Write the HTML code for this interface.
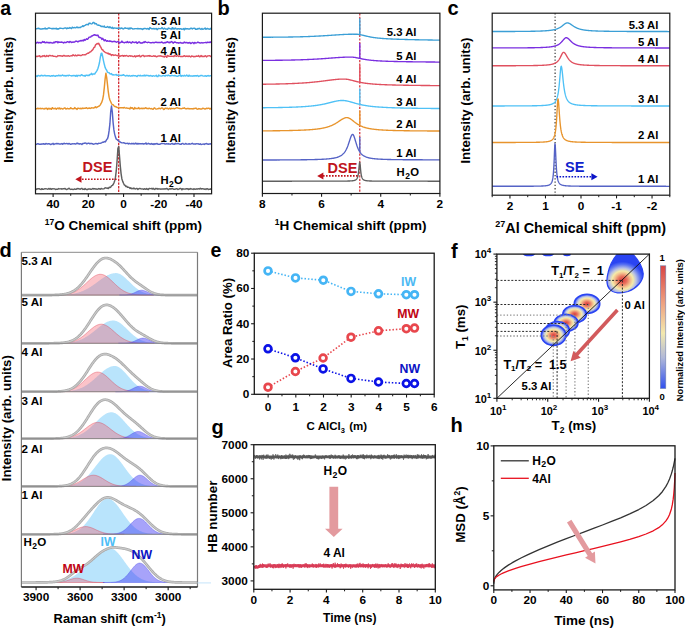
<!DOCTYPE html>
<html><head><meta charset="utf-8"><style>
html,body{margin:0;padding:0;background:#fff;}
svg{display:block;}
</style></head><body>
<svg width="685" height="628" viewBox="0 0 685 628" font-family="&apos;Liberation Sans&apos;, sans-serif" font-weight="bold">
<rect width="685" height="628" fill="#fff"/>
<text x="0.3" y="14.8" font-size="19.5" text-anchor="start" fill="#000" >a</text>
<line x1="118.7" y1="13.2" x2="118.7" y2="193.8" stroke="#d01820" stroke-width="1.2" stroke-dasharray="2.4,1.2"/>
<polyline points="35.5,28.58 36.3,28.88 37.1,28.58 37.9,28.54 38.7,28.29 39.5,28.57 40.3,29.11 41.1,28.82 41.9,29.07 42.7,28.74 43.5,28.8 44.3,28.71 45.1,27.95 45.9,28.97 46.7,28.82 47.5,28.81 48.3,27.92 49.1,27.89 49.9,28.23 50.7,28.39 51.5,28.69 52.3,28.54 53.1,28.76 53.9,28.28 54.7,28.66 55.5,28.68 56.3,28.24 57.1,29.19 57.9,28.71 58.7,28.95 59.5,28.2 60.3,28.14 61.1,28.28 61.9,28.36 62.7,28.64 63.5,28.46 64.3,28.15 65.1,27.92 65.9,28.07 66.7,28.75 67.5,27.89 68.3,28.29 69.1,28.32 69.9,27.5 70.7,28.08 71.5,28.54 72.3,27.14 73.1,27.77 73.9,27.79 74.7,27.43 75.5,27.88 76.3,27.56 77.1,26.9 77.9,27.71 78.7,27.53 79.5,27.5 80.3,27.55 81.1,26.94 81.9,26.65 82.7,25.86 83.5,26.39 84.3,25.64 85.1,25.41 85.9,24.78 86.7,24.57 87.5,24.41 88.3,24.82 89.1,23.16 89.9,23.12 90.7,23.59 91.5,23.93 92.3,23.53 93.1,22.57 93.9,22.43 94.7,23.77 95.5,23.56 96.3,23.67 97.1,24.81 97.9,25.16 98.7,25.08 99.5,25.41 100.3,25.76 101.1,26.49 101.9,26.33 102.7,26.51 103.5,26.72 104.3,26.05 105.1,27.37 105.9,27.38 106.7,27.35 107.5,26.46 108.3,27.11 109.1,27.81 109.9,26.83 110.7,27.57 111.5,28.13 112.3,27.26 113.1,28.5 113.9,28.13 114.7,27.9 115.5,28.14 116.3,28.32 117.1,28.14 117.9,28.6 118.7,27.9 119.5,28.03 120.3,28.65 121.1,28.27 121.9,27.93 122.7,28.69 123.5,28.93 124.3,28.17 125.1,27.82 125.9,28.34 126.7,28.35 127.5,28.31 128.3,29.01 129.1,28.04 129.9,28.98 130.7,27.97 131.5,28.18 132.3,28.76 133.1,28.97 133.9,28.88 134.7,28.68 135.5,28.6 136.3,28.62 137.1,28.8 137.9,28.5 138.7,28.69 139.5,28.82 140.3,28.59 141.1,28.91 141.9,28.83 142.7,29.43 143.5,28.75 144.3,28.45 145.1,28.48 145.9,28.63 146.7,29.01 147.5,28.51 148.3,28.8 149.1,29.39 149.9,27.62 150.7,28.2 151.5,28.76 152.3,28.83 153.1,28.77 153.9,28.5 154.7,28.94 155.5,28.79 156.3,28.47 157.1,29.67 157.9,28.83 158.7,28.47 159.5,28.65 160.3,28.6 161.1,28.67 161.9,27.59 162.7,28.5 163.5,29.11 164.3,28.23 165.1,28.68 165.9,29.1 166.7,29.06 167.5,29.32 168.3,28.03 169.1,28.57 169.9,28.58 170.7,28.97 171.5,29.16 172.3,27.64 173.1,29.17 173.9,28.14 174.7,29 175.5,28.12 176.3,28.8 177.1,29.22 177.9,28.67 178.7,28.81 179.5,29.06 180.3,28.79 181.1,28.7 181.9,29.36 182.7,29.16 183.5,28.62 184.3,29.85 185.1,28.28 185.9,29.11 186.7,28.64 187.5,28.8 188.3,29.03 189.1,28.84 189.9,29.01 190.7,28.13 191.5,28.14 192.3,29 193.1,28.36 193.9,28.34 194.7,28.16 195.5,29.27 196.3,29.06 197.1,29.35 197.9,28.38 198.7,28.76 199.5,28.3 200.3,29.07 201.1,29.4 201.9,28.4 202.7,29.39 203.5,29.16 204.3,28.69 205.1,27.96 205.9,29.33 206.7,28.72 207.5,28.52 208.3,28.93 209.1,28.93 209.9,29.37 210.7,28.35 211.5,29.23" fill="none" stroke="#3b9fd6" stroke-width="1.45" stroke-linejoin="round" />
<polyline points="35.5,43.11 36.3,43.09 37.1,42.43 37.9,42.2 38.7,42.91 39.5,42.54 40.3,42.54 41.1,43.06 41.9,42.37 42.7,41.55 43.5,42.32 44.3,41.72 45.1,42.8 45.9,42.59 46.7,42.21 47.5,42.45 48.3,42.78 49.1,42.47 49.9,42.97 50.7,42.41 51.5,42.85 52.3,43.02 53.1,43.06 53.9,42.13 54.7,42.75 55.5,41.63 56.3,41.94 57.1,41.57 57.9,42.79 58.7,41.85 59.5,42.33 60.3,42.25 61.1,42.3 61.9,42.06 62.7,42.38 63.5,42.99 64.3,42.27 65.1,42.45 65.9,42.62 66.7,42.11 67.5,41.66 68.3,41.92 69.1,42.55 69.9,41.42 70.7,41.82 71.5,42.43 72.3,42.3 73.1,41.94 73.9,42.22 74.7,41.91 75.5,41.31 76.3,41.09 77.1,41.39 77.9,41.94 78.7,41.25 79.5,41.01 80.3,40.95 81.1,40.51 81.9,40.93 82.7,40.33 83.5,40.76 84.3,39.43 85.1,40.25 85.9,39.56 86.7,38.68 87.5,39.36 88.3,38.49 89.1,37.17 89.9,37.14 90.7,36.99 91.5,36.05 92.3,35.95 93.1,35.41 93.9,35.02 94.7,34.73 95.5,35.22 96.3,35.22 97.1,35.56 97.9,35.07 98.7,36.86 99.5,37.62 100.3,37.53 101.1,37.99 101.9,39.44 102.7,38.37 103.5,39.65 104.3,40.77 105.1,39.7 105.9,40.6 106.7,41.31 107.5,40.69 108.3,41.13 109.1,41.42 109.9,40.82 110.7,41.27 111.5,41.52 112.3,41.83 113.1,41.56 113.9,41.57 114.7,41.31 115.5,41.63 116.3,42.19 117.1,41.92 117.9,41.58 118.7,41.63 119.5,43.09 120.3,42.5 121.1,42.33 121.9,41.05 122.7,42.38 123.5,42.35 124.3,42.86 125.1,42.37 125.9,42.19 126.7,42.44 127.5,41.46 128.3,42.68 129.1,42.41 129.9,42.01 130.7,42.84 131.5,43.05 132.3,41.76 133.1,42.07 133.9,42.47 134.7,42.44 135.5,42.21 136.3,41.98 137.1,43.25 137.9,42.81 138.7,41.92 139.5,41.86 140.3,43.1 141.1,42.82 141.9,43.16 142.7,42.76 143.5,42.08 144.3,42.55 145.1,41.57 145.9,42.15 146.7,42.43 147.5,42.67 148.3,42.17 149.1,42.42 149.9,42.66 150.7,42.63 151.5,42.74 152.3,42.57 153.1,42.36 153.9,42.81 154.7,42.51 155.5,42.16 156.3,42.24 157.1,42.5 157.9,42.46 158.7,42.57 159.5,42.51 160.3,42.58 161.1,42.46 161.9,42 162.7,42.69 163.5,42.94 164.3,42.7 165.1,42.44 165.9,42.7 166.7,42.13 167.5,41.76 168.3,42.55 169.1,42.15 169.9,42.83 170.7,42.09 171.5,41.47 172.3,42.11 173.1,43.18 173.9,42.38 174.7,41.98 175.5,42.23 176.3,42.75 177.1,42.74 177.9,42.62 178.7,43.15 179.5,42.83 180.3,42.54 181.1,42.79 181.9,43.22 182.7,42.94 183.5,42.97 184.3,42.11 185.1,42.49 185.9,42.85 186.7,42.43 187.5,42.99 188.3,42.8 189.1,42.92 189.9,42.47 190.7,43.59 191.5,43.06 192.3,42.47 193.1,42.6 193.9,43.61 194.7,42.42 195.5,42.92 196.3,42.96 197.1,42.57 197.9,42.09 198.7,42.64 199.5,42.71 200.3,43.02 201.1,42.88 201.9,42.58 202.7,42.91 203.5,42.79 204.3,42.65 205.1,42.59 205.9,42.47 206.7,42.85 207.5,42.14 208.3,42.32 209.1,42.57 209.9,41.98 210.7,42.39 211.5,41.76" fill="none" stroke="#7a2fe0" stroke-width="1.45" stroke-linejoin="round" />
<polyline points="35.5,55.95 36.3,56.45 37.1,56.45 37.9,56.19 38.7,56.12 39.5,55.64 40.3,56.95 41.1,56.42 41.9,56.65 42.7,55.84 43.5,56.12 44.3,55.46 45.1,56.51 45.9,56.57 46.7,55.42 47.5,56.16 48.3,56.43 49.1,55.46 49.9,55.43 50.7,55.73 51.5,55.91 52.3,55.59 53.1,56.16 53.9,56.25 54.7,56.4 55.5,56.42 56.3,56.73 57.1,56.59 57.9,55.58 58.7,55.9 59.5,55.67 60.3,55.65 61.1,56.04 61.9,56.07 62.7,56.26 63.5,55.4 64.3,55.53 65.1,56.01 65.9,55.92 66.7,55.86 67.5,55.95 68.3,55.65 69.1,56.22 69.9,56.06 70.7,55.86 71.5,55.6 72.3,55.77 73.1,54.71 73.9,55.38 74.7,55.76 75.5,55.09 76.3,55.74 77.1,55.67 77.9,55 78.7,55.39 79.5,55.3 80.3,55.53 81.1,55.51 81.9,55.14 82.7,54.7 83.5,54.85 84.3,54.73 85.1,54.87 85.9,54.48 86.7,53.81 87.5,53.26 88.3,53.29 89.1,52.71 89.9,52.03 90.7,51.79 91.5,50.86 92.3,50.16 93.1,49.21 93.9,47.54 94.7,47.27 95.5,44.86 96.3,44.38 97.1,43.47 97.9,44 98.7,43.2 99.5,44.82 100.3,46.38 101.1,47.71 101.9,49.54 102.7,49.75 103.5,51.02 104.3,51.58 105.1,52.3 105.9,52.67 106.7,52.86 107.5,53.52 108.3,53.21 109.1,54.41 109.9,53.76 110.7,54.48 111.5,55.42 112.3,54.63 113.1,54.87 113.9,55.45 114.7,55.1 115.5,54.86 116.3,55.37 117.1,55.58 117.9,55.7 118.7,55.16 119.5,56.24 120.3,56.25 121.1,55.63 121.9,55.77 122.7,55.53 123.5,56.31 124.3,55.48 125.1,56.07 125.9,55.63 126.7,55.57 127.5,56.16 128.3,56.43 129.1,55.91 129.9,55.66 130.7,56.28 131.5,55.94 132.3,56.1 133.1,56.61 133.9,56.46 134.7,55.81 135.5,56.95 136.3,56.04 137.1,56.37 137.9,55.8 138.7,56.05 139.5,55.37 140.3,56.81 141.1,56.65 141.9,55.61 142.7,55.5 143.5,55.46 144.3,56.6 145.1,55.94 145.9,56.11 146.7,56.01 147.5,56.09 148.3,55.71 149.1,56.16 149.9,55.57 150.7,56.13 151.5,56.29 152.3,56.36 153.1,56.08 153.9,55.81 154.7,56.24 155.5,55.99 156.3,56.82 157.1,56.5 157.9,56.14 158.7,56 159.5,55.91 160.3,55.82 161.1,56.06 161.9,56.32 162.7,56.41 163.5,56.44 164.3,57.06 165.1,55.93 165.9,56.22 166.7,57.35 167.5,55.46 168.3,56.01 169.1,56.29 169.9,56.29 170.7,56.39 171.5,56.13 172.3,56.38 173.1,56.25 173.9,56.54 174.7,55.47 175.5,55.88 176.3,56.23 177.1,55.82 177.9,55.81 178.7,56.49 179.5,55.98 180.3,56.5 181.1,56.54 181.9,56.37 182.7,56.45 183.5,56.2 184.3,55.68 185.1,56.24 185.9,56.43 186.7,56.04 187.5,56.21 188.3,56.55 189.1,55.9 189.9,56.51 190.7,57.01 191.5,56.03 192.3,56.31 193.1,56.2 193.9,56.88 194.7,56.39 195.5,56.62 196.3,55.98 197.1,56.25 197.9,56.26 198.7,55.54 199.5,56.84 200.3,56.63 201.1,55.55 201.9,56.56 202.7,56.21 203.5,56.45 204.3,56.41 205.1,55.66 205.9,56.18 206.7,56.87 207.5,56.03 208.3,55.85 209.1,55.72 209.9,55.77 210.7,56.4 211.5,56.95" fill="none" stroke="#e0505f" stroke-width="1.45" stroke-linejoin="round" />
<polyline points="35.5,75.92 36.3,75.86 37.1,76.57 37.9,75.58 38.7,75.52 39.5,75.96 40.3,75.96 41.1,75.4 41.9,75.34 42.7,75.87 43.5,75.85 44.3,75.29 45.1,75.69 45.9,75.56 46.7,75.92 47.5,75.71 48.3,75.72 49.1,75.62 49.9,76.13 50.7,76.25 51.5,75.62 52.3,76.05 53.1,75.47 53.9,75.77 54.7,76.01 55.5,76.28 56.3,75.6 57.1,75.71 57.9,75.8 58.7,75.19 59.5,75.73 60.3,75.48 61.1,75.85 61.9,75.31 62.7,75 63.5,75.72 64.3,75.8 65.1,75.5 65.9,76.02 66.7,75.59 67.5,75.47 68.3,75.85 69.1,75.11 69.9,75.42 70.7,75.65 71.5,75.96 72.3,75.59 73.1,75.75 73.9,75.39 74.7,75.73 75.5,76.21 76.3,75.35 77.1,76.43 77.9,75.33 78.7,75.56 79.5,75.59 80.3,75.88 81.1,75.04 81.9,74.71 82.7,75.65 83.5,75.69 84.3,75.59 85.1,76.27 85.9,75.34 86.7,75.3 87.5,75.48 88.3,75.2 89.1,75.57 89.9,74.41 90.7,74.59 91.5,73.31 92.3,74.63 93.1,73.94 93.9,74.06 94.7,74.04 95.5,72.64 96.3,71.69 97.1,70.37 97.9,68.45 98.7,65.87 99.5,62.52 100.3,57.49 101.1,53.54 101.9,53.3 102.7,56.78 103.5,60.81 104.3,64.3 105.1,67.41 105.9,69.14 106.7,70.24 107.5,72.23 108.3,72.65 109.1,72.72 109.9,73.9 110.7,73.98 111.5,73.57 112.3,74.94 113.1,74.66 113.9,75.01 114.7,74.89 115.5,74.87 116.3,74.45 117.1,75.44 117.9,75.16 118.7,75.11 119.5,75.39 120.3,75.33 121.1,75.59 121.9,75.24 122.7,75.39 123.5,74.66 124.3,75.31 125.1,75.73 125.9,75.98 126.7,75.39 127.5,75.49 128.3,76.12 129.1,75.45 129.9,75.84 130.7,76.2 131.5,75.62 132.3,76.05 133.1,75.37 133.9,75.71 134.7,75.61 135.5,75.69 136.3,76.06 137.1,76.52 137.9,75.43 138.7,75.46 139.5,75.86 140.3,75.3 141.1,75.87 141.9,75.9 142.7,75.59 143.5,75.89 144.3,75.14 145.1,75.98 145.9,75.15 146.7,75.46 147.5,75.52 148.3,75.57 149.1,76.03 149.9,75.75 150.7,75.58 151.5,75.92 152.3,76.3 153.1,75.73 153.9,75.87 154.7,76.18 155.5,75.84 156.3,75.28 157.1,76.64 157.9,76.54 158.7,75.03 159.5,75.73 160.3,75.9 161.1,76.1 161.9,75.99 162.7,75.65 163.5,75.37 164.3,75.79 165.1,76.13 165.9,75.36 166.7,75.39 167.5,75.75 168.3,75.06 169.1,75.67 169.9,75.6 170.7,75.92 171.5,75.51 172.3,75.45 173.1,75.62 173.9,75.75 174.7,75.53 175.5,75.77 176.3,76.04 177.1,76.2 177.9,76.38 178.7,75.49 179.5,75.62 180.3,74.88 181.1,76.46 181.9,75.51 182.7,75.76 183.5,75.96 184.3,75.28 185.1,75.94 185.9,75.77 186.7,75.12 187.5,75.88 188.3,76.21 189.1,75.1 189.9,76.07 190.7,75.85 191.5,75.95 192.3,75.94 193.1,76.25 193.9,75.7 194.7,76.09 195.5,75.63 196.3,76.04 197.1,75.49 197.9,75.74 198.7,76.4 199.5,75.94 200.3,75.72 201.1,75.37 201.9,75.5 202.7,75.85 203.5,76.12 204.3,75.94 205.1,75.97 205.9,75.77 206.7,76.27 207.5,75.64 208.3,75.59 209.1,76.1 209.9,75.81 210.7,75.68 211.5,75.58" fill="none" stroke="#4fc1f6" stroke-width="1.45" stroke-linejoin="round" />
<polyline points="35.5,108.48 36.3,108.8 37.1,108.7 37.9,108.14 38.7,108.73 39.5,108.64 40.3,108.21 41.1,108.85 41.9,108.47 42.7,108.45 43.5,108.85 44.3,109.04 45.1,108.32 45.9,108.72 46.7,108.25 47.5,109.4 48.3,108.38 49.1,108.99 49.9,108.33 50.7,108.85 51.5,109.36 52.3,107.64 53.1,108.4 53.9,108.73 54.7,108.52 55.5,108.31 56.3,109.32 57.1,108.58 57.9,107.95 58.7,108.85 59.5,107.92 60.3,108.95 61.1,108.33 61.9,108.59 62.7,108.99 63.5,108.57 64.3,108.03 65.1,107.91 65.9,108.95 66.7,108.78 67.5,108.22 68.3,108.82 69.1,108.69 69.9,108.74 70.7,107.69 71.5,108.38 72.3,108.81 73.1,108.75 73.9,108.79 74.7,107.59 75.5,108.52 76.3,108.63 77.1,109.37 77.9,108.1 78.7,108.31 79.5,108.43 80.3,108.73 81.1,108.24 81.9,108.8 82.7,108.08 83.5,108.45 84.3,108.14 85.1,108.37 85.9,108.04 86.7,107.69 87.5,108.62 88.3,108.31 89.1,107.96 89.9,108.19 90.7,108.42 91.5,107.65 92.3,107.89 93.1,108.04 93.9,107.93 94.7,107.5 95.5,106.71 96.3,107.73 97.1,107.16 97.9,106.74 98.7,106.22 99.5,105.86 100.3,104.83 101.1,103.49 101.9,101.89 102.7,99.26 103.5,94.9 104.3,87.7 105.1,79.1 105.9,73.13 106.7,77.61 107.5,84.65 108.3,91.97 109.1,97.17 109.9,99.98 110.7,101.8 111.5,103.57 112.3,104.65 113.1,104.73 113.9,105.71 114.7,106.42 115.5,106.53 116.3,107 117.1,107.45 117.9,107.64 118.7,107.83 119.5,107.84 120.3,107.63 121.1,107.81 121.9,107.79 122.7,107.84 123.5,107.95 124.3,107.44 125.1,107.98 125.9,108.13 126.7,107.83 127.5,108.2 128.3,108.42 129.1,108.2 129.9,109.03 130.7,107.36 131.5,108.25 132.3,107.68 133.1,108.7 133.9,109.32 134.7,107.48 135.5,108.44 136.3,108.59 137.1,108.3 137.9,108.62 138.7,107.62 139.5,108.74 140.3,108.58 141.1,108.46 141.9,108.25 142.7,108.69 143.5,108.29 144.3,108.56 145.1,108.3 145.9,107.68 146.7,108.48 147.5,108.57 148.3,108.77 149.1,108.19 149.9,108.49 150.7,108.73 151.5,108.56 152.3,108.96 153.1,109.23 153.9,108.19 154.7,107.83 155.5,108.83 156.3,109.08 157.1,108.86 157.9,108.82 158.7,108.31 159.5,108.28 160.3,108.86 161.1,108.21 161.9,107.89 162.7,108.18 163.5,109.44 164.3,109.24 165.1,108.3 165.9,108.29 166.7,108.63 167.5,108.28 168.3,109.02 169.1,108.53 169.9,108.16 170.7,109.03 171.5,108.35 172.3,108.64 173.1,108.55 173.9,108.45 174.7,108.68 175.5,108.31 176.3,107.9 177.1,107.77 177.9,108.11 178.7,108.29 179.5,108.56 180.3,108.59 181.1,108.77 181.9,108.61 182.7,108.28 183.5,108.31 184.3,107.81 185.1,108.51 185.9,108.75 186.7,108.76 187.5,108.53 188.3,108.51 189.1,108.91 189.9,108.58 190.7,108.84 191.5,108.78 192.3,108.65 193.1,109.05 193.9,108.37 194.7,108.45 195.5,108.29 196.3,108.29 197.1,109.14 197.9,109.21 198.7,108.59 199.5,108.78 200.3,109 201.1,108.87 201.9,109.01 202.7,108.13 203.5,108.35 204.3,108.74 205.1,109.1 205.9,108.62 206.7,108.27 207.5,108.45 208.3,108.34 209.1,108.27 209.9,109.12 210.7,108.36 211.5,108.59" fill="none" stroke="#e8942c" stroke-width="1.45" stroke-linejoin="round" />
<polyline points="35.5,144.56 36.3,144.26 37.1,143.99 37.9,143.69 38.7,144.01 39.5,144.39 40.3,144.08 41.1,144.28 41.9,143.91 42.7,144.04 43.5,143.82 44.3,144.01 45.1,144.29 45.9,143.43 46.7,143.86 47.5,143.95 48.3,143.7 49.1,143.78 49.9,144.12 50.7,144.5 51.5,144.07 52.3,143.97 53.1,143.38 53.9,144.48 54.7,143.89 55.5,143.86 56.3,143.52 57.1,143.85 57.9,143.52 58.7,143.89 59.5,144.01 60.3,143.87 61.1,143.95 61.9,143.59 62.7,144.31 63.5,143.65 64.3,143.28 65.1,143.79 65.9,143.61 66.7,143.53 67.5,143.74 68.3,143.94 69.1,143.47 69.9,143.8 70.7,144.29 71.5,144.05 72.3,143.79 73.1,143.87 73.9,143.79 74.7,143.81 75.5,144.05 76.3,143.79 77.1,143.06 77.9,143.81 78.7,143.53 79.5,144.01 80.3,143.61 81.1,143.84 81.9,144.47 82.7,143.45 83.5,143.42 84.3,143.32 85.1,143 85.9,143.16 86.7,143.85 87.5,143.53 88.3,143.13 89.1,143.24 89.9,143.88 90.7,143.43 91.5,143.54 92.3,143.74 93.1,144.03 93.9,144.19 94.7,143.87 95.5,143.56 96.3,143.53 97.1,143.99 97.9,143.82 98.7,143.2 99.5,143.36 100.3,143.2 101.1,143.01 101.9,142.68 102.7,142.22 103.5,142.21 104.3,141.55 105.1,141.95 105.9,141.06 106.7,139.51 107.5,138.78 108.3,136.06 109.1,130.71 109.9,123.94 110.7,111.76 111.5,106.06 112.3,111.99 113.1,122.63 113.9,129.9 114.7,134.35 115.5,137.13 116.3,139.19 117.1,139.57 117.9,140.47 118.7,141.01 119.5,141.71 120.3,142.03 121.1,142.59 121.9,142.76 122.7,142.85 123.5,142.76 124.3,142.94 125.1,143.47 125.9,143.49 126.7,143.35 127.5,143.27 128.3,143.91 129.1,143.27 129.9,143.7 130.7,143.89 131.5,143.47 132.3,143.84 133.1,143.25 133.9,143.95 134.7,143.71 135.5,143.16 136.3,143.89 137.1,143.41 137.9,144.11 138.7,143.5 139.5,143.67 140.3,143.82 141.1,143.64 141.9,143.83 142.7,143.58 143.5,143.98 144.3,143.77 145.1,143.84 145.9,142.92 146.7,144.15 147.5,143.8 148.3,143.24 149.1,143.83 149.9,143.95 150.7,144.15 151.5,143.47 152.3,144.3 153.1,143.77 153.9,144.58 154.7,143.78 155.5,144.04 156.3,143.72 157.1,143.48 157.9,144.18 158.7,144.12 159.5,144.32 160.3,144.11 161.1,143.66 161.9,143.32 162.7,143.64 163.5,143.64 164.3,143.59 165.1,144.04 165.9,143.96 166.7,143.77 167.5,143.91 168.3,143.81 169.1,143.93 169.9,144.1 170.7,144.16 171.5,143.65 172.3,143.39 173.1,144.31 173.9,143.9 174.7,144.21 175.5,143.35 176.3,143.76 177.1,143.88 177.9,143.41 178.7,143.71 179.5,144.1 180.3,144.21 181.1,144.37 181.9,143.6 182.7,143.43 183.5,144.04 184.3,144.17 185.1,143.94 185.9,143.46 186.7,144.12 187.5,144.13 188.3,144.05 189.1,143.72 189.9,143.97 190.7,144.13 191.5,143.7 192.3,143.3 193.1,143.98 193.9,144.03 194.7,143.88 195.5,144.16 196.3,143.7 197.1,143.86 197.9,143.79 198.7,144.06 199.5,144.38 200.3,143.8 201.1,144.53 201.9,144.36 202.7,144.13 203.5,144.07 204.3,144.44 205.1,143.83 205.9,143.85 206.7,143.55 207.5,144.03 208.3,144.31 209.1,144.05 209.9,144.02 210.7,143.82 211.5,143.94" fill="none" stroke="#5563c6" stroke-width="1.45" stroke-linejoin="round" />
<polyline points="35.5,188.63 36.3,189.41 37.1,188.95 37.9,188.73 38.7,188.84 39.5,188.82 40.3,189.35 41.1,189.41 41.9,188.65 42.7,189.37 43.5,189.35 44.3,188.89 45.1,188.61 45.9,188.84 46.7,188.87 47.5,189.18 48.3,188.96 49.1,188.43 49.9,189.14 50.7,188.59 51.5,189.35 52.3,188.69 53.1,188.85 53.9,188.8 54.7,188.89 55.5,189.47 56.3,189.33 57.1,189.25 57.9,189.16 58.7,188.57 59.5,188.9 60.3,188.88 61.1,188.75 61.9,189.22 62.7,188.82 63.5,188.83 64.3,188.72 65.1,188.4 65.9,189.24 66.7,189.47 67.5,189.1 68.3,188.74 69.1,188.19 69.9,189.09 70.7,189.42 71.5,189.13 72.3,189.33 73.1,189.5 73.9,189.38 74.7,188.89 75.5,189.36 76.3,189.27 77.1,188.53 77.9,188.89 78.7,188.56 79.5,188.97 80.3,189.19 81.1,188.66 81.9,188.35 82.7,189.4 83.5,189.1 84.3,189.44 85.1,188.56 85.9,189.3 86.7,189.61 87.5,189.59 88.3,188.88 89.1,189.02 89.9,188.88 90.7,189.23 91.5,189.23 92.3,188.92 93.1,188.45 93.9,189.1 94.7,188.7 95.5,189.03 96.3,188.9 97.1,189.3 97.9,189.13 98.7,188.6 99.5,188.82 100.3,189.23 101.1,188.47 101.9,188.73 102.7,188.91 103.5,188.87 104.3,188.57 105.1,187.9 105.9,187.82 106.7,188.17 107.5,188.07 108.3,188.57 109.1,187.26 109.9,187.6 110.7,187.09 111.5,185.81 112.3,185.37 113.1,184.66 113.9,182.96 114.7,180.75 115.5,177.18 116.3,170.46 117.1,160.72 117.9,148.61 118.7,146.48 119.5,155.95 120.3,166.11 121.1,173.81 121.9,178.92 122.7,181.39 123.5,183.27 124.3,184.86 125.1,185.43 125.9,186.56 126.7,186.31 127.5,187.3 128.3,187.24 129.1,187.38 129.9,188.38 130.7,187.71 131.5,188.66 132.3,188.43 133.1,188.77 133.9,188.08 134.7,188.83 135.5,188.97 136.3,188.53 137.1,188.57 137.9,189.42 138.7,188.74 139.5,188.58 140.3,188.54 141.1,188.91 141.9,188.89 142.7,188.86 143.5,189.37 144.3,188.74 145.1,189.01 145.9,189.33 146.7,188.57 147.5,189.22 148.3,189.48 149.1,188.49 149.9,188.58 150.7,188.61 151.5,188.36 152.3,189.09 153.1,188.37 153.9,189.12 154.7,189.43 155.5,188.47 156.3,188.88 157.1,188.38 157.9,189.23 158.7,188.76 159.5,188.91 160.3,189.02 161.1,189.18 161.9,188.9 162.7,189.02 163.5,188.84 164.3,189.05 165.1,188.65 165.9,189.04 166.7,188.42 167.5,188.87 168.3,189.63 169.1,189.06 169.9,188.64 170.7,189.12 171.5,188.73 172.3,188.52 173.1,188.81 173.9,189.28 174.7,189.17 175.5,189.02 176.3,188.76 177.1,188.71 177.9,189.48 178.7,189.13 179.5,188.75 180.3,188.39 181.1,188.62 181.9,189.84 182.7,188.7 183.5,189.03 184.3,189.13 185.1,189.01 185.9,188.97 186.7,188.63 187.5,188.73 188.3,189.6 189.1,188.83 189.9,189.33 190.7,188.53 191.5,188.98 192.3,189.15 193.1,189.4 193.9,188.72 194.7,189.26 195.5,189.19 196.3,188.84 197.1,189.22 197.9,188.79 198.7,188.82 199.5,189.07 200.3,188.22 201.1,189.04 201.9,188.76 202.7,188.61 203.5,188.94 204.3,189.32 205.1,188.95 205.9,189.48 206.7,188.71 207.5,188.66 208.3,189.57 209.1,189.2 209.9,189.38 210.7,188.82 211.5,189.33" fill="none" stroke="#5f5f5f" stroke-width="1.45" stroke-linejoin="round" />
<rect x="35.5" y="13.2" width="176.1" height="180.6" fill="none" stroke="#1a1a1a" stroke-width="1.2"/>
<line x1="53.11" y1="193.8" x2="53.11" y2="197" stroke="#1a1a1a" stroke-width="1.1" />
<text x="53.11" y="208" font-size="11.8" text-anchor="middle" fill="#000" >40</text>
<line x1="88.33" y1="193.8" x2="88.33" y2="197" stroke="#1a1a1a" stroke-width="1.1" />
<text x="88.33" y="208" font-size="11.8" text-anchor="middle" fill="#000" >20</text>
<line x1="123.55" y1="193.8" x2="123.55" y2="197" stroke="#1a1a1a" stroke-width="1.1" />
<text x="123.55" y="208" font-size="11.8" text-anchor="middle" fill="#000" >0</text>
<line x1="158.77" y1="193.8" x2="158.77" y2="197" stroke="#1a1a1a" stroke-width="1.1" />
<text x="158.77" y="208" font-size="11.8" text-anchor="middle" fill="#000" >-20</text>
<line x1="193.99" y1="193.8" x2="193.99" y2="197" stroke="#1a1a1a" stroke-width="1.1" />
<text x="193.99" y="208" font-size="11.8" text-anchor="middle" fill="#000" >-40</text>
<line x1="70.72" y1="193.8" x2="70.72" y2="195.8" stroke="#1a1a1a" stroke-width="1.0" />
<line x1="105.94" y1="193.8" x2="105.94" y2="195.8" stroke="#1a1a1a" stroke-width="1.0" />
<line x1="141.16" y1="193.8" x2="141.16" y2="195.8" stroke="#1a1a1a" stroke-width="1.0" />
<line x1="176.38" y1="193.8" x2="176.38" y2="195.8" stroke="#1a1a1a" stroke-width="1.0" />
<text x="180.8" y="24.6" font-size="11.3" text-anchor="end" fill="#000" >5.3 Al</text>
<text x="180.8" y="39" font-size="11.3" text-anchor="end" fill="#000" >5 Al</text>
<text x="180.8" y="54.8" font-size="11.3" text-anchor="end" fill="#000" >4 Al</text>
<text x="180.8" y="73.9" font-size="11.3" text-anchor="end" fill="#000" >3 Al</text>
<text x="180.8" y="106" font-size="11.3" text-anchor="end" fill="#000" >2 Al</text>
<text x="180.8" y="142.3" font-size="11.3" text-anchor="end" fill="#000" >1 Al</text>
<text x="182.8" y="184.4" font-size="11.3" text-anchor="end" fill="#000" >H<tspan font-size="8.5" dx="0.4" dy="2.5">2</tspan><tspan dx="0.3" dy="-2.5">O</tspan></text>
<text x="82.6" y="171.8" font-size="14.5" text-anchor="start" fill="#c0141c" >DSE</text>
<line x1="82" y1="179.2" x2="118" y2="179.2" stroke="#c0141c" stroke-width="1.6" stroke-dasharray="1.6,1.4"/>
<polygon points="75.3,179.2 81.5,175.7 81.5,182.7" fill="#c0141c" stroke="none" stroke-width="0" />
<text transform="translate(13.2,99.8) rotate(-90)" x="0" y="0" font-size="13.2" text-anchor="middle" fill="#000" >Intensity (arb. units)</text>
<text x="44.7" y="229.6" font-size="13.5" text-anchor="start" fill="#000" ><tspan font-size="8.5" dy="-5">17</tspan><tspan dy="5">O Chemical shift (ppm)</tspan></text>
<text x="217.4" y="14.6" font-size="20" text-anchor="start" fill="#000" >b</text>
<line x1="359.8" y1="13.2" x2="359.8" y2="193.5" stroke="#d01820" stroke-width="1.1" stroke-dasharray="2.2,1.4"/>
<polyline points="262.4,37.23 262.9,37.23 263.4,37.23 263.9,37.23 264.4,37.23 264.9,37.22 265.4,37.22 265.9,37.22 266.4,37.22 266.9,37.22 267.4,37.22 267.9,37.22 268.4,37.22 268.9,37.21 269.4,37.21 269.9,37.21 270.4,37.21 270.9,37.21 271.4,37.2 271.9,37.2 272.4,37.2 272.9,37.2 273.4,37.19 273.9,37.19 274.4,37.19 274.9,37.18 275.4,37.18 275.9,37.18 276.4,37.17 276.9,37.17 277.4,37.17 277.9,37.16 278.4,37.16 278.9,37.15 279.4,37.15 279.9,37.14 280.4,37.14 280.9,37.13 281.4,37.13 281.9,37.12 282.4,37.12 282.9,37.11 283.4,37.11 283.9,37.1 284.4,37.1 284.9,37.09 285.4,37.08 285.9,37.08 286.4,37.07 286.9,37.06 287.4,37.06 287.9,37.05 288.4,37.04 288.9,37.03 289.4,37.02 289.9,37.02 290.4,37.01 290.9,37 291.4,36.99 291.9,36.98 292.4,36.97 292.9,36.96 293.4,36.95 293.9,36.94 294.4,36.93 294.9,36.92 295.4,36.91 295.9,36.9 296.4,36.89 296.9,36.88 297.4,36.86 297.9,36.85 298.4,36.84 298.9,36.83 299.4,36.81 299.9,36.8 300.4,36.79 300.9,36.77 301.4,36.76 301.9,36.74 302.4,36.73 302.9,36.71 303.4,36.7 303.9,36.68 304.4,36.67 304.9,36.65 305.4,36.63 305.9,36.62 306.4,36.6 306.9,36.58 307.4,36.56 307.9,36.55 308.4,36.53 308.9,36.51 309.4,36.49 309.9,36.47 310.4,36.45 310.9,36.43 311.4,36.41 311.9,36.38 312.4,36.36 312.9,36.34 313.4,36.32 313.9,36.3 314.4,36.27 314.9,36.25 315.4,36.22 315.9,36.2 316.4,36.17 316.9,36.15 317.4,36.12 317.9,36.1 318.4,36.07 318.9,36.04 319.4,36.02 319.9,35.99 320.4,35.96 320.9,35.93 321.4,35.9 321.9,35.88 322.4,35.85 322.9,35.82 323.4,35.79 323.9,35.76 324.4,35.72 324.9,35.69 325.4,35.66 325.9,35.63 326.4,35.6 326.9,35.57 327.4,35.53 327.9,35.5 328.4,35.47 328.9,35.43 329.4,35.4 329.9,35.37 330.4,35.33 330.9,35.3 331.4,35.27 331.9,35.23 332.4,35.2 332.9,35.16 333.4,35.13 333.9,35.1 334.4,35.06 334.9,35.03 335.4,34.99 335.9,34.96 336.4,34.93 336.9,34.89 337.4,34.86 337.9,34.83 338.4,34.8 338.9,34.76 339.4,34.73 339.9,34.7 340.4,34.67 340.9,34.64 341.4,34.61 341.9,34.58 342.4,34.55 342.9,34.53 343.4,34.5 343.9,34.48 344.4,34.45 344.9,34.43 345.4,34.4 345.9,34.38 346.4,34.36 346.9,34.34 347.4,34.32 347.9,34.3 348.4,34.29 348.9,34.27 349.4,34.26 349.9,34.25 350.4,34.24 350.9,34.23 351.4,34.22 351.9,34.21 352.4,34.21 352.9,34.2 353.4,34.2 353.9,34.2 354.4,34.2 354.9,34.2 355.4,34.21 355.9,34.21 356.4,34.22 356.9,34.25 357.4,34.28 357.9,34.33 358.4,34.39 358.9,34.46 359.4,34.54 359.9,34.62 360.4,34.72 360.9,34.82 361.4,34.93 361.9,35.04 362.4,35.16 362.9,35.28 363.4,35.4 363.9,35.52 364.4,35.65 364.9,35.77 365.4,35.89 365.9,36.01 366.4,36.13 366.9,36.24 367.4,36.35 367.9,36.46 368.4,36.57 368.9,36.68 369.4,36.78 369.9,36.88 370.4,36.97 370.9,37.06 371.4,37.15 371.9,37.24 372.4,37.32 372.9,37.4 373.4,37.47 373.9,37.55 374.4,37.62 374.9,37.69 375.4,37.75 375.9,37.82 376.4,37.88 376.9,37.94 377.4,37.99 377.9,38.05 378.4,38.1 378.9,38.15 379.4,38.2 379.9,38.25 380.4,38.29 380.9,38.33 381.4,38.38 381.9,38.42 382.4,38.46 382.9,38.5 383.4,38.53 383.9,38.57 384.4,38.6 384.9,38.64 385.4,38.67 385.9,38.7 386.4,38.73 386.9,38.76 387.4,38.79 387.9,38.82 388.4,38.85 388.9,38.87 389.4,38.9 389.9,38.92 390.4,38.95 390.9,38.97 391.4,39 391.9,39.02 392.4,39.04 392.9,39.06 393.4,39.08 393.9,39.1 394.4,39.12 394.9,39.14 395.4,39.16 395.9,39.18 396.4,39.2 396.9,39.22 397.4,39.24 397.9,39.25 398.4,39.27 398.9,39.29 399.4,39.3 399.9,39.32 400.4,39.34 400.9,39.35 401.4,39.37 401.9,39.38 402.4,39.4 402.9,39.41 403.4,39.43 403.9,39.44 404.4,39.45 404.9,39.47 405.4,39.48 405.9,39.49 406.4,39.51 406.9,39.52 407.4,39.53 407.9,39.55 408.4,39.56 408.9,39.57 409.4,39.58 409.9,39.6 410.4,39.61 410.9,39.62 411.4,39.63 411.9,39.64 412.4,39.65 412.9,39.66 413.4,39.68 413.9,39.69 414.4,39.7 414.9,39.71 415.4,39.72 415.9,39.73 416.4,39.74 416.9,39.75 417.4,39.76 417.9,39.77 418.4,39.78 418.9,39.79 419.4,39.8 419.9,39.81 420.4,39.82 420.9,39.83 421.4,39.84 421.9,39.85 422.4,39.86 422.9,39.87 423.4,39.88 423.9,39.89 424.4,39.9 424.9,39.91 425.4,39.92 425.9,39.93 426.4,39.93 426.9,39.94 427.4,39.95 427.9,39.96 428.4,39.97 428.9,39.98 429.4,39.99 429.9,40 430.4,40.01 430.9,40.01 431.4,40.02 431.9,40.03 432.4,40.04 432.9,40.05 433.4,40.06 433.9,40.07 434.4,40.07 434.9,40.08 435.4,40.09 435.9,40.1 436.4,40.11 436.9,40.12 437.4,40.12 437.9,40.13 438.4,40.14 438.9,40.15 439.4,40.16 439.9,40.16" fill="none" stroke="#3b9fd6" stroke-width="1.35" stroke-linejoin="round" />
<line x1="359.8" y1="34.61" x2="359.8" y2="18.31" stroke="#3b9fd6" stroke-width="1.4" />
<polyline points="262.4,60.39 262.9,60.39 263.4,60.39 263.9,60.38 264.4,60.38 264.9,60.38 265.4,60.38 265.9,60.37 266.4,60.37 266.9,60.37 267.4,60.36 267.9,60.36 268.4,60.36 268.9,60.35 269.4,60.35 269.9,60.34 270.4,60.34 270.9,60.34 271.4,60.33 271.9,60.33 272.4,60.32 272.9,60.32 273.4,60.31 273.9,60.31 274.4,60.3 274.9,60.3 275.4,60.29 275.9,60.29 276.4,60.28 276.9,60.28 277.4,60.27 277.9,60.27 278.4,60.26 278.9,60.25 279.4,60.25 279.9,60.24 280.4,60.23 280.9,60.23 281.4,60.22 281.9,60.21 282.4,60.21 282.9,60.2 283.4,60.19 283.9,60.18 284.4,60.17 284.9,60.17 285.4,60.16 285.9,60.15 286.4,60.14 286.9,60.13 287.4,60.12 287.9,60.11 288.4,60.1 288.9,60.09 289.4,60.08 289.9,60.07 290.4,60.06 290.9,60.05 291.4,60.04 291.9,60.03 292.4,60.02 292.9,60.01 293.4,60 293.9,59.98 294.4,59.97 294.9,59.96 295.4,59.95 295.9,59.93 296.4,59.92 296.9,59.91 297.4,59.89 297.9,59.88 298.4,59.86 298.9,59.85 299.4,59.83 299.9,59.82 300.4,59.8 300.9,59.78 301.4,59.77 301.9,59.75 302.4,59.73 302.9,59.72 303.4,59.7 303.9,59.68 304.4,59.66 304.9,59.64 305.4,59.62 305.9,59.6 306.4,59.58 306.9,59.56 307.4,59.54 307.9,59.52 308.4,59.5 308.9,59.48 309.4,59.45 309.9,59.43 310.4,59.41 310.9,59.38 311.4,59.36 311.9,59.33 312.4,59.31 312.9,59.28 313.4,59.26 313.9,59.23 314.4,59.2 314.9,59.17 315.4,59.15 315.9,59.12 316.4,59.09 316.9,59.06 317.4,59.03 317.9,59 318.4,58.97 318.9,58.94 319.4,58.91 319.9,58.87 320.4,58.84 320.9,58.81 321.4,58.78 321.9,58.74 322.4,58.71 322.9,58.67 323.4,58.64 323.9,58.6 324.4,58.57 324.9,58.53 325.4,58.49 325.9,58.46 326.4,58.42 326.9,58.38 327.4,58.35 327.9,58.31 328.4,58.27 328.9,58.23 329.4,58.19 329.9,58.16 330.4,58.12 330.9,58.08 331.4,58.04 331.9,58 332.4,57.96 332.9,57.93 333.4,57.89 333.9,57.85 334.4,57.81 334.9,57.78 335.4,57.74 335.9,57.7 336.4,57.67 336.9,57.63 337.4,57.6 337.9,57.56 338.4,57.53 338.9,57.5 339.4,57.47 339.9,57.44 340.4,57.41 340.9,57.38 341.4,57.35 341.9,57.32 342.4,57.3 342.9,57.27 343.4,57.25 343.9,57.23 344.4,57.21 344.9,57.19 345.4,57.17 345.9,57.16 346.4,57.14 346.9,57.13 347.4,57.12 347.9,57.11 348.4,57.11 348.9,57.1 349.4,57.1 349.9,57.1 350.4,57.1 350.9,57.1 351.4,57.11 351.9,57.12 352.4,57.15 352.9,57.19 353.4,57.24 353.9,57.3 354.4,57.37 354.9,57.45 355.4,57.53 355.9,57.62 356.4,57.72 356.9,57.82 357.4,57.92 357.9,58.03 358.4,58.13 358.9,58.24 359.4,58.35 359.9,58.45 360.4,58.56 360.9,58.67 361.4,58.77 361.9,58.87 362.4,58.97 362.9,59.07 363.4,59.16 363.9,59.25 364.4,59.34 364.9,59.43 365.4,59.51 365.9,59.59 366.4,59.67 366.9,59.74 367.4,59.81 367.9,59.88 368.4,59.95 368.9,60.01 369.4,60.07 369.9,60.13 370.4,60.19 370.9,60.24 371.4,60.3 371.9,60.35 372.4,60.39 372.9,60.44 373.4,60.49 373.9,60.53 374.4,60.57 374.9,60.61 375.4,60.65 375.9,60.69 376.4,60.72 376.9,60.76 377.4,60.79 377.9,60.82 378.4,60.85 378.9,60.88 379.4,60.91 379.9,60.94 380.4,60.97 380.9,60.99 381.4,61.02 381.9,61.04 382.4,61.07 382.9,61.09 383.4,61.11 383.9,61.13 384.4,61.15 384.9,61.17 385.4,61.19 385.9,61.21 386.4,61.23 386.9,61.25 387.4,61.27 387.9,61.28 388.4,61.3 388.9,61.31 389.4,61.33 389.9,61.35 390.4,61.36 390.9,61.38 391.4,61.39 391.9,61.4 392.4,61.42 392.9,61.43 393.4,61.44 393.9,61.46 394.4,61.47 394.9,61.48 395.4,61.49 395.9,61.5 396.4,61.52 396.9,61.53 397.4,61.54 397.9,61.55 398.4,61.56 398.9,61.57 399.4,61.58 399.9,61.59 400.4,61.6 400.9,61.61 401.4,61.62 401.9,61.63 402.4,61.64 402.9,61.64 403.4,61.65 403.9,61.66 404.4,61.67 404.9,61.68 405.4,61.69 405.9,61.7 406.4,61.7 406.9,61.71 407.4,61.72 407.9,61.73 408.4,61.73 408.9,61.74 409.4,61.75 409.9,61.76 410.4,61.76 410.9,61.77 411.4,61.78 411.9,61.78 412.4,61.79 412.9,61.8 413.4,61.81 413.9,61.81 414.4,61.82 414.9,61.82 415.4,61.83 415.9,61.84 416.4,61.84 416.9,61.85 417.4,61.86 417.9,61.86 418.4,61.87 418.9,61.87 419.4,61.88 419.9,61.89 420.4,61.89 420.9,61.9 421.4,61.9 421.9,61.91 422.4,61.92 422.9,61.92 423.4,61.93 423.9,61.93 424.4,61.94 424.9,61.94 425.4,61.95 425.9,61.95 426.4,61.96 426.9,61.96 427.4,61.97 427.9,61.97 428.4,61.98 428.9,61.98 429.4,61.99 429.9,62 430.4,62 430.9,62.01 431.4,62.01 431.9,62.02 432.4,62.02 432.9,62.02 433.4,62.03 433.9,62.03 434.4,62.04 434.9,62.04 435.4,62.05 435.9,62.05 436.4,62.06 436.9,62.06 437.4,62.07 437.9,62.07 438.4,62.08 438.9,62.08 439.4,62.09 439.9,62.09" fill="none" stroke="#7a2fe0" stroke-width="1.35" stroke-linejoin="round" />
<line x1="359.8" y1="58.43" x2="359.8" y2="43.13" stroke="#7a2fe0" stroke-width="1.4" />
<polyline points="262.4,84.25 262.9,84.24 263.4,84.24 263.9,84.23 264.4,84.23 264.9,84.22 265.4,84.21 265.9,84.21 266.4,84.2 266.9,84.19 267.4,84.18 267.9,84.18 268.4,84.17 268.9,84.16 269.4,84.15 269.9,84.15 270.4,84.14 270.9,84.13 271.4,84.12 271.9,84.11 272.4,84.1 272.9,84.1 273.4,84.09 273.9,84.08 274.4,84.07 274.9,84.06 275.4,84.05 275.9,84.04 276.4,84.03 276.9,84.02 277.4,84 277.9,83.99 278.4,83.98 278.9,83.97 279.4,83.96 279.9,83.95 280.4,83.93 280.9,83.92 281.4,83.91 281.9,83.9 282.4,83.88 282.9,83.87 283.4,83.85 283.9,83.84 284.4,83.83 284.9,83.81 285.4,83.8 285.9,83.78 286.4,83.76 286.9,83.75 287.4,83.73 287.9,83.71 288.4,83.7 288.9,83.68 289.4,83.66 289.9,83.64 290.4,83.62 290.9,83.6 291.4,83.58 291.9,83.56 292.4,83.54 292.9,83.52 293.4,83.5 293.9,83.48 294.4,83.46 294.9,83.43 295.4,83.41 295.9,83.39 296.4,83.36 296.9,83.34 297.4,83.31 297.9,83.29 298.4,83.26 298.9,83.23 299.4,83.2 299.9,83.18 300.4,83.15 300.9,83.12 301.4,83.09 301.9,83.06 302.4,83.02 302.9,82.99 303.4,82.96 303.9,82.93 304.4,82.89 304.9,82.86 305.4,82.82 305.9,82.78 306.4,82.75 306.9,82.71 307.4,82.67 307.9,82.63 308.4,82.59 308.9,82.55 309.4,82.51 309.9,82.47 310.4,82.42 310.9,82.38 311.4,82.33 311.9,82.29 312.4,82.24 312.9,82.19 313.4,82.14 313.9,82.09 314.4,82.04 314.9,81.99 315.4,81.94 315.9,81.89 316.4,81.83 316.9,81.78 317.4,81.72 317.9,81.66 318.4,81.61 318.9,81.55 319.4,81.49 319.9,81.43 320.4,81.37 320.9,81.31 321.4,81.25 321.9,81.18 322.4,81.12 322.9,81.06 323.4,80.99 323.9,80.93 324.4,80.86 324.9,80.8 325.4,80.73 325.9,80.67 326.4,80.6 326.9,80.54 327.4,80.47 327.9,80.4 328.4,80.34 328.9,80.27 329.4,80.21 329.9,80.14 330.4,80.08 330.9,80.02 331.4,79.96 331.9,79.89 332.4,79.83 332.9,79.78 333.4,79.72 333.9,79.66 334.4,79.61 334.9,79.56 335.4,79.51 335.9,79.46 336.4,79.41 336.9,79.37 337.4,79.33 337.9,79.29 338.4,79.25 338.9,79.22 339.4,79.19 339.9,79.16 340.4,79.14 340.9,79.12 341.4,79.1 341.9,79.09 342.4,79.08 342.9,79.07 343.4,79.07 343.9,79.07 344.4,79.07 344.9,79.09 345.4,79.12 345.9,79.16 346.4,79.22 346.9,79.28 347.4,79.36 347.9,79.44 348.4,79.53 348.9,79.63 349.4,79.74 349.9,79.85 350.4,79.97 350.9,80.09 351.4,80.21 351.9,80.34 352.4,80.47 352.9,80.6 353.4,80.73 353.9,80.86 354.4,80.99 354.9,81.11 355.4,81.24 355.9,81.37 356.4,81.49 356.9,81.61 357.4,81.73 357.9,81.84 358.4,81.95 358.9,82.06 359.4,82.17 359.9,82.27 360.4,82.37 360.9,82.47 361.4,82.56 361.9,82.65 362.4,82.74 362.9,82.82 363.4,82.9 363.9,82.98 364.4,83.06 364.9,83.13 365.4,83.21 365.9,83.27 366.4,83.34 366.9,83.4 367.4,83.47 367.9,83.53 368.4,83.58 368.9,83.64 369.4,83.69 369.9,83.74 370.4,83.79 370.9,83.84 371.4,83.89 371.9,83.93 372.4,83.98 372.9,84.02 373.4,84.06 373.9,84.1 374.4,84.14 374.9,84.18 375.4,84.21 375.9,84.25 376.4,84.28 376.9,84.31 377.4,84.34 377.9,84.37 378.4,84.4 378.9,84.43 379.4,84.46 379.9,84.49 380.4,84.51 380.9,84.54 381.4,84.56 381.9,84.59 382.4,84.61 382.9,84.63 383.4,84.65 383.9,84.67 384.4,84.7 384.9,84.72 385.4,84.74 385.9,84.75 386.4,84.77 386.9,84.79 387.4,84.81 387.9,84.83 388.4,84.84 388.9,84.86 389.4,84.88 389.9,84.89 390.4,84.91 390.9,84.92 391.4,84.94 391.9,84.95 392.4,84.97 392.9,84.98 393.4,84.99 393.9,85.01 394.4,85.02 394.9,85.03 395.4,85.04 395.9,85.05 396.4,85.07 396.9,85.08 397.4,85.09 397.9,85.1 398.4,85.11 398.9,85.12 399.4,85.13 399.9,85.14 400.4,85.15 400.9,85.16 401.4,85.17 401.9,85.18 402.4,85.19 402.9,85.2 403.4,85.21 403.9,85.22 404.4,85.23 404.9,85.24 405.4,85.24 405.9,85.25 406.4,85.26 406.9,85.27 407.4,85.28 407.9,85.28 408.4,85.29 408.9,85.3 409.4,85.31 409.9,85.31 410.4,85.32 410.9,85.33 411.4,85.34 411.9,85.34 412.4,85.35 412.9,85.36 413.4,85.36 413.9,85.37 414.4,85.38 414.9,85.38 415.4,85.39 415.9,85.39 416.4,85.4 416.9,85.41 417.4,85.41 417.9,85.42 418.4,85.42 418.9,85.43 419.4,85.44 419.9,85.44 420.4,85.45 420.9,85.45 421.4,85.46 421.9,85.46 422.4,85.47 422.9,85.47 423.4,85.48 423.9,85.48 424.4,85.49 424.9,85.5 425.4,85.5 425.9,85.51 426.4,85.51 426.9,85.52 427.4,85.52 427.9,85.52 428.4,85.53 428.9,85.53 429.4,85.54 429.9,85.54 430.4,85.55 430.9,85.55 431.4,85.56 431.9,85.56 432.4,85.57 432.9,85.57 433.4,85.58 433.9,85.58 434.4,85.58 434.9,85.59 435.4,85.59 435.9,85.6 436.4,85.6 436.9,85.6 437.4,85.61 437.9,85.61 438.4,85.62 438.9,85.62 439.4,85.63 439.9,85.63" fill="none" stroke="#e0505f" stroke-width="1.35" stroke-linejoin="round" />
<line x1="359.8" y1="82.25" x2="359.8" y2="65.25" stroke="#e0505f" stroke-width="1.4" />
<polyline points="262.4,107.73 262.9,107.72 263.4,107.72 263.9,107.72 264.4,107.71 264.9,107.71 265.4,107.7 265.9,107.7 266.4,107.69 266.9,107.69 267.4,107.68 267.9,107.68 268.4,107.67 268.9,107.67 269.4,107.66 269.9,107.66 270.4,107.65 270.9,107.65 271.4,107.64 271.9,107.63 272.4,107.63 272.9,107.62 273.4,107.62 273.9,107.61 274.4,107.6 274.9,107.59 275.4,107.59 275.9,107.58 276.4,107.57 276.9,107.56 277.4,107.56 277.9,107.55 278.4,107.54 278.9,107.53 279.4,107.52 279.9,107.51 280.4,107.5 280.9,107.5 281.4,107.49 281.9,107.48 282.4,107.47 282.9,107.45 283.4,107.44 283.9,107.43 284.4,107.42 284.9,107.41 285.4,107.4 285.9,107.39 286.4,107.37 286.9,107.36 287.4,107.35 287.9,107.33 288.4,107.32 288.9,107.31 289.4,107.29 289.9,107.28 290.4,107.26 290.9,107.24 291.4,107.23 291.9,107.21 292.4,107.19 292.9,107.18 293.4,107.16 293.9,107.14 294.4,107.12 294.9,107.1 295.4,107.08 295.9,107.06 296.4,107.04 296.9,107.02 297.4,106.99 297.9,106.97 298.4,106.95 298.9,106.92 299.4,106.9 299.9,106.87 300.4,106.84 300.9,106.82 301.4,106.79 301.9,106.76 302.4,106.73 302.9,106.7 303.4,106.67 303.9,106.63 304.4,106.6 304.9,106.56 305.4,106.53 305.9,106.49 306.4,106.45 306.9,106.41 307.4,106.37 307.9,106.33 308.4,106.29 308.9,106.25 309.4,106.2 309.9,106.15 310.4,106.1 310.9,106.06 311.4,106 311.9,105.95 312.4,105.9 312.9,105.84 313.4,105.78 313.9,105.72 314.4,105.66 314.9,105.6 315.4,105.53 315.9,105.46 316.4,105.39 316.9,105.32 317.4,105.25 317.9,105.17 318.4,105.09 318.9,105.01 319.4,104.93 319.9,104.85 320.4,104.76 320.9,104.67 321.4,104.58 321.9,104.48 322.4,104.38 322.9,104.28 323.4,104.18 323.9,104.08 324.4,103.97 324.9,103.86 325.4,103.75 325.9,103.63 326.4,103.51 326.9,103.4 327.4,103.28 327.9,103.15 328.4,103.03 328.9,102.9 329.4,102.78 329.9,102.65 330.4,102.52 330.9,102.39 331.4,102.27 331.9,102.14 332.4,102.01 332.9,101.89 333.4,101.76 333.9,101.64 334.4,101.52 334.9,101.41 335.4,101.3 335.9,101.19 336.4,101.09 336.9,101 337.4,100.91 337.9,100.82 338.4,100.75 338.9,100.68 339.4,100.63 339.9,100.58 340.4,100.54 340.9,100.5 341.4,100.48 341.9,100.47 342.4,100.47 342.9,100.48 343.4,100.5 343.9,100.54 344.4,100.58 344.9,100.64 345.4,100.71 345.9,100.79 346.4,100.88 346.9,100.98 347.4,101.08 347.9,101.2 348.4,101.31 348.9,101.44 349.4,101.57 349.9,101.71 350.4,101.84 350.9,101.99 351.4,102.13 351.9,102.27 352.4,102.42 352.9,102.57 353.4,102.71 353.9,102.86 354.4,103 354.9,103.14 355.4,103.28 355.9,103.42 356.4,103.56 356.9,103.69 357.4,103.83 357.9,103.95 358.4,104.08 358.9,104.2 359.4,104.32 359.9,104.44 360.4,104.55 360.9,104.66 361.4,104.77 361.9,104.88 362.4,104.98 362.9,105.08 363.4,105.17 363.9,105.26 364.4,105.35 364.9,105.44 365.4,105.53 365.9,105.61 366.4,105.69 366.9,105.76 367.4,105.84 367.9,105.91 368.4,105.98 368.9,106.05 369.4,106.11 369.9,106.18 370.4,106.24 370.9,106.3 371.4,106.35 371.9,106.41 372.4,106.46 372.9,106.52 373.4,106.57 373.9,106.62 374.4,106.66 374.9,106.71 375.4,106.76 375.9,106.8 376.4,106.84 376.9,106.88 377.4,106.92 377.9,106.96 378.4,107 378.9,107.04 379.4,107.07 379.9,107.11 380.4,107.14 380.9,107.17 381.4,107.2 381.9,107.23 382.4,107.26 382.9,107.29 383.4,107.32 383.9,107.35 384.4,107.38 384.9,107.4 385.4,107.43 385.9,107.45 386.4,107.48 386.9,107.5 387.4,107.52 387.9,107.55 388.4,107.57 388.9,107.59 389.4,107.61 389.9,107.63 390.4,107.65 390.9,107.67 391.4,107.69 391.9,107.71 392.4,107.72 392.9,107.74 393.4,107.76 393.9,107.78 394.4,107.79 394.9,107.81 395.4,107.83 395.9,107.84 396.4,107.86 396.9,107.87 397.4,107.88 397.9,107.9 398.4,107.91 398.9,107.93 399.4,107.94 399.9,107.95 400.4,107.97 400.9,107.98 401.4,107.99 401.9,108 402.4,108.01 402.9,108.03 403.4,108.04 403.9,108.05 404.4,108.06 404.9,108.07 405.4,108.08 405.9,108.09 406.4,108.1 406.9,108.11 407.4,108.12 407.9,108.13 408.4,108.14 408.9,108.15 409.4,108.16 409.9,108.17 410.4,108.18 410.9,108.19 411.4,108.2 411.9,108.2 412.4,108.21 412.9,108.22 413.4,108.23 413.9,108.24 414.4,108.24 414.9,108.25 415.4,108.26 415.9,108.27 416.4,108.27 416.9,108.28 417.4,108.29 417.9,108.3 418.4,108.3 418.9,108.31 419.4,108.32 419.9,108.32 420.4,108.33 420.9,108.34 421.4,108.34 421.9,108.35 422.4,108.36 422.9,108.36 423.4,108.37 423.9,108.37 424.4,108.38 424.9,108.39 425.4,108.39 425.9,108.4 426.4,108.4 426.9,108.41 427.4,108.42 427.9,108.42 428.4,108.43 428.9,108.43 429.4,108.44 429.9,108.44 430.4,108.45 430.9,108.45 431.4,108.46 431.9,108.46 432.4,108.47 432.9,108.47 433.4,108.48 433.9,108.48 434.4,108.49 434.9,108.49 435.4,108.5 435.9,108.5 436.4,108.51 436.9,108.51 437.4,108.51 437.9,108.52 438.4,108.52 438.9,108.53 439.4,108.53 439.9,108.54" fill="none" stroke="#4fc1f6" stroke-width="1.35" stroke-linejoin="round" />
<line x1="359.8" y1="104.42" x2="359.8" y2="88.42" stroke="#4fc1f6" stroke-width="1.4" />
<polyline points="262.4,130.89 262.9,130.88 263.4,130.88 263.9,130.87 264.4,130.87 264.9,130.87 265.4,130.86 265.9,130.86 266.4,130.85 266.9,130.85 267.4,130.85 267.9,130.84 268.4,130.84 268.9,130.83 269.4,130.83 269.9,130.82 270.4,130.82 270.9,130.81 271.4,130.81 271.9,130.8 272.4,130.8 272.9,130.79 273.4,130.79 273.9,130.78 274.4,130.78 274.9,130.77 275.4,130.76 275.9,130.76 276.4,130.75 276.9,130.75 277.4,130.74 277.9,130.73 278.4,130.73 278.9,130.72 279.4,130.71 279.9,130.71 280.4,130.7 280.9,130.69 281.4,130.68 281.9,130.68 282.4,130.67 282.9,130.66 283.4,130.65 283.9,130.64 284.4,130.64 284.9,130.63 285.4,130.62 285.9,130.61 286.4,130.6 286.9,130.59 287.4,130.58 287.9,130.57 288.4,130.56 288.9,130.55 289.4,130.54 289.9,130.53 290.4,130.52 290.9,130.5 291.4,130.49 291.9,130.48 292.4,130.47 292.9,130.45 293.4,130.44 293.9,130.43 294.4,130.41 294.9,130.4 295.4,130.39 295.9,130.37 296.4,130.35 296.9,130.34 297.4,130.32 297.9,130.31 298.4,130.29 298.9,130.27 299.4,130.25 299.9,130.23 300.4,130.21 300.9,130.19 301.4,130.17 301.9,130.15 302.4,130.13 302.9,130.11 303.4,130.08 303.9,130.06 304.4,130.04 304.9,130.01 305.4,129.98 305.9,129.96 306.4,129.93 306.9,129.9 307.4,129.87 307.9,129.84 308.4,129.81 308.9,129.78 309.4,129.74 309.9,129.71 310.4,129.67 310.9,129.63 311.4,129.59 311.9,129.55 312.4,129.51 312.9,129.47 313.4,129.42 313.9,129.37 314.4,129.32 314.9,129.27 315.4,129.22 315.9,129.17 316.4,129.11 316.9,129.05 317.4,128.99 317.9,128.92 318.4,128.86 318.9,128.79 319.4,128.72 319.9,128.64 320.4,128.56 320.9,128.48 321.4,128.39 321.9,128.31 322.4,128.21 322.9,128.11 323.4,128.01 323.9,127.91 324.4,127.8 324.9,127.68 325.4,127.56 325.9,127.43 326.4,127.3 326.9,127.16 327.4,127.02 327.9,126.86 328.4,126.7 328.9,126.54 329.4,126.36 329.9,126.18 330.4,125.99 330.9,125.79 331.4,125.58 331.9,125.37 332.4,125.14 332.9,124.9 333.4,124.66 333.9,124.4 334.4,124.13 334.9,123.86 335.4,123.57 335.9,123.27 336.4,122.97 336.9,122.66 337.4,122.33 337.9,122.01 338.4,121.67 338.9,121.34 339.4,121 339.9,120.66 340.4,120.32 340.9,119.99 341.4,119.66 341.9,119.35 342.4,119.06 342.9,118.78 343.4,118.52 343.9,118.29 344.4,118.09 344.9,117.91 345.4,117.78 345.9,117.68 346.4,117.62 346.9,117.6 347.4,117.63 347.9,117.71 348.4,117.85 348.9,118.04 349.4,118.27 349.9,118.54 350.4,118.85 350.9,119.19 351.4,119.55 351.9,119.93 352.4,120.32 352.9,120.72 353.4,121.12 353.9,121.52 354.4,121.92 354.9,122.3 355.4,122.68 355.9,123.05 356.4,123.41 356.9,123.75 357.4,124.08 357.9,124.4 358.4,124.7 358.9,124.99 359.4,125.26 359.9,125.53 360.4,125.77 360.9,126.01 361.4,126.23 361.9,126.44 362.4,126.64 362.9,126.84 363.4,127.02 363.9,127.19 364.4,127.35 364.9,127.5 365.4,127.65 365.9,127.79 366.4,127.92 366.9,128.04 367.4,128.16 367.9,128.27 368.4,128.38 368.9,128.48 369.4,128.58 369.9,128.67 370.4,128.76 370.9,128.84 371.4,128.92 371.9,128.99 372.4,129.07 372.9,129.14 373.4,129.2 373.9,129.26 374.4,129.32 374.9,129.38 375.4,129.44 375.9,129.49 376.4,129.54 376.9,129.59 377.4,129.63 377.9,129.68 378.4,129.72 378.9,129.76 379.4,129.8 379.9,129.84 380.4,129.88 380.9,129.91 381.4,129.95 381.9,129.98 382.4,130.01 382.9,130.04 383.4,130.07 383.9,130.1 384.4,130.12 384.9,130.15 385.4,130.17 385.9,130.2 386.4,130.22 386.9,130.24 387.4,130.27 387.9,130.29 388.4,130.31 388.9,130.33 389.4,130.35 389.9,130.36 390.4,130.38 390.9,130.4 391.4,130.42 391.9,130.43 392.4,130.45 392.9,130.46 393.4,130.48 393.9,130.49 394.4,130.51 394.9,130.52 395.4,130.53 395.9,130.55 396.4,130.56 396.9,130.57 397.4,130.58 397.9,130.6 398.4,130.61 398.9,130.62 399.4,130.63 399.9,130.64 400.4,130.65 400.9,130.66 401.4,130.67 401.9,130.68 402.4,130.69 402.9,130.69 403.4,130.7 403.9,130.71 404.4,130.72 404.9,130.73 405.4,130.74 405.9,130.74 406.4,130.75 406.9,130.76 407.4,130.76 407.9,130.77 408.4,130.78 408.9,130.78 409.4,130.79 409.9,130.8 410.4,130.8 410.9,130.81 411.4,130.82 411.9,130.82 412.4,130.83 412.9,130.83 413.4,130.84 413.9,130.84 414.4,130.85 414.9,130.85 415.4,130.86 415.9,130.86 416.4,130.87 416.9,130.87 417.4,130.88 417.9,130.88 418.4,130.89 418.9,130.89 419.4,130.89 419.9,130.9 420.4,130.9 420.9,130.91 421.4,130.91 421.9,130.91 422.4,130.92 422.9,130.92 423.4,130.92 423.9,130.93 424.4,130.93 424.9,130.93 425.4,130.94 425.9,130.94 426.4,130.94 426.9,130.95 427.4,130.95 427.9,130.95 428.4,130.96 428.9,130.96 429.4,130.96 429.9,130.97 430.4,130.97 430.9,130.97 431.4,130.97 431.9,130.98 432.4,130.98 432.9,130.98 433.4,130.98 433.9,130.99 434.4,130.99 434.9,130.99 435.4,130.99 435.9,131 436.4,131 436.9,131 437.4,131 437.9,131 438.4,131.01 438.9,131.01 439.4,131.01 439.9,131.01" fill="none" stroke="#e8942c" stroke-width="1.35" stroke-linejoin="round" />
<line x1="359.8" y1="125.47" x2="359.8" y2="110.47" stroke="#e8942c" stroke-width="1.4" />
<polyline points="262.4,160.01 262.9,160.01 263.4,160.01 263.9,160.01 264.4,160.01 264.9,160 265.4,160 265.9,160 266.4,160 266.9,160 267.4,160 267.9,159.99 268.4,159.99 268.9,159.99 269.4,159.99 269.9,159.99 270.4,159.99 270.9,159.98 271.4,159.98 271.9,159.98 272.4,159.98 272.9,159.98 273.4,159.97 273.9,159.97 274.4,159.97 274.9,159.97 275.4,159.97 275.9,159.96 276.4,159.96 276.9,159.96 277.4,159.96 277.9,159.95 278.4,159.95 278.9,159.95 279.4,159.95 279.9,159.94 280.4,159.94 280.9,159.94 281.4,159.94 281.9,159.93 282.4,159.93 282.9,159.93 283.4,159.93 283.9,159.92 284.4,159.92 284.9,159.92 285.4,159.92 285.9,159.91 286.4,159.91 286.9,159.91 287.4,159.9 287.9,159.9 288.4,159.9 288.9,159.89 289.4,159.89 289.9,159.89 290.4,159.88 290.9,159.88 291.4,159.88 291.9,159.87 292.4,159.87 292.9,159.87 293.4,159.86 293.9,159.86 294.4,159.85 294.9,159.85 295.4,159.84 295.9,159.84 296.4,159.84 296.9,159.83 297.4,159.83 297.9,159.82 298.4,159.82 298.9,159.81 299.4,159.81 299.9,159.8 300.4,159.8 300.9,159.79 301.4,159.78 301.9,159.78 302.4,159.77 302.9,159.77 303.4,159.76 303.9,159.75 304.4,159.75 304.9,159.74 305.4,159.73 305.9,159.73 306.4,159.72 306.9,159.71 307.4,159.7 307.9,159.69 308.4,159.69 308.9,159.68 309.4,159.67 309.9,159.66 310.4,159.65 310.9,159.64 311.4,159.63 311.9,159.62 312.4,159.61 312.9,159.59 313.4,159.58 313.9,159.57 314.4,159.56 314.9,159.54 315.4,159.53 315.9,159.52 316.4,159.5 316.9,159.49 317.4,159.47 317.9,159.45 318.4,159.44 318.9,159.42 319.4,159.4 319.9,159.38 320.4,159.36 320.9,159.34 321.4,159.32 321.9,159.29 322.4,159.27 322.9,159.24 323.4,159.21 323.9,159.19 324.4,159.16 324.9,159.13 325.4,159.09 325.9,159.06 326.4,159.02 326.9,158.98 327.4,158.94 327.9,158.9 328.4,158.85 328.9,158.81 329.4,158.75 329.9,158.7 330.4,158.64 330.9,158.58 331.4,158.52 331.9,158.45 332.4,158.37 332.9,158.29 333.4,158.21 333.9,158.12 334.4,158.02 334.9,157.91 335.4,157.8 335.9,157.67 336.4,157.54 336.9,157.4 337.4,157.24 337.9,157.07 338.4,156.88 338.9,156.68 339.4,156.46 339.9,156.22 340.4,155.95 340.9,155.65 341.4,155.33 341.9,154.97 342.4,154.57 342.9,154.12 343.4,153.63 343.9,153.08 344.4,152.46 344.9,151.78 345.4,151.01 345.9,150.15 346.4,149.2 346.9,148.13 347.4,146.96 347.9,145.67 348.4,144.28 348.9,142.79 349.4,141.24 349.9,139.68 350.4,138.16 350.9,136.79 351.4,135.65 351.9,134.84 352.4,134.43 352.9,134.49 353.4,135.06 353.9,136.08 354.4,137.44 354.9,139.02 355.4,140.7 355.9,142.38 356.4,144.01 356.9,145.53 357.4,146.93 357.9,148.19 358.4,149.33 358.9,150.34 359.4,151.24 359.9,152.04 360.4,152.75 360.9,153.37 361.4,153.93 361.9,154.43 362.4,154.87 362.9,155.26 363.4,155.62 363.9,155.93 364.4,156.22 364.9,156.48 365.4,156.71 365.9,156.92 366.4,157.12 366.9,157.29 367.4,157.45 367.9,157.6 368.4,157.73 368.9,157.86 369.4,157.97 369.9,158.08 370.4,158.18 370.9,158.27 371.4,158.35 371.9,158.43 372.4,158.5 372.9,158.57 373.4,158.63 373.9,158.69 374.4,158.74 374.9,158.79 375.4,158.84 375.9,158.89 376.4,158.93 376.9,158.97 377.4,159.01 377.9,159.04 378.4,159.08 378.9,159.11 379.4,159.14 379.9,159.17 380.4,159.2 380.9,159.22 381.4,159.25 381.9,159.27 382.4,159.29 382.9,159.31 383.4,159.33 383.9,159.35 384.4,159.37 384.9,159.39 385.4,159.4 385.9,159.42 386.4,159.43 386.9,159.45 387.4,159.46 387.9,159.47 388.4,159.49 388.9,159.5 389.4,159.51 389.9,159.52 390.4,159.53 390.9,159.54 391.4,159.55 391.9,159.56 392.4,159.57 392.9,159.58 393.4,159.59 393.9,159.6 394.4,159.6 394.9,159.61 395.4,159.62 395.9,159.63 396.4,159.63 396.9,159.64 397.4,159.65 397.9,159.65 398.4,159.66 398.9,159.66 399.4,159.67 399.9,159.67 400.4,159.68 400.9,159.68 401.4,159.69 401.9,159.69 402.4,159.7 402.9,159.7 403.4,159.71 403.9,159.71 404.4,159.71 404.9,159.72 405.4,159.72 405.9,159.72 406.4,159.73 406.9,159.73 407.4,159.73 407.9,159.74 408.4,159.74 408.9,159.74 409.4,159.75 409.9,159.75 410.4,159.75 410.9,159.75 411.4,159.76 411.9,159.76 412.4,159.76 412.9,159.76 413.4,159.76 413.9,159.77 414.4,159.77 414.9,159.77 415.4,159.77 415.9,159.77 416.4,159.78 416.9,159.78 417.4,159.78 417.9,159.78 418.4,159.78 418.9,159.78 419.4,159.79 419.9,159.79 420.4,159.79 420.9,159.79 421.4,159.79 421.9,159.79 422.4,159.79 422.9,159.8 423.4,159.8 423.9,159.8 424.4,159.8 424.9,159.8 425.4,159.8 425.9,159.8 426.4,159.8 426.9,159.8 427.4,159.8 427.9,159.81 428.4,159.81 428.9,159.81 429.4,159.81 429.9,159.81 430.4,159.81 430.9,159.81 431.4,159.81 431.9,159.81 432.4,159.81 432.9,159.81 433.4,159.81 433.9,159.81 434.4,159.81 434.9,159.82 435.4,159.82 435.9,159.82 436.4,159.82 436.9,159.82 437.4,159.82 437.9,159.82 438.4,159.82 438.9,159.82 439.4,159.82 439.9,159.82" fill="none" stroke="#5563c6" stroke-width="1.35" stroke-linejoin="round" />
<line x1="359.8" y1="151.89" x2="359.8" y2="136.89" stroke="#5563c6" stroke-width="1.4" />
<polyline points="262.4,181.2 262.65,181.2 262.9,181.2 263.15,181.2 263.4,181.2 263.65,181.2 263.9,181.2 264.15,181.2 264.4,181.2 264.65,181.2 264.9,181.2 265.15,181.2 265.4,181.2 265.65,181.2 265.9,181.2 266.15,181.2 266.4,181.2 266.65,181.2 266.9,181.2 267.15,181.2 267.4,181.2 267.65,181.2 267.9,181.2 268.15,181.2 268.4,181.2 268.65,181.2 268.9,181.2 269.15,181.2 269.4,181.2 269.65,181.2 269.9,181.2 270.15,181.2 270.4,181.2 270.65,181.2 270.9,181.2 271.15,181.2 271.4,181.2 271.65,181.2 271.9,181.2 272.15,181.2 272.4,181.2 272.65,181.2 272.9,181.2 273.15,181.2 273.4,181.2 273.65,181.2 273.9,181.2 274.15,181.2 274.4,181.2 274.65,181.2 274.9,181.2 275.15,181.2 275.4,181.2 275.65,181.2 275.9,181.2 276.15,181.2 276.4,181.2 276.65,181.2 276.9,181.2 277.15,181.2 277.4,181.2 277.65,181.2 277.9,181.2 278.15,181.2 278.4,181.2 278.65,181.2 278.9,181.2 279.15,181.2 279.4,181.2 279.65,181.2 279.9,181.2 280.15,181.2 280.4,181.2 280.65,181.2 280.9,181.2 281.15,181.2 281.4,181.2 281.65,181.2 281.9,181.2 282.15,181.2 282.4,181.2 282.65,181.2 282.9,181.2 283.15,181.2 283.4,181.2 283.65,181.2 283.9,181.2 284.15,181.2 284.4,181.2 284.65,181.2 284.9,181.2 285.15,181.2 285.4,181.2 285.65,181.2 285.9,181.2 286.15,181.2 286.4,181.2 286.65,181.2 286.9,181.2 287.15,181.2 287.4,181.2 287.65,181.2 287.9,181.2 288.15,181.2 288.4,181.2 288.65,181.2 288.9,181.2 289.15,181.2 289.4,181.2 289.65,181.2 289.9,181.2 290.15,181.2 290.4,181.2 290.65,181.2 290.9,181.2 291.15,181.2 291.4,181.2 291.65,181.2 291.9,181.2 292.15,181.19 292.4,181.19 292.65,181.19 292.9,181.19 293.15,181.19 293.4,181.19 293.65,181.19 293.9,181.19 294.15,181.19 294.4,181.19 294.65,181.19 294.9,181.19 295.15,181.19 295.4,181.19 295.65,181.19 295.9,181.19 296.15,181.19 296.4,181.19 296.65,181.19 296.9,181.19 297.15,181.19 297.4,181.19 297.65,181.19 297.9,181.19 298.15,181.19 298.4,181.19 298.65,181.19 298.9,181.19 299.15,181.19 299.4,181.19 299.65,181.19 299.9,181.19 300.15,181.19 300.4,181.19 300.65,181.19 300.9,181.19 301.15,181.19 301.4,181.19 301.65,181.19 301.9,181.19 302.15,181.19 302.4,181.19 302.65,181.19 302.9,181.19 303.15,181.19 303.4,181.19 303.65,181.19 303.9,181.19 304.15,181.19 304.4,181.19 304.65,181.19 304.9,181.19 305.15,181.19 305.4,181.19 305.65,181.19 305.9,181.19 306.15,181.19 306.4,181.19 306.65,181.19 306.9,181.19 307.15,181.19 307.4,181.19 307.65,181.19 307.9,181.19 308.15,181.19 308.4,181.19 308.65,181.19 308.9,181.19 309.15,181.19 309.4,181.19 309.65,181.19 309.9,181.19 310.15,181.19 310.4,181.19 310.65,181.19 310.9,181.19 311.15,181.19 311.4,181.19 311.65,181.19 311.9,181.19 312.15,181.19 312.4,181.19 312.65,181.19 312.9,181.19 313.15,181.19 313.4,181.19 313.65,181.19 313.9,181.19 314.15,181.19 314.4,181.19 314.65,181.19 314.9,181.19 315.15,181.19 315.4,181.19 315.65,181.19 315.9,181.19 316.15,181.19 316.4,181.19 316.65,181.19 316.9,181.19 317.15,181.19 317.4,181.19 317.65,181.19 317.9,181.19 318.15,181.19 318.4,181.19 318.65,181.19 318.9,181.19 319.15,181.19 319.4,181.19 319.65,181.19 319.9,181.19 320.15,181.19 320.4,181.19 320.65,181.18 320.9,181.18 321.15,181.18 321.4,181.18 321.65,181.18 321.9,181.18 322.15,181.18 322.4,181.18 322.65,181.18 322.9,181.18 323.15,181.18 323.4,181.18 323.65,181.18 323.9,181.18 324.15,181.18 324.4,181.18 324.65,181.18 324.9,181.18 325.15,181.18 325.4,181.18 325.65,181.18 325.9,181.18 326.15,181.18 326.4,181.18 326.65,181.18 326.9,181.18 327.15,181.18 327.4,181.18 327.65,181.18 327.9,181.18 328.15,181.18 328.4,181.18 328.65,181.18 328.9,181.18 329.15,181.18 329.4,181.17 329.65,181.17 329.9,181.17 330.15,181.17 330.4,181.17 330.65,181.17 330.9,181.17 331.15,181.17 331.4,181.17 331.65,181.17 331.9,181.17 332.15,181.17 332.4,181.17 332.65,181.17 332.9,181.17 333.15,181.17 333.4,181.17 333.65,181.17 333.9,181.17 334.15,181.16 334.4,181.16 334.65,181.16 334.9,181.16 335.15,181.16 335.4,181.16 335.65,181.16 335.9,181.16 336.15,181.16 336.4,181.16 336.65,181.16 336.9,181.16 337.15,181.15 337.4,181.15 337.65,181.15 337.9,181.15 338.15,181.15 338.4,181.15 338.65,181.15 338.9,181.15 339.15,181.15 339.4,181.14 339.65,181.14 339.9,181.14 340.15,181.14 340.4,181.14 340.65,181.14 340.9,181.14 341.15,181.13 341.4,181.13 341.65,181.13 341.9,181.13 342.15,181.13 342.4,181.12 342.65,181.12 342.9,181.12 343.15,181.12 343.4,181.11 343.65,181.11 343.9,181.11 344.15,181.11 344.4,181.1 344.65,181.1 344.9,181.1 345.15,181.09 345.4,181.09 345.65,181.08 345.9,181.08 346.15,181.08 346.4,181.07 346.65,181.07 346.9,181.06 347.15,181.06 347.4,181.05 347.65,181.04 347.9,181.04 348.15,181.03 348.4,181.02 348.65,181.01 348.9,181 349.15,181 349.4,180.99 349.65,180.98 349.9,180.96 350.15,180.95 350.4,180.94 350.65,180.92 350.9,180.91 351.15,180.89 351.4,180.87 351.65,180.85 351.9,180.83 352.15,180.81 352.4,180.78 352.65,180.75 352.9,180.72 353.15,180.68 353.4,180.64 353.65,180.59 353.9,180.54 354.15,180.48 354.4,180.42 354.65,180.34 354.9,180.25 355.15,180.15 355.4,180.03 355.65,179.89 355.9,179.73 356.15,179.54 356.4,179.3 356.65,179.01 356.9,178.66 357.15,178.22 357.4,177.66 357.65,176.95 357.9,176.03 358.15,174.84 358.4,173.27 358.65,171.26 358.9,168.77 359.15,166 359.4,163.52 359.65,162.24 359.9,162.81 360.15,164.92 360.4,167.68 360.65,170.32 360.9,172.52 361.15,174.26 361.4,175.59 361.65,176.61 361.9,177.4 362.15,178.01 362.4,178.5 362.65,178.88 362.9,179.19 363.15,179.45 363.4,179.66 363.65,179.83 363.9,179.98 364.15,180.11 364.4,180.21 364.65,180.31 364.9,180.39 365.15,180.46 365.4,180.52 365.65,180.57 365.9,180.62 366.15,180.66 366.4,180.7 366.65,180.74 366.9,180.77 367.15,180.79 367.4,180.82 367.65,180.84 367.9,180.86 368.15,180.88 368.4,180.9 368.65,180.92 368.9,180.93 369.15,180.95 369.4,180.96 369.65,180.97 369.9,180.98 370.15,180.99 370.4,181 370.65,181.01 370.9,181.02 371.15,181.03 371.4,181.03 371.65,181.04 371.9,181.05 372.15,181.05 372.4,181.06 372.65,181.06 372.9,181.07 373.15,181.07 373.4,181.08 373.65,181.08 373.9,181.09 374.15,181.09 374.4,181.09 374.65,181.1 374.9,181.1 375.15,181.1 375.4,181.11 375.65,181.11 375.9,181.11 376.15,181.12 376.4,181.12 376.65,181.12 376.9,181.12 377.15,181.12 377.4,181.13 377.65,181.13 377.9,181.13 378.15,181.13 378.4,181.13 378.65,181.14 378.9,181.14 379.15,181.14 379.4,181.14 379.65,181.14 379.9,181.14 380.15,181.15 380.4,181.15 380.65,181.15 380.9,181.15 381.15,181.15 381.4,181.15 381.65,181.15 381.9,181.15 382.15,181.15 382.4,181.16 382.65,181.16 382.9,181.16 383.15,181.16 383.4,181.16 383.65,181.16 383.9,181.16 384.15,181.16 384.4,181.16 384.65,181.16 384.9,181.16 385.15,181.16 385.4,181.17 385.65,181.17 385.9,181.17 386.15,181.17 386.4,181.17 386.65,181.17 386.9,181.17 387.15,181.17 387.4,181.17 387.65,181.17 387.9,181.17 388.15,181.17 388.4,181.17 388.65,181.17 388.9,181.17 389.15,181.17 389.4,181.17 389.65,181.17 389.9,181.17 390.15,181.18 390.4,181.18 390.65,181.18 390.9,181.18 391.15,181.18 391.4,181.18 391.65,181.18 391.9,181.18 392.15,181.18 392.4,181.18 392.65,181.18 392.9,181.18 393.15,181.18 393.4,181.18 393.65,181.18 393.9,181.18 394.15,181.18 394.4,181.18 394.65,181.18 394.9,181.18 395.15,181.18 395.4,181.18 395.65,181.18 395.9,181.18 396.15,181.18 396.4,181.18 396.65,181.18 396.9,181.18 397.15,181.18 397.4,181.18 397.65,181.18 397.9,181.18 398.15,181.18 398.4,181.18 398.65,181.18 398.9,181.19 399.15,181.19 399.4,181.19 399.65,181.19 399.9,181.19 400.15,181.19 400.4,181.19 400.65,181.19 400.9,181.19 401.15,181.19 401.4,181.19 401.65,181.19 401.9,181.19 402.15,181.19 402.4,181.19 402.65,181.19 402.9,181.19 403.15,181.19 403.4,181.19 403.65,181.19 403.9,181.19 404.15,181.19 404.4,181.19 404.65,181.19 404.9,181.19 405.15,181.19 405.4,181.19 405.65,181.19 405.9,181.19 406.15,181.19 406.4,181.19 406.65,181.19 406.9,181.19 407.15,181.19 407.4,181.19 407.65,181.19 407.9,181.19 408.15,181.19 408.4,181.19 408.65,181.19 408.9,181.19 409.15,181.19 409.4,181.19 409.65,181.19 409.9,181.19 410.15,181.19 410.4,181.19 410.65,181.19 410.9,181.19 411.15,181.19 411.4,181.19 411.65,181.19 411.9,181.19 412.15,181.19 412.4,181.19 412.65,181.19 412.9,181.19 413.15,181.19 413.4,181.19 413.65,181.19 413.9,181.19 414.15,181.19 414.4,181.19 414.65,181.19 414.9,181.19 415.15,181.19 415.4,181.19 415.65,181.19 415.9,181.19 416.15,181.19 416.4,181.19 416.65,181.19 416.9,181.19 417.15,181.19 417.4,181.19 417.65,181.19 417.9,181.19 418.15,181.19 418.4,181.19 418.65,181.19 418.9,181.19 419.15,181.19 419.4,181.19 419.65,181.19 419.9,181.19 420.15,181.19 420.4,181.19 420.65,181.19 420.9,181.19 421.15,181.19 421.4,181.19 421.65,181.19 421.9,181.19 422.15,181.19 422.4,181.19 422.65,181.19 422.9,181.19 423.15,181.19 423.4,181.19 423.65,181.19 423.9,181.19 424.15,181.19 424.4,181.19 424.65,181.19 424.9,181.19 425.15,181.19 425.4,181.19 425.65,181.19 425.9,181.19 426.15,181.19 426.4,181.19 426.65,181.19 426.9,181.19 427.15,181.19 427.4,181.19 427.65,181.2 427.9,181.2 428.15,181.2 428.4,181.2 428.65,181.2 428.9,181.2 429.15,181.2 429.4,181.2 429.65,181.2 429.9,181.2 430.15,181.2 430.4,181.2 430.65,181.2 430.9,181.2 431.15,181.2 431.4,181.2 431.65,181.2 431.9,181.2 432.15,181.2 432.4,181.2 432.65,181.2 432.9,181.2 433.15,181.2 433.4,181.2 433.65,181.2 433.9,181.2 434.15,181.2 434.4,181.2 434.65,181.2 434.9,181.2 435.15,181.2 435.4,181.2 435.65,181.2 435.9,181.2 436.15,181.2 436.4,181.2 436.65,181.2 436.9,181.2 437.15,181.2 437.4,181.2 437.65,181.2 437.9,181.2 438.15,181.2 438.4,181.2 438.65,181.2 438.9,181.2 439.15,181.2 439.4,181.2 439.65,181.2 439.9,181.2" fill="none" stroke="#5f5f5f" stroke-width="1.35" stroke-linejoin="round" />
<rect x="262.4" y="13.2" width="177.5" height="180.3" fill="none" stroke="#1a1a1a" stroke-width="1.2"/>
<line x1="262.4" y1="193.5" x2="262.4" y2="196.7" stroke="#1a1a1a" stroke-width="1.1" />
<text x="262.4" y="208" font-size="11.8" text-anchor="middle" fill="#000" >8</text>
<line x1="321.57" y1="193.5" x2="321.57" y2="196.7" stroke="#1a1a1a" stroke-width="1.1" />
<text x="321.57" y="208" font-size="11.8" text-anchor="middle" fill="#000" >6</text>
<line x1="380.73" y1="193.5" x2="380.73" y2="196.7" stroke="#1a1a1a" stroke-width="1.1" />
<text x="380.73" y="208" font-size="11.8" text-anchor="middle" fill="#000" >4</text>
<line x1="439.9" y1="193.5" x2="439.9" y2="196.7" stroke="#1a1a1a" stroke-width="1.1" />
<text x="439.9" y="208" font-size="11.8" text-anchor="middle" fill="#000" >2</text>
<line x1="291.98" y1="193.5" x2="291.98" y2="195.5" stroke="#1a1a1a" stroke-width="1.0" />
<line x1="351.15" y1="193.5" x2="351.15" y2="195.5" stroke="#1a1a1a" stroke-width="1.0" />
<line x1="410.32" y1="193.5" x2="410.32" y2="195.5" stroke="#1a1a1a" stroke-width="1.0" />
<text x="416.5" y="36.3" font-size="11.3" text-anchor="end" fill="#000" >5.3 Al</text>
<text x="416.5" y="59.6" font-size="11.3" text-anchor="end" fill="#000" >5 Al</text>
<text x="416.5" y="83.2" font-size="11.3" text-anchor="end" fill="#000" >4 Al</text>
<text x="416.5" y="106" font-size="11.3" text-anchor="end" fill="#000" >3 Al</text>
<text x="416.5" y="128.4" font-size="11.3" text-anchor="end" fill="#000" >2 Al</text>
<text x="416.5" y="157.2" font-size="11.3" text-anchor="end" fill="#000" >1 Al</text>
<text x="419" y="176.3" font-size="11.3" text-anchor="end" fill="#000" >H<tspan font-size="8.5" dx="0.4" dy="2.5">2</tspan><tspan dx="0.3" dy="-2.5">O</tspan></text>
<text x="327.6" y="172.7" font-size="14.5" text-anchor="start" fill="#c0141c" >DSE</text>
<line x1="323" y1="175.9" x2="358" y2="175.9" stroke="#c0141c" stroke-width="1.6" stroke-dasharray="1.6,1.4"/>
<polygon points="317.2,175.9 323.4,172.4 323.4,179.4" fill="#c0141c" stroke="none" stroke-width="0" />
<text transform="translate(234.9,100.1) rotate(-90)" x="0" y="0" font-size="13.2" text-anchor="middle" fill="#000" >Intensity (arb. units)</text>
<text x="274.7" y="229.6" font-size="13.5" text-anchor="start" fill="#000" ><tspan font-size="8.5" dy="-5">1</tspan><tspan dy="5">H Chemical shift (ppm)</tspan></text>
<text x="447.4" y="14.6" font-size="20" text-anchor="start" fill="#000" >c</text>
<line x1="555.1" y1="13.2" x2="555.1" y2="195.2" stroke="#3a3a3a" stroke-width="1.2" stroke-dasharray="1.3,2"/>
<polyline points="492.2,31.53 492.45,31.52 492.7,31.52 492.95,31.52 493.2,31.52 493.45,31.52 493.7,31.52 493.95,31.52 494.2,31.52 494.45,31.52 494.7,31.52 494.95,31.52 495.2,31.52 495.45,31.52 495.7,31.52 495.95,31.52 496.2,31.52 496.45,31.52 496.7,31.52 496.95,31.51 497.2,31.51 497.45,31.51 497.7,31.51 497.95,31.51 498.2,31.51 498.45,31.51 498.7,31.51 498.95,31.51 499.2,31.51 499.45,31.51 499.7,31.51 499.95,31.51 500.2,31.51 500.45,31.51 500.7,31.5 500.95,31.5 501.2,31.5 501.45,31.5 501.7,31.5 501.95,31.5 502.2,31.5 502.45,31.5 502.7,31.5 502.95,31.5 503.2,31.5 503.45,31.5 503.7,31.5 503.95,31.5 504.2,31.49 504.45,31.49 504.7,31.49 504.95,31.49 505.2,31.49 505.45,31.49 505.7,31.49 505.95,31.49 506.2,31.49 506.45,31.49 506.7,31.49 506.95,31.48 507.2,31.48 507.45,31.48 507.7,31.48 507.95,31.48 508.2,31.48 508.45,31.48 508.7,31.48 508.95,31.48 509.2,31.48 509.45,31.47 509.7,31.47 509.95,31.47 510.2,31.47 510.45,31.47 510.7,31.47 510.95,31.47 511.2,31.47 511.45,31.47 511.7,31.46 511.95,31.46 512.2,31.46 512.45,31.46 512.7,31.46 512.95,31.46 513.2,31.46 513.45,31.46 513.7,31.45 513.95,31.45 514.2,31.45 514.45,31.45 514.7,31.45 514.95,31.45 515.2,31.45 515.45,31.44 515.7,31.44 515.95,31.44 516.2,31.44 516.45,31.44 516.7,31.44 516.95,31.44 517.2,31.43 517.45,31.43 517.7,31.43 517.95,31.43 518.2,31.43 518.45,31.42 518.7,31.42 518.95,31.42 519.2,31.42 519.45,31.42 519.7,31.42 519.95,31.41 520.2,31.41 520.45,31.41 520.7,31.41 520.95,31.41 521.2,31.4 521.45,31.4 521.7,31.4 521.95,31.4 522.2,31.4 522.45,31.39 522.7,31.39 522.95,31.39 523.2,31.39 523.45,31.38 523.7,31.38 523.95,31.38 524.2,31.38 524.45,31.37 524.7,31.37 524.95,31.37 525.2,31.37 525.45,31.36 525.7,31.36 525.95,31.36 526.2,31.35 526.45,31.35 526.7,31.35 526.95,31.35 527.2,31.34 527.45,31.34 527.7,31.34 527.95,31.33 528.2,31.33 528.45,31.33 528.7,31.32 528.95,31.32 529.2,31.32 529.45,31.31 529.7,31.31 529.95,31.3 530.2,31.3 530.45,31.3 530.7,31.29 530.95,31.29 531.2,31.28 531.45,31.28 531.7,31.28 531.95,31.27 532.2,31.27 532.45,31.26 532.7,31.26 532.95,31.25 533.2,31.25 533.45,31.24 533.7,31.24 533.95,31.23 534.2,31.23 534.45,31.22 534.7,31.22 534.95,31.21 535.2,31.21 535.45,31.2 535.7,31.19 535.95,31.19 536.2,31.18 536.45,31.17 536.7,31.17 536.95,31.16 537.2,31.15 537.45,31.15 537.7,31.14 537.95,31.13 538.2,31.12 538.45,31.12 538.7,31.11 538.95,31.1 539.2,31.09 539.45,31.08 539.7,31.07 539.95,31.07 540.2,31.06 540.45,31.05 540.7,31.04 540.95,31.03 541.2,31.02 541.45,31.01 541.7,30.99 541.95,30.98 542.2,30.97 542.45,30.96 542.7,30.95 542.95,30.94 543.2,30.92 543.45,30.91 543.7,30.9 543.95,30.88 544.2,30.87 544.45,30.85 544.7,30.84 544.95,30.82 545.2,30.81 545.45,30.79 545.7,30.77 545.95,30.76 546.2,30.74 546.45,30.72 546.7,30.7 546.95,30.68 547.2,30.66 547.45,30.64 547.7,30.62 547.95,30.59 548.2,30.57 548.45,30.55 548.7,30.52 548.95,30.49 549.2,30.47 549.45,30.44 549.7,30.41 549.95,30.38 550.2,30.35 550.45,30.32 550.7,30.29 550.95,30.25 551.2,30.22 551.45,30.18 551.7,30.14 551.95,30.1 552.2,30.06 552.45,30.02 552.7,29.97 552.95,29.93 553.2,29.88 553.45,29.83 553.7,29.78 553.95,29.72 554.2,29.67 554.45,29.61 554.7,29.55 554.95,29.48 555.2,29.42 555.45,29.35 555.7,29.28 555.95,29.2 556.2,29.12 556.45,29.04 556.7,28.96 556.95,28.87 557.2,28.78 557.45,28.68 557.7,28.58 557.95,28.48 558.2,28.37 558.45,28.25 558.7,28.13 558.95,28.01 559.2,27.88 559.45,27.75 559.7,27.61 559.95,27.46 560.2,27.31 560.45,27.16 560.7,26.99 560.95,26.83 561.2,26.66 561.45,26.48 561.7,26.3 561.95,26.11 562.2,25.92 562.45,25.72 562.7,25.52 562.95,25.32 563.2,25.12 563.45,24.92 563.7,24.72 563.95,24.52 564.2,24.33 564.45,24.14 564.7,23.95 564.95,23.78 565.2,23.62 565.45,23.47 565.7,23.33 565.95,23.21 566.2,23.11 566.45,23.03 566.7,22.96 566.95,22.92 567.2,22.9 567.45,22.9 567.7,22.92 567.95,22.96 568.2,23.01 568.45,23.08 568.7,23.16 568.95,23.25 569.2,23.36 569.45,23.49 569.7,23.62 569.95,23.76 570.2,23.91 570.45,24.07 570.7,24.23 570.95,24.4 571.2,24.57 571.45,24.74 571.7,24.92 571.95,25.1 572.2,25.27 572.45,25.45 572.7,25.62 572.95,25.8 573.2,25.96 573.45,26.13 573.7,26.3 573.95,26.46 574.2,26.61 574.45,26.76 574.7,26.91 574.95,27.06 575.2,27.2 575.45,27.33 575.7,27.46 575.95,27.59 576.2,27.71 576.45,27.83 576.7,27.95 576.95,28.06 577.2,28.16 577.45,28.27 577.7,28.37 577.95,28.46 578.2,28.55 578.45,28.64 578.7,28.73 578.95,28.81 579.2,28.89 579.45,28.97 579.7,29.04 579.95,29.11 580.2,29.18 580.45,29.25 580.7,29.31 580.95,29.38 581.2,29.44 581.45,29.49 581.7,29.55 581.95,29.6 582.2,29.65 582.45,29.7 582.7,29.75 582.95,29.8 583.2,29.84 583.45,29.89 583.7,29.93 583.95,29.97 584.2,30.01 584.45,30.05 584.7,30.08 584.95,30.12 585.2,30.15 585.45,30.18 585.7,30.22 585.95,30.25 586.2,30.28 586.45,30.31 586.7,30.34 586.95,30.36 587.2,30.39 587.45,30.42 587.7,30.44 587.95,30.46 588.2,30.49 588.45,30.51 588.7,30.53 588.95,30.55 589.2,30.58 589.45,30.6 589.7,30.62 589.95,30.64 590.2,30.65 590.45,30.67 590.7,30.69 590.95,30.71 591.2,30.72 591.45,30.74 591.7,30.76 591.95,30.77 592.2,30.79 592.45,30.8 592.7,30.81 592.95,30.83 593.2,30.84 593.45,30.86 593.7,30.87 593.95,30.88 594.2,30.89 594.45,30.9 594.7,30.92 594.95,30.93 595.2,30.94 595.45,30.95 595.7,30.96 595.95,30.97 596.2,30.98 596.45,30.99 596.7,31 596.95,31.01 597.2,31.02 597.45,31.03 597.7,31.04 597.95,31.05 598.2,31.05 598.45,31.06 598.7,31.07 598.95,31.08 599.2,31.09 599.45,31.09 599.7,31.1 599.95,31.11 600.2,31.11 600.45,31.12 600.7,31.13 600.95,31.13 601.2,31.14 601.45,31.15 601.7,31.15 601.95,31.16 602.2,31.17 602.45,31.17 602.7,31.18 602.95,31.18 603.2,31.19 603.45,31.19 603.7,31.2 603.95,31.2 604.2,31.21 604.45,31.21 604.7,31.22 604.95,31.22 605.2,31.23 605.45,31.23 605.7,31.24 605.95,31.24 606.2,31.25 606.45,31.25 606.7,31.26 606.95,31.26 607.2,31.26 607.45,31.27 607.7,31.27 607.95,31.28 608.2,31.28 608.45,31.28 608.7,31.29 608.95,31.29 609.2,31.29 609.45,31.3 609.7,31.3 609.95,31.3 610.2,31.31 610.45,31.31 610.7,31.31 610.95,31.32 611.2,31.32 611.45,31.32 611.7,31.33 611.95,31.33 612.2,31.33 612.45,31.34 612.7,31.34 612.95,31.34 613.2,31.34 613.45,31.35 613.7,31.35 613.95,31.35 614.2,31.35 614.45,31.36 614.7,31.36 614.95,31.36 615.2,31.36 615.45,31.37 615.7,31.37 615.95,31.37 616.2,31.37 616.45,31.38 616.7,31.38 616.95,31.38 617.2,31.38 617.45,31.38 617.7,31.39 617.95,31.39 618.2,31.39 618.45,31.39 618.7,31.39 618.95,31.4 619.2,31.4 619.45,31.4 619.7,31.4 619.95,31.4 620.2,31.41 620.45,31.41 620.7,31.41 620.95,31.41 621.2,31.41 621.45,31.41 621.7,31.42 621.95,31.42 622.2,31.42 622.45,31.42 622.7,31.42 622.95,31.42 623.2,31.43 623.45,31.43 623.7,31.43 623.95,31.43 624.2,31.43 624.45,31.43 624.7,31.43 624.95,31.44 625.2,31.44 625.45,31.44 625.7,31.44 625.95,31.44 626.2,31.44 626.45,31.44 626.7,31.45 626.95,31.45 627.2,31.45 627.45,31.45 627.7,31.45 627.95,31.45 628.2,31.45 628.45,31.45 628.7,31.45 628.95,31.46 629.2,31.46 629.45,31.46 629.7,31.46 629.95,31.46 630.2,31.46 630.45,31.46 630.7,31.46 630.95,31.46 631.2,31.47 631.45,31.47 631.7,31.47 631.95,31.47 632.2,31.47 632.45,31.47 632.7,31.47 632.95,31.47 633.2,31.47 633.45,31.47 633.7,31.48 633.95,31.48 634.2,31.48 634.45,31.48 634.7,31.48 634.95,31.48 635.2,31.48 635.45,31.48 635.7,31.48 635.95,31.48 636.2,31.48 636.45,31.49 636.7,31.49 636.95,31.49 637.2,31.49 637.45,31.49 637.7,31.49 637.95,31.49 638.2,31.49 638.45,31.49 638.7,31.49 638.95,31.49 639.2,31.49 639.45,31.49 639.7,31.5 639.95,31.5 640.2,31.5 640.45,31.5 640.7,31.5 640.95,31.5 641.2,31.5 641.45,31.5 641.7,31.5 641.95,31.5 642.2,31.5 642.45,31.5 642.7,31.5 642.95,31.5 643.2,31.5 643.45,31.51 643.7,31.51 643.95,31.51 644.2,31.51 644.45,31.51 644.7,31.51 644.95,31.51 645.2,31.51 645.45,31.51 645.7,31.51 645.95,31.51 646.2,31.51 646.45,31.51 646.7,31.51 646.95,31.51 647.2,31.51 647.45,31.51 647.7,31.51 647.95,31.52 648.2,31.52 648.45,31.52 648.7,31.52 648.95,31.52 649.2,31.52 649.45,31.52 649.7,31.52 649.95,31.52 650.2,31.52 650.45,31.52 650.7,31.52 650.95,31.52 651.2,31.52 651.45,31.52 651.7,31.52 651.95,31.52 652.2,31.52 652.45,31.52 652.7,31.52 652.95,31.52 653.2,31.53 653.45,31.53 653.7,31.53 653.95,31.53 654.2,31.53 654.45,31.53 654.7,31.53 654.95,31.53 655.2,31.53 655.45,31.53 655.7,31.53 655.95,31.53 656.2,31.53 656.45,31.53 656.7,31.53 656.95,31.53 657.2,31.53 657.45,31.53 657.7,31.53 657.95,31.53 658.2,31.53 658.45,31.53 658.7,31.53 658.95,31.53 659.2,31.53 659.45,31.53 659.7,31.54 659.95,31.54 660.2,31.54 660.45,31.54 660.7,31.54 660.95,31.54 661.2,31.54 661.45,31.54 661.7,31.54 661.95,31.54 662.2,31.54 662.45,31.54 662.7,31.54 662.95,31.54 663.2,31.54 663.45,31.54 663.7,31.54 663.95,31.54 664.2,31.54 664.45,31.54 664.7,31.54 664.95,31.54 665.2,31.54 665.45,31.54 665.7,31.54 665.95,31.54 666.2,31.54 666.45,31.54 666.7,31.54 666.95,31.54 667.2,31.54 667.45,31.54 667.7,31.55 667.95,31.55 668.2,31.55 668.45,31.55 668.7,31.55 668.95,31.55 669.2,31.55 669.45,31.55 669.7,31.55" fill="none" stroke="#3b9fd6" stroke-width="1.35" stroke-linejoin="round" />
<polyline points="492.2,47.94 492.45,47.94 492.7,47.94 492.95,47.94 493.2,47.94 493.45,47.94 493.7,47.94 493.95,47.94 494.2,47.94 494.45,47.94 494.7,47.94 494.95,47.94 495.2,47.94 495.45,47.94 495.7,47.94 495.95,47.94 496.2,47.94 496.45,47.94 496.7,47.94 496.95,47.94 497.2,47.93 497.45,47.93 497.7,47.93 497.95,47.93 498.2,47.93 498.45,47.93 498.7,47.93 498.95,47.93 499.2,47.93 499.45,47.93 499.7,47.93 499.95,47.93 500.2,47.93 500.45,47.93 500.7,47.93 500.95,47.93 501.2,47.93 501.45,47.93 501.7,47.93 501.95,47.93 502.2,47.92 502.45,47.92 502.7,47.92 502.95,47.92 503.2,47.92 503.45,47.92 503.7,47.92 503.95,47.92 504.2,47.92 504.45,47.92 504.7,47.92 504.95,47.92 505.2,47.92 505.45,47.92 505.7,47.92 505.95,47.91 506.2,47.91 506.45,47.91 506.7,47.91 506.95,47.91 507.2,47.91 507.45,47.91 507.7,47.91 507.95,47.91 508.2,47.91 508.45,47.91 508.7,47.91 508.95,47.91 509.2,47.9 509.45,47.9 509.7,47.9 509.95,47.9 510.2,47.9 510.45,47.9 510.7,47.9 510.95,47.9 511.2,47.9 511.45,47.9 511.7,47.9 511.95,47.9 512.2,47.89 512.45,47.89 512.7,47.89 512.95,47.89 513.2,47.89 513.45,47.89 513.7,47.89 513.95,47.89 514.2,47.89 514.45,47.88 514.7,47.88 514.95,47.88 515.2,47.88 515.45,47.88 515.7,47.88 515.95,47.88 516.2,47.88 516.45,47.88 516.7,47.87 516.95,47.87 517.2,47.87 517.45,47.87 517.7,47.87 517.95,47.87 518.2,47.87 518.45,47.87 518.7,47.86 518.95,47.86 519.2,47.86 519.45,47.86 519.7,47.86 519.95,47.86 520.2,47.85 520.45,47.85 520.7,47.85 520.95,47.85 521.2,47.85 521.45,47.85 521.7,47.85 521.95,47.84 522.2,47.84 522.45,47.84 522.7,47.84 522.95,47.84 523.2,47.83 523.45,47.83 523.7,47.83 523.95,47.83 524.2,47.83 524.45,47.82 524.7,47.82 524.95,47.82 525.2,47.82 525.45,47.82 525.7,47.81 525.95,47.81 526.2,47.81 526.45,47.81 526.7,47.8 526.95,47.8 527.2,47.8 527.45,47.8 527.7,47.79 527.95,47.79 528.2,47.79 528.45,47.79 528.7,47.78 528.95,47.78 529.2,47.78 529.45,47.77 529.7,47.77 529.95,47.77 530.2,47.77 530.45,47.76 530.7,47.76 530.95,47.76 531.2,47.75 531.45,47.75 531.7,47.74 531.95,47.74 532.2,47.74 532.45,47.73 532.7,47.73 532.95,47.73 533.2,47.72 533.45,47.72 533.7,47.71 533.95,47.71 534.2,47.7 534.45,47.7 534.7,47.7 534.95,47.69 535.2,47.69 535.45,47.68 535.7,47.68 535.95,47.67 536.2,47.67 536.45,47.66 536.7,47.65 536.95,47.65 537.2,47.64 537.45,47.64 537.7,47.63 537.95,47.62 538.2,47.62 538.45,47.61 538.7,47.6 538.95,47.6 539.2,47.59 539.45,47.58 539.7,47.57 539.95,47.57 540.2,47.56 540.45,47.55 540.7,47.54 540.95,47.53 541.2,47.52 541.45,47.52 541.7,47.51 541.95,47.5 542.2,47.49 542.45,47.48 542.7,47.47 542.95,47.45 543.2,47.44 543.45,47.43 543.7,47.42 543.95,47.41 544.2,47.39 544.45,47.38 544.7,47.37 544.95,47.35 545.2,47.34 545.45,47.32 545.7,47.31 545.95,47.29 546.2,47.28 546.45,47.26 546.7,47.24 546.95,47.22 547.2,47.2 547.45,47.18 547.7,47.16 547.95,47.14 548.2,47.12 548.45,47.1 548.7,47.07 548.95,47.05 549.2,47.02 549.45,47 549.7,46.97 549.95,46.94 550.2,46.91 550.45,46.88 550.7,46.85 550.95,46.81 551.2,46.78 551.45,46.74 551.7,46.7 551.95,46.66 552.2,46.62 552.45,46.58 552.7,46.53 552.95,46.49 553.2,46.44 553.45,46.38 553.7,46.33 553.95,46.27 554.2,46.21 554.45,46.15 554.7,46.08 554.95,46.01 555.2,45.94 555.45,45.86 555.7,45.78 555.95,45.7 556.2,45.61 556.45,45.51 556.7,45.41 556.95,45.31 557.2,45.2 557.45,45.08 557.7,44.96 557.95,44.83 558.2,44.69 558.45,44.55 558.7,44.4 558.95,44.24 559.2,44.07 559.45,43.89 559.7,43.7 559.95,43.5 560.2,43.3 560.45,43.08 560.7,42.85 560.95,42.61 561.2,42.36 561.45,42.1 561.7,41.83 561.95,41.55 562.2,41.26 562.45,40.97 562.7,40.67 562.95,40.37 563.2,40.06 563.45,39.76 563.7,39.46 563.95,39.18 564.2,38.9 564.45,38.65 564.7,38.41 564.95,38.21 565.2,38.03 565.45,37.89 565.7,37.78 565.95,37.72 566.2,37.7 566.45,37.72 566.7,37.76 566.95,37.84 567.2,37.94 567.45,38.07 567.7,38.22 567.95,38.4 568.2,38.59 568.45,38.8 568.7,39.03 568.95,39.26 569.2,39.51 569.45,39.76 569.7,40.02 569.95,40.27 570.2,40.53 570.45,40.78 570.7,41.04 570.95,41.29 571.2,41.53 571.45,41.77 571.7,42 571.95,42.22 572.2,42.44 572.45,42.65 572.7,42.85 572.95,43.04 573.2,43.23 573.45,43.41 573.7,43.58 573.95,43.75 574.2,43.9 574.45,44.06 574.7,44.2 574.95,44.34 575.2,44.47 575.45,44.6 575.7,44.72 575.95,44.83 576.2,44.94 576.45,45.05 576.7,45.15 576.95,45.24 577.2,45.33 577.45,45.42 577.7,45.51 577.95,45.59 578.2,45.66 578.45,45.74 578.7,45.81 578.95,45.88 579.2,45.94 579.45,46 579.7,46.06 579.95,46.12 580.2,46.17 580.45,46.23 580.7,46.28 580.95,46.33 581.2,46.37 581.45,46.42 581.7,46.46 581.95,46.5 582.2,46.54 582.45,46.58 582.7,46.62 582.95,46.65 583.2,46.69 583.45,46.72 583.7,46.75 583.95,46.78 584.2,46.81 584.45,46.84 584.7,46.87 584.95,46.89 585.2,46.92 585.45,46.95 585.7,46.97 585.95,46.99 586.2,47.02 586.45,47.04 586.7,47.06 586.95,47.08 587.2,47.1 587.45,47.12 587.7,47.14 587.95,47.16 588.2,47.17 588.45,47.19 588.7,47.21 588.95,47.22 589.2,47.24 589.45,47.25 589.7,47.27 589.95,47.28 590.2,47.3 590.45,47.31 590.7,47.32 590.95,47.34 591.2,47.35 591.45,47.36 591.7,47.37 591.95,47.38 592.2,47.39 592.45,47.4 592.7,47.42 592.95,47.43 593.2,47.44 593.45,47.45 593.7,47.46 593.95,47.46 594.2,47.47 594.45,47.48 594.7,47.49 594.95,47.5 595.2,47.51 595.45,47.52 595.7,47.52 595.95,47.53 596.2,47.54 596.45,47.55 596.7,47.55 596.95,47.56 597.2,47.57 597.45,47.57 597.7,47.58 597.95,47.59 598.2,47.59 598.45,47.6 598.7,47.6 598.95,47.61 599.2,47.62 599.45,47.62 599.7,47.63 599.95,47.63 600.2,47.64 600.45,47.64 600.7,47.65 600.95,47.65 601.2,47.66 601.45,47.66 601.7,47.67 601.95,47.67 602.2,47.67 602.45,47.68 602.7,47.68 602.95,47.69 603.2,47.69 603.45,47.7 603.7,47.7 603.95,47.7 604.2,47.71 604.45,47.71 604.7,47.71 604.95,47.72 605.2,47.72 605.45,47.73 605.7,47.73 605.95,47.73 606.2,47.74 606.45,47.74 606.7,47.74 606.95,47.74 607.2,47.75 607.45,47.75 607.7,47.75 607.95,47.76 608.2,47.76 608.45,47.76 608.7,47.76 608.95,47.77 609.2,47.77 609.45,47.77 609.7,47.78 609.95,47.78 610.2,47.78 610.45,47.78 610.7,47.78 610.95,47.79 611.2,47.79 611.45,47.79 611.7,47.79 611.95,47.8 612.2,47.8 612.45,47.8 612.7,47.8 612.95,47.8 613.2,47.81 613.45,47.81 613.7,47.81 613.95,47.81 614.2,47.81 614.45,47.82 614.7,47.82 614.95,47.82 615.2,47.82 615.45,47.82 615.7,47.83 615.95,47.83 616.2,47.83 616.45,47.83 616.7,47.83 616.95,47.83 617.2,47.84 617.45,47.84 617.7,47.84 617.95,47.84 618.2,47.84 618.45,47.84 618.7,47.84 618.95,47.85 619.2,47.85 619.45,47.85 619.7,47.85 619.95,47.85 620.2,47.85 620.45,47.85 620.7,47.86 620.95,47.86 621.2,47.86 621.45,47.86 621.7,47.86 621.95,47.86 622.2,47.86 622.45,47.86 622.7,47.87 622.95,47.87 623.2,47.87 623.45,47.87 623.7,47.87 623.95,47.87 624.2,47.87 624.45,47.87 624.7,47.87 624.95,47.88 625.2,47.88 625.45,47.88 625.7,47.88 625.95,47.88 626.2,47.88 626.45,47.88 626.7,47.88 626.95,47.88 627.2,47.88 627.45,47.89 627.7,47.89 627.95,47.89 628.2,47.89 628.45,47.89 628.7,47.89 628.95,47.89 629.2,47.89 629.45,47.89 629.7,47.89 629.95,47.89 630.2,47.89 630.45,47.9 630.7,47.9 630.95,47.9 631.2,47.9 631.45,47.9 631.7,47.9 631.95,47.9 632.2,47.9 632.45,47.9 632.7,47.9 632.95,47.9 633.2,47.9 633.45,47.9 633.7,47.91 633.95,47.91 634.2,47.91 634.45,47.91 634.7,47.91 634.95,47.91 635.2,47.91 635.45,47.91 635.7,47.91 635.95,47.91 636.2,47.91 636.45,47.91 636.7,47.91 636.95,47.91 637.2,47.91 637.45,47.91 637.7,47.92 637.95,47.92 638.2,47.92 638.45,47.92 638.7,47.92 638.95,47.92 639.2,47.92 639.45,47.92 639.7,47.92 639.95,47.92 640.2,47.92 640.45,47.92 640.7,47.92 640.95,47.92 641.2,47.92 641.45,47.92 641.7,47.92 641.95,47.92 642.2,47.93 642.45,47.93 642.7,47.93 642.95,47.93 643.2,47.93 643.45,47.93 643.7,47.93 643.95,47.93 644.2,47.93 644.45,47.93 644.7,47.93 644.95,47.93 645.2,47.93 645.45,47.93 645.7,47.93 645.95,47.93 646.2,47.93 646.45,47.93 646.7,47.93 646.95,47.93 647.2,47.93 647.45,47.93 647.7,47.93 647.95,47.94 648.2,47.94 648.45,47.94 648.7,47.94 648.95,47.94 649.2,47.94 649.45,47.94 649.7,47.94 649.95,47.94 650.2,47.94 650.45,47.94 650.7,47.94 650.95,47.94 651.2,47.94 651.45,47.94 651.7,47.94 651.95,47.94 652.2,47.94 652.45,47.94 652.7,47.94 652.95,47.94 653.2,47.94 653.45,47.94 653.7,47.94 653.95,47.94 654.2,47.94 654.45,47.94 654.7,47.94 654.95,47.95 655.2,47.95 655.45,47.95 655.7,47.95 655.95,47.95 656.2,47.95 656.45,47.95 656.7,47.95 656.95,47.95 657.2,47.95 657.45,47.95 657.7,47.95 657.95,47.95 658.2,47.95 658.45,47.95 658.7,47.95 658.95,47.95 659.2,47.95 659.45,47.95 659.7,47.95 659.95,47.95 660.2,47.95 660.45,47.95 660.7,47.95 660.95,47.95 661.2,47.95 661.45,47.95 661.7,47.95 661.95,47.95 662.2,47.95 662.45,47.95 662.7,47.95 662.95,47.95 663.2,47.95 663.45,47.95 663.7,47.95 663.95,47.95 664.2,47.95 664.45,47.96 664.7,47.96 664.95,47.96 665.2,47.96 665.45,47.96 665.7,47.96 665.95,47.96 666.2,47.96 666.45,47.96 666.7,47.96 666.95,47.96 667.2,47.96 667.45,47.96 667.7,47.96 667.95,47.96 668.2,47.96 668.45,47.96 668.7,47.96 668.95,47.96 669.2,47.96 669.45,47.96 669.7,47.96" fill="none" stroke="#7a2fe0" stroke-width="1.35" stroke-linejoin="round" />
<polyline points="492.2,65.75 492.45,65.75 492.7,65.75 492.95,65.75 493.2,65.75 493.45,65.75 493.7,65.75 493.95,65.75 494.2,65.75 494.45,65.75 494.7,65.75 494.95,65.75 495.2,65.75 495.45,65.75 495.7,65.75 495.95,65.75 496.2,65.75 496.45,65.75 496.7,65.75 496.95,65.75 497.2,65.75 497.45,65.75 497.7,65.75 497.95,65.74 498.2,65.74 498.45,65.74 498.7,65.74 498.95,65.74 499.2,65.74 499.45,65.74 499.7,65.74 499.95,65.74 500.2,65.74 500.45,65.74 500.7,65.74 500.95,65.74 501.2,65.74 501.45,65.74 501.7,65.74 501.95,65.74 502.2,65.74 502.45,65.74 502.7,65.74 502.95,65.74 503.2,65.74 503.45,65.73 503.7,65.73 503.95,65.73 504.2,65.73 504.45,65.73 504.7,65.73 504.95,65.73 505.2,65.73 505.45,65.73 505.7,65.73 505.95,65.73 506.2,65.73 506.45,65.73 506.7,65.73 506.95,65.73 507.2,65.73 507.45,65.72 507.7,65.72 507.95,65.72 508.2,65.72 508.45,65.72 508.7,65.72 508.95,65.72 509.2,65.72 509.45,65.72 509.7,65.72 509.95,65.72 510.2,65.72 510.45,65.72 510.7,65.72 510.95,65.71 511.2,65.71 511.45,65.71 511.7,65.71 511.95,65.71 512.2,65.71 512.45,65.71 512.7,65.71 512.95,65.71 513.2,65.71 513.45,65.71 513.7,65.71 513.95,65.7 514.2,65.7 514.45,65.7 514.7,65.7 514.95,65.7 515.2,65.7 515.45,65.7 515.7,65.7 515.95,65.7 516.2,65.69 516.45,65.69 516.7,65.69 516.95,65.69 517.2,65.69 517.45,65.69 517.7,65.69 517.95,65.69 518.2,65.69 518.45,65.68 518.7,65.68 518.95,65.68 519.2,65.68 519.45,65.68 519.7,65.68 519.95,65.68 520.2,65.67 520.45,65.67 520.7,65.67 520.95,65.67 521.2,65.67 521.45,65.67 521.7,65.67 521.95,65.66 522.2,65.66 522.45,65.66 522.7,65.66 522.95,65.66 523.2,65.66 523.45,65.65 523.7,65.65 523.95,65.65 524.2,65.65 524.45,65.65 524.7,65.64 524.95,65.64 525.2,65.64 525.45,65.64 525.7,65.64 525.95,65.63 526.2,65.63 526.45,65.63 526.7,65.63 526.95,65.63 527.2,65.62 527.45,65.62 527.7,65.62 527.95,65.62 528.2,65.61 528.45,65.61 528.7,65.61 528.95,65.6 529.2,65.6 529.45,65.6 529.7,65.6 529.95,65.59 530.2,65.59 530.45,65.59 530.7,65.58 530.95,65.58 531.2,65.58 531.45,65.57 531.7,65.57 531.95,65.57 532.2,65.56 532.45,65.56 532.7,65.56 532.95,65.55 533.2,65.55 533.45,65.54 533.7,65.54 533.95,65.53 534.2,65.53 534.45,65.53 534.7,65.52 534.95,65.52 535.2,65.51 535.45,65.51 535.7,65.5 535.95,65.5 536.2,65.49 536.45,65.48 536.7,65.48 536.95,65.47 537.2,65.47 537.45,65.46 537.7,65.45 537.95,65.45 538.2,65.44 538.45,65.43 538.7,65.43 538.95,65.42 539.2,65.41 539.45,65.4 539.7,65.4 539.95,65.39 540.2,65.38 540.45,65.37 540.7,65.36 540.95,65.35 541.2,65.34 541.45,65.33 541.7,65.32 541.95,65.31 542.2,65.3 542.45,65.29 542.7,65.28 542.95,65.26 543.2,65.25 543.45,65.24 543.7,65.22 543.95,65.21 544.2,65.2 544.45,65.18 544.7,65.16 544.95,65.15 545.2,65.13 545.45,65.11 545.7,65.1 545.95,65.08 546.2,65.06 546.45,65.04 546.7,65.01 546.95,64.99 547.2,64.97 547.45,64.94 547.7,64.92 547.95,64.89 548.2,64.87 548.45,64.84 548.7,64.81 548.95,64.77 549.2,64.74 549.45,64.71 549.7,64.67 549.95,64.63 550.2,64.59 550.45,64.55 550.7,64.51 550.95,64.46 551.2,64.41 551.45,64.36 551.7,64.3 551.95,64.25 552.2,64.19 552.45,64.12 552.7,64.05 552.95,63.98 553.2,63.91 553.45,63.83 553.7,63.74 553.95,63.65 554.2,63.55 554.45,63.45 554.7,63.34 554.95,63.22 555.2,63.1 555.45,62.97 555.7,62.83 555.95,62.67 556.2,62.51 556.45,62.34 556.7,62.15 556.95,61.95 557.2,61.74 557.45,61.51 557.7,61.26 557.95,61 558.2,60.71 558.45,60.41 558.7,60.08 558.95,59.73 559.2,59.36 559.45,58.97 559.7,58.55 559.95,58.11 560.2,57.64 560.45,57.16 560.7,56.66 560.95,56.14 561.2,55.62 561.45,55.1 561.7,54.59 561.95,54.1 562.2,53.65 562.45,53.24 562.7,52.89 562.95,52.62 563.2,52.42 563.45,52.32 563.7,52.31 563.95,52.37 564.2,52.49 564.45,52.68 564.7,52.92 564.95,53.22 565.2,53.55 565.45,53.93 565.7,54.32 565.95,54.74 566.2,55.17 566.45,55.61 566.7,56.05 566.95,56.48 567.2,56.91 567.45,57.32 567.7,57.73 567.95,58.12 568.2,58.49 568.45,58.84 568.7,59.18 568.95,59.51 569.2,59.81 569.45,60.1 569.7,60.37 569.95,60.63 570.2,60.88 570.45,61.11 570.7,61.32 570.95,61.53 571.2,61.72 571.45,61.9 571.7,62.08 571.95,62.24 572.2,62.39 572.45,62.53 572.7,62.67 572.95,62.8 573.2,62.92 573.45,63.03 573.7,63.14 573.95,63.25 574.2,63.34 574.45,63.44 574.7,63.52 574.95,63.61 575.2,63.68 575.45,63.76 575.7,63.83 575.95,63.9 576.2,63.96 576.45,64.02 576.7,64.08 576.95,64.14 577.2,64.19 577.45,64.24 577.7,64.29 577.95,64.34 578.2,64.38 578.45,64.43 578.7,64.47 578.95,64.51 579.2,64.54 579.45,64.58 579.7,64.61 579.95,64.65 580.2,64.68 580.45,64.71 580.7,64.74 580.95,64.76 581.2,64.79 581.45,64.82 581.7,64.84 581.95,64.87 582.2,64.89 582.45,64.91 582.7,64.93 582.95,64.96 583.2,64.98 583.45,64.99 583.7,65.01 583.95,65.03 584.2,65.05 584.45,65.07 584.7,65.08 584.95,65.1 585.2,65.11 585.45,65.13 585.7,65.14 585.95,65.16 586.2,65.17 586.45,65.18 586.7,65.2 586.95,65.21 587.2,65.22 587.45,65.23 587.7,65.24 587.95,65.25 588.2,65.26 588.45,65.27 588.7,65.28 588.95,65.29 589.2,65.3 589.45,65.31 589.7,65.32 589.95,65.33 590.2,65.34 590.45,65.35 590.7,65.36 590.95,65.36 591.2,65.37 591.45,65.38 591.7,65.39 591.95,65.39 592.2,65.4 592.45,65.41 592.7,65.41 592.95,65.42 593.2,65.43 593.45,65.43 593.7,65.44 593.95,65.44 594.2,65.45 594.45,65.45 594.7,65.46 594.95,65.47 595.2,65.47 595.45,65.48 595.7,65.48 595.95,65.49 596.2,65.49 596.45,65.49 596.7,65.5 596.95,65.5 597.2,65.51 597.45,65.51 597.7,65.52 597.95,65.52 598.2,65.52 598.45,65.53 598.7,65.53 598.95,65.54 599.2,65.54 599.45,65.54 599.7,65.55 599.95,65.55 600.2,65.55 600.45,65.56 600.7,65.56 600.95,65.56 601.2,65.57 601.45,65.57 601.7,65.57 601.95,65.57 602.2,65.58 602.45,65.58 602.7,65.58 602.95,65.59 603.2,65.59 603.45,65.59 603.7,65.59 603.95,65.6 604.2,65.6 604.45,65.6 604.7,65.6 604.95,65.61 605.2,65.61 605.45,65.61 605.7,65.61 605.95,65.61 606.2,65.62 606.45,65.62 606.7,65.62 606.95,65.62 607.2,65.62 607.45,65.63 607.7,65.63 607.95,65.63 608.2,65.63 608.45,65.63 608.7,65.64 608.95,65.64 609.2,65.64 609.45,65.64 609.7,65.64 609.95,65.64 610.2,65.65 610.45,65.65 610.7,65.65 610.95,65.65 611.2,65.65 611.45,65.65 611.7,65.66 611.95,65.66 612.2,65.66 612.45,65.66 612.7,65.66 612.95,65.66 613.2,65.66 613.45,65.67 613.7,65.67 613.95,65.67 614.2,65.67 614.45,65.67 614.7,65.67 614.95,65.67 615.2,65.67 615.45,65.68 615.7,65.68 615.95,65.68 616.2,65.68 616.45,65.68 616.7,65.68 616.95,65.68 617.2,65.68 617.45,65.68 617.7,65.69 617.95,65.69 618.2,65.69 618.45,65.69 618.7,65.69 618.95,65.69 619.2,65.69 619.45,65.69 619.7,65.69 619.95,65.69 620.2,65.7 620.45,65.7 620.7,65.7 620.95,65.7 621.2,65.7 621.45,65.7 621.7,65.7 621.95,65.7 622.2,65.7 622.45,65.7 622.7,65.7 622.95,65.7 623.2,65.71 623.45,65.71 623.7,65.71 623.95,65.71 624.2,65.71 624.45,65.71 624.7,65.71 624.95,65.71 625.2,65.71 625.45,65.71 625.7,65.71 625.95,65.71 626.2,65.71 626.45,65.72 626.7,65.72 626.95,65.72 627.2,65.72 627.45,65.72 627.7,65.72 627.95,65.72 628.2,65.72 628.45,65.72 628.7,65.72 628.95,65.72 629.2,65.72 629.45,65.72 629.7,65.72 629.95,65.72 630.2,65.72 630.45,65.72 630.7,65.73 630.95,65.73 631.2,65.73 631.45,65.73 631.7,65.73 631.95,65.73 632.2,65.73 632.45,65.73 632.7,65.73 632.95,65.73 633.2,65.73 633.45,65.73 633.7,65.73 633.95,65.73 634.2,65.73 634.45,65.73 634.7,65.73 634.95,65.73 635.2,65.73 635.45,65.73 635.7,65.74 635.95,65.74 636.2,65.74 636.45,65.74 636.7,65.74 636.95,65.74 637.2,65.74 637.45,65.74 637.7,65.74 637.95,65.74 638.2,65.74 638.45,65.74 638.7,65.74 638.95,65.74 639.2,65.74 639.45,65.74 639.7,65.74 639.95,65.74 640.2,65.74 640.45,65.74 640.7,65.74 640.95,65.74 641.2,65.74 641.45,65.74 641.7,65.74 641.95,65.75 642.2,65.75 642.45,65.75 642.7,65.75 642.95,65.75 643.2,65.75 643.45,65.75 643.7,65.75 643.95,65.75 644.2,65.75 644.45,65.75 644.7,65.75 644.95,65.75 645.2,65.75 645.45,65.75 645.7,65.75 645.95,65.75 646.2,65.75 646.45,65.75 646.7,65.75 646.95,65.75 647.2,65.75 647.45,65.75 647.7,65.75 647.95,65.75 648.2,65.75 648.45,65.75 648.7,65.75 648.95,65.75 649.2,65.75 649.45,65.75 649.7,65.75 649.95,65.75 650.2,65.76 650.45,65.76 650.7,65.76 650.95,65.76 651.2,65.76 651.45,65.76 651.7,65.76 651.95,65.76 652.2,65.76 652.45,65.76 652.7,65.76 652.95,65.76 653.2,65.76 653.45,65.76 653.7,65.76 653.95,65.76 654.2,65.76 654.45,65.76 654.7,65.76 654.95,65.76 655.2,65.76 655.45,65.76 655.7,65.76 655.95,65.76 656.2,65.76 656.45,65.76 656.7,65.76 656.95,65.76 657.2,65.76 657.45,65.76 657.7,65.76 657.95,65.76 658.2,65.76 658.45,65.76 658.7,65.76 658.95,65.76 659.2,65.76 659.45,65.76 659.7,65.76 659.95,65.76 660.2,65.76 660.45,65.76 660.7,65.76 660.95,65.76 661.2,65.76 661.45,65.76 661.7,65.77 661.95,65.77 662.2,65.77 662.45,65.77 662.7,65.77 662.95,65.77 663.2,65.77 663.45,65.77 663.7,65.77 663.95,65.77 664.2,65.77 664.45,65.77 664.7,65.77 664.95,65.77 665.2,65.77 665.45,65.77 665.7,65.77 665.95,65.77 666.2,65.77 666.45,65.77 666.7,65.77 666.95,65.77 667.2,65.77 667.45,65.77 667.7,65.77 667.95,65.77 668.2,65.77 668.45,65.77 668.7,65.77 668.95,65.77 669.2,65.77 669.45,65.77 669.7,65.77" fill="none" stroke="#e0505f" stroke-width="1.35" stroke-linejoin="round" />
<polyline points="492.2,105.96 492.45,105.96 492.7,105.96 492.95,105.96 493.2,105.96 493.45,105.96 493.7,105.96 493.95,105.96 494.2,105.96 494.45,105.96 494.7,105.96 494.95,105.96 495.2,105.96 495.45,105.96 495.7,105.96 495.95,105.96 496.2,105.96 496.45,105.96 496.7,105.96 496.95,105.96 497.2,105.96 497.45,105.96 497.7,105.96 497.95,105.96 498.2,105.96 498.45,105.96 498.7,105.96 498.95,105.95 499.2,105.95 499.45,105.95 499.7,105.95 499.95,105.95 500.2,105.95 500.45,105.95 500.7,105.95 500.95,105.95 501.2,105.95 501.45,105.95 501.7,105.95 501.95,105.95 502.2,105.95 502.45,105.95 502.7,105.95 502.95,105.95 503.2,105.95 503.45,105.95 503.7,105.95 503.95,105.95 504.2,105.95 504.45,105.95 504.7,105.95 504.95,105.94 505.2,105.94 505.45,105.94 505.7,105.94 505.95,105.94 506.2,105.94 506.45,105.94 506.7,105.94 506.95,105.94 507.2,105.94 507.45,105.94 507.7,105.94 507.95,105.94 508.2,105.94 508.45,105.94 508.7,105.94 508.95,105.94 509.2,105.94 509.45,105.93 509.7,105.93 509.95,105.93 510.2,105.93 510.45,105.93 510.7,105.93 510.95,105.93 511.2,105.93 511.45,105.93 511.7,105.93 511.95,105.93 512.2,105.93 512.45,105.93 512.7,105.93 512.95,105.92 513.2,105.92 513.45,105.92 513.7,105.92 513.95,105.92 514.2,105.92 514.45,105.92 514.7,105.92 514.95,105.92 515.2,105.92 515.45,105.92 515.7,105.92 515.95,105.91 516.2,105.91 516.45,105.91 516.7,105.91 516.95,105.91 517.2,105.91 517.45,105.91 517.7,105.91 517.95,105.91 518.2,105.91 518.45,105.9 518.7,105.9 518.95,105.9 519.2,105.9 519.45,105.9 519.7,105.9 519.95,105.9 520.2,105.9 520.45,105.89 520.7,105.89 520.95,105.89 521.2,105.89 521.45,105.89 521.7,105.89 521.95,105.89 522.2,105.88 522.45,105.88 522.7,105.88 522.95,105.88 523.2,105.88 523.45,105.88 523.7,105.88 523.95,105.87 524.2,105.87 524.45,105.87 524.7,105.87 524.95,105.87 525.2,105.87 525.45,105.86 525.7,105.86 525.95,105.86 526.2,105.86 526.45,105.86 526.7,105.85 526.95,105.85 527.2,105.85 527.45,105.85 527.7,105.84 527.95,105.84 528.2,105.84 528.45,105.84 528.7,105.83 528.95,105.83 529.2,105.83 529.45,105.83 529.7,105.82 529.95,105.82 530.2,105.82 530.45,105.82 530.7,105.81 530.95,105.81 531.2,105.81 531.45,105.8 531.7,105.8 531.95,105.8 532.2,105.79 532.45,105.79 532.7,105.79 532.95,105.78 533.2,105.78 533.45,105.77 533.7,105.77 533.95,105.77 534.2,105.76 534.45,105.76 534.7,105.75 534.95,105.75 535.2,105.74 535.45,105.74 535.7,105.73 535.95,105.73 536.2,105.72 536.45,105.72 536.7,105.71 536.95,105.7 537.2,105.7 537.45,105.69 537.7,105.68 537.95,105.68 538.2,105.67 538.45,105.66 538.7,105.66 538.95,105.65 539.2,105.64 539.45,105.63 539.7,105.62 539.95,105.62 540.2,105.61 540.45,105.6 540.7,105.59 540.95,105.58 541.2,105.57 541.45,105.56 541.7,105.54 541.95,105.53 542.2,105.52 542.45,105.51 542.7,105.49 542.95,105.48 543.2,105.47 543.45,105.45 543.7,105.44 543.95,105.42 544.2,105.4 544.45,105.38 544.7,105.37 544.95,105.35 545.2,105.33 545.45,105.3 545.7,105.28 545.95,105.26 546.2,105.23 546.45,105.21 546.7,105.18 546.95,105.15 547.2,105.12 547.45,105.09 547.7,105.06 547.95,105.02 548.2,104.99 548.45,104.95 548.7,104.91 548.95,104.86 549.2,104.82 549.45,104.77 549.7,104.72 549.95,104.66 550.2,104.6 550.45,104.54 550.7,104.47 550.95,104.4 551.2,104.32 551.45,104.24 551.7,104.15 551.95,104.05 552.2,103.94 552.45,103.83 552.7,103.71 552.95,103.58 553.2,103.43 553.45,103.28 553.7,103.11 553.95,102.92 554.2,102.71 554.45,102.49 554.7,102.24 554.95,101.96 555.2,101.66 555.45,101.32 555.7,100.94 555.95,100.51 556.2,100.03 556.45,99.49 556.7,98.88 556.95,98.19 557.2,97.4 557.45,96.5 557.7,95.46 557.95,94.28 558.2,92.91 558.45,91.34 558.7,89.53 558.95,87.47 559.2,85.13 559.45,82.51 559.7,79.65 559.95,76.61 560.2,73.56 560.45,70.7 560.7,68.34 560.95,66.76 561.2,66.2 561.45,66.56 561.7,67.62 561.95,69.26 562.2,71.33 562.45,73.67 562.7,76.14 562.95,78.61 563.2,81 563.45,83.24 563.7,85.32 563.95,87.22 564.2,88.93 564.45,90.47 564.7,91.85 564.95,93.08 565.2,94.18 565.45,95.16 565.7,96.04 565.95,96.82 566.2,97.53 566.45,98.16 566.7,98.73 566.95,99.24 567.2,99.71 567.45,100.13 567.7,100.51 567.95,100.86 568.2,101.17 568.45,101.46 568.7,101.73 568.95,101.97 569.2,102.2 569.45,102.4 569.7,102.59 569.95,102.77 570.2,102.93 570.45,103.09 570.7,103.23 570.95,103.36 571.2,103.48 571.45,103.59 571.7,103.7 571.95,103.8 572.2,103.89 572.45,103.98 572.7,104.06 572.95,104.14 573.2,104.22 573.45,104.28 573.7,104.35 573.95,104.41 574.2,104.47 574.45,104.52 574.7,104.58 574.95,104.63 575.2,104.67 575.45,104.72 575.7,104.76 575.95,104.8 576.2,104.84 576.45,104.88 576.7,104.91 576.95,104.94 577.2,104.98 577.45,105.01 577.7,105.04 577.95,105.06 578.2,105.09 578.45,105.12 578.7,105.14 578.95,105.16 579.2,105.19 579.45,105.21 579.7,105.23 579.95,105.25 580.2,105.27 580.45,105.29 580.7,105.3 580.95,105.32 581.2,105.34 581.45,105.35 581.7,105.37 581.95,105.38 582.2,105.4 582.45,105.41 582.7,105.43 582.95,105.44 583.2,105.45 583.45,105.46 583.7,105.48 583.95,105.49 584.2,105.5 584.45,105.51 584.7,105.52 584.95,105.53 585.2,105.54 585.45,105.55 585.7,105.56 585.95,105.57 586.2,105.57 586.45,105.58 586.7,105.59 586.95,105.6 587.2,105.61 587.45,105.61 587.7,105.62 587.95,105.63 588.2,105.63 588.45,105.64 588.7,105.65 588.95,105.65 589.2,105.66 589.45,105.67 589.7,105.67 589.95,105.68 590.2,105.68 590.45,105.69 590.7,105.69 590.95,105.7 591.2,105.7 591.45,105.71 591.7,105.71 591.95,105.72 592.2,105.72 592.45,105.73 592.7,105.73 592.95,105.73 593.2,105.74 593.45,105.74 593.7,105.75 593.95,105.75 594.2,105.75 594.45,105.76 594.7,105.76 594.95,105.77 595.2,105.77 595.45,105.77 595.7,105.78 595.95,105.78 596.2,105.78 596.45,105.78 596.7,105.79 596.95,105.79 597.2,105.79 597.45,105.8 597.7,105.8 597.95,105.8 598.2,105.8 598.45,105.81 598.7,105.81 598.95,105.81 599.2,105.81 599.45,105.82 599.7,105.82 599.95,105.82 600.2,105.82 600.45,105.83 600.7,105.83 600.95,105.83 601.2,105.83 601.45,105.83 601.7,105.84 601.95,105.84 602.2,105.84 602.45,105.84 602.7,105.84 602.95,105.85 603.2,105.85 603.45,105.85 603.7,105.85 603.95,105.85 604.2,105.86 604.45,105.86 604.7,105.86 604.95,105.86 605.2,105.86 605.45,105.86 605.7,105.86 605.95,105.87 606.2,105.87 606.45,105.87 606.7,105.87 606.95,105.87 607.2,105.87 607.45,105.87 607.7,105.88 607.95,105.88 608.2,105.88 608.45,105.88 608.7,105.88 608.95,105.88 609.2,105.88 609.45,105.88 609.7,105.89 609.95,105.89 610.2,105.89 610.45,105.89 610.7,105.89 610.95,105.89 611.2,105.89 611.45,105.89 611.7,105.89 611.95,105.9 612.2,105.9 612.45,105.9 612.7,105.9 612.95,105.9 613.2,105.9 613.45,105.9 613.7,105.9 613.95,105.9 614.2,105.9 614.45,105.91 614.7,105.91 614.95,105.91 615.2,105.91 615.45,105.91 615.7,105.91 615.95,105.91 616.2,105.91 616.45,105.91 616.7,105.91 616.95,105.91 617.2,105.91 617.45,105.92 617.7,105.92 617.95,105.92 618.2,105.92 618.45,105.92 618.7,105.92 618.95,105.92 619.2,105.92 619.45,105.92 619.7,105.92 619.95,105.92 620.2,105.92 620.45,105.92 620.7,105.92 620.95,105.92 621.2,105.93 621.45,105.93 621.7,105.93 621.95,105.93 622.2,105.93 622.45,105.93 622.7,105.93 622.95,105.93 623.2,105.93 623.45,105.93 623.7,105.93 623.95,105.93 624.2,105.93 624.45,105.93 624.7,105.93 624.95,105.93 625.2,105.93 625.45,105.93 625.7,105.94 625.95,105.94 626.2,105.94 626.45,105.94 626.7,105.94 626.95,105.94 627.2,105.94 627.45,105.94 627.7,105.94 627.95,105.94 628.2,105.94 628.45,105.94 628.7,105.94 628.95,105.94 629.2,105.94 629.45,105.94 629.7,105.94 629.95,105.94 630.2,105.94 630.45,105.94 630.7,105.94 630.95,105.94 631.2,105.95 631.45,105.95 631.7,105.95 631.95,105.95 632.2,105.95 632.45,105.95 632.7,105.95 632.95,105.95 633.2,105.95 633.45,105.95 633.7,105.95 633.95,105.95 634.2,105.95 634.45,105.95 634.7,105.95 634.95,105.95 635.2,105.95 635.45,105.95 635.7,105.95 635.95,105.95 636.2,105.95 636.45,105.95 636.7,105.95 636.95,105.95 637.2,105.95 637.45,105.95 637.7,105.95 637.95,105.95 638.2,105.95 638.45,105.95 638.7,105.96 638.95,105.96 639.2,105.96 639.45,105.96 639.7,105.96 639.95,105.96 640.2,105.96 640.45,105.96 640.7,105.96 640.95,105.96 641.2,105.96 641.45,105.96 641.7,105.96 641.95,105.96 642.2,105.96 642.45,105.96 642.7,105.96 642.95,105.96 643.2,105.96 643.45,105.96 643.7,105.96 643.95,105.96 644.2,105.96 644.45,105.96 644.7,105.96 644.95,105.96 645.2,105.96 645.45,105.96 645.7,105.96 645.95,105.96 646.2,105.96 646.45,105.96 646.7,105.96 646.95,105.96 647.2,105.96 647.45,105.96 647.7,105.96 647.95,105.96 648.2,105.96 648.45,105.96 648.7,105.96 648.95,105.97 649.2,105.97 649.45,105.97 649.7,105.97 649.95,105.97 650.2,105.97 650.45,105.97 650.7,105.97 650.95,105.97 651.2,105.97 651.45,105.97 651.7,105.97 651.95,105.97 652.2,105.97 652.45,105.97 652.7,105.97 652.95,105.97 653.2,105.97 653.45,105.97 653.7,105.97 653.95,105.97 654.2,105.97 654.45,105.97 654.7,105.97 654.95,105.97 655.2,105.97 655.45,105.97 655.7,105.97 655.95,105.97 656.2,105.97 656.45,105.97 656.7,105.97 656.95,105.97 657.2,105.97 657.45,105.97 657.7,105.97 657.95,105.97 658.2,105.97 658.45,105.97 658.7,105.97 658.95,105.97 659.2,105.97 659.45,105.97 659.7,105.97 659.95,105.97 660.2,105.97 660.45,105.97 660.7,105.97 660.95,105.97 661.2,105.97 661.45,105.97 661.7,105.97 661.95,105.97 662.2,105.97 662.45,105.97 662.7,105.97 662.95,105.97 663.2,105.97 663.45,105.97 663.7,105.97 663.95,105.97 664.2,105.97 664.45,105.97 664.7,105.97 664.95,105.98 665.2,105.98 665.45,105.98 665.7,105.98 665.95,105.98 666.2,105.98 666.45,105.98 666.7,105.98 666.95,105.98 667.2,105.98 667.45,105.98 667.7,105.98 667.95,105.98 668.2,105.98 668.45,105.98 668.7,105.98 668.95,105.98 669.2,105.98 669.45,105.98 669.7,105.98" fill="none" stroke="#4fc1f6" stroke-width="1.35" stroke-linejoin="round" />
<polyline points="492.2,142.48 492.45,142.48 492.7,142.48 492.95,142.48 493.2,142.48 493.45,142.48 493.7,142.48 493.95,142.48 494.2,142.48 494.45,142.48 494.7,142.48 494.95,142.48 495.2,142.48 495.45,142.47 495.7,142.47 495.95,142.47 496.2,142.47 496.45,142.47 496.7,142.47 496.95,142.47 497.2,142.47 497.45,142.47 497.7,142.47 497.95,142.47 498.2,142.47 498.45,142.47 498.7,142.47 498.95,142.47 499.2,142.47 499.45,142.47 499.7,142.47 499.95,142.47 500.2,142.47 500.45,142.47 500.7,142.47 500.95,142.47 501.2,142.47 501.45,142.47 501.7,142.47 501.95,142.47 502.2,142.47 502.45,142.47 502.7,142.47 502.95,142.47 503.2,142.47 503.45,142.47 503.7,142.47 503.95,142.47 504.2,142.47 504.45,142.47 504.7,142.47 504.95,142.47 505.2,142.46 505.45,142.46 505.7,142.46 505.95,142.46 506.2,142.46 506.45,142.46 506.7,142.46 506.95,142.46 507.2,142.46 507.45,142.46 507.7,142.46 507.95,142.46 508.2,142.46 508.45,142.46 508.7,142.46 508.95,142.46 509.2,142.46 509.45,142.46 509.7,142.46 509.95,142.46 510.2,142.46 510.45,142.46 510.7,142.46 510.95,142.46 511.2,142.46 511.45,142.45 511.7,142.45 511.95,142.45 512.2,142.45 512.45,142.45 512.7,142.45 512.95,142.45 513.2,142.45 513.45,142.45 513.7,142.45 513.95,142.45 514.2,142.45 514.45,142.45 514.7,142.45 514.95,142.45 515.2,142.45 515.45,142.45 515.7,142.45 515.95,142.44 516.2,142.44 516.45,142.44 516.7,142.44 516.95,142.44 517.2,142.44 517.45,142.44 517.7,142.44 517.95,142.44 518.2,142.44 518.45,142.44 518.7,142.44 518.95,142.44 519.2,142.43 519.45,142.43 519.7,142.43 519.95,142.43 520.2,142.43 520.45,142.43 520.7,142.43 520.95,142.43 521.2,142.43 521.45,142.43 521.7,142.43 521.95,142.42 522.2,142.42 522.45,142.42 522.7,142.42 522.95,142.42 523.2,142.42 523.45,142.42 523.7,142.42 523.95,142.42 524.2,142.41 524.45,142.41 524.7,142.41 524.95,142.41 525.2,142.41 525.45,142.41 525.7,142.41 525.95,142.4 526.2,142.4 526.45,142.4 526.7,142.4 526.95,142.4 527.2,142.4 527.45,142.4 527.7,142.39 527.95,142.39 528.2,142.39 528.45,142.39 528.7,142.39 528.95,142.38 529.2,142.38 529.45,142.38 529.7,142.38 529.95,142.38 530.2,142.37 530.45,142.37 530.7,142.37 530.95,142.37 531.2,142.36 531.45,142.36 531.7,142.36 531.95,142.36 532.2,142.35 532.45,142.35 532.7,142.35 532.95,142.34 533.2,142.34 533.45,142.34 533.7,142.33 533.95,142.33 534.2,142.33 534.45,142.32 534.7,142.32 534.95,142.32 535.2,142.31 535.45,142.31 535.7,142.3 535.95,142.3 536.2,142.29 536.45,142.29 536.7,142.28 536.95,142.28 537.2,142.27 537.45,142.27 537.7,142.26 537.95,142.26 538.2,142.25 538.45,142.24 538.7,142.24 538.95,142.23 539.2,142.22 539.45,142.22 539.7,142.21 539.95,142.2 540.2,142.19 540.45,142.18 540.7,142.17 540.95,142.17 541.2,142.16 541.45,142.14 541.7,142.13 541.95,142.12 542.2,142.11 542.45,142.1 542.7,142.08 542.95,142.07 543.2,142.06 543.45,142.04 543.7,142.03 543.95,142.01 544.2,141.99 544.45,141.97 544.7,141.95 544.95,141.93 545.2,141.91 545.45,141.89 545.7,141.86 545.95,141.83 546.2,141.81 546.45,141.78 546.7,141.75 546.95,141.71 547.2,141.67 547.45,141.64 547.7,141.59 547.95,141.55 548.2,141.5 548.45,141.45 548.7,141.39 548.95,141.33 549.2,141.27 549.45,141.2 549.7,141.12 549.95,141.04 550.2,140.95 550.45,140.84 550.7,140.73 550.95,140.61 551.2,140.48 551.45,140.33 551.7,140.16 551.95,139.98 552.2,139.77 552.45,139.53 552.7,139.27 552.95,138.97 553.2,138.62 553.45,138.23 553.7,137.77 553.95,137.24 554.2,136.62 554.45,135.9 554.7,135.03 554.95,134.01 555.2,132.78 555.45,131.29 555.7,129.49 555.95,127.3 556.2,124.63 556.45,121.41 556.7,117.6 556.95,113.24 557.2,108.56 557.45,104.07 557.7,100.58 557.95,98.95 558.2,99.38 558.45,101.22 558.7,104.11 558.95,107.62 559.2,111.33 559.45,114.95 559.7,118.29 559.95,121.27 560.2,123.87 560.45,126.13 560.7,128.06 560.95,129.72 561.2,131.14 561.45,132.35 561.7,133.4 561.95,134.31 562.2,135.09 562.45,135.78 562.7,136.38 562.95,136.9 563.2,137.36 563.45,137.78 563.7,138.14 563.95,138.47 564.2,138.76 564.45,139.02 564.7,139.25 564.95,139.47 565.2,139.66 565.45,139.84 565.7,140 565.95,140.14 566.2,140.28 566.45,140.4 566.7,140.52 566.95,140.62 567.2,140.72 567.45,140.81 567.7,140.89 567.95,140.97 568.2,141.04 568.45,141.1 568.7,141.17 568.95,141.23 569.2,141.28 569.45,141.33 569.7,141.38 569.95,141.42 570.2,141.47 570.45,141.51 570.7,141.55 570.95,141.58 571.2,141.62 571.45,141.65 571.7,141.68 571.95,141.71 572.2,141.73 572.45,141.76 572.7,141.78 572.95,141.81 573.2,141.83 573.45,141.85 573.7,141.87 573.95,141.89 574.2,141.91 574.45,141.93 574.7,141.94 574.95,141.96 575.2,141.97 575.45,141.99 575.7,142 575.95,142.02 576.2,142.03 576.45,142.04 576.7,142.05 576.95,142.07 577.2,142.08 577.45,142.09 577.7,142.1 577.95,142.11 578.2,142.12 578.45,142.13 578.7,142.14 578.95,142.14 579.2,142.15 579.45,142.16 579.7,142.17 579.95,142.18 580.2,142.18 580.45,142.19 580.7,142.2 580.95,142.2 581.2,142.21 581.45,142.22 581.7,142.22 581.95,142.23 582.2,142.23 582.45,142.24 582.7,142.24 582.95,142.25 583.2,142.25 583.45,142.26 583.7,142.26 583.95,142.27 584.2,142.27 584.45,142.28 584.7,142.28 584.95,142.28 585.2,142.29 585.45,142.29 585.7,142.3 585.95,142.3 586.2,142.3 586.45,142.31 586.7,142.31 586.95,142.31 587.2,142.32 587.45,142.32 587.7,142.32 587.95,142.33 588.2,142.33 588.45,142.33 588.7,142.33 588.95,142.34 589.2,142.34 589.45,142.34 589.7,142.34 589.95,142.35 590.2,142.35 590.45,142.35 590.7,142.35 590.95,142.36 591.2,142.36 591.45,142.36 591.7,142.36 591.95,142.36 592.2,142.37 592.45,142.37 592.7,142.37 592.95,142.37 593.2,142.37 593.45,142.38 593.7,142.38 593.95,142.38 594.2,142.38 594.45,142.38 594.7,142.38 594.95,142.39 595.2,142.39 595.45,142.39 595.7,142.39 595.95,142.39 596.2,142.39 596.45,142.39 596.7,142.4 596.95,142.4 597.2,142.4 597.45,142.4 597.7,142.4 597.95,142.4 598.2,142.4 598.45,142.4 598.7,142.41 598.95,142.41 599.2,142.41 599.45,142.41 599.7,142.41 599.95,142.41 600.2,142.41 600.45,142.41 600.7,142.41 600.95,142.41 601.2,142.42 601.45,142.42 601.7,142.42 601.95,142.42 602.2,142.42 602.45,142.42 602.7,142.42 602.95,142.42 603.2,142.42 603.45,142.42 603.7,142.42 603.95,142.43 604.2,142.43 604.45,142.43 604.7,142.43 604.95,142.43 605.2,142.43 605.45,142.43 605.7,142.43 605.95,142.43 606.2,142.43 606.45,142.43 606.7,142.43 606.95,142.43 607.2,142.44 607.45,142.44 607.7,142.44 607.95,142.44 608.2,142.44 608.45,142.44 608.7,142.44 608.95,142.44 609.2,142.44 609.45,142.44 609.7,142.44 609.95,142.44 610.2,142.44 610.45,142.44 610.7,142.44 610.95,142.44 611.2,142.44 611.45,142.44 611.7,142.45 611.95,142.45 612.2,142.45 612.45,142.45 612.7,142.45 612.95,142.45 613.2,142.45 613.45,142.45 613.7,142.45 613.95,142.45 614.2,142.45 614.45,142.45 614.7,142.45 614.95,142.45 615.2,142.45 615.45,142.45 615.7,142.45 615.95,142.45 616.2,142.45 616.45,142.45 616.7,142.45 616.95,142.45 617.2,142.46 617.45,142.46 617.7,142.46 617.95,142.46 618.2,142.46 618.45,142.46 618.7,142.46 618.95,142.46 619.2,142.46 619.45,142.46 619.7,142.46 619.95,142.46 620.2,142.46 620.45,142.46 620.7,142.46 620.95,142.46 621.2,142.46 621.45,142.46 621.7,142.46 621.95,142.46 622.2,142.46 622.45,142.46 622.7,142.46 622.95,142.46 623.2,142.46 623.45,142.46 623.7,142.46 623.95,142.46 624.2,142.46 624.45,142.46 624.7,142.46 624.95,142.46 625.2,142.47 625.45,142.47 625.7,142.47 625.95,142.47 626.2,142.47 626.45,142.47 626.7,142.47 626.95,142.47 627.2,142.47 627.45,142.47 627.7,142.47 627.95,142.47 628.2,142.47 628.45,142.47 628.7,142.47 628.95,142.47 629.2,142.47 629.45,142.47 629.7,142.47 629.95,142.47 630.2,142.47 630.45,142.47 630.7,142.47 630.95,142.47 631.2,142.47 631.45,142.47 631.7,142.47 631.95,142.47 632.2,142.47 632.45,142.47 632.7,142.47 632.95,142.47 633.2,142.47 633.45,142.47 633.7,142.47 633.95,142.47 634.2,142.47 634.45,142.47 634.7,142.47 634.95,142.47 635.2,142.47 635.45,142.47 635.7,142.47 635.95,142.47 636.2,142.47 636.45,142.47 636.7,142.47 636.95,142.47 637.2,142.47 637.45,142.48 637.7,142.48 637.95,142.48 638.2,142.48 638.45,142.48 638.7,142.48 638.95,142.48 639.2,142.48 639.45,142.48 639.7,142.48 639.95,142.48 640.2,142.48 640.45,142.48 640.7,142.48 640.95,142.48 641.2,142.48 641.45,142.48 641.7,142.48 641.95,142.48 642.2,142.48 642.45,142.48 642.7,142.48 642.95,142.48 643.2,142.48 643.45,142.48 643.7,142.48 643.95,142.48 644.2,142.48 644.45,142.48 644.7,142.48 644.95,142.48 645.2,142.48 645.45,142.48 645.7,142.48 645.95,142.48 646.2,142.48 646.45,142.48 646.7,142.48 646.95,142.48 647.2,142.48 647.45,142.48 647.7,142.48 647.95,142.48 648.2,142.48 648.45,142.48 648.7,142.48 648.95,142.48 649.2,142.48 649.45,142.48 649.7,142.48 649.95,142.48 650.2,142.48 650.45,142.48 650.7,142.48 650.95,142.48 651.2,142.48 651.45,142.48 651.7,142.48 651.95,142.48 652.2,142.48 652.45,142.48 652.7,142.48 652.95,142.48 653.2,142.48 653.45,142.48 653.7,142.48 653.95,142.48 654.2,142.48 654.45,142.48 654.7,142.48 654.95,142.48 655.2,142.48 655.45,142.48 655.7,142.48 655.95,142.48 656.2,142.48 656.45,142.48 656.7,142.48 656.95,142.48 657.2,142.48 657.45,142.48 657.7,142.48 657.95,142.48 658.2,142.48 658.45,142.48 658.7,142.48 658.95,142.48 659.2,142.48 659.45,142.48 659.7,142.48 659.95,142.48 660.2,142.48 660.45,142.49 660.7,142.49 660.95,142.49 661.2,142.49 661.45,142.49 661.7,142.49 661.95,142.49 662.2,142.49 662.45,142.49 662.7,142.49 662.95,142.49 663.2,142.49 663.45,142.49 663.7,142.49 663.95,142.49 664.2,142.49 664.45,142.49 664.7,142.49 664.95,142.49 665.2,142.49 665.45,142.49 665.7,142.49 665.95,142.49 666.2,142.49 666.45,142.49 666.7,142.49 666.95,142.49 667.2,142.49 667.45,142.49 667.7,142.49 667.95,142.49 668.2,142.49 668.45,142.49 668.7,142.49 668.95,142.49 669.2,142.49 669.45,142.49 669.7,142.49" fill="none" stroke="#e8942c" stroke-width="1.35" stroke-linejoin="round" />
<polyline points="492.2,186.29 492.45,186.29 492.7,186.29 492.95,186.29 493.2,186.29 493.45,186.29 493.7,186.29 493.95,186.29 494.2,186.29 494.45,186.29 494.7,186.29 494.95,186.29 495.2,186.29 495.45,186.29 495.7,186.29 495.95,186.29 496.2,186.29 496.45,186.29 496.7,186.29 496.95,186.29 497.2,186.29 497.45,186.29 497.7,186.29 497.95,186.29 498.2,186.29 498.45,186.29 498.7,186.29 498.95,186.28 499.2,186.28 499.45,186.28 499.7,186.28 499.95,186.28 500.2,186.28 500.45,186.28 500.7,186.28 500.95,186.28 501.2,186.28 501.45,186.28 501.7,186.28 501.95,186.28 502.2,186.28 502.45,186.28 502.7,186.28 502.95,186.28 503.2,186.28 503.45,186.28 503.7,186.28 503.95,186.28 504.2,186.28 504.45,186.28 504.7,186.28 504.95,186.28 505.2,186.28 505.45,186.28 505.7,186.28 505.95,186.28 506.2,186.28 506.45,186.28 506.7,186.28 506.95,186.28 507.2,186.28 507.45,186.28 507.7,186.28 507.95,186.28 508.2,186.28 508.45,186.28 508.7,186.28 508.95,186.28 509.2,186.28 509.45,186.28 509.7,186.28 509.95,186.28 510.2,186.28 510.45,186.28 510.7,186.28 510.95,186.28 511.2,186.28 511.45,186.28 511.7,186.27 511.95,186.27 512.2,186.27 512.45,186.27 512.7,186.27 512.95,186.27 513.2,186.27 513.45,186.27 513.7,186.27 513.95,186.27 514.2,186.27 514.45,186.27 514.7,186.27 514.95,186.27 515.2,186.27 515.45,186.27 515.7,186.27 515.95,186.27 516.2,186.27 516.45,186.27 516.7,186.27 516.95,186.27 517.2,186.27 517.45,186.27 517.7,186.27 517.95,186.27 518.2,186.27 518.45,186.26 518.7,186.26 518.95,186.26 519.2,186.26 519.45,186.26 519.7,186.26 519.95,186.26 520.2,186.26 520.45,186.26 520.7,186.26 520.95,186.26 521.2,186.26 521.45,186.26 521.7,186.26 521.95,186.26 522.2,186.26 522.45,186.26 522.7,186.25 522.95,186.25 523.2,186.25 523.45,186.25 523.7,186.25 523.95,186.25 524.2,186.25 524.45,186.25 524.7,186.25 524.95,186.25 525.2,186.25 525.45,186.25 525.7,186.25 525.95,186.24 526.2,186.24 526.45,186.24 526.7,186.24 526.95,186.24 527.2,186.24 527.45,186.24 527.7,186.24 527.95,186.24 528.2,186.23 528.45,186.23 528.7,186.23 528.95,186.23 529.2,186.23 529.45,186.23 529.7,186.23 529.95,186.22 530.2,186.22 530.45,186.22 530.7,186.22 530.95,186.22 531.2,186.22 531.45,186.22 531.7,186.21 531.95,186.21 532.2,186.21 532.45,186.21 532.7,186.21 532.95,186.2 533.2,186.2 533.45,186.2 533.7,186.2 533.95,186.19 534.2,186.19 534.45,186.19 534.7,186.19 534.95,186.18 535.2,186.18 535.45,186.18 535.7,186.17 535.95,186.17 536.2,186.17 536.45,186.16 536.7,186.16 536.95,186.16 537.2,186.15 537.45,186.15 537.7,186.14 537.95,186.14 538.2,186.13 538.45,186.13 538.7,186.12 538.95,186.12 539.2,186.11 539.45,186.11 539.7,186.1 539.95,186.09 540.2,186.09 540.45,186.08 540.7,186.07 540.95,186.06 541.2,186.05 541.45,186.04 541.7,186.03 541.95,186.02 542.2,186.01 542.45,186 542.7,185.99 542.95,185.98 543.2,185.96 543.45,185.95 543.7,185.93 543.95,185.92 544.2,185.9 544.45,185.88 544.7,185.86 544.95,185.84 545.2,185.81 545.45,185.79 545.7,185.76 545.95,185.73 546.2,185.7 546.45,185.66 546.7,185.63 546.95,185.58 547.2,185.54 547.45,185.49 547.7,185.43 547.95,185.37 548.2,185.3 548.45,185.23 548.7,185.14 548.95,185.05 549.2,184.94 549.45,184.82 549.7,184.68 549.95,184.53 550.2,184.35 550.45,184.14 550.7,183.89 550.95,183.6 551.2,183.26 551.45,182.86 551.7,182.37 551.95,181.76 552.2,181.02 552.45,180.1 552.7,178.92 552.95,177.41 553.2,175.43 553.45,172.84 553.7,169.4 553.95,164.9 554.2,159.22 554.45,152.71 554.7,146.73 554.95,143.6 555.2,144.66 555.45,148.78 555.7,154.37 555.95,159.99 556.2,164.9 556.45,168.9 556.7,172.07 556.95,174.54 557.2,176.49 557.45,178.02 557.7,179.24 557.95,180.22 558.2,181.02 558.45,181.68 558.7,182.23 558.95,182.68 559.2,183.07 559.45,183.4 559.7,183.68 559.95,183.92 560.2,184.14 560.45,184.32 560.7,184.48 560.95,184.63 561.2,184.75 561.45,184.87 561.7,184.97 561.95,185.06 562.2,185.14 562.45,185.22 562.7,185.29 562.95,185.35 563.2,185.4 563.45,185.45 563.7,185.5 563.95,185.54 564.2,185.58 564.45,185.62 564.7,185.65 564.95,185.69 565.2,185.72 565.45,185.74 565.7,185.77 565.95,185.79 566.2,185.81 566.45,185.84 566.7,185.85 566.95,185.87 567.2,185.89 567.45,185.91 567.7,185.92 567.95,185.94 568.2,185.95 568.45,185.96 568.7,185.97 568.95,185.99 569.2,186 569.45,186.01 569.7,186.02 569.95,186.03 570.2,186.03 570.45,186.04 570.7,186.05 570.95,186.06 571.2,186.07 571.45,186.07 571.7,186.08 571.95,186.09 572.2,186.09 572.45,186.1 572.7,186.1 572.95,186.11 573.2,186.11 573.45,186.12 573.7,186.12 573.95,186.13 574.2,186.13 574.45,186.14 574.7,186.14 574.95,186.15 575.2,186.15 575.45,186.15 575.7,186.16 575.95,186.16 576.2,186.16 576.45,186.17 576.7,186.17 576.95,186.17 577.2,186.18 577.45,186.18 577.7,186.18 577.95,186.18 578.2,186.19 578.45,186.19 578.7,186.19 578.95,186.19 579.2,186.2 579.45,186.2 579.7,186.2 579.95,186.2 580.2,186.2 580.45,186.21 580.7,186.21 580.95,186.21 581.2,186.21 581.45,186.21 581.7,186.21 581.95,186.22 582.2,186.22 582.45,186.22 582.7,186.22 582.95,186.22 583.2,186.22 583.45,186.22 583.7,186.23 583.95,186.23 584.2,186.23 584.45,186.23 584.7,186.23 584.95,186.23 585.2,186.23 585.45,186.23 585.7,186.23 585.95,186.24 586.2,186.24 586.45,186.24 586.7,186.24 586.95,186.24 587.2,186.24 587.45,186.24 587.7,186.24 587.95,186.24 588.2,186.24 588.45,186.24 588.7,186.25 588.95,186.25 589.2,186.25 589.45,186.25 589.7,186.25 589.95,186.25 590.2,186.25 590.45,186.25 590.7,186.25 590.95,186.25 591.2,186.25 591.45,186.25 591.7,186.25 591.95,186.25 592.2,186.26 592.45,186.26 592.7,186.26 592.95,186.26 593.2,186.26 593.45,186.26 593.7,186.26 593.95,186.26 594.2,186.26 594.45,186.26 594.7,186.26 594.95,186.26 595.2,186.26 595.45,186.26 595.7,186.26 595.95,186.26 596.2,186.26 596.45,186.26 596.7,186.26 596.95,186.27 597.2,186.27 597.45,186.27 597.7,186.27 597.95,186.27 598.2,186.27 598.45,186.27 598.7,186.27 598.95,186.27 599.2,186.27 599.45,186.27 599.7,186.27 599.95,186.27 600.2,186.27 600.45,186.27 600.7,186.27 600.95,186.27 601.2,186.27 601.45,186.27 601.7,186.27 601.95,186.27 602.2,186.27 602.45,186.27 602.7,186.27 602.95,186.27 603.2,186.27 603.45,186.27 603.7,186.27 603.95,186.27 604.2,186.27 604.45,186.27 604.7,186.28 604.95,186.28 605.2,186.28 605.45,186.28 605.7,186.28 605.95,186.28 606.2,186.28 606.45,186.28 606.7,186.28 606.95,186.28 607.2,186.28 607.45,186.28 607.7,186.28 607.95,186.28 608.2,186.28 608.45,186.28 608.7,186.28 608.95,186.28 609.2,186.28 609.45,186.28 609.7,186.28 609.95,186.28 610.2,186.28 610.45,186.28 610.7,186.28 610.95,186.28 611.2,186.28 611.45,186.28 611.7,186.28 611.95,186.28 612.2,186.28 612.45,186.28 612.7,186.28 612.95,186.28 613.2,186.28 613.45,186.28 613.7,186.28 613.95,186.28 614.2,186.28 614.45,186.28 614.7,186.28 614.95,186.28 615.2,186.28 615.45,186.28 615.7,186.28 615.95,186.28 616.2,186.28 616.45,186.28 616.7,186.28 616.95,186.28 617.2,186.28 617.45,186.28 617.7,186.28 617.95,186.28 618.2,186.28 618.45,186.28 618.7,186.28 618.95,186.28 619.2,186.29 619.45,186.29 619.7,186.29 619.95,186.29 620.2,186.29 620.45,186.29 620.7,186.29 620.95,186.29 621.2,186.29 621.45,186.29 621.7,186.29 621.95,186.29 622.2,186.29 622.45,186.29 622.7,186.29 622.95,186.29 623.2,186.29 623.45,186.29 623.7,186.29 623.95,186.29 624.2,186.29 624.45,186.29 624.7,186.29 624.95,186.29 625.2,186.29 625.45,186.29 625.7,186.29 625.95,186.29 626.2,186.29 626.45,186.29 626.7,186.29 626.95,186.29 627.2,186.29 627.45,186.29 627.7,186.29 627.95,186.29 628.2,186.29 628.45,186.29 628.7,186.29 628.95,186.29 629.2,186.29 629.45,186.29 629.7,186.29 629.95,186.29 630.2,186.29 630.45,186.29 630.7,186.29 630.95,186.29 631.2,186.29 631.45,186.29 631.7,186.29 631.95,186.29 632.2,186.29 632.45,186.29 632.7,186.29 632.95,186.29 633.2,186.29 633.45,186.29 633.7,186.29 633.95,186.29 634.2,186.29 634.45,186.29 634.7,186.29 634.95,186.29 635.2,186.29 635.45,186.29 635.7,186.29 635.95,186.29 636.2,186.29 636.45,186.29 636.7,186.29 636.95,186.29 637.2,186.29 637.45,186.29 637.7,186.29 637.95,186.29 638.2,186.29 638.45,186.29 638.7,186.29 638.95,186.29 639.2,186.29 639.45,186.29 639.7,186.29 639.95,186.29 640.2,186.29 640.45,186.29 640.7,186.29 640.95,186.29 641.2,186.29 641.45,186.29 641.7,186.29 641.95,186.29 642.2,186.29 642.45,186.29 642.7,186.29 642.95,186.29 643.2,186.29 643.45,186.29 643.7,186.29 643.95,186.29 644.2,186.29 644.45,186.29 644.7,186.29 644.95,186.29 645.2,186.29 645.45,186.29 645.7,186.29 645.95,186.29 646.2,186.29 646.45,186.29 646.7,186.29 646.95,186.29 647.2,186.29 647.45,186.29 647.7,186.29 647.95,186.29 648.2,186.29 648.45,186.29 648.7,186.29 648.95,186.29 649.2,186.29 649.45,186.29 649.7,186.29 649.95,186.29 650.2,186.29 650.45,186.29 650.7,186.29 650.95,186.29 651.2,186.29 651.45,186.29 651.7,186.29 651.95,186.29 652.2,186.29 652.45,186.29 652.7,186.29 652.95,186.29 653.2,186.29 653.45,186.29 653.7,186.29 653.95,186.29 654.2,186.29 654.45,186.29 654.7,186.29 654.95,186.29 655.2,186.29 655.45,186.29 655.7,186.29 655.95,186.29 656.2,186.29 656.45,186.29 656.7,186.29 656.95,186.29 657.2,186.29 657.45,186.29 657.7,186.29 657.95,186.29 658.2,186.29 658.45,186.29 658.7,186.29 658.95,186.29 659.2,186.29 659.45,186.29 659.7,186.29 659.95,186.29 660.2,186.29 660.45,186.29 660.7,186.29 660.95,186.29 661.2,186.29 661.45,186.29 661.7,186.29 661.95,186.29 662.2,186.29 662.45,186.29 662.7,186.29 662.95,186.29 663.2,186.29 663.45,186.29 663.7,186.29 663.95,186.29 664.2,186.29 664.45,186.29 664.7,186.29 664.95,186.29 665.2,186.29 665.45,186.29 665.7,186.29 665.95,186.29 666.2,186.3 666.45,186.3 666.7,186.3 666.95,186.3 667.2,186.3 667.45,186.3 667.7,186.3 667.95,186.3 668.2,186.3 668.45,186.3 668.7,186.3 668.95,186.3 669.2,186.3 669.45,186.3 669.7,186.3" fill="none" stroke="#5563c6" stroke-width="1.35" stroke-linejoin="round" />
<rect x="492.2" y="13.2" width="177.6" height="182" fill="none" stroke="#1a1a1a" stroke-width="1.2"/>
<line x1="509.96" y1="195.2" x2="509.96" y2="198.4" stroke="#1a1a1a" stroke-width="1.1" />
<text x="509.96" y="209.6" font-size="11.8" text-anchor="middle" fill="#000" >2</text>
<line x1="545.48" y1="195.2" x2="545.48" y2="198.4" stroke="#1a1a1a" stroke-width="1.1" />
<text x="545.48" y="209.6" font-size="11.8" text-anchor="middle" fill="#000" >1</text>
<line x1="581" y1="195.2" x2="581" y2="198.4" stroke="#1a1a1a" stroke-width="1.1" />
<text x="581" y="209.6" font-size="11.8" text-anchor="middle" fill="#000" >0</text>
<line x1="616.52" y1="195.2" x2="616.52" y2="198.4" stroke="#1a1a1a" stroke-width="1.1" />
<text x="616.52" y="209.6" font-size="11.8" text-anchor="middle" fill="#000" >-1</text>
<line x1="652.04" y1="195.2" x2="652.04" y2="198.4" stroke="#1a1a1a" stroke-width="1.1" />
<text x="652.04" y="209.6" font-size="11.8" text-anchor="middle" fill="#000" >-2</text>
<line x1="492.2" y1="195.2" x2="492.2" y2="197.2" stroke="#1a1a1a" stroke-width="1.0" />
<line x1="527.72" y1="195.2" x2="527.72" y2="197.2" stroke="#1a1a1a" stroke-width="1.0" />
<line x1="563.24" y1="195.2" x2="563.24" y2="197.2" stroke="#1a1a1a" stroke-width="1.0" />
<line x1="598.76" y1="195.2" x2="598.76" y2="197.2" stroke="#1a1a1a" stroke-width="1.0" />
<line x1="634.28" y1="195.2" x2="634.28" y2="197.2" stroke="#1a1a1a" stroke-width="1.0" />
<line x1="669.8" y1="195.2" x2="669.8" y2="197.2" stroke="#1a1a1a" stroke-width="1.0" />
<text x="658.4" y="28.6" font-size="11.3" text-anchor="end" fill="#000" >5.3 Al</text>
<text x="658.4" y="45.9" font-size="11.3" text-anchor="end" fill="#000" >5 Al</text>
<text x="658.4" y="63.1" font-size="11.3" text-anchor="end" fill="#000" >4 Al</text>
<text x="658.4" y="103.4" font-size="11.3" text-anchor="end" fill="#000" >3 Al</text>
<text x="658.4" y="139.4" font-size="11.3" text-anchor="end" fill="#000" >2 Al</text>
<text x="658.4" y="183.4" font-size="11.3" text-anchor="end" fill="#000" >1 Al</text>
<text x="565" y="171.8" font-size="14.5" text-anchor="start" fill="#1022cc" >SE</text>
<line x1="556.5" y1="176.8" x2="592" y2="176.8" stroke="#0a14c8" stroke-width="1.6" stroke-dasharray="1.6,1.4"/>
<polygon points="597.6,176.8 591.4,173.3 591.4,180.3" fill="#0a14c8" stroke="none" stroke-width="0" />
<text transform="translate(469.7,100.6) rotate(-90)" x="0" y="0" font-size="13.2" text-anchor="middle" fill="#000" >Intensity (arb. units)</text>
<text x="495.3" y="232.6" font-size="14.4" text-anchor="start" fill="#000" ><tspan font-size="9" dy="-5.5">27</tspan><tspan dy="5.5">Al Chemical shift (ppm)</tspan></text>
<text x="-0.6" y="256.7" font-size="20" text-anchor="start" fill="#000" >d</text>
<polygon points="41.4,295.1 41.4,295.1 41.9,295.1 42.4,295.09 42.9,295.09 43.4,295.09 43.9,295.09 44.4,295.09 44.9,295.09 45.4,295.09 45.9,295.09 46.4,295.09 46.9,295.09 47.4,295.08 47.9,295.08 48.4,295.08 48.9,295.08 49.4,295.08 49.9,295.07 50.4,295.07 50.9,295.07 51.4,295.06 51.9,295.06 52.4,295.06 52.9,295.05 53.4,295.05 53.9,295.04 54.4,295.03 54.9,295.03 55.4,295.02 55.9,295.01 56.4,295.01 56.9,295 57.4,294.99 57.9,294.98 58.4,294.96 58.9,294.95 59.4,294.94 59.9,294.92 60.4,294.91 60.9,294.89 61.4,294.87 61.9,294.85 62.4,294.83 62.9,294.81 63.4,294.78 63.9,294.76 64.4,294.73 64.9,294.7 65.4,294.66 65.9,294.63 66.4,294.59 66.9,294.55 67.4,294.51 67.9,294.46 68.4,294.41 68.9,294.36 69.4,294.31 69.9,294.25 70.4,294.19 70.9,294.12 71.4,294.05 71.9,293.98 72.4,293.9 72.9,293.81 73.4,293.73 73.9,293.64 74.4,293.54 74.9,293.44 75.4,293.33 75.9,293.21 76.4,293.1 76.9,292.97 77.4,292.84 77.9,292.7 78.4,292.56 78.9,292.41 79.4,292.25 79.9,292.09 80.4,291.92 80.9,291.74 81.4,291.56 81.9,291.37 82.4,291.17 82.9,290.96 83.4,290.75 83.9,290.52 84.4,290.3 84.9,290.06 85.4,289.82 85.9,289.56 86.4,289.3 86.9,289.04 87.4,288.76 87.9,288.48 88.4,288.19 88.9,287.9 89.4,287.6 89.9,287.29 90.4,286.97 90.9,286.65 91.4,286.32 91.9,285.99 92.4,285.65 92.9,285.31 93.4,284.96 93.9,284.6 94.4,284.25 94.9,283.89 95.4,283.53 95.9,283.16 96.4,282.79 96.9,282.42 97.4,282.05 97.9,281.68 98.4,281.31 98.9,280.94 99.4,280.57 99.9,280.21 100.4,279.84 100.9,279.48 101.4,279.12 101.9,278.77 102.4,278.42 102.9,278.08 103.4,277.75 103.9,277.42 104.4,277.1 104.9,276.79 105.4,276.48 105.9,276.19 106.4,275.9 106.9,275.63 107.4,275.37 107.9,275.12 108.4,274.88 108.9,274.66 109.4,274.45 109.9,274.25 110.4,274.07 110.9,273.9 111.4,273.75 111.9,273.61 112.4,273.49 112.9,273.38 113.4,273.29 113.9,273.22 114.4,273.17 114.9,273.13 115.4,273.11 115.9,273.1 116.4,273.12 116.9,273.17 117.4,273.25 117.9,273.36 118.4,273.5 118.9,273.67 119.4,273.87 119.9,274.09 120.4,274.34 120.9,274.62 121.4,274.91 121.9,275.24 122.4,275.58 122.9,275.94 123.4,276.32 123.9,276.72 124.4,277.14 124.9,277.57 125.4,278.01 125.9,278.47 126.4,278.94 126.9,279.41 127.4,279.89 127.9,280.38 128.4,280.87 128.9,281.36 129.4,281.86 129.9,282.35 130.4,282.84 130.9,283.33 131.4,283.82 131.9,284.3 132.4,284.77 132.9,285.24 133.4,285.7 133.9,286.14 134.4,286.58 134.9,287.01 135.4,287.43 135.9,287.84 136.4,288.23 136.9,288.61 137.4,288.98 137.9,289.34 138.4,289.68 138.9,290.01 139.4,290.33 139.9,290.63 140.4,290.92 140.9,291.19 141.4,291.46 141.9,291.71 142.4,291.94 142.9,292.17 143.4,292.38 143.9,292.58 144.4,292.77 144.9,292.94 145.4,293.11 145.9,293.27 146.4,293.41 146.9,293.55 147.4,293.68 147.9,293.8 148.4,293.91 148.9,294.01 149.4,294.11 149.9,294.19 150.4,294.28 150.9,294.35 151.4,294.42 151.9,294.48 152.4,294.54 152.9,294.6 153.4,294.65 153.9,294.69 154.4,294.73 154.9,294.77 155.4,294.8 155.9,294.83 156.4,294.86 156.9,294.89 157.4,294.91 157.9,294.93 158.4,294.95 158.9,294.97 159.4,294.98 159.9,294.99 160.4,295.01 160.9,295.02 161.4,295.03 161.9,295.04 162.4,295.04 162.9,295.05 163.4,295.06 163.9,295.06 164.4,295.07 164.9,295.07 165.4,295.07 165.9,295.08 166.4,295.08 166.9,295.08 167.4,295.09 167.9,295.09 168.4,295.09 168.9,295.09 169.4,295.09 169.9,295.09 170.4,295.09 170.9,295.09 171.4,295.1 171.4,295.1" fill="#b9e4fc" stroke="none" stroke-width="0.6" />
<polygon points="44.9,295.1 44.9,295.1 45.4,295.09 45.9,295.09 46.4,295.09 46.9,295.09 47.4,295.09 47.9,295.09 48.4,295.09 48.9,295.09 49.4,295.08 49.9,295.08 50.4,295.08 50.9,295.07 51.4,295.07 51.9,295.07 52.4,295.06 52.9,295.06 53.4,295.05 53.9,295.04 54.4,295.04 54.9,295.03 55.4,295.02 55.9,295.01 56.4,295 56.9,294.98 57.4,294.97 57.9,294.95 58.4,294.94 58.9,294.92 59.4,294.89 59.9,294.87 60.4,294.84 60.9,294.81 61.4,294.78 61.9,294.74 62.4,294.7 62.9,294.66 63.4,294.61 63.9,294.56 64.4,294.51 64.9,294.44 65.4,294.38 65.9,294.31 66.4,294.23 66.9,294.14 67.4,294.05 67.9,293.95 68.4,293.85 68.9,293.73 69.4,293.61 69.9,293.48 70.4,293.34 70.9,293.19 71.4,293.03 71.9,292.86 72.4,292.68 72.9,292.49 73.4,292.29 73.9,292.07 74.4,291.84 74.9,291.61 75.4,291.36 75.9,291.09 76.4,290.82 76.9,290.53 77.4,290.23 77.9,289.91 78.4,289.59 78.9,289.25 79.4,288.9 79.9,288.53 80.4,288.16 80.9,287.77 81.4,287.37 81.9,286.97 82.4,286.55 82.9,286.12 83.4,285.69 83.9,285.24 84.4,284.8 84.9,284.34 85.4,283.88 85.9,283.42 86.4,282.95 86.9,282.48 87.4,282.02 87.9,281.55 88.4,281.09 88.9,280.63 89.4,280.18 89.9,279.73 90.4,279.29 90.9,278.86 91.4,278.44 91.9,278.04 92.4,277.65 92.9,277.27 93.4,276.92 93.9,276.58 94.4,276.26 94.9,275.96 95.4,275.68 95.9,275.42 96.4,275.19 96.9,274.99 97.4,274.81 97.9,274.65 98.4,274.53 98.9,274.43 99.4,274.36 99.9,274.31 100.4,274.3 100.9,274.32 101.4,274.36 101.9,274.44 102.4,274.54 102.9,274.68 103.4,274.85 103.9,275.04 104.4,275.26 104.9,275.51 105.4,275.78 105.9,276.08 106.4,276.4 106.9,276.74 107.4,277.11 107.9,277.49 108.4,277.89 108.9,278.3 109.4,278.73 109.9,279.17 110.4,279.63 110.9,280.09 111.4,280.56 111.9,281.04 112.4,281.52 112.9,282 113.4,282.48 113.9,282.97 114.4,283.45 114.9,283.93 115.4,284.41 115.9,284.88 116.4,285.35 116.9,285.8 117.4,286.25 117.9,286.69 118.4,287.12 118.9,287.54 119.4,287.95 119.9,288.35 120.4,288.73 120.9,289.1 121.4,289.46 121.9,289.8 122.4,290.13 122.9,290.45 123.4,290.75 123.9,291.04 124.4,291.32 124.9,291.58 125.4,291.83 125.9,292.06 126.4,292.29 126.9,292.5 127.4,292.69 127.9,292.88 128.4,293.05 128.9,293.22 129.4,293.37 129.9,293.52 130.4,293.65 130.9,293.77 131.4,293.89 131.9,294 132.4,294.09 132.9,294.19 133.4,294.27 133.9,294.35 134.4,294.42 134.9,294.49 135.4,294.55 135.9,294.6 136.4,294.65 136.9,294.7 137.4,294.74 137.9,294.78 138.4,294.81 138.9,294.84 139.4,294.87 139.9,294.89 140.4,294.92 140.9,294.94 141.4,294.96 141.9,294.97 142.4,294.99 142.9,295 143.4,295.01 143.9,295.02 144.4,295.03 144.9,295.04 145.4,295.05 145.9,295.05 146.4,295.06 146.9,295.07 147.4,295.07 147.9,295.07 148.4,295.08 148.9,295.08 149.4,295.08 149.9,295.09 150.4,295.09 150.9,295.09 151.4,295.09 151.9,295.09 152.4,295.09 152.9,295.09 153.4,295.09 153.9,295.1 153.9,295.1" fill="rgba(245,90,105,0.36)" stroke="rgba(220,40,60,0.6)" stroke-width="0.6" />
<polygon points="119.4,295.1 119.4,295.09 119.9,295.09 120.4,295.09 120.9,295.09 121.4,295.08 121.9,295.08 122.4,295.07 122.9,295.06 123.4,295.05 123.9,295.04 124.4,295.02 124.9,295 125.4,294.97 125.9,294.94 126.4,294.9 126.9,294.86 127.4,294.8 127.9,294.74 128.4,294.66 128.9,294.58 129.4,294.48 129.9,294.37 130.4,294.24 130.9,294.1 131.4,293.94 131.9,293.77 132.4,293.59 132.9,293.39 133.4,293.17 133.9,292.95 134.4,292.71 134.9,292.47 135.4,292.23 135.9,291.98 136.4,291.73 136.9,291.49 137.4,291.26 137.9,291.05 138.4,290.85 138.9,290.67 139.4,290.52 139.9,290.39 140.4,290.3 140.9,290.23 141.4,290.2 141.9,290.21 142.4,290.24 142.9,290.31 143.4,290.42 143.9,290.55 144.4,290.71 144.9,290.89 145.4,291.09 145.9,291.31 146.4,291.54 146.9,291.78 147.4,292.03 147.9,292.28 148.4,292.52 148.9,292.76 149.4,293 149.9,293.22 150.4,293.43 150.9,293.63 151.4,293.81 151.9,293.98 152.4,294.13 152.9,294.27 153.4,294.39 153.9,294.5 154.4,294.6 154.9,294.68 155.4,294.75 155.9,294.81 156.4,294.87 156.9,294.91 157.4,294.95 157.9,294.98 158.4,295 158.9,295.02 159.4,295.04 159.9,295.05 160.4,295.06 160.9,295.07 161.4,295.08 161.9,295.08 162.4,295.09 162.9,295.09 163.4,295.09 163.9,295.1 163.9,295.1" fill="rgba(60,50,245,0.45)" stroke="rgba(60,60,230,0.6)" stroke-width="0.6" />
<polyline points="21.4,295.1 21.9,295.1 22.4,295.1 22.9,295.1 23.4,295.1 23.9,295.1 24.4,295.1 24.9,295.1 25.4,295.1 25.9,295.1 26.4,295.1 26.9,295.1 27.4,295.1 27.9,295.1 28.4,295.1 28.9,295.1 29.4,295.1 29.9,295.1 30.4,295.1 30.9,295.1 31.4,295.1 31.9,295.1 32.4,295.1 32.9,295.1 33.4,295.1 33.9,295.1 34.4,295.1 34.9,295.1 35.4,295.1 35.9,295.1 36.4,295.1 36.9,295.1 37.4,295.1 37.9,295.1 38.4,295.1 38.9,295.1 39.4,295.1 39.9,295.1 40.4,295.1 40.9,295.1 41.4,295.09 41.9,295.09 42.4,295.09 42.9,295.09 43.4,295.09 43.9,295.09 44.4,295.09 44.9,295.09 45.4,295.08 45.9,295.08 46.4,295.08 46.9,295.08 47.4,295.08 47.9,295.07 48.4,295.07 48.9,295.06 49.4,295.06 49.9,295.06 50.4,295.05 50.9,295.04 51.4,295.04 51.9,295.03 52.4,295.02 52.9,295.01 53.4,295 53.9,294.99 54.4,294.98 54.9,294.96 55.4,294.94 55.9,294.93 56.4,294.91 56.9,294.89 57.4,294.86 57.9,294.84 58.4,294.81 58.9,294.78 59.4,294.74 59.9,294.7 60.4,294.66 60.9,294.62 61.4,294.57 61.9,294.51 62.4,294.45 62.9,294.39 63.4,294.32 63.9,294.24 64.4,294.16 64.9,294.07 65.4,293.97 65.9,293.87 66.4,293.75 66.9,293.63 67.4,293.5 67.9,293.36 68.4,293.21 68.9,293.05 69.4,292.88 69.9,292.69 70.4,292.49 70.9,292.28 71.4,292.06 71.9,291.82 72.4,291.57 72.9,291.3 73.4,291.02 73.9,290.72 74.4,290.41 74.9,290.08 75.4,289.73 75.9,289.36 76.4,288.98 76.9,288.57 77.4,288.15 77.9,287.71 78.4,287.26 78.9,286.78 79.4,286.29 79.9,285.77 80.4,285.24 80.9,284.69 81.4,284.13 81.9,283.54 82.4,282.94 82.9,282.32 83.4,281.69 83.9,281.05 84.4,280.38 84.9,279.71 85.4,279.03 85.9,278.33 86.4,277.62 86.9,276.91 87.4,276.19 87.9,275.46 88.4,274.73 88.9,273.99 89.4,273.26 89.9,272.52 90.4,271.79 90.9,271.05 91.4,270.33 91.9,269.61 92.4,268.9 92.9,268.2 93.4,267.51 93.9,266.84 94.4,266.18 94.9,265.53 95.4,264.91 95.9,264.3 96.4,263.72 96.9,263.16 97.4,262.62 97.9,262.11 98.4,261.62 98.9,261.16 99.4,260.73 99.9,260.33 100.4,259.95 100.9,259.61 101.4,259.3 101.9,259.03 102.4,258.78 102.9,258.57 103.4,258.4 103.9,258.25 104.4,258.14 104.9,258.06 105.4,258.02 105.9,258 106.4,258.01 106.9,258.06 107.4,258.13 107.9,258.22 108.4,258.35 108.9,258.49 109.4,258.66 109.9,258.86 110.4,259.07 110.9,259.3 111.4,259.55 111.9,259.82 112.4,260.1 112.9,260.4 113.4,260.71 113.9,261.03 114.4,261.36 114.9,261.7 115.4,262.04 115.9,262.4 116.4,262.77 116.9,263.16 117.4,263.56 117.9,263.99 118.4,264.42 118.9,264.88 119.4,265.34 119.9,265.82 120.4,266.31 120.9,266.81 121.4,267.32 121.9,267.84 122.4,268.37 122.9,268.9 123.4,269.44 123.9,269.99 124.4,270.54 124.9,271.09 125.4,271.64 125.9,272.19 126.4,272.74 126.9,273.28 127.4,273.83 127.9,274.37 128.4,274.9 128.9,275.42 129.4,275.94 129.9,276.45 130.4,276.94 130.9,277.43 131.4,277.91 131.9,278.37 132.4,278.83 132.9,279.27 133.4,279.7 133.9,280.12 134.4,280.53 134.9,280.93 135.4,281.32 135.9,281.7 136.4,282.07 136.9,282.44 137.4,282.8 137.9,283.15 138.4,283.5 138.9,283.85 139.4,284.2 139.9,284.54 140.4,284.89 140.9,285.23 141.4,285.58 141.9,285.93 142.4,286.27 142.9,286.62 143.4,286.97 143.9,287.33 144.4,287.68 144.9,288.03 145.4,288.38 145.9,288.73 146.4,289.07 146.9,289.41 147.4,289.75 147.9,290.08 148.4,290.41 148.9,290.72 149.4,291.03 149.9,291.33 150.4,291.61 150.9,291.89 151.4,292.15 151.9,292.4 152.4,292.64 152.9,292.86 153.4,293.07 153.9,293.27 154.4,293.45 154.9,293.62 155.4,293.78 155.9,293.92 156.4,294.05 156.9,294.17 157.4,294.28 157.9,294.38 158.4,294.47 158.9,294.55 159.4,294.62 159.9,294.69 160.4,294.74 160.9,294.79 161.4,294.83 161.9,294.87 162.4,294.91 162.9,294.93 163.4,294.96 163.9,294.98 164.4,295 164.9,295.02 165.4,295.03 165.9,295.04 166.4,295.05 166.9,295.06 167.4,295.07 167.9,295.07 168.4,295.08 168.9,295.08 169.4,295.08 169.9,295.09 170.4,295.09 170.9,295.09 171.4,295.09 171.9,295.09 172.4,295.09 172.9,295.1 173.4,295.1 173.9,295.1 174.4,295.1 174.9,295.1 175.4,295.1 175.9,295.1 176.4,295.1 176.9,295.1 177.4,295.1 177.9,295.1 178.4,295.1 178.9,295.1 179.4,295.1 179.9,295.1 180.4,295.1 180.9,295.1 181.4,295.1 181.9,295.1 182.4,295.1 182.9,295.1 183.4,295.1 183.9,295.1 184.4,295.1 184.9,295.1 185.4,295.1 185.9,295.1 186.4,295.1 186.9,295.1 187.4,295.1 187.9,295.1 188.4,295.1 188.9,295.1 189.4,295.1 189.9,295.1 190.4,295.1 190.9,295.1 191.4,295.1 191.9,295.1 192.4,295.1 192.9,295.1 193.4,295.1 193.9,295.1 194.4,295.1 194.9,295.1 195.4,295.1 195.9,295.1 196.4,295.1 196.9,295.1 197.4,295.1" fill="none" stroke="#acacac" stroke-width="2.7" stroke-linejoin="round" />
<polyline points="21.4,295.1 21.9,295.1 22.4,295.1 22.9,295.1 23.4,295.1 23.9,295.1 24.4,295.1 24.9,295.1 25.4,295.1 25.9,295.1 26.4,295.1 26.9,295.1 27.4,295.1 27.9,295.1 28.4,295.1 28.9,295.1 29.4,295.1 29.9,295.1 30.4,295.1 30.9,295.1 31.4,295.1 31.9,295.1 32.4,295.1 32.9,295.1 33.4,295.1 33.9,295.1 34.4,295.1 34.9,295.1 35.4,295.1 35.9,295.1 36.4,295.1 36.9,295.1 37.4,295.1 37.9,295.1 38.4,295.1 38.9,295.1 39.4,295.1 39.9,295.1 40.4,295.1 40.9,295.1 41.4,295.09 41.9,295.09 42.4,295.09 42.9,295.09 43.4,295.09 43.9,295.09 44.4,295.09 44.9,295.09 45.4,295.08 45.9,295.08 46.4,295.08 46.9,295.08 47.4,295.08 47.9,295.07 48.4,295.07 48.9,295.06 49.4,295.06 49.9,295.06 50.4,295.05 50.9,295.04 51.4,295.04 51.9,295.03 52.4,295.02 52.9,295.01 53.4,295 53.9,294.99 54.4,294.98 54.9,294.96 55.4,294.94 55.9,294.93 56.4,294.91 56.9,294.89 57.4,294.86 57.9,294.84 58.4,294.81 58.9,294.78 59.4,294.74 59.9,294.7 60.4,294.66 60.9,294.62 61.4,294.57 61.9,294.51 62.4,294.45 62.9,294.39 63.4,294.32 63.9,294.24 64.4,294.16 64.9,294.07 65.4,293.97 65.9,293.87 66.4,293.75 66.9,293.63 67.4,293.5 67.9,293.36 68.4,293.21 68.9,293.05 69.4,292.88 69.9,292.69 70.4,292.49 70.9,292.28 71.4,292.06 71.9,291.82 72.4,291.57 72.9,291.3 73.4,291.02 73.9,290.72 74.4,290.41 74.9,290.08 75.4,289.73 75.9,289.36 76.4,288.98 76.9,288.57 77.4,288.15 77.9,287.71 78.4,287.26 78.9,286.78 79.4,286.29 79.9,285.77 80.4,285.24 80.9,284.69 81.4,284.13 81.9,283.54 82.4,282.94 82.9,282.32 83.4,281.69 83.9,281.05 84.4,280.38 84.9,279.71 85.4,279.03 85.9,278.33 86.4,277.62 86.9,276.91 87.4,276.19 87.9,275.46 88.4,274.73 88.9,273.99 89.4,273.26 89.9,272.52 90.4,271.79 90.9,271.05 91.4,270.33 91.9,269.61 92.4,268.9 92.9,268.2 93.4,267.51 93.9,266.84 94.4,266.18 94.9,265.53 95.4,264.91 95.9,264.3 96.4,263.72 96.9,263.16 97.4,262.62 97.9,262.11 98.4,261.62 98.9,261.16 99.4,260.73 99.9,260.33 100.4,259.95 100.9,259.61 101.4,259.3 101.9,259.03 102.4,258.78 102.9,258.57 103.4,258.4 103.9,258.25 104.4,258.14 104.9,258.06 105.4,258.02 105.9,258 106.4,258.01 106.9,258.06 107.4,258.13 107.9,258.22 108.4,258.35 108.9,258.49 109.4,258.66 109.9,258.86 110.4,259.07 110.9,259.3 111.4,259.55 111.9,259.82 112.4,260.1 112.9,260.4 113.4,260.71 113.9,261.03 114.4,261.36 114.9,261.7 115.4,262.04 115.9,262.4 116.4,262.77 116.9,263.16 117.4,263.56 117.9,263.99 118.4,264.42 118.9,264.88 119.4,265.34 119.9,265.82 120.4,266.31 120.9,266.81 121.4,267.32 121.9,267.84 122.4,268.37 122.9,268.9 123.4,269.44 123.9,269.99 124.4,270.54 124.9,271.09 125.4,271.64 125.9,272.19 126.4,272.74 126.9,273.28 127.4,273.83 127.9,274.37 128.4,274.9 128.9,275.42 129.4,275.94 129.9,276.45 130.4,276.94 130.9,277.43 131.4,277.91 131.9,278.37 132.4,278.83 132.9,279.27 133.4,279.7 133.9,280.12 134.4,280.53 134.9,280.93 135.4,281.32 135.9,281.7 136.4,282.07 136.9,282.44 137.4,282.8 137.9,283.15 138.4,283.5 138.9,283.85 139.4,284.2 139.9,284.54 140.4,284.89 140.9,285.23 141.4,285.58 141.9,285.93 142.4,286.27 142.9,286.62 143.4,286.97 143.9,287.33 144.4,287.68 144.9,288.03 145.4,288.38 145.9,288.73 146.4,289.07 146.9,289.41 147.4,289.75 147.9,290.08 148.4,290.41 148.9,290.72 149.4,291.03 149.9,291.33 150.4,291.61 150.9,291.89 151.4,292.15 151.9,292.4 152.4,292.64 152.9,292.86 153.4,293.07 153.9,293.27 154.4,293.45 154.9,293.62 155.4,293.78 155.9,293.92 156.4,294.05 156.9,294.17 157.4,294.28 157.9,294.38 158.4,294.47 158.9,294.55 159.4,294.62 159.9,294.69 160.4,294.74 160.9,294.79 161.4,294.83 161.9,294.87 162.4,294.91 162.9,294.93 163.4,294.96 163.9,294.98 164.4,295 164.9,295.02 165.4,295.03 165.9,295.04 166.4,295.05 166.9,295.06 167.4,295.07 167.9,295.07 168.4,295.08 168.9,295.08 169.4,295.08 169.9,295.09 170.4,295.09 170.9,295.09 171.4,295.09 171.9,295.09 172.4,295.09 172.9,295.1 173.4,295.1 173.9,295.1 174.4,295.1 174.9,295.1 175.4,295.1 175.9,295.1 176.4,295.1 176.9,295.1 177.4,295.1 177.9,295.1 178.4,295.1 178.9,295.1 179.4,295.1 179.9,295.1 180.4,295.1 180.9,295.1 181.4,295.1 181.9,295.1 182.4,295.1 182.9,295.1 183.4,295.1 183.9,295.1 184.4,295.1 184.9,295.1 185.4,295.1 185.9,295.1 186.4,295.1 186.9,295.1 187.4,295.1 187.9,295.1 188.4,295.1 188.9,295.1 189.4,295.1 189.9,295.1 190.4,295.1 190.9,295.1 191.4,295.1 191.9,295.1 192.4,295.1 192.9,295.1 193.4,295.1 193.9,295.1 194.4,295.1 194.9,295.1 195.4,295.1 195.9,295.1 196.4,295.1 196.9,295.1 197.4,295.1" fill="none" stroke="#dadada" stroke-width="0.9" stroke-linejoin="round" />
<line x1="21.4" y1="252.3" x2="197.5" y2="252.3" stroke="#8a8a8a" stroke-width="1.0" />
<polygon points="42.9,343.3 42.9,343.3 43.4,343.3 43.9,343.29 44.4,343.29 44.9,343.29 45.4,343.29 45.9,343.29 46.4,343.29 46.9,343.29 47.4,343.29 47.9,343.29 48.4,343.28 48.9,343.28 49.4,343.28 49.9,343.28 50.4,343.28 50.9,343.27 51.4,343.27 51.9,343.27 52.4,343.26 52.9,343.26 53.4,343.25 53.9,343.25 54.4,343.24 54.9,343.24 55.4,343.23 55.9,343.22 56.4,343.22 56.9,343.21 57.4,343.2 57.9,343.19 58.4,343.18 58.9,343.16 59.4,343.15 59.9,343.14 60.4,343.12 60.9,343.1 61.4,343.08 61.9,343.06 62.4,343.04 62.9,343.02 63.4,342.99 63.9,342.97 64.4,342.94 64.9,342.9 65.4,342.87 65.9,342.83 66.4,342.79 66.9,342.75 67.4,342.7 67.9,342.66 68.4,342.6 68.9,342.55 69.4,342.49 69.9,342.42 70.4,342.36 70.9,342.28 71.4,342.21 71.9,342.12 72.4,342.04 72.9,341.95 73.4,341.85 73.9,341.75 74.4,341.64 74.9,341.52 75.4,341.4 75.9,341.27 76.4,341.14 76.9,341 77.4,340.85 77.9,340.69 78.4,340.53 78.9,340.36 79.4,340.18 79.9,339.99 80.4,339.8 80.9,339.59 81.4,339.38 81.9,339.16 82.4,338.93 82.9,338.69 83.4,338.44 83.9,338.19 84.4,337.92 84.9,337.65 85.4,337.37 85.9,337.08 86.4,336.78 86.9,336.47 87.4,336.16 87.9,335.83 88.4,335.5 88.9,335.16 89.4,334.81 89.9,334.46 90.4,334.1 90.9,333.73 91.4,333.36 91.9,332.98 92.4,332.59 92.9,332.2 93.4,331.81 93.9,331.41 94.4,331.01 94.9,330.61 95.4,330.2 95.9,329.8 96.4,329.39 96.9,328.98 97.4,328.58 97.9,328.17 98.4,327.77 98.9,327.37 99.4,326.98 99.9,326.59 100.4,326.2 100.9,325.83 101.4,325.45 101.9,325.09 102.4,324.74 102.9,324.39 103.4,324.06 103.9,323.73 104.4,323.42 104.9,323.12 105.4,322.83 105.9,322.56 106.4,322.3 106.9,322.06 107.4,321.83 107.9,321.62 108.4,321.43 108.9,321.25 109.4,321.09 109.9,320.95 110.4,320.83 110.9,320.73 111.4,320.64 111.9,320.58 112.4,320.53 112.9,320.51 113.4,320.5 113.9,320.52 114.4,320.57 114.9,320.65 115.4,320.76 115.9,320.89 116.4,321.05 116.9,321.24 117.4,321.46 117.9,321.7 118.4,321.96 118.9,322.25 119.4,322.56 119.9,322.9 120.4,323.25 120.9,323.62 121.4,324.01 121.9,324.42 122.4,324.84 122.9,325.28 123.4,325.72 123.9,326.18 124.4,326.65 124.9,327.12 125.4,327.61 125.9,328.09 126.4,328.58 126.9,329.08 127.4,329.57 127.9,330.06 128.4,330.56 128.9,331.04 129.4,331.53 129.9,332.01 130.4,332.49 130.9,332.95 131.4,333.41 131.9,333.87 132.4,334.31 132.9,334.74 133.4,335.17 133.9,335.58 134.4,335.98 134.9,336.37 135.4,336.74 135.9,337.1 136.4,337.46 136.9,337.79 137.4,338.12 137.9,338.43 138.4,338.73 138.9,339.02 139.4,339.29 139.9,339.55 140.4,339.8 140.9,340.03 141.4,340.26 141.9,340.47 142.4,340.67 142.9,340.86 143.4,341.04 143.9,341.21 144.4,341.37 144.9,341.52 145.4,341.65 145.9,341.78 146.4,341.91 146.9,342.02 147.4,342.13 147.9,342.22 148.4,342.32 148.9,342.4 149.4,342.48 149.9,342.55 150.4,342.62 150.9,342.68 151.4,342.74 151.9,342.79 152.4,342.84 152.9,342.88 153.4,342.92 153.9,342.96 154.4,342.99 154.9,343.02 155.4,343.05 155.9,343.08 156.4,343.1 156.9,343.12 157.4,343.14 157.9,343.16 158.4,343.17 158.9,343.19 159.4,343.2 159.9,343.21 160.4,343.22 160.9,343.23 161.4,343.24 161.9,343.24 162.4,343.25 162.9,343.26 163.4,343.26 163.9,343.27 164.4,343.27 164.9,343.27 165.4,343.28 165.9,343.28 166.4,343.28 166.9,343.29 167.4,343.29 167.9,343.29 168.4,343.29 168.9,343.29 169.4,343.29 169.9,343.29 170.4,343.29 170.9,343.3 171.4,343.3 171.4,343.3" fill="#b9e4fc" stroke="none" stroke-width="0.6" />
<polygon points="47.9,343.3 47.9,343.3 48.4,343.3 48.9,343.29 49.4,343.29 49.9,343.29 50.4,343.29 50.9,343.29 51.4,343.29 51.9,343.29 52.4,343.28 52.9,343.28 53.4,343.28 53.9,343.27 54.4,343.27 54.9,343.27 55.4,343.26 55.9,343.26 56.4,343.25 56.9,343.24 57.4,343.23 57.9,343.23 58.4,343.22 58.9,343.2 59.4,343.19 59.9,343.18 60.4,343.16 60.9,343.14 61.4,343.12 61.9,343.1 62.4,343.08 62.9,343.05 63.4,343.02 63.9,342.99 64.4,342.95 64.9,342.91 65.4,342.87 65.9,342.82 66.4,342.77 66.9,342.71 67.4,342.65 67.9,342.58 68.4,342.51 68.9,342.43 69.4,342.34 69.9,342.25 70.4,342.15 70.9,342.04 71.4,341.92 71.9,341.79 72.4,341.66 72.9,341.51 73.4,341.36 73.9,341.19 74.4,341.02 74.9,340.83 75.4,340.63 75.9,340.43 76.4,340.2 76.9,339.97 77.4,339.73 77.9,339.47 78.4,339.2 78.9,338.91 79.4,338.62 79.9,338.31 80.4,337.99 80.9,337.66 81.4,337.31 81.9,336.96 82.4,336.59 82.9,336.21 83.4,335.82 83.9,335.42 84.4,335.01 84.9,334.6 85.4,334.17 85.9,333.74 86.4,333.31 86.9,332.87 87.4,332.43 87.9,331.98 88.4,331.54 88.9,331.09 89.4,330.65 89.9,330.21 90.4,329.77 90.9,329.35 91.4,328.92 91.9,328.51 92.4,328.11 92.9,327.72 93.4,327.35 93.9,326.99 94.4,326.64 94.9,326.32 95.4,326.01 95.9,325.72 96.4,325.46 96.9,325.22 97.4,325 97.9,324.81 98.4,324.64 98.9,324.5 99.4,324.38 99.9,324.3 100.4,324.24 100.9,324.21 101.4,324.2 101.9,324.23 102.4,324.28 102.9,324.36 103.4,324.47 103.9,324.61 104.4,324.77 104.9,324.96 105.4,325.17 105.9,325.41 106.4,325.67 106.9,325.95 107.4,326.25 107.9,326.58 108.4,326.92 108.9,327.27 109.4,327.65 109.9,328.03 110.4,328.43 110.9,328.84 111.4,329.26 111.9,329.69 112.4,330.12 112.9,330.56 113.4,331 113.9,331.45 114.4,331.89 114.9,332.34 115.4,332.78 115.9,333.22 116.4,333.66 116.9,334.09 117.4,334.51 117.9,334.93 118.4,335.34 118.9,335.74 119.4,336.13 119.9,336.51 120.4,336.88 120.9,337.24 121.4,337.59 121.9,337.92 122.4,338.25 122.9,338.56 123.4,338.86 123.9,339.14 124.4,339.41 124.9,339.67 125.4,339.92 125.9,340.16 126.4,340.38 126.9,340.59 127.4,340.79 127.9,340.98 128.4,341.16 128.9,341.33 129.4,341.48 129.9,341.63 130.4,341.77 130.9,341.9 131.4,342.01 131.9,342.13 132.4,342.23 132.9,342.32 133.4,342.41 133.9,342.49 134.4,342.57 134.9,342.64 135.4,342.7 135.9,342.76 136.4,342.81 136.9,342.86 137.4,342.9 137.9,342.94 138.4,342.98 138.9,343.02 139.4,343.05 139.9,343.07 140.4,343.1 140.9,343.12 141.4,343.14 141.9,343.16 142.4,343.17 142.9,343.19 143.4,343.2 143.9,343.21 144.4,343.22 144.9,343.23 145.4,343.24 145.9,343.25 146.4,343.25 146.9,343.26 147.4,343.27 147.9,343.27 148.4,343.27 148.9,343.28 149.4,343.28 149.9,343.28 150.4,343.29 150.9,343.29 151.4,343.29 151.9,343.29 152.4,343.29 152.9,343.29 153.4,343.29 153.9,343.29 154.4,343.3 154.4,343.3" fill="rgba(245,90,105,0.36)" stroke="rgba(220,40,60,0.6)" stroke-width="0.6" />
<polygon points="118.4,343.3 118.4,343.3 118.9,343.29 119.4,343.29 119.9,343.29 120.4,343.29 120.9,343.28 121.4,343.28 121.9,343.27 122.4,343.27 122.9,343.26 123.4,343.24 123.9,343.23 124.4,343.21 124.9,343.19 125.4,343.17 125.9,343.14 126.4,343.1 126.9,343.06 127.4,343.01 127.9,342.95 128.4,342.88 128.9,342.81 129.4,342.72 129.9,342.62 130.4,342.51 130.9,342.38 131.4,342.24 131.9,342.09 132.4,341.92 132.9,341.75 133.4,341.55 133.9,341.35 134.4,341.13 134.9,340.91 135.4,340.67 135.9,340.44 136.4,340.19 136.9,339.95 137.4,339.71 137.9,339.48 138.4,339.25 138.9,339.04 139.4,338.84 139.9,338.66 140.4,338.5 140.9,338.36 141.4,338.26 141.9,338.17 142.4,338.12 142.9,338.1 143.4,338.11 143.9,338.15 144.4,338.22 144.9,338.32 145.4,338.44 145.9,338.59 146.4,338.76 146.9,338.96 147.4,339.16 147.9,339.39 148.4,339.62 148.9,339.86 149.4,340.1 149.9,340.34 150.4,340.58 150.9,340.82 151.4,341.04 151.9,341.26 152.4,341.47 152.9,341.67 153.4,341.85 153.9,342.03 154.4,342.18 154.9,342.33 155.4,342.46 155.9,342.57 156.4,342.68 156.9,342.77 157.4,342.85 157.9,342.92 158.4,342.99 158.9,343.04 159.4,343.08 159.9,343.12 160.4,343.16 160.9,343.18 161.4,343.21 161.9,343.22 162.4,343.24 162.9,343.25 163.4,343.26 163.9,343.27 164.4,343.28 164.9,343.28 165.4,343.29 165.9,343.29 166.4,343.29 166.9,343.29 167.4,343.3 167.4,343.3" fill="rgba(60,50,245,0.45)" stroke="rgba(60,60,230,0.6)" stroke-width="0.6" />
<polyline points="21.4,343.3 21.9,343.3 22.4,343.3 22.9,343.3 23.4,343.3 23.9,343.3 24.4,343.3 24.9,343.3 25.4,343.3 25.9,343.3 26.4,343.3 26.9,343.3 27.4,343.3 27.9,343.3 28.4,343.3 28.9,343.3 29.4,343.3 29.9,343.3 30.4,343.3 30.9,343.3 31.4,343.3 31.9,343.3 32.4,343.3 32.9,343.3 33.4,343.3 33.9,343.3 34.4,343.3 34.9,343.3 35.4,343.3 35.9,343.3 36.4,343.3 36.9,343.3 37.4,343.3 37.9,343.3 38.4,343.3 38.9,343.3 39.4,343.3 39.9,343.3 40.4,343.3 40.9,343.3 41.4,343.3 41.9,343.3 42.4,343.3 42.9,343.29 43.4,343.29 43.9,343.29 44.4,343.29 44.9,343.29 45.4,343.29 45.9,343.29 46.4,343.29 46.9,343.29 47.4,343.28 47.9,343.28 48.4,343.28 48.9,343.28 49.4,343.27 49.9,343.27 50.4,343.27 50.9,343.26 51.4,343.26 51.9,343.25 52.4,343.25 52.9,343.24 53.4,343.23 53.9,343.22 54.4,343.22 54.9,343.21 55.4,343.19 55.9,343.18 56.4,343.17 56.9,343.15 57.4,343.13 57.9,343.12 58.4,343.09 58.9,343.07 59.4,343.04 59.9,343.02 60.4,342.98 60.9,342.95 61.4,342.91 61.9,342.87 62.4,342.83 62.9,342.78 63.4,342.72 63.9,342.66 64.4,342.6 64.9,342.53 65.4,342.45 65.9,342.36 66.4,342.27 66.9,342.18 67.4,342.07 67.9,341.95 68.4,341.83 68.9,341.69 69.4,341.55 69.9,341.39 70.4,341.23 70.9,341.05 71.4,340.86 71.9,340.65 72.4,340.43 72.9,340.2 73.4,339.95 73.9,339.68 74.4,339.4 74.9,339.1 75.4,338.79 75.9,338.46 76.4,338.1 76.9,337.73 77.4,337.34 77.9,336.93 78.4,336.51 78.9,336.06 79.4,335.59 79.9,335.1 80.4,334.59 80.9,334.06 81.4,333.51 81.9,332.94 82.4,332.35 82.9,331.74 83.4,331.11 83.9,330.46 84.4,329.8 84.9,329.12 85.4,328.42 85.9,327.71 86.4,326.98 86.9,326.24 87.4,325.49 87.9,324.73 88.4,323.97 88.9,323.19 89.4,322.41 89.9,321.62 90.4,320.84 90.9,320.05 91.4,319.26 91.9,318.48 92.4,317.7 92.9,316.93 93.4,316.17 93.9,315.42 94.4,314.69 94.9,313.97 95.4,313.26 95.9,312.58 96.4,311.91 96.9,311.27 97.4,310.65 97.9,310.06 98.4,309.49 98.9,308.95 99.4,308.45 99.9,307.97 100.4,307.53 100.9,307.12 101.4,306.74 101.9,306.4 102.4,306.09 102.9,305.81 103.4,305.58 103.9,305.38 104.4,305.21 104.9,305.08 105.4,304.99 105.9,304.93 106.4,304.9 106.9,304.91 107.4,304.95 107.9,305.02 108.4,305.12 108.9,305.25 109.4,305.41 109.9,305.6 110.4,305.81 110.9,306.05 111.4,306.3 111.9,306.59 112.4,306.89 112.9,307.21 113.4,307.54 113.9,307.9 114.4,308.28 114.9,308.69 115.4,309.11 115.9,309.56 116.4,310.02 116.9,310.5 117.4,311 117.9,311.51 118.4,312.03 118.9,312.57 119.4,313.11 119.9,313.67 120.4,314.23 120.9,314.8 121.4,315.38 121.9,315.96 122.4,316.54 122.9,317.13 123.4,317.72 123.9,318.31 124.4,318.9 124.9,319.49 125.4,320.07 125.9,320.66 126.4,321.23 126.9,321.81 127.4,322.37 127.9,322.93 128.4,323.48 128.9,324.03 129.4,324.56 129.9,325.08 130.4,325.59 130.9,326.09 131.4,326.58 131.9,327.05 132.4,327.51 132.9,327.95 133.4,328.38 133.9,328.8 134.4,329.21 134.9,329.6 135.4,329.98 135.9,330.34 136.4,330.7 136.9,331.04 137.4,331.37 137.9,331.69 138.4,332.01 138.9,332.32 139.4,332.62 139.9,332.91 140.4,333.21 140.9,333.5 141.4,333.78 141.9,334.07 142.4,334.35 142.9,334.64 143.4,334.92 143.9,335.21 144.4,335.49 144.9,335.78 145.4,336.07 145.9,336.36 146.4,336.65 146.9,336.94 147.4,337.23 147.9,337.52 148.4,337.81 148.9,338.09 149.4,338.38 149.9,338.66 150.4,338.93 150.9,339.2 151.4,339.46 151.9,339.72 152.4,339.97 152.9,340.21 153.4,340.44 153.9,340.66 154.4,340.87 154.9,341.07 155.4,341.26 155.9,341.44 156.4,341.61 156.9,341.77 157.4,341.92 157.9,342.06 158.4,342.18 158.9,342.3 159.4,342.41 159.9,342.51 160.4,342.6 160.9,342.68 161.4,342.75 161.9,342.82 162.4,342.88 162.9,342.93 163.4,342.98 163.9,343.02 164.4,343.06 164.9,343.09 165.4,343.12 165.9,343.15 166.4,343.17 166.9,343.19 167.4,343.21 167.9,343.22 168.4,343.23 168.9,343.24 169.4,343.25 169.9,343.26 170.4,343.27 170.9,343.27 171.4,343.28 171.9,343.28 172.4,343.28 172.9,343.29 173.4,343.29 173.9,343.29 174.4,343.29 174.9,343.29 175.4,343.3 175.9,343.3 176.4,343.3 176.9,343.3 177.4,343.3 177.9,343.3 178.4,343.3 178.9,343.3 179.4,343.3 179.9,343.3 180.4,343.3 180.9,343.3 181.4,343.3 181.9,343.3 182.4,343.3 182.9,343.3 183.4,343.3 183.9,343.3 184.4,343.3 184.9,343.3 185.4,343.3 185.9,343.3 186.4,343.3 186.9,343.3 187.4,343.3 187.9,343.3 188.4,343.3 188.9,343.3 189.4,343.3 189.9,343.3 190.4,343.3 190.9,343.3 191.4,343.3 191.9,343.3 192.4,343.3 192.9,343.3 193.4,343.3 193.9,343.3 194.4,343.3 194.9,343.3 195.4,343.3 195.9,343.3 196.4,343.3 196.9,343.3 197.4,343.3" fill="none" stroke="#acacac" stroke-width="2.7" stroke-linejoin="round" />
<polyline points="21.4,343.3 21.9,343.3 22.4,343.3 22.9,343.3 23.4,343.3 23.9,343.3 24.4,343.3 24.9,343.3 25.4,343.3 25.9,343.3 26.4,343.3 26.9,343.3 27.4,343.3 27.9,343.3 28.4,343.3 28.9,343.3 29.4,343.3 29.9,343.3 30.4,343.3 30.9,343.3 31.4,343.3 31.9,343.3 32.4,343.3 32.9,343.3 33.4,343.3 33.9,343.3 34.4,343.3 34.9,343.3 35.4,343.3 35.9,343.3 36.4,343.3 36.9,343.3 37.4,343.3 37.9,343.3 38.4,343.3 38.9,343.3 39.4,343.3 39.9,343.3 40.4,343.3 40.9,343.3 41.4,343.3 41.9,343.3 42.4,343.3 42.9,343.29 43.4,343.29 43.9,343.29 44.4,343.29 44.9,343.29 45.4,343.29 45.9,343.29 46.4,343.29 46.9,343.29 47.4,343.28 47.9,343.28 48.4,343.28 48.9,343.28 49.4,343.27 49.9,343.27 50.4,343.27 50.9,343.26 51.4,343.26 51.9,343.25 52.4,343.25 52.9,343.24 53.4,343.23 53.9,343.22 54.4,343.22 54.9,343.21 55.4,343.19 55.9,343.18 56.4,343.17 56.9,343.15 57.4,343.13 57.9,343.12 58.4,343.09 58.9,343.07 59.4,343.04 59.9,343.02 60.4,342.98 60.9,342.95 61.4,342.91 61.9,342.87 62.4,342.83 62.9,342.78 63.4,342.72 63.9,342.66 64.4,342.6 64.9,342.53 65.4,342.45 65.9,342.36 66.4,342.27 66.9,342.18 67.4,342.07 67.9,341.95 68.4,341.83 68.9,341.69 69.4,341.55 69.9,341.39 70.4,341.23 70.9,341.05 71.4,340.86 71.9,340.65 72.4,340.43 72.9,340.2 73.4,339.95 73.9,339.68 74.4,339.4 74.9,339.1 75.4,338.79 75.9,338.46 76.4,338.1 76.9,337.73 77.4,337.34 77.9,336.93 78.4,336.51 78.9,336.06 79.4,335.59 79.9,335.1 80.4,334.59 80.9,334.06 81.4,333.51 81.9,332.94 82.4,332.35 82.9,331.74 83.4,331.11 83.9,330.46 84.4,329.8 84.9,329.12 85.4,328.42 85.9,327.71 86.4,326.98 86.9,326.24 87.4,325.49 87.9,324.73 88.4,323.97 88.9,323.19 89.4,322.41 89.9,321.62 90.4,320.84 90.9,320.05 91.4,319.26 91.9,318.48 92.4,317.7 92.9,316.93 93.4,316.17 93.9,315.42 94.4,314.69 94.9,313.97 95.4,313.26 95.9,312.58 96.4,311.91 96.9,311.27 97.4,310.65 97.9,310.06 98.4,309.49 98.9,308.95 99.4,308.45 99.9,307.97 100.4,307.53 100.9,307.12 101.4,306.74 101.9,306.4 102.4,306.09 102.9,305.81 103.4,305.58 103.9,305.38 104.4,305.21 104.9,305.08 105.4,304.99 105.9,304.93 106.4,304.9 106.9,304.91 107.4,304.95 107.9,305.02 108.4,305.12 108.9,305.25 109.4,305.41 109.9,305.6 110.4,305.81 110.9,306.05 111.4,306.3 111.9,306.59 112.4,306.89 112.9,307.21 113.4,307.54 113.9,307.9 114.4,308.28 114.9,308.69 115.4,309.11 115.9,309.56 116.4,310.02 116.9,310.5 117.4,311 117.9,311.51 118.4,312.03 118.9,312.57 119.4,313.11 119.9,313.67 120.4,314.23 120.9,314.8 121.4,315.38 121.9,315.96 122.4,316.54 122.9,317.13 123.4,317.72 123.9,318.31 124.4,318.9 124.9,319.49 125.4,320.07 125.9,320.66 126.4,321.23 126.9,321.81 127.4,322.37 127.9,322.93 128.4,323.48 128.9,324.03 129.4,324.56 129.9,325.08 130.4,325.59 130.9,326.09 131.4,326.58 131.9,327.05 132.4,327.51 132.9,327.95 133.4,328.38 133.9,328.8 134.4,329.21 134.9,329.6 135.4,329.98 135.9,330.34 136.4,330.7 136.9,331.04 137.4,331.37 137.9,331.69 138.4,332.01 138.9,332.32 139.4,332.62 139.9,332.91 140.4,333.21 140.9,333.5 141.4,333.78 141.9,334.07 142.4,334.35 142.9,334.64 143.4,334.92 143.9,335.21 144.4,335.49 144.9,335.78 145.4,336.07 145.9,336.36 146.4,336.65 146.9,336.94 147.4,337.23 147.9,337.52 148.4,337.81 148.9,338.09 149.4,338.38 149.9,338.66 150.4,338.93 150.9,339.2 151.4,339.46 151.9,339.72 152.4,339.97 152.9,340.21 153.4,340.44 153.9,340.66 154.4,340.87 154.9,341.07 155.4,341.26 155.9,341.44 156.4,341.61 156.9,341.77 157.4,341.92 157.9,342.06 158.4,342.18 158.9,342.3 159.4,342.41 159.9,342.51 160.4,342.6 160.9,342.68 161.4,342.75 161.9,342.82 162.4,342.88 162.9,342.93 163.4,342.98 163.9,343.02 164.4,343.06 164.9,343.09 165.4,343.12 165.9,343.15 166.4,343.17 166.9,343.19 167.4,343.21 167.9,343.22 168.4,343.23 168.9,343.24 169.4,343.25 169.9,343.26 170.4,343.27 170.9,343.27 171.4,343.28 171.9,343.28 172.4,343.28 172.9,343.29 173.4,343.29 173.9,343.29 174.4,343.29 174.9,343.29 175.4,343.3 175.9,343.3 176.4,343.3 176.9,343.3 177.4,343.3 177.9,343.3 178.4,343.3 178.9,343.3 179.4,343.3 179.9,343.3 180.4,343.3 180.9,343.3 181.4,343.3 181.9,343.3 182.4,343.3 182.9,343.3 183.4,343.3 183.9,343.3 184.4,343.3 184.9,343.3 185.4,343.3 185.9,343.3 186.4,343.3 186.9,343.3 187.4,343.3 187.9,343.3 188.4,343.3 188.9,343.3 189.4,343.3 189.9,343.3 190.4,343.3 190.9,343.3 191.4,343.3 191.9,343.3 192.4,343.3 192.9,343.3 193.4,343.3 193.9,343.3 194.4,343.3 194.9,343.3 195.4,343.3 195.9,343.3 196.4,343.3 196.9,343.3 197.4,343.3" fill="none" stroke="#dadada" stroke-width="0.9" stroke-linejoin="round" />
<line x1="21.4" y1="295.1" x2="197.5" y2="295.1" stroke="#8a8a8a" stroke-width="1.0" />
<polygon points="43.9,391.7 43.9,391.7 44.4,391.69 44.9,391.69 45.4,391.69 45.9,391.69 46.4,391.69 46.9,391.69 47.4,391.69 47.9,391.69 48.4,391.69 48.9,391.69 49.4,391.68 49.9,391.68 50.4,391.68 50.9,391.68 51.4,391.67 51.9,391.67 52.4,391.67 52.9,391.66 53.4,391.66 53.9,391.66 54.4,391.65 54.9,391.65 55.4,391.64 55.9,391.63 56.4,391.63 56.9,391.62 57.4,391.61 57.9,391.6 58.4,391.59 58.9,391.58 59.4,391.57 59.9,391.55 60.4,391.54 60.9,391.52 61.4,391.51 61.9,391.49 62.4,391.47 62.9,391.45 63.4,391.42 63.9,391.4 64.4,391.37 64.9,391.34 65.4,391.31 65.9,391.28 66.4,391.24 66.9,391.2 67.4,391.16 67.9,391.11 68.4,391.06 68.9,391.01 69.4,390.95 69.9,390.89 70.4,390.82 70.9,390.76 71.4,390.68 71.9,390.6 72.4,390.52 72.9,390.43 73.4,390.34 73.9,390.24 74.4,390.13 74.9,390.02 75.4,389.9 75.9,389.77 76.4,389.64 76.9,389.5 77.4,389.35 77.9,389.2 78.4,389.04 78.9,388.87 79.4,388.69 79.9,388.5 80.4,388.3 80.9,388.1 81.4,387.88 81.9,387.66 82.4,387.43 82.9,387.18 83.4,386.93 83.9,386.67 84.4,386.4 84.9,386.11 85.4,385.82 85.9,385.52 86.4,385.21 86.9,384.89 87.4,384.55 87.9,384.21 88.4,383.86 88.9,383.5 89.4,383.13 89.9,382.76 90.4,382.37 90.9,381.97 91.4,381.57 91.9,381.16 92.4,380.74 92.9,380.32 93.4,379.89 93.9,379.45 94.4,379.01 94.9,378.57 95.4,378.12 95.9,377.67 96.4,377.21 96.9,376.75 97.4,376.3 97.9,375.84 98.4,375.38 98.9,374.92 99.4,374.47 99.9,374.02 100.4,373.57 100.9,373.13 101.4,372.69 101.9,372.26 102.4,371.83 102.9,371.42 103.4,371.01 103.9,370.62 104.4,370.23 104.9,369.86 105.4,369.5 105.9,369.15 106.4,368.82 106.9,368.51 107.4,368.2 107.9,367.92 108.4,367.65 108.9,367.4 109.4,367.17 109.9,366.96 110.4,366.77 110.9,366.6 111.4,366.45 111.9,366.32 112.4,366.21 112.9,366.13 113.4,366.06 113.9,366.02 114.4,366 114.9,366.01 115.4,366.05 115.9,366.12 116.4,366.23 116.9,366.37 117.4,366.55 117.9,366.76 118.4,367 118.9,367.27 119.4,367.57 119.9,367.91 120.4,368.27 120.9,368.65 121.4,369.06 121.9,369.5 122.4,369.95 122.9,370.43 123.4,370.92 123.9,371.43 124.4,371.95 124.9,372.49 125.4,373.04 125.9,373.6 126.4,374.16 126.9,374.73 127.4,375.3 127.9,375.88 128.4,376.46 128.9,377.03 129.4,377.61 129.9,378.18 130.4,378.74 130.9,379.3 131.4,379.85 131.9,380.39 132.4,380.92 132.9,381.45 133.4,381.95 133.9,382.45 134.4,382.93 134.9,383.4 135.4,383.86 135.9,384.3 136.4,384.72 136.9,385.13 137.4,385.53 137.9,385.9 138.4,386.27 138.9,386.61 139.4,386.95 139.9,387.26 140.4,387.56 140.9,387.85 141.4,388.12 141.9,388.37 142.4,388.62 142.9,388.84 143.4,389.06 143.9,389.26 144.4,389.45 144.9,389.63 145.4,389.8 145.9,389.95 146.4,390.1 146.9,390.23 147.4,390.36 147.9,390.47 148.4,390.58 148.9,390.68 149.4,390.77 149.9,390.86 150.4,390.94 150.9,391.01 151.4,391.07 151.9,391.13 152.4,391.19 152.9,391.24 153.4,391.29 153.9,391.33 154.4,391.37 154.9,391.4 155.4,391.43 155.9,391.46 156.4,391.49 156.9,391.51 157.4,391.53 157.9,391.55 158.4,391.57 158.9,391.58 159.4,391.6 159.9,391.61 160.4,391.62 160.9,391.63 161.4,391.64 161.9,391.64 162.4,391.65 162.9,391.66 163.4,391.66 163.9,391.67 164.4,391.67 164.9,391.68 165.4,391.68 165.9,391.68 166.4,391.68 166.9,391.69 167.4,391.69 167.9,391.69 168.4,391.69 168.9,391.69 169.4,391.69 169.9,391.69 170.4,391.69 170.9,391.7 170.9,391.7" fill="#b9e4fc" stroke="none" stroke-width="0.6" />
<polygon points="46.4,391.7 46.4,391.7 46.9,391.69 47.4,391.69 47.9,391.69 48.4,391.69 48.9,391.69 49.4,391.69 49.9,391.69 50.4,391.68 50.9,391.68 51.4,391.68 51.9,391.68 52.4,391.67 52.9,391.67 53.4,391.66 53.9,391.66 54.4,391.65 54.9,391.64 55.4,391.64 55.9,391.63 56.4,391.62 56.9,391.6 57.4,391.59 57.9,391.58 58.4,391.56 58.9,391.54 59.4,391.52 59.9,391.5 60.4,391.47 60.9,391.44 61.4,391.41 61.9,391.38 62.4,391.34 62.9,391.29 63.4,391.25 63.9,391.19 64.4,391.14 64.9,391.07 65.4,391 65.9,390.93 66.4,390.85 66.9,390.76 67.4,390.66 67.9,390.56 68.4,390.44 68.9,390.32 69.4,390.19 69.9,390.05 70.4,389.89 70.9,389.73 71.4,389.56 71.9,389.37 72.4,389.17 72.9,388.96 73.4,388.74 73.9,388.5 74.4,388.25 74.9,387.99 75.4,387.71 75.9,387.42 76.4,387.11 76.9,386.79 77.4,386.46 77.9,386.11 78.4,385.75 78.9,385.37 79.4,384.99 79.9,384.59 80.4,384.18 80.9,383.76 81.4,383.32 81.9,382.88 82.4,382.43 82.9,381.98 83.4,381.51 83.9,381.04 84.4,380.57 84.9,380.1 85.4,379.62 85.9,379.15 86.4,378.67 86.9,378.21 87.4,377.74 87.9,377.29 88.4,376.84 88.9,376.4 89.4,375.98 89.9,375.57 90.4,375.17 90.9,374.8 91.4,374.44 91.9,374.1 92.4,373.78 92.9,373.49 93.4,373.23 93.9,372.99 94.4,372.77 94.9,372.59 95.4,372.43 95.9,372.3 96.4,372.21 96.9,372.14 97.4,372.11 97.9,372.1 98.4,372.13 98.9,372.19 99.4,372.28 99.9,372.4 100.4,372.55 100.9,372.73 101.4,372.94 101.9,373.18 102.4,373.44 102.9,373.72 103.4,374.04 103.9,374.37 104.4,374.72 104.9,375.1 105.4,375.49 105.9,375.89 106.4,376.32 106.9,376.75 107.4,377.2 107.9,377.65 108.4,378.11 108.9,378.58 109.4,379.05 109.9,379.53 110.4,380 110.9,380.48 111.4,380.95 111.9,381.42 112.4,381.88 112.9,382.34 113.4,382.79 113.9,383.24 114.4,383.67 114.9,384.09 115.4,384.51 115.9,384.91 116.4,385.3 116.9,385.68 117.4,386.04 117.9,386.39 118.4,386.73 118.9,387.05 119.4,387.36 119.9,387.65 120.4,387.93 120.9,388.2 121.4,388.45 121.9,388.69 122.4,388.92 122.9,389.13 123.4,389.33 123.9,389.52 124.4,389.7 124.9,389.86 125.4,390.02 125.9,390.16 126.4,390.3 126.9,390.42 127.4,390.53 127.9,390.64 128.4,390.74 128.9,390.83 129.4,390.91 129.9,390.99 130.4,391.06 130.9,391.12 131.4,391.18 131.9,391.24 132.4,391.28 132.9,391.33 133.4,391.37 133.9,391.4 134.4,391.44 134.9,391.47 135.4,391.49 135.9,391.52 136.4,391.54 136.9,391.56 137.4,391.57 137.9,391.59 138.4,391.6 138.9,391.61 139.4,391.62 139.9,391.63 140.4,391.64 140.9,391.65 141.4,391.66 141.9,391.66 142.4,391.67 142.9,391.67 143.4,391.68 143.9,391.68 144.4,391.68 144.9,391.68 145.4,391.69 145.9,391.69 146.4,391.69 146.9,391.69 147.4,391.69 147.9,391.69 148.4,391.69 148.9,391.7 148.9,391.7" fill="rgba(245,90,105,0.36)" stroke="rgba(220,40,60,0.6)" stroke-width="0.6" />
<polygon points="115.4,391.7 115.4,391.7 115.9,391.69 116.4,391.69 116.9,391.69 117.4,391.69 117.9,391.68 118.4,391.68 118.9,391.67 119.4,391.66 119.9,391.65 120.4,391.64 120.9,391.62 121.4,391.6 121.9,391.58 122.4,391.55 122.9,391.51 123.4,391.47 123.9,391.42 124.4,391.37 124.9,391.3 125.4,391.23 125.9,391.14 126.4,391.04 126.9,390.93 127.4,390.81 127.9,390.67 128.4,390.52 128.9,390.35 129.4,390.17 129.9,389.98 130.4,389.77 130.9,389.55 131.4,389.31 131.9,389.07 132.4,388.82 132.9,388.57 133.4,388.31 133.9,388.06 134.4,387.81 134.9,387.56 135.4,387.33 135.9,387.11 136.4,386.9 136.9,386.72 137.4,386.56 137.9,386.43 138.4,386.33 138.9,386.25 139.4,386.21 139.9,386.2 140.4,386.22 140.9,386.28 141.4,386.36 141.9,386.48 142.4,386.62 142.9,386.79 143.4,386.98 143.9,387.19 144.4,387.42 144.9,387.66 145.4,387.91 145.9,388.16 146.4,388.42 146.9,388.67 147.4,388.92 147.9,389.17 148.4,389.41 148.9,389.64 149.4,389.85 149.9,390.06 150.4,390.24 150.9,390.42 151.4,390.58 151.9,390.73 152.4,390.86 152.9,390.98 153.4,391.08 153.9,391.18 154.4,391.26 154.9,391.33 155.4,391.39 155.9,391.44 156.4,391.49 156.9,391.53 157.4,391.56 157.9,391.59 158.4,391.61 158.9,391.63 159.4,391.64 159.9,391.65 160.4,391.66 160.9,391.67 161.4,391.68 161.9,391.68 162.4,391.69 162.9,391.69 163.4,391.69 163.9,391.69 164.4,391.7 164.4,391.7" fill="rgba(60,50,245,0.45)" stroke="rgba(60,60,230,0.6)" stroke-width="0.6" />
<polyline points="21.4,391.7 21.9,391.7 22.4,391.7 22.9,391.7 23.4,391.7 23.9,391.7 24.4,391.7 24.9,391.7 25.4,391.7 25.9,391.7 26.4,391.7 26.9,391.7 27.4,391.7 27.9,391.7 28.4,391.7 28.9,391.7 29.4,391.7 29.9,391.7 30.4,391.7 30.9,391.7 31.4,391.7 31.9,391.7 32.4,391.7 32.9,391.7 33.4,391.7 33.9,391.7 34.4,391.7 34.9,391.7 35.4,391.7 35.9,391.7 36.4,391.7 36.9,391.7 37.4,391.7 37.9,391.7 38.4,391.7 38.9,391.7 39.4,391.7 39.9,391.7 40.4,391.7 40.9,391.7 41.4,391.7 41.9,391.7 42.4,391.7 42.9,391.7 43.4,391.69 43.9,391.69 44.4,391.69 44.9,391.69 45.4,391.69 45.9,391.69 46.4,391.69 46.9,391.69 47.4,391.68 47.9,391.68 48.4,391.68 48.9,391.68 49.4,391.67 49.9,391.67 50.4,391.67 50.9,391.66 51.4,391.65 51.9,391.65 52.4,391.64 52.9,391.63 53.4,391.63 53.9,391.62 54.4,391.61 54.9,391.59 55.4,391.58 55.9,391.56 56.4,391.55 56.9,391.53 57.4,391.51 57.9,391.48 58.4,391.46 58.9,391.43 59.4,391.4 59.9,391.36 60.4,391.32 60.9,391.28 61.4,391.23 61.9,391.18 62.4,391.12 62.9,391.06 63.4,390.99 63.9,390.91 64.4,390.83 64.9,390.74 65.4,390.64 65.9,390.54 66.4,390.42 66.9,390.29 67.4,390.16 67.9,390.01 68.4,389.85 68.9,389.68 69.4,389.5 69.9,389.3 70.4,389.09 70.9,388.86 71.4,388.62 71.9,388.36 72.4,388.09 72.9,387.8 73.4,387.49 73.9,387.16 74.4,386.81 74.9,386.44 75.4,386.06 75.9,385.65 76.4,385.22 76.9,384.78 77.4,384.31 77.9,383.82 78.4,383.31 78.9,382.78 79.4,382.23 79.9,381.65 80.4,381.06 80.9,380.45 81.4,379.82 81.9,379.17 82.4,378.51 82.9,377.82 83.4,377.13 83.9,376.42 84.4,375.69 84.9,374.95 85.4,374.2 85.9,373.45 86.4,372.68 86.9,371.91 87.4,371.14 87.9,370.36 88.4,369.59 88.9,368.81 89.4,368.04 89.9,367.27 90.4,366.51 90.9,365.75 91.4,365.01 91.9,364.28 92.4,363.57 92.9,362.87 93.4,362.19 93.9,361.53 94.4,360.89 94.9,360.28 95.4,359.69 95.9,359.12 96.4,358.58 96.9,358.07 97.4,357.59 97.9,357.14 98.4,356.72 98.9,356.33 99.4,355.97 99.9,355.64 100.4,355.34 100.9,355.08 101.4,354.85 101.9,354.65 102.4,354.48 102.9,354.35 103.4,354.24 103.9,354.17 104.4,354.12 104.9,354.1 105.4,354.11 105.9,354.14 106.4,354.2 106.9,354.28 107.4,354.39 107.9,354.52 108.4,354.66 108.9,354.83 109.4,355.01 109.9,355.21 110.4,355.43 110.9,355.66 111.4,355.9 111.9,356.15 112.4,356.41 112.9,356.68 113.4,356.96 113.9,357.25 114.4,357.54 114.9,357.84 115.4,358.15 115.9,358.48 116.4,358.83 116.9,359.19 117.4,359.57 117.9,359.96 118.4,360.36 118.9,360.78 119.4,361.2 119.9,361.64 120.4,362.08 120.9,362.54 121.4,363 121.9,363.47 122.4,363.95 122.9,364.43 123.4,364.91 123.9,365.4 124.4,365.89 124.9,366.39 125.4,366.89 125.9,367.38 126.4,367.88 126.9,368.38 127.4,368.88 127.9,369.37 128.4,369.86 128.9,370.35 129.4,370.84 129.9,371.33 130.4,371.81 130.9,372.28 131.4,372.75 131.9,373.22 132.4,373.69 132.9,374.15 133.4,374.6 133.9,375.06 134.4,375.51 134.9,375.95 135.4,376.4 135.9,376.84 136.4,377.28 136.9,377.72 137.4,378.16 137.9,378.59 138.4,379.03 138.9,379.46 139.4,379.89 139.9,380.33 140.4,380.76 140.9,381.19 141.4,381.62 141.9,382.04 142.4,382.47 142.9,382.89 143.4,383.31 143.9,383.72 144.4,384.13 144.9,384.53 145.4,384.93 145.9,385.32 146.4,385.7 146.9,386.07 147.4,386.43 147.9,386.78 148.4,387.11 148.9,387.44 149.4,387.75 149.9,388.05 150.4,388.34 150.9,388.61 151.4,388.87 151.9,389.11 152.4,389.34 152.9,389.56 153.4,389.76 153.9,389.94 154.4,390.12 154.9,390.28 155.4,390.43 155.9,390.56 156.4,390.69 156.9,390.8 157.4,390.9 157.9,391 158.4,391.08 158.9,391.16 159.4,391.23 159.9,391.29 160.4,391.34 160.9,391.39 161.4,391.43 161.9,391.47 162.4,391.5 162.9,391.53 163.4,391.55 163.9,391.58 164.4,391.59 164.9,391.61 165.4,391.62 165.9,391.64 166.4,391.65 166.9,391.65 167.4,391.66 167.9,391.67 168.4,391.67 168.9,391.68 169.4,391.68 169.9,391.68 170.4,391.69 170.9,391.69 171.4,391.69 171.9,391.69 172.4,391.69 172.9,391.7 173.4,391.7 173.9,391.7 174.4,391.7 174.9,391.7 175.4,391.7 175.9,391.7 176.4,391.7 176.9,391.7 177.4,391.7 177.9,391.7 178.4,391.7 178.9,391.7 179.4,391.7 179.9,391.7 180.4,391.7 180.9,391.7 181.4,391.7 181.9,391.7 182.4,391.7 182.9,391.7 183.4,391.7 183.9,391.7 184.4,391.7 184.9,391.7 185.4,391.7 185.9,391.7 186.4,391.7 186.9,391.7 187.4,391.7 187.9,391.7 188.4,391.7 188.9,391.7 189.4,391.7 189.9,391.7 190.4,391.7 190.9,391.7 191.4,391.7 191.9,391.7 192.4,391.7 192.9,391.7 193.4,391.7 193.9,391.7 194.4,391.7 194.9,391.7 195.4,391.7 195.9,391.7 196.4,391.7 196.9,391.7 197.4,391.7" fill="none" stroke="#acacac" stroke-width="2.7" stroke-linejoin="round" />
<polyline points="21.4,391.7 21.9,391.7 22.4,391.7 22.9,391.7 23.4,391.7 23.9,391.7 24.4,391.7 24.9,391.7 25.4,391.7 25.9,391.7 26.4,391.7 26.9,391.7 27.4,391.7 27.9,391.7 28.4,391.7 28.9,391.7 29.4,391.7 29.9,391.7 30.4,391.7 30.9,391.7 31.4,391.7 31.9,391.7 32.4,391.7 32.9,391.7 33.4,391.7 33.9,391.7 34.4,391.7 34.9,391.7 35.4,391.7 35.9,391.7 36.4,391.7 36.9,391.7 37.4,391.7 37.9,391.7 38.4,391.7 38.9,391.7 39.4,391.7 39.9,391.7 40.4,391.7 40.9,391.7 41.4,391.7 41.9,391.7 42.4,391.7 42.9,391.7 43.4,391.69 43.9,391.69 44.4,391.69 44.9,391.69 45.4,391.69 45.9,391.69 46.4,391.69 46.9,391.69 47.4,391.68 47.9,391.68 48.4,391.68 48.9,391.68 49.4,391.67 49.9,391.67 50.4,391.67 50.9,391.66 51.4,391.65 51.9,391.65 52.4,391.64 52.9,391.63 53.4,391.63 53.9,391.62 54.4,391.61 54.9,391.59 55.4,391.58 55.9,391.56 56.4,391.55 56.9,391.53 57.4,391.51 57.9,391.48 58.4,391.46 58.9,391.43 59.4,391.4 59.9,391.36 60.4,391.32 60.9,391.28 61.4,391.23 61.9,391.18 62.4,391.12 62.9,391.06 63.4,390.99 63.9,390.91 64.4,390.83 64.9,390.74 65.4,390.64 65.9,390.54 66.4,390.42 66.9,390.29 67.4,390.16 67.9,390.01 68.4,389.85 68.9,389.68 69.4,389.5 69.9,389.3 70.4,389.09 70.9,388.86 71.4,388.62 71.9,388.36 72.4,388.09 72.9,387.8 73.4,387.49 73.9,387.16 74.4,386.81 74.9,386.44 75.4,386.06 75.9,385.65 76.4,385.22 76.9,384.78 77.4,384.31 77.9,383.82 78.4,383.31 78.9,382.78 79.4,382.23 79.9,381.65 80.4,381.06 80.9,380.45 81.4,379.82 81.9,379.17 82.4,378.51 82.9,377.82 83.4,377.13 83.9,376.42 84.4,375.69 84.9,374.95 85.4,374.2 85.9,373.45 86.4,372.68 86.9,371.91 87.4,371.14 87.9,370.36 88.4,369.59 88.9,368.81 89.4,368.04 89.9,367.27 90.4,366.51 90.9,365.75 91.4,365.01 91.9,364.28 92.4,363.57 92.9,362.87 93.4,362.19 93.9,361.53 94.4,360.89 94.9,360.28 95.4,359.69 95.9,359.12 96.4,358.58 96.9,358.07 97.4,357.59 97.9,357.14 98.4,356.72 98.9,356.33 99.4,355.97 99.9,355.64 100.4,355.34 100.9,355.08 101.4,354.85 101.9,354.65 102.4,354.48 102.9,354.35 103.4,354.24 103.9,354.17 104.4,354.12 104.9,354.1 105.4,354.11 105.9,354.14 106.4,354.2 106.9,354.28 107.4,354.39 107.9,354.52 108.4,354.66 108.9,354.83 109.4,355.01 109.9,355.21 110.4,355.43 110.9,355.66 111.4,355.9 111.9,356.15 112.4,356.41 112.9,356.68 113.4,356.96 113.9,357.25 114.4,357.54 114.9,357.84 115.4,358.15 115.9,358.48 116.4,358.83 116.9,359.19 117.4,359.57 117.9,359.96 118.4,360.36 118.9,360.78 119.4,361.2 119.9,361.64 120.4,362.08 120.9,362.54 121.4,363 121.9,363.47 122.4,363.95 122.9,364.43 123.4,364.91 123.9,365.4 124.4,365.89 124.9,366.39 125.4,366.89 125.9,367.38 126.4,367.88 126.9,368.38 127.4,368.88 127.9,369.37 128.4,369.86 128.9,370.35 129.4,370.84 129.9,371.33 130.4,371.81 130.9,372.28 131.4,372.75 131.9,373.22 132.4,373.69 132.9,374.15 133.4,374.6 133.9,375.06 134.4,375.51 134.9,375.95 135.4,376.4 135.9,376.84 136.4,377.28 136.9,377.72 137.4,378.16 137.9,378.59 138.4,379.03 138.9,379.46 139.4,379.89 139.9,380.33 140.4,380.76 140.9,381.19 141.4,381.62 141.9,382.04 142.4,382.47 142.9,382.89 143.4,383.31 143.9,383.72 144.4,384.13 144.9,384.53 145.4,384.93 145.9,385.32 146.4,385.7 146.9,386.07 147.4,386.43 147.9,386.78 148.4,387.11 148.9,387.44 149.4,387.75 149.9,388.05 150.4,388.34 150.9,388.61 151.4,388.87 151.9,389.11 152.4,389.34 152.9,389.56 153.4,389.76 153.9,389.94 154.4,390.12 154.9,390.28 155.4,390.43 155.9,390.56 156.4,390.69 156.9,390.8 157.4,390.9 157.9,391 158.4,391.08 158.9,391.16 159.4,391.23 159.9,391.29 160.4,391.34 160.9,391.39 161.4,391.43 161.9,391.47 162.4,391.5 162.9,391.53 163.4,391.55 163.9,391.58 164.4,391.59 164.9,391.61 165.4,391.62 165.9,391.64 166.4,391.65 166.9,391.65 167.4,391.66 167.9,391.67 168.4,391.67 168.9,391.68 169.4,391.68 169.9,391.68 170.4,391.69 170.9,391.69 171.4,391.69 171.9,391.69 172.4,391.69 172.9,391.7 173.4,391.7 173.9,391.7 174.4,391.7 174.9,391.7 175.4,391.7 175.9,391.7 176.4,391.7 176.9,391.7 177.4,391.7 177.9,391.7 178.4,391.7 178.9,391.7 179.4,391.7 179.9,391.7 180.4,391.7 180.9,391.7 181.4,391.7 181.9,391.7 182.4,391.7 182.9,391.7 183.4,391.7 183.9,391.7 184.4,391.7 184.9,391.7 185.4,391.7 185.9,391.7 186.4,391.7 186.9,391.7 187.4,391.7 187.9,391.7 188.4,391.7 188.9,391.7 189.4,391.7 189.9,391.7 190.4,391.7 190.9,391.7 191.4,391.7 191.9,391.7 192.4,391.7 192.9,391.7 193.4,391.7 193.9,391.7 194.4,391.7 194.9,391.7 195.4,391.7 195.9,391.7 196.4,391.7 196.9,391.7 197.4,391.7" fill="none" stroke="#dadada" stroke-width="0.9" stroke-linejoin="round" />
<line x1="21.4" y1="343.3" x2="197.5" y2="343.3" stroke="#8a8a8a" stroke-width="1.0" />
<polygon points="44.4,438.6 44.4,438.6 44.9,438.6 45.4,438.59 45.9,438.59 46.4,438.59 46.9,438.59 47.4,438.59 47.9,438.59 48.4,438.59 48.9,438.59 49.4,438.59 49.9,438.58 50.4,438.58 50.9,438.58 51.4,438.58 51.9,438.57 52.4,438.57 52.9,438.57 53.4,438.56 53.9,438.56 54.4,438.55 54.9,438.55 55.4,438.54 55.9,438.54 56.4,438.53 56.9,438.52 57.4,438.51 57.9,438.5 58.4,438.49 58.9,438.48 59.4,438.47 59.9,438.45 60.4,438.44 60.9,438.42 61.4,438.4 61.9,438.38 62.4,438.36 62.9,438.33 63.4,438.31 63.9,438.28 64.4,438.25 64.9,438.21 65.4,438.18 65.9,438.14 66.4,438.1 66.9,438.05 67.4,438 67.9,437.95 68.4,437.89 68.9,437.83 69.4,437.76 69.9,437.69 70.4,437.61 70.9,437.53 71.4,437.44 71.9,437.35 72.4,437.25 72.9,437.15 73.4,437.03 73.9,436.91 74.4,436.79 74.9,436.65 75.4,436.51 75.9,436.36 76.4,436.2 76.9,436.03 77.4,435.85 77.9,435.66 78.4,435.47 78.9,435.26 79.4,435.04 79.9,434.81 80.4,434.57 80.9,434.33 81.4,434.07 81.9,433.79 82.4,433.51 82.9,433.22 83.4,432.91 83.9,432.6 84.4,432.27 84.9,431.93 85.4,431.58 85.9,431.21 86.4,430.84 86.9,430.46 87.4,430.06 87.9,429.66 88.4,429.24 88.9,428.82 89.4,428.38 89.9,427.94 90.4,427.49 90.9,427.03 91.4,426.56 91.9,426.09 92.4,425.61 92.9,425.12 93.4,424.63 93.9,424.14 94.4,423.64 94.9,423.15 95.4,422.65 95.9,422.15 96.4,421.65 96.9,421.16 97.4,420.66 97.9,420.18 98.4,419.69 98.9,419.22 99.4,418.75 99.9,418.29 100.4,417.84 100.9,417.4 101.4,416.97 101.9,416.55 102.4,416.15 102.9,415.76 103.4,415.39 103.9,415.04 104.4,414.7 104.9,414.38 105.4,414.09 105.9,413.81 106.4,413.55 106.9,413.32 107.4,413.11 107.9,412.92 108.4,412.76 108.9,412.62 109.4,412.5 109.9,412.42 110.4,412.35 110.9,412.31 111.4,412.3 111.9,412.32 112.4,412.37 112.9,412.45 113.4,412.57 113.9,412.72 114.4,412.9 114.9,413.11 115.4,413.35 115.9,413.62 116.4,413.92 116.9,414.25 117.4,414.61 117.9,414.99 118.4,415.39 118.9,415.82 119.4,416.26 119.9,416.73 120.4,417.21 120.9,417.71 121.4,418.22 121.9,418.75 122.4,419.28 122.9,419.83 123.4,420.39 123.9,420.95 124.4,421.51 124.9,422.08 125.4,422.65 125.9,423.22 126.4,423.79 126.9,424.35 127.4,424.91 127.9,425.47 128.4,426.02 128.9,426.56 129.4,427.09 129.9,427.62 130.4,428.13 130.9,428.63 131.4,429.12 131.9,429.6 132.4,430.06 132.9,430.51 133.4,430.95 133.9,431.37 134.4,431.78 134.9,432.17 135.4,432.55 135.9,432.91 136.4,433.26 136.9,433.59 137.4,433.91 137.9,434.22 138.4,434.5 138.9,434.78 139.4,435.04 139.9,435.29 140.4,435.52 140.9,435.74 141.4,435.95 141.9,436.15 142.4,436.33 142.9,436.51 143.4,436.67 143.9,436.82 144.4,436.97 144.9,437.1 145.4,437.22 145.9,437.34 146.4,437.44 146.9,437.54 147.4,437.64 147.9,437.72 148.4,437.8 148.9,437.87 149.4,437.94 149.9,438 150.4,438.06 150.9,438.11 151.4,438.16 151.9,438.2 152.4,438.24 152.9,438.27 153.4,438.31 153.9,438.34 154.4,438.36 154.9,438.39 155.4,438.41 155.9,438.43 156.4,438.45 156.9,438.47 157.4,438.48 157.9,438.49 158.4,438.51 158.9,438.52 159.4,438.53 159.9,438.53 160.4,438.54 160.9,438.55 161.4,438.56 161.9,438.56 162.4,438.57 162.9,438.57 163.4,438.57 163.9,438.58 164.4,438.58 164.9,438.58 165.4,438.58 165.9,438.59 166.4,438.59 166.9,438.59 167.4,438.59 167.9,438.59 168.4,438.59 168.9,438.59 169.4,438.6 169.9,438.6 169.9,438.6" fill="#b9e4fc" stroke="none" stroke-width="0.6" />
<polygon points="46.9,438.6 46.9,438.6 47.4,438.6 47.9,438.59 48.4,438.59 48.9,438.59 49.4,438.59 49.9,438.59 50.4,438.59 50.9,438.59 51.4,438.58 51.9,438.58 52.4,438.58 52.9,438.57 53.4,438.57 53.9,438.57 54.4,438.56 54.9,438.55 55.4,438.55 55.9,438.54 56.4,438.53 56.9,438.52 57.4,438.51 57.9,438.5 58.4,438.48 58.9,438.47 59.4,438.45 59.9,438.43 60.4,438.41 60.9,438.39 61.4,438.36 61.9,438.33 62.4,438.3 62.9,438.26 63.4,438.22 63.9,438.18 64.4,438.13 64.9,438.08 65.4,438.03 65.9,437.96 66.4,437.9 66.9,437.82 67.4,437.74 67.9,437.66 68.4,437.56 68.9,437.46 69.4,437.35 69.9,437.23 70.4,437.11 70.9,436.97 71.4,436.83 71.9,436.67 72.4,436.51 72.9,436.34 73.4,436.15 73.9,435.96 74.4,435.75 74.9,435.53 75.4,435.3 75.9,435.06 76.4,434.81 76.9,434.54 77.4,434.27 77.9,433.98 78.4,433.68 78.9,433.37 79.4,433.05 79.9,432.72 80.4,432.38 80.9,432.03 81.4,431.68 81.9,431.31 82.4,430.94 82.9,430.56 83.4,430.18 83.9,429.79 84.4,429.4 84.9,429.01 85.4,428.62 85.9,428.22 86.4,427.83 86.9,427.45 87.4,427.06 87.9,426.69 88.4,426.32 88.9,425.96 89.4,425.61 89.9,425.27 90.4,424.94 90.9,424.63 91.4,424.33 91.9,424.05 92.4,423.79 92.9,423.55 93.4,423.33 93.9,423.13 94.4,422.95 94.9,422.8 95.4,422.67 95.9,422.57 96.4,422.49 96.9,422.43 97.4,422.4 97.9,422.4 98.4,422.43 98.9,422.47 99.4,422.55 99.9,422.65 100.4,422.77 100.9,422.92 101.4,423.09 101.9,423.29 102.4,423.51 102.9,423.74 103.4,424 103.9,424.28 104.4,424.57 104.9,424.88 105.4,425.2 105.9,425.54 106.4,425.88 106.9,426.24 107.4,426.61 107.9,426.99 108.4,427.37 108.9,427.76 109.4,428.15 109.9,428.54 110.4,428.93 110.9,429.32 111.4,429.71 111.9,430.1 112.4,430.49 112.9,430.87 113.4,431.24 113.9,431.6 114.4,431.96 114.9,432.31 115.4,432.66 115.9,432.99 116.4,433.31 116.9,433.62 117.4,433.92 117.9,434.21 118.4,434.49 118.9,434.75 119.4,435.01 119.9,435.25 120.4,435.49 120.9,435.71 121.4,435.92 121.9,436.11 122.4,436.3 122.9,436.48 123.4,436.64 123.9,436.8 124.4,436.95 124.9,437.08 125.4,437.21 125.9,437.33 126.4,437.44 126.9,437.54 127.4,437.64 127.9,437.72 128.4,437.81 128.9,437.88 129.4,437.95 129.9,438.01 130.4,438.07 130.9,438.12 131.4,438.17 131.9,438.22 132.4,438.26 132.9,438.29 133.4,438.33 133.9,438.36 134.4,438.38 134.9,438.41 135.4,438.43 135.9,438.45 136.4,438.47 136.9,438.48 137.4,438.5 137.9,438.51 138.4,438.52 138.9,438.53 139.4,438.54 139.9,438.55 140.4,438.55 140.9,438.56 141.4,438.56 141.9,438.57 142.4,438.57 142.9,438.58 143.4,438.58 143.9,438.58 144.4,438.58 144.9,438.59 145.4,438.59 145.9,438.59 146.4,438.59 146.9,438.59 147.4,438.59 147.9,438.59 148.4,438.6 148.4,438.6" fill="rgba(245,90,105,0.36)" stroke="rgba(220,40,60,0.6)" stroke-width="0.6" />
<polygon points="111.4,438.6 111.4,438.6 111.9,438.59 112.4,438.59 112.9,438.59 113.4,438.59 113.9,438.58 114.4,438.58 114.9,438.57 115.4,438.56 115.9,438.56 116.4,438.54 116.9,438.53 117.4,438.51 117.9,438.49 118.4,438.47 118.9,438.44 119.4,438.41 119.9,438.37 120.4,438.32 120.9,438.27 121.4,438.2 121.9,438.13 122.4,438.04 122.9,437.95 123.4,437.84 123.9,437.72 124.4,437.58 124.9,437.43 125.4,437.27 125.9,437.08 126.4,436.89 126.9,436.67 127.4,436.44 127.9,436.2 128.4,435.94 128.9,435.66 129.4,435.38 129.9,435.08 130.4,434.78 130.9,434.48 131.4,434.17 131.9,433.86 132.4,433.56 132.9,433.27 133.4,432.99 133.9,432.72 134.4,432.47 134.9,432.25 135.4,432.05 135.9,431.87 136.4,431.73 136.9,431.62 137.4,431.55 137.9,431.51 138.4,431.5 138.9,431.54 139.4,431.6 139.9,431.71 140.4,431.84 140.9,432.01 141.4,432.2 141.9,432.43 142.4,432.67 142.9,432.93 143.4,433.21 143.9,433.5 144.4,433.8 144.9,434.11 145.4,434.42 145.9,434.72 146.4,435.02 146.9,435.32 147.4,435.61 147.9,435.88 148.4,436.14 148.9,436.39 149.4,436.63 149.9,436.84 150.4,437.05 150.9,437.23 151.4,437.4 151.9,437.55 152.4,437.69 152.9,437.82 153.4,437.93 153.9,438.03 154.4,438.11 154.9,438.19 155.4,438.25 155.9,438.31 156.4,438.36 156.9,438.4 157.4,438.43 157.9,438.46 158.4,438.49 158.9,438.51 159.4,438.53 159.9,438.54 160.4,438.55 160.9,438.56 161.4,438.57 161.9,438.58 162.4,438.58 162.9,438.59 163.4,438.59 163.9,438.59 164.4,438.59 164.9,438.6 164.9,438.6" fill="rgba(60,50,245,0.45)" stroke="rgba(60,60,230,0.6)" stroke-width="0.6" />
<polyline points="21.4,438.6 21.9,438.6 22.4,438.6 22.9,438.6 23.4,438.6 23.9,438.6 24.4,438.6 24.9,438.6 25.4,438.6 25.9,438.6 26.4,438.6 26.9,438.6 27.4,438.6 27.9,438.6 28.4,438.6 28.9,438.6 29.4,438.6 29.9,438.6 30.4,438.6 30.9,438.6 31.4,438.6 31.9,438.6 32.4,438.6 32.9,438.6 33.4,438.6 33.9,438.6 34.4,438.6 34.9,438.6 35.4,438.6 35.9,438.6 36.4,438.6 36.9,438.6 37.4,438.6 37.9,438.6 38.4,438.6 38.9,438.6 39.4,438.6 39.9,438.6 40.4,438.6 40.9,438.6 41.4,438.6 41.9,438.6 42.4,438.6 42.9,438.6 43.4,438.6 43.9,438.59 44.4,438.59 44.9,438.59 45.4,438.59 45.9,438.59 46.4,438.59 46.9,438.59 47.4,438.59 47.9,438.58 48.4,438.58 48.9,438.58 49.4,438.58 49.9,438.57 50.4,438.57 50.9,438.56 51.4,438.56 51.9,438.55 52.4,438.55 52.9,438.54 53.4,438.53 53.9,438.52 54.4,438.51 54.9,438.5 55.4,438.49 55.9,438.47 56.4,438.46 56.9,438.44 57.4,438.42 57.9,438.4 58.4,438.37 58.9,438.34 59.4,438.31 59.9,438.28 60.4,438.24 60.9,438.2 61.4,438.15 61.9,438.1 62.4,438.05 62.9,437.99 63.4,437.92 63.9,437.85 64.4,437.76 64.9,437.68 65.4,437.58 65.9,437.48 66.4,437.37 66.9,437.24 67.4,437.11 67.9,436.97 68.4,436.81 68.9,436.65 69.4,436.47 69.9,436.28 70.4,436.07 70.9,435.85 71.4,435.61 71.9,435.36 72.4,435.09 72.9,434.8 73.4,434.5 73.9,434.18 74.4,433.84 74.9,433.48 75.4,433.09 75.9,432.69 76.4,432.27 76.9,431.83 77.4,431.37 77.9,430.88 78.4,430.38 78.9,429.85 79.4,429.3 79.9,428.73 80.4,428.14 80.9,427.53 81.4,426.9 81.9,426.25 82.4,425.58 82.9,424.9 83.4,424.19 83.9,423.48 84.4,422.74 84.9,422 85.4,421.24 85.9,420.46 86.4,419.68 86.9,418.9 87.4,418.1 87.9,417.3 88.4,416.5 88.9,415.7 89.4,414.9 89.9,414.1 90.4,413.3 90.9,412.52 91.4,411.74 91.9,410.97 92.4,410.21 92.9,409.47 93.4,408.74 93.9,408.04 94.4,407.35 94.9,406.69 95.4,406.04 95.9,405.43 96.4,404.84 96.9,404.27 97.4,403.74 97.9,403.23 98.4,402.76 98.9,402.32 99.4,401.91 99.9,401.54 100.4,401.2 100.9,400.9 101.4,400.62 101.9,400.39 102.4,400.19 102.9,400.02 103.4,399.89 103.9,399.79 104.4,399.73 104.9,399.7 105.4,399.7 105.9,399.73 106.4,399.8 106.9,399.89 107.4,400.01 107.9,400.16 108.4,400.33 108.9,400.53 109.4,400.75 109.9,400.99 110.4,401.25 110.9,401.54 111.4,401.83 111.9,402.15 112.4,402.49 112.9,402.85 113.4,403.23 113.9,403.63 114.4,404.04 114.9,404.46 115.4,404.9 115.9,405.35 116.4,405.81 116.9,406.28 117.4,406.75 117.9,407.23 118.4,407.71 118.9,408.2 119.4,408.68 119.9,409.17 120.4,409.65 120.9,410.13 121.4,410.61 121.9,411.09 122.4,411.56 122.9,412.03 123.4,412.49 123.9,412.94 124.4,413.4 124.9,413.84 125.4,414.28 125.9,414.71 126.4,415.14 126.9,415.56 127.4,415.98 127.9,416.39 128.4,416.8 128.9,417.21 129.4,417.61 129.9,418.01 130.4,418.41 130.9,418.8 131.4,419.2 131.9,419.59 132.4,419.99 132.9,420.39 133.4,420.79 133.9,421.19 134.4,421.6 134.9,422.01 135.4,422.42 135.9,422.84 136.4,423.26 136.9,423.69 137.4,424.12 137.9,424.55 138.4,424.99 138.9,425.44 139.4,425.88 139.9,426.33 140.4,426.79 140.9,427.24 141.4,427.7 141.9,428.15 142.4,428.61 142.9,429.06 143.4,429.51 143.9,429.95 144.4,430.39 144.9,430.82 145.4,431.25 145.9,431.67 146.4,432.08 146.9,432.47 147.4,432.86 147.9,433.24 148.4,433.6 148.9,433.95 149.4,434.28 149.9,434.6 150.4,434.91 150.9,435.2 151.4,435.47 151.9,435.74 152.4,435.98 152.9,436.21 153.4,436.43 153.9,436.63 154.4,436.82 154.9,436.99 155.4,437.15 155.9,437.3 156.4,437.44 156.9,437.56 157.4,437.68 157.9,437.78 158.4,437.87 158.9,437.96 159.4,438.03 159.9,438.1 160.4,438.17 160.9,438.22 161.4,438.27 161.9,438.31 162.4,438.35 162.9,438.38 163.4,438.41 163.9,438.44 164.4,438.46 164.9,438.48 165.4,438.5 165.9,438.52 166.4,438.53 166.9,438.54 167.4,438.55 167.9,438.56 168.4,438.56 168.9,438.57 169.4,438.57 169.9,438.58 170.4,438.58 170.9,438.59 171.4,438.59 171.9,438.59 172.4,438.59 172.9,438.59 173.4,438.59 173.9,438.6 174.4,438.6 174.9,438.6 175.4,438.6 175.9,438.6 176.4,438.6 176.9,438.6 177.4,438.6 177.9,438.6 178.4,438.6 178.9,438.6 179.4,438.6 179.9,438.6 180.4,438.6 180.9,438.6 181.4,438.6 181.9,438.6 182.4,438.6 182.9,438.6 183.4,438.6 183.9,438.6 184.4,438.6 184.9,438.6 185.4,438.6 185.9,438.6 186.4,438.6 186.9,438.6 187.4,438.6 187.9,438.6 188.4,438.6 188.9,438.6 189.4,438.6 189.9,438.6 190.4,438.6 190.9,438.6 191.4,438.6 191.9,438.6 192.4,438.6 192.9,438.6 193.4,438.6 193.9,438.6 194.4,438.6 194.9,438.6 195.4,438.6 195.9,438.6 196.4,438.6 196.9,438.6 197.4,438.6" fill="none" stroke="#acacac" stroke-width="2.7" stroke-linejoin="round" />
<polyline points="21.4,438.6 21.9,438.6 22.4,438.6 22.9,438.6 23.4,438.6 23.9,438.6 24.4,438.6 24.9,438.6 25.4,438.6 25.9,438.6 26.4,438.6 26.9,438.6 27.4,438.6 27.9,438.6 28.4,438.6 28.9,438.6 29.4,438.6 29.9,438.6 30.4,438.6 30.9,438.6 31.4,438.6 31.9,438.6 32.4,438.6 32.9,438.6 33.4,438.6 33.9,438.6 34.4,438.6 34.9,438.6 35.4,438.6 35.9,438.6 36.4,438.6 36.9,438.6 37.4,438.6 37.9,438.6 38.4,438.6 38.9,438.6 39.4,438.6 39.9,438.6 40.4,438.6 40.9,438.6 41.4,438.6 41.9,438.6 42.4,438.6 42.9,438.6 43.4,438.6 43.9,438.59 44.4,438.59 44.9,438.59 45.4,438.59 45.9,438.59 46.4,438.59 46.9,438.59 47.4,438.59 47.9,438.58 48.4,438.58 48.9,438.58 49.4,438.58 49.9,438.57 50.4,438.57 50.9,438.56 51.4,438.56 51.9,438.55 52.4,438.55 52.9,438.54 53.4,438.53 53.9,438.52 54.4,438.51 54.9,438.5 55.4,438.49 55.9,438.47 56.4,438.46 56.9,438.44 57.4,438.42 57.9,438.4 58.4,438.37 58.9,438.34 59.4,438.31 59.9,438.28 60.4,438.24 60.9,438.2 61.4,438.15 61.9,438.1 62.4,438.05 62.9,437.99 63.4,437.92 63.9,437.85 64.4,437.76 64.9,437.68 65.4,437.58 65.9,437.48 66.4,437.37 66.9,437.24 67.4,437.11 67.9,436.97 68.4,436.81 68.9,436.65 69.4,436.47 69.9,436.28 70.4,436.07 70.9,435.85 71.4,435.61 71.9,435.36 72.4,435.09 72.9,434.8 73.4,434.5 73.9,434.18 74.4,433.84 74.9,433.48 75.4,433.09 75.9,432.69 76.4,432.27 76.9,431.83 77.4,431.37 77.9,430.88 78.4,430.38 78.9,429.85 79.4,429.3 79.9,428.73 80.4,428.14 80.9,427.53 81.4,426.9 81.9,426.25 82.4,425.58 82.9,424.9 83.4,424.19 83.9,423.48 84.4,422.74 84.9,422 85.4,421.24 85.9,420.46 86.4,419.68 86.9,418.9 87.4,418.1 87.9,417.3 88.4,416.5 88.9,415.7 89.4,414.9 89.9,414.1 90.4,413.3 90.9,412.52 91.4,411.74 91.9,410.97 92.4,410.21 92.9,409.47 93.4,408.74 93.9,408.04 94.4,407.35 94.9,406.69 95.4,406.04 95.9,405.43 96.4,404.84 96.9,404.27 97.4,403.74 97.9,403.23 98.4,402.76 98.9,402.32 99.4,401.91 99.9,401.54 100.4,401.2 100.9,400.9 101.4,400.62 101.9,400.39 102.4,400.19 102.9,400.02 103.4,399.89 103.9,399.79 104.4,399.73 104.9,399.7 105.4,399.7 105.9,399.73 106.4,399.8 106.9,399.89 107.4,400.01 107.9,400.16 108.4,400.33 108.9,400.53 109.4,400.75 109.9,400.99 110.4,401.25 110.9,401.54 111.4,401.83 111.9,402.15 112.4,402.49 112.9,402.85 113.4,403.23 113.9,403.63 114.4,404.04 114.9,404.46 115.4,404.9 115.9,405.35 116.4,405.81 116.9,406.28 117.4,406.75 117.9,407.23 118.4,407.71 118.9,408.2 119.4,408.68 119.9,409.17 120.4,409.65 120.9,410.13 121.4,410.61 121.9,411.09 122.4,411.56 122.9,412.03 123.4,412.49 123.9,412.94 124.4,413.4 124.9,413.84 125.4,414.28 125.9,414.71 126.4,415.14 126.9,415.56 127.4,415.98 127.9,416.39 128.4,416.8 128.9,417.21 129.4,417.61 129.9,418.01 130.4,418.41 130.9,418.8 131.4,419.2 131.9,419.59 132.4,419.99 132.9,420.39 133.4,420.79 133.9,421.19 134.4,421.6 134.9,422.01 135.4,422.42 135.9,422.84 136.4,423.26 136.9,423.69 137.4,424.12 137.9,424.55 138.4,424.99 138.9,425.44 139.4,425.88 139.9,426.33 140.4,426.79 140.9,427.24 141.4,427.7 141.9,428.15 142.4,428.61 142.9,429.06 143.4,429.51 143.9,429.95 144.4,430.39 144.9,430.82 145.4,431.25 145.9,431.67 146.4,432.08 146.9,432.47 147.4,432.86 147.9,433.24 148.4,433.6 148.9,433.95 149.4,434.28 149.9,434.6 150.4,434.91 150.9,435.2 151.4,435.47 151.9,435.74 152.4,435.98 152.9,436.21 153.4,436.43 153.9,436.63 154.4,436.82 154.9,436.99 155.4,437.15 155.9,437.3 156.4,437.44 156.9,437.56 157.4,437.68 157.9,437.78 158.4,437.87 158.9,437.96 159.4,438.03 159.9,438.1 160.4,438.17 160.9,438.22 161.4,438.27 161.9,438.31 162.4,438.35 162.9,438.38 163.4,438.41 163.9,438.44 164.4,438.46 164.9,438.48 165.4,438.5 165.9,438.52 166.4,438.53 166.9,438.54 167.4,438.55 167.9,438.56 168.4,438.56 168.9,438.57 169.4,438.57 169.9,438.58 170.4,438.58 170.9,438.59 171.4,438.59 171.9,438.59 172.4,438.59 172.9,438.59 173.4,438.59 173.9,438.6 174.4,438.6 174.9,438.6 175.4,438.6 175.9,438.6 176.4,438.6 176.9,438.6 177.4,438.6 177.9,438.6 178.4,438.6 178.9,438.6 179.4,438.6 179.9,438.6 180.4,438.6 180.9,438.6 181.4,438.6 181.9,438.6 182.4,438.6 182.9,438.6 183.4,438.6 183.9,438.6 184.4,438.6 184.9,438.6 185.4,438.6 185.9,438.6 186.4,438.6 186.9,438.6 187.4,438.6 187.9,438.6 188.4,438.6 188.9,438.6 189.4,438.6 189.9,438.6 190.4,438.6 190.9,438.6 191.4,438.6 191.9,438.6 192.4,438.6 192.9,438.6 193.4,438.6 193.9,438.6 194.4,438.6 194.9,438.6 195.4,438.6 195.9,438.6 196.4,438.6 196.9,438.6 197.4,438.6" fill="none" stroke="#dadada" stroke-width="0.9" stroke-linejoin="round" />
<line x1="21.4" y1="391.7" x2="197.5" y2="391.7" stroke="#8a8a8a" stroke-width="1.0" />
<polygon points="46.9,486.4 46.9,486.4 47.4,486.39 47.9,486.39 48.4,486.39 48.9,486.39 49.4,486.39 49.9,486.39 50.4,486.39 50.9,486.39 51.4,486.39 51.9,486.38 52.4,486.38 52.9,486.38 53.4,486.38 53.9,486.37 54.4,486.37 54.9,486.36 55.4,486.36 55.9,486.35 56.4,486.35 56.9,486.34 57.4,486.33 57.9,486.33 58.4,486.32 58.9,486.31 59.4,486.3 59.9,486.28 60.4,486.27 60.9,486.25 61.4,486.24 61.9,486.22 62.4,486.2 62.9,486.18 63.4,486.15 63.9,486.13 64.4,486.1 64.9,486.06 65.4,486.03 65.9,485.99 66.4,485.95 66.9,485.9 67.4,485.85 67.9,485.8 68.4,485.74 68.9,485.67 69.4,485.6 69.9,485.53 70.4,485.45 70.9,485.36 71.4,485.27 71.9,485.16 72.4,485.05 72.9,484.94 73.4,484.81 73.9,484.68 74.4,484.53 74.9,484.38 75.4,484.22 75.9,484.04 76.4,483.86 76.9,483.66 77.4,483.45 77.9,483.23 78.4,483 78.9,482.75 79.4,482.49 79.9,482.21 80.4,481.92 80.9,481.62 81.4,481.3 81.9,480.97 82.4,480.62 82.9,480.25 83.4,479.87 83.9,479.48 84.4,479.06 84.9,478.64 85.4,478.19 85.9,477.73 86.4,477.25 86.9,476.76 87.4,476.26 87.9,475.74 88.4,475.2 88.9,474.65 89.4,474.09 89.9,473.51 90.4,472.93 90.9,472.33 91.4,471.72 91.9,471.1 92.4,470.48 92.9,469.84 93.4,469.2 93.9,468.56 94.4,467.91 94.9,467.26 95.4,466.61 95.9,465.96 96.4,465.31 96.9,464.67 97.4,464.03 97.9,463.39 98.4,462.77 98.9,462.15 99.4,461.55 99.9,460.96 100.4,460.39 100.9,459.83 101.4,459.29 101.9,458.77 102.4,458.27 102.9,457.8 103.4,457.34 103.9,456.92 104.4,456.52 104.9,456.15 105.4,455.81 105.9,455.5 106.4,455.22 106.9,454.97 107.4,454.76 107.9,454.58 108.4,454.43 108.9,454.32 109.4,454.25 109.9,454.21 110.4,454.2 110.9,454.24 111.4,454.32 111.9,454.44 112.4,454.6 112.9,454.79 113.4,455.03 113.9,455.31 114.4,455.62 114.9,455.96 115.4,456.35 115.9,456.76 116.4,457.21 116.9,457.68 117.4,458.19 117.9,458.72 118.4,459.28 118.9,459.85 119.4,460.45 119.9,461.07 120.4,461.71 120.9,462.36 121.4,463.02 121.9,463.69 122.4,464.37 122.9,465.06 123.4,465.75 123.9,466.45 124.4,467.15 124.9,467.85 125.4,468.54 125.9,469.23 126.4,469.91 126.9,470.59 127.4,471.26 127.9,471.92 128.4,472.57 128.9,473.2 129.4,473.83 129.9,474.44 130.4,475.03 130.9,475.61 131.4,476.17 131.9,476.71 132.4,477.24 132.9,477.75 133.4,478.24 133.9,478.72 134.4,479.17 134.9,479.61 135.4,480.03 135.9,480.43 136.4,480.81 136.9,481.18 137.4,481.52 137.9,481.85 138.4,482.17 138.9,482.46 139.4,482.74 139.9,483.01 140.4,483.26 140.9,483.49 141.4,483.71 141.9,483.92 142.4,484.11 142.9,484.3 143.4,484.46 143.9,484.62 144.4,484.77 144.9,484.91 145.4,485.04 145.9,485.15 146.4,485.26 146.9,485.36 147.4,485.46 147.9,485.54 148.4,485.62 148.9,485.69 149.4,485.76 149.9,485.82 150.4,485.88 150.9,485.93 151.4,485.98 151.9,486.02 152.4,486.06 152.9,486.09 153.4,486.12 153.9,486.15 154.4,486.18 154.9,486.2 155.4,486.22 155.9,486.24 156.4,486.26 156.9,486.28 157.4,486.29 157.9,486.3 158.4,486.31 158.9,486.32 159.4,486.33 159.9,486.34 160.4,486.35 160.9,486.35 161.4,486.36 161.9,486.36 162.4,486.37 162.9,486.37 163.4,486.38 163.9,486.38 164.4,486.38 164.9,486.38 165.4,486.39 165.9,486.39 166.4,486.39 166.9,486.39 167.4,486.39 167.9,486.39 168.4,486.39 168.9,486.4 169.4,486.4 169.4,486.4" fill="#b9e4fc" stroke="none" stroke-width="0.6" />
<polygon points="50.9,486.4 50.9,486.4 51.4,486.39 51.9,486.39 52.4,486.39 52.9,486.39 53.4,486.39 53.9,486.39 54.4,486.38 54.9,486.38 55.4,486.38 55.9,486.37 56.4,486.37 56.9,486.36 57.4,486.36 57.9,486.35 58.4,486.34 58.9,486.33 59.4,486.32 59.9,486.31 60.4,486.3 60.9,486.28 61.4,486.26 61.9,486.25 62.4,486.22 62.9,486.2 63.4,486.17 63.9,486.14 64.4,486.1 64.9,486.06 65.4,486.02 65.9,485.97 66.4,485.92 66.9,485.86 67.4,485.8 67.9,485.73 68.4,485.65 68.9,485.56 69.4,485.47 69.9,485.37 70.4,485.26 70.9,485.15 71.4,485.02 71.9,484.88 72.4,484.74 72.9,484.58 73.4,484.42 73.9,484.24 74.4,484.06 74.9,483.86 75.4,483.65 75.9,483.43 76.4,483.2 76.9,482.96 77.4,482.71 77.9,482.45 78.4,482.19 78.9,481.91 79.4,481.62 79.9,481.33 80.4,481.03 80.9,480.73 81.4,480.42 81.9,480.11 82.4,479.8 82.9,479.48 83.4,479.17 83.9,478.86 84.4,478.55 84.9,478.24 85.4,477.95 85.9,477.66 86.4,477.38 86.9,477.11 87.4,476.85 87.9,476.61 88.4,476.38 88.9,476.17 89.4,475.98 89.9,475.81 90.4,475.65 90.9,475.52 91.4,475.41 91.9,475.32 92.4,475.26 92.9,475.22 93.4,475.2 93.9,475.21 94.4,475.24 94.9,475.29 95.4,475.37 95.9,475.47 96.4,475.6 96.9,475.74 97.4,475.91 97.9,476.09 98.4,476.3 98.9,476.52 99.4,476.75 99.9,477 100.4,477.27 100.9,477.54 101.4,477.83 101.9,478.12 102.4,478.42 102.9,478.73 103.4,479.04 103.9,479.36 104.4,479.67 104.9,479.98 105.4,480.3 105.9,480.61 106.4,480.91 106.9,481.21 107.4,481.51 107.9,481.8 108.4,482.08 108.9,482.35 109.4,482.61 109.9,482.86 110.4,483.11 110.9,483.34 111.4,483.56 111.9,483.78 112.4,483.98 112.9,484.17 113.4,484.35 113.9,484.52 114.4,484.68 114.9,484.83 115.4,484.97 115.9,485.1 116.4,485.22 116.9,485.33 117.4,485.43 117.9,485.53 118.4,485.61 118.9,485.7 119.4,485.77 119.9,485.84 120.4,485.9 120.9,485.95 121.4,486 121.9,486.05 122.4,486.09 122.9,486.12 123.4,486.16 123.9,486.19 124.4,486.21 124.9,486.24 125.4,486.26 125.9,486.28 126.4,486.29 126.9,486.31 127.4,486.32 127.9,486.33 128.4,486.34 128.9,486.35 129.4,486.36 129.9,486.36 130.4,486.37 130.9,486.37 131.4,486.38 131.9,486.38 132.4,486.38 132.9,486.39 133.4,486.39 133.9,486.39 134.4,486.39 134.9,486.39 135.4,486.39 135.9,486.39 136.4,486.4 136.4,486.4" fill="rgba(245,90,105,0.36)" stroke="rgba(220,40,60,0.6)" stroke-width="0.6" />
<polygon points="110.4,486.4 110.4,486.4 110.9,486.39 111.4,486.39 111.9,486.39 112.4,486.39 112.9,486.38 113.4,486.38 113.9,486.37 114.4,486.37 114.9,486.36 115.4,486.35 115.9,486.34 116.4,486.32 116.9,486.3 117.4,486.28 117.9,486.25 118.4,486.22 118.9,486.19 119.4,486.14 119.9,486.09 120.4,486.03 120.9,485.96 121.4,485.88 121.9,485.79 122.4,485.69 122.9,485.57 123.4,485.43 123.9,485.28 124.4,485.11 124.9,484.92 125.4,484.72 125.9,484.49 126.4,484.24 126.9,483.96 127.4,483.67 127.9,483.35 128.4,483.01 128.9,482.65 129.4,482.27 129.9,481.88 130.4,481.46 130.9,481.04 131.4,480.6 131.9,480.15 132.4,479.7 132.9,479.24 133.4,478.8 133.9,478.35 134.4,477.92 134.9,477.51 135.4,477.12 135.9,476.75 136.4,476.42 136.9,476.12 137.4,475.85 137.9,475.63 138.4,475.45 138.9,475.32 139.4,475.24 139.9,475.2 140.4,475.22 140.9,475.28 141.4,475.39 141.9,475.55 142.4,475.76 142.9,476.01 143.4,476.29 143.9,476.62 144.4,476.97 144.9,477.35 145.4,477.76 145.9,478.18 146.4,478.62 146.9,479.06 147.4,479.52 147.9,479.97 148.4,480.42 148.9,480.86 149.4,481.29 149.9,481.71 150.4,482.12 150.9,482.5 151.4,482.87 151.9,483.22 152.4,483.54 152.9,483.85 153.4,484.13 153.9,484.39 154.4,484.63 154.9,484.84 155.4,485.04 155.9,485.22 156.4,485.37 156.9,485.52 157.4,485.64 157.9,485.75 158.4,485.85 158.9,485.93 159.4,486.01 159.9,486.07 160.4,486.12 160.9,486.17 161.4,486.21 161.9,486.24 162.4,486.27 162.9,486.29 163.4,486.31 163.9,486.33 164.4,486.34 164.9,486.35 165.4,486.36 165.9,486.37 166.4,486.38 166.9,486.38 167.4,486.39 167.9,486.39 168.4,486.39 168.9,486.39 169.4,486.39 169.4,486.4" fill="rgba(60,50,245,0.45)" stroke="rgba(60,60,230,0.6)" stroke-width="0.6" />
<polyline points="21.4,486.4 21.9,486.4 22.4,486.4 22.9,486.4 23.4,486.4 23.9,486.4 24.4,486.4 24.9,486.4 25.4,486.4 25.9,486.4 26.4,486.4 26.9,486.4 27.4,486.4 27.9,486.4 28.4,486.4 28.9,486.4 29.4,486.4 29.9,486.4 30.4,486.4 30.9,486.4 31.4,486.4 31.9,486.4 32.4,486.4 32.9,486.4 33.4,486.4 33.9,486.4 34.4,486.4 34.9,486.4 35.4,486.4 35.9,486.4 36.4,486.4 36.9,486.4 37.4,486.4 37.9,486.4 38.4,486.4 38.9,486.4 39.4,486.4 39.9,486.4 40.4,486.4 40.9,486.4 41.4,486.4 41.9,486.4 42.4,486.4 42.9,486.4 43.4,486.4 43.9,486.4 44.4,486.4 44.9,486.4 45.4,486.4 45.9,486.4 46.4,486.4 46.9,486.39 47.4,486.39 47.9,486.39 48.4,486.39 48.9,486.39 49.4,486.39 49.9,486.39 50.4,486.38 50.9,486.38 51.4,486.38 51.9,486.38 52.4,486.37 52.9,486.37 53.4,486.36 53.9,486.36 54.4,486.35 54.9,486.34 55.4,486.33 55.9,486.32 56.4,486.31 56.9,486.3 57.4,486.29 57.9,486.27 58.4,486.25 58.9,486.23 59.4,486.21 59.9,486.19 60.4,486.16 60.9,486.13 61.4,486.09 61.9,486.05 62.4,486.01 62.9,485.96 63.4,485.9 63.9,485.84 64.4,485.77 64.9,485.7 65.4,485.62 65.9,485.53 66.4,485.43 66.9,485.32 67.4,485.2 67.9,485.07 68.4,484.93 68.9,484.77 69.4,484.6 69.9,484.42 70.4,484.22 70.9,484.01 71.4,483.78 71.9,483.53 72.4,483.27 72.9,482.99 73.4,482.68 73.9,482.36 74.4,482.02 74.9,481.65 75.4,481.26 75.9,480.86 76.4,480.42 76.9,479.97 77.4,479.49 77.9,478.99 78.4,478.47 78.9,477.92 79.4,477.36 79.9,476.77 80.4,476.15 80.9,475.52 81.4,474.87 81.9,474.2 82.4,473.51 82.9,472.8 83.4,472.08 83.9,471.34 84.4,470.59 84.9,469.82 85.4,469.05 85.9,468.27 86.4,467.49 86.9,466.69 87.4,465.9 87.9,465.1 88.4,464.31 88.9,463.52 89.4,462.73 89.9,461.95 90.4,461.18 90.9,460.42 91.4,459.67 91.9,458.94 92.4,458.22 92.9,457.52 93.4,456.83 93.9,456.17 94.4,455.53 94.9,454.91 95.4,454.31 95.9,453.73 96.4,453.19 96.9,452.66 97.4,452.17 97.9,451.7 98.4,451.25 98.9,450.84 99.4,450.45 99.9,450.09 100.4,449.76 100.9,449.46 101.4,449.18 101.9,448.94 102.4,448.72 102.9,448.52 103.4,448.36 103.9,448.22 104.4,448.1 104.9,448.02 105.4,447.95 105.9,447.91 106.4,447.9 106.9,447.91 107.4,447.94 107.9,447.99 108.4,448.07 108.9,448.17 109.4,448.28 109.9,448.42 110.4,448.57 110.9,448.74 111.4,448.94 111.9,449.16 112.4,449.4 112.9,449.65 113.4,449.93 113.9,450.22 114.4,450.53 114.9,450.85 115.4,451.18 115.9,451.53 116.4,451.89 116.9,452.25 117.4,452.63 117.9,453.01 118.4,453.4 118.9,453.79 119.4,454.18 119.9,454.58 120.4,454.98 120.9,455.38 121.4,455.78 121.9,456.17 122.4,456.57 122.9,456.96 123.4,457.35 123.9,457.74 124.4,458.12 124.9,458.49 125.4,458.87 125.9,459.23 126.4,459.59 126.9,459.95 127.4,460.3 127.9,460.65 128.4,460.99 128.9,461.33 129.4,461.66 129.9,462 130.4,462.32 130.9,462.65 131.4,462.97 131.9,463.3 132.4,463.62 132.9,463.95 133.4,464.27 133.9,464.6 134.4,464.94 134.9,465.27 135.4,465.62 135.9,465.96 136.4,466.32 136.9,466.68 137.4,467.05 137.9,467.43 138.4,467.82 138.9,468.21 139.4,468.62 139.9,469.04 140.4,469.46 140.9,469.9 141.4,470.34 141.9,470.8 142.4,471.26 142.9,471.73 143.4,472.21 143.9,472.69 144.4,473.18 144.9,473.68 145.4,474.17 145.9,474.67 146.4,475.17 146.9,475.67 147.4,476.17 147.9,476.66 148.4,477.15 148.9,477.63 149.4,478.1 149.9,478.57 150.4,479.02 150.9,479.46 151.4,479.9 151.9,480.31 152.4,480.72 152.9,481.11 153.4,481.48 153.9,481.84 154.4,482.18 154.9,482.51 155.4,482.82 155.9,483.11 156.4,483.39 156.9,483.65 157.4,483.89 157.9,484.12 158.4,484.33 158.9,484.53 159.4,484.71 159.9,484.88 160.4,485.03 160.9,485.17 161.4,485.3 161.9,485.42 162.4,485.53 162.9,485.63 163.4,485.72 163.9,485.8 164.4,485.87 164.9,485.94 165.4,485.99 165.9,486.04 166.4,486.09 166.9,486.13 167.4,486.17 167.9,486.2 168.4,486.23 168.9,486.25 169.4,486.27 169.9,486.29 170.4,486.31 170.9,486.32 171.4,486.33 171.9,486.34 172.4,486.35 172.9,486.36 173.4,486.37 173.9,486.37 174.4,486.38 174.9,486.38 175.4,486.38 175.9,486.39 176.4,486.39 176.9,486.39 177.4,486.39 177.9,486.39 178.4,486.39 178.9,486.4 179.4,486.4 179.9,486.4 180.4,486.4 180.9,486.4 181.4,486.4 181.9,486.4 182.4,486.4 182.9,486.4 183.4,486.4 183.9,486.4 184.4,486.4 184.9,486.4 185.4,486.4 185.9,486.4 186.4,486.4 186.9,486.4 187.4,486.4 187.9,486.4 188.4,486.4 188.9,486.4 189.4,486.4 189.9,486.4 190.4,486.4 190.9,486.4 191.4,486.4 191.9,486.4 192.4,486.4 192.9,486.4 193.4,486.4 193.9,486.4 194.4,486.4 194.9,486.4 195.4,486.4 195.9,486.4 196.4,486.4 196.9,486.4 197.4,486.4" fill="none" stroke="#acacac" stroke-width="2.7" stroke-linejoin="round" />
<polyline points="21.4,486.4 21.9,486.4 22.4,486.4 22.9,486.4 23.4,486.4 23.9,486.4 24.4,486.4 24.9,486.4 25.4,486.4 25.9,486.4 26.4,486.4 26.9,486.4 27.4,486.4 27.9,486.4 28.4,486.4 28.9,486.4 29.4,486.4 29.9,486.4 30.4,486.4 30.9,486.4 31.4,486.4 31.9,486.4 32.4,486.4 32.9,486.4 33.4,486.4 33.9,486.4 34.4,486.4 34.9,486.4 35.4,486.4 35.9,486.4 36.4,486.4 36.9,486.4 37.4,486.4 37.9,486.4 38.4,486.4 38.9,486.4 39.4,486.4 39.9,486.4 40.4,486.4 40.9,486.4 41.4,486.4 41.9,486.4 42.4,486.4 42.9,486.4 43.4,486.4 43.9,486.4 44.4,486.4 44.9,486.4 45.4,486.4 45.9,486.4 46.4,486.4 46.9,486.39 47.4,486.39 47.9,486.39 48.4,486.39 48.9,486.39 49.4,486.39 49.9,486.39 50.4,486.38 50.9,486.38 51.4,486.38 51.9,486.38 52.4,486.37 52.9,486.37 53.4,486.36 53.9,486.36 54.4,486.35 54.9,486.34 55.4,486.33 55.9,486.32 56.4,486.31 56.9,486.3 57.4,486.29 57.9,486.27 58.4,486.25 58.9,486.23 59.4,486.21 59.9,486.19 60.4,486.16 60.9,486.13 61.4,486.09 61.9,486.05 62.4,486.01 62.9,485.96 63.4,485.9 63.9,485.84 64.4,485.77 64.9,485.7 65.4,485.62 65.9,485.53 66.4,485.43 66.9,485.32 67.4,485.2 67.9,485.07 68.4,484.93 68.9,484.77 69.4,484.6 69.9,484.42 70.4,484.22 70.9,484.01 71.4,483.78 71.9,483.53 72.4,483.27 72.9,482.99 73.4,482.68 73.9,482.36 74.4,482.02 74.9,481.65 75.4,481.26 75.9,480.86 76.4,480.42 76.9,479.97 77.4,479.49 77.9,478.99 78.4,478.47 78.9,477.92 79.4,477.36 79.9,476.77 80.4,476.15 80.9,475.52 81.4,474.87 81.9,474.2 82.4,473.51 82.9,472.8 83.4,472.08 83.9,471.34 84.4,470.59 84.9,469.82 85.4,469.05 85.9,468.27 86.4,467.49 86.9,466.69 87.4,465.9 87.9,465.1 88.4,464.31 88.9,463.52 89.4,462.73 89.9,461.95 90.4,461.18 90.9,460.42 91.4,459.67 91.9,458.94 92.4,458.22 92.9,457.52 93.4,456.83 93.9,456.17 94.4,455.53 94.9,454.91 95.4,454.31 95.9,453.73 96.4,453.19 96.9,452.66 97.4,452.17 97.9,451.7 98.4,451.25 98.9,450.84 99.4,450.45 99.9,450.09 100.4,449.76 100.9,449.46 101.4,449.18 101.9,448.94 102.4,448.72 102.9,448.52 103.4,448.36 103.9,448.22 104.4,448.1 104.9,448.02 105.4,447.95 105.9,447.91 106.4,447.9 106.9,447.91 107.4,447.94 107.9,447.99 108.4,448.07 108.9,448.17 109.4,448.28 109.9,448.42 110.4,448.57 110.9,448.74 111.4,448.94 111.9,449.16 112.4,449.4 112.9,449.65 113.4,449.93 113.9,450.22 114.4,450.53 114.9,450.85 115.4,451.18 115.9,451.53 116.4,451.89 116.9,452.25 117.4,452.63 117.9,453.01 118.4,453.4 118.9,453.79 119.4,454.18 119.9,454.58 120.4,454.98 120.9,455.38 121.4,455.78 121.9,456.17 122.4,456.57 122.9,456.96 123.4,457.35 123.9,457.74 124.4,458.12 124.9,458.49 125.4,458.87 125.9,459.23 126.4,459.59 126.9,459.95 127.4,460.3 127.9,460.65 128.4,460.99 128.9,461.33 129.4,461.66 129.9,462 130.4,462.32 130.9,462.65 131.4,462.97 131.9,463.3 132.4,463.62 132.9,463.95 133.4,464.27 133.9,464.6 134.4,464.94 134.9,465.27 135.4,465.62 135.9,465.96 136.4,466.32 136.9,466.68 137.4,467.05 137.9,467.43 138.4,467.82 138.9,468.21 139.4,468.62 139.9,469.04 140.4,469.46 140.9,469.9 141.4,470.34 141.9,470.8 142.4,471.26 142.9,471.73 143.4,472.21 143.9,472.69 144.4,473.18 144.9,473.68 145.4,474.17 145.9,474.67 146.4,475.17 146.9,475.67 147.4,476.17 147.9,476.66 148.4,477.15 148.9,477.63 149.4,478.1 149.9,478.57 150.4,479.02 150.9,479.46 151.4,479.9 151.9,480.31 152.4,480.72 152.9,481.11 153.4,481.48 153.9,481.84 154.4,482.18 154.9,482.51 155.4,482.82 155.9,483.11 156.4,483.39 156.9,483.65 157.4,483.89 157.9,484.12 158.4,484.33 158.9,484.53 159.4,484.71 159.9,484.88 160.4,485.03 160.9,485.17 161.4,485.3 161.9,485.42 162.4,485.53 162.9,485.63 163.4,485.72 163.9,485.8 164.4,485.87 164.9,485.94 165.4,485.99 165.9,486.04 166.4,486.09 166.9,486.13 167.4,486.17 167.9,486.2 168.4,486.23 168.9,486.25 169.4,486.27 169.9,486.29 170.4,486.31 170.9,486.32 171.4,486.33 171.9,486.34 172.4,486.35 172.9,486.36 173.4,486.37 173.9,486.37 174.4,486.38 174.9,486.38 175.4,486.38 175.9,486.39 176.4,486.39 176.9,486.39 177.4,486.39 177.9,486.39 178.4,486.39 178.9,486.4 179.4,486.4 179.9,486.4 180.4,486.4 180.9,486.4 181.4,486.4 181.9,486.4 182.4,486.4 182.9,486.4 183.4,486.4 183.9,486.4 184.4,486.4 184.9,486.4 185.4,486.4 185.9,486.4 186.4,486.4 186.9,486.4 187.4,486.4 187.9,486.4 188.4,486.4 188.9,486.4 189.4,486.4 189.9,486.4 190.4,486.4 190.9,486.4 191.4,486.4 191.9,486.4 192.4,486.4 192.9,486.4 193.4,486.4 193.9,486.4 194.4,486.4 194.9,486.4 195.4,486.4 195.9,486.4 196.4,486.4 196.9,486.4 197.4,486.4" fill="none" stroke="#dadada" stroke-width="0.9" stroke-linejoin="round" />
<line x1="21.4" y1="438.6" x2="197.5" y2="438.6" stroke="#8a8a8a" stroke-width="1.0" />
<polygon points="47.4,534.3 47.4,534.3 47.9,534.29 48.4,534.29 48.9,534.29 49.4,534.29 49.9,534.29 50.4,534.29 50.9,534.29 51.4,534.29 51.9,534.28 52.4,534.28 52.9,534.28 53.4,534.28 53.9,534.27 54.4,534.27 54.9,534.26 55.4,534.26 55.9,534.25 56.4,534.25 56.9,534.24 57.4,534.23 57.9,534.22 58.4,534.21 58.9,534.2 59.4,534.19 59.9,534.17 60.4,534.16 60.9,534.14 61.4,534.12 61.9,534.1 62.4,534.07 62.9,534.05 63.4,534.02 63.9,533.99 64.4,533.95 64.9,533.91 65.4,533.87 65.9,533.82 66.4,533.77 66.9,533.71 67.4,533.65 67.9,533.58 68.4,533.51 68.9,533.43 69.4,533.34 69.9,533.25 70.4,533.15 70.9,533.03 71.4,532.92 71.9,532.79 72.4,532.65 72.9,532.5 73.4,532.34 73.9,532.16 74.4,531.98 74.9,531.78 75.4,531.57 75.9,531.35 76.4,531.11 76.9,530.85 77.4,530.58 77.9,530.29 78.4,529.99 78.9,529.67 79.4,529.33 79.9,528.97 80.4,528.6 80.9,528.21 81.4,527.79 81.9,527.36 82.4,526.91 82.9,526.44 83.4,525.94 83.9,525.43 84.4,524.9 84.9,524.35 85.4,523.78 85.9,523.19 86.4,522.59 86.9,521.96 87.4,521.32 87.9,520.66 88.4,519.99 88.9,519.3 89.4,518.6 89.9,517.88 90.4,517.16 90.9,516.42 91.4,515.68 91.9,514.93 92.4,514.17 92.9,513.41 93.4,512.65 93.9,511.88 94.4,511.12 94.9,510.37 95.4,509.62 95.9,508.88 96.4,508.14 96.9,507.42 97.4,506.72 97.9,506.03 98.4,505.36 98.9,504.71 99.4,504.08 99.9,503.48 100.4,502.91 100.9,502.36 101.4,501.85 101.9,501.36 102.4,500.92 102.9,500.5 103.4,500.13 103.9,499.79 104.4,499.5 104.9,499.24 105.4,499.03 105.9,498.85 106.4,498.73 106.9,498.64 107.4,498.6 107.9,498.61 108.4,498.65 108.9,498.74 109.4,498.86 109.9,499.02 110.4,499.22 110.9,499.46 111.4,499.74 111.9,500.06 112.4,500.41 112.9,500.79 113.4,501.2 113.9,501.65 114.4,502.13 114.9,502.64 115.4,503.17 115.9,503.73 116.4,504.31 116.9,504.92 117.4,505.54 117.9,506.19 118.4,506.85 118.9,507.52 119.4,508.21 119.9,508.91 120.4,509.62 120.9,510.33 121.4,511.05 121.9,511.78 122.4,512.5 122.9,513.23 123.4,513.95 123.9,514.68 124.4,515.39 124.9,516.11 125.4,516.81 125.9,517.51 126.4,518.19 126.9,518.87 127.4,519.54 127.9,520.19 128.4,520.83 128.9,521.45 129.4,522.06 129.9,522.65 130.4,523.23 130.9,523.79 131.4,524.33 131.9,524.86 132.4,525.36 132.9,525.86 133.4,526.33 133.9,526.78 134.4,527.22 134.9,527.64 135.4,528.04 135.9,528.42 136.4,528.79 136.9,529.14 137.4,529.47 137.9,529.78 138.4,530.08 138.9,530.37 139.4,530.64 139.9,530.89 140.4,531.13 140.9,531.36 141.4,531.58 141.9,531.78 142.4,531.97 142.9,532.14 143.4,532.31 143.9,532.46 144.4,532.61 144.9,532.74 145.4,532.87 145.9,532.99 146.4,533.1 146.9,533.2 147.4,533.29 147.9,533.38 148.4,533.46 148.9,533.53 149.4,533.6 149.9,533.67 150.4,533.72 150.9,533.78 151.4,533.83 151.9,533.87 152.4,533.91 152.9,533.95 153.4,533.98 153.9,534.01 154.4,534.04 154.9,534.07 155.4,534.09 155.9,534.11 156.4,534.13 156.9,534.15 157.4,534.17 157.9,534.18 158.4,534.19 158.9,534.2 159.4,534.22 159.9,534.22 160.4,534.23 160.9,534.24 161.4,534.25 161.9,534.25 162.4,534.26 162.9,534.26 163.4,534.27 163.9,534.27 164.4,534.28 164.9,534.28 165.4,534.28 165.9,534.28 166.4,534.29 166.9,534.29 167.4,534.29 167.9,534.29 168.4,534.29 168.9,534.29 169.4,534.29 169.9,534.29 170.4,534.3 170.9,534.3 170.9,534.3" fill="#b9e4fc" stroke="none" stroke-width="0.6" />
<polygon points="46.9,534.3 46.9,534.3 47.4,534.29 47.9,534.29 48.4,534.29 48.9,534.29 49.4,534.29 49.9,534.29 50.4,534.28 50.9,534.28 51.4,534.28 51.9,534.27 52.4,534.27 52.9,534.26 53.4,534.26 53.9,534.25 54.4,534.24 54.9,534.23 55.4,534.22 55.9,534.21 56.4,534.19 56.9,534.18 57.4,534.16 57.9,534.14 58.4,534.11 58.9,534.09 59.4,534.06 59.9,534.02 60.4,533.99 60.9,533.94 61.4,533.9 61.9,533.85 62.4,533.79 62.9,533.73 63.4,533.66 63.9,533.58 64.4,533.5 64.9,533.41 65.4,533.32 65.9,533.22 66.4,533.1 66.9,532.98 67.4,532.86 67.9,532.72 68.4,532.58 68.9,532.42 69.4,532.26 69.9,532.09 70.4,531.91 70.9,531.72 71.4,531.53 71.9,531.33 72.4,531.12 72.9,530.91 73.4,530.69 73.9,530.46 74.4,530.23 74.9,530 75.4,529.77 75.9,529.54 76.4,529.3 76.9,529.07 77.4,528.84 77.9,528.62 78.4,528.4 78.9,528.19 79.4,527.99 79.9,527.79 80.4,527.61 80.9,527.44 81.4,527.28 81.9,527.14 82.4,527.01 82.9,526.9 83.4,526.8 83.9,526.72 84.4,526.66 84.9,526.62 85.4,526.6 85.9,526.6 86.4,526.62 86.9,526.66 87.4,526.71 87.9,526.78 88.4,526.88 88.9,526.98 89.4,527.11 89.9,527.25 90.4,527.41 90.9,527.57 91.4,527.75 91.9,527.95 92.4,528.15 92.9,528.36 93.4,528.58 93.9,528.8 94.4,529.03 94.9,529.26 95.4,529.49 95.9,529.72 96.4,529.96 96.9,530.19 97.4,530.42 97.9,530.64 98.4,530.86 98.9,531.08 99.4,531.29 99.9,531.49 100.4,531.69 100.9,531.87 101.4,532.05 101.9,532.23 102.4,532.39 102.9,532.55 103.4,532.69 103.9,532.83 104.4,532.96 104.9,533.08 105.4,533.19 105.9,533.3 106.4,533.4 106.9,533.49 107.4,533.57 107.9,533.64 108.4,533.71 108.9,533.78 109.4,533.84 109.9,533.89 110.4,533.94 110.9,533.98 111.4,534.02 111.9,534.05 112.4,534.08 112.9,534.11 113.4,534.13 113.9,534.16 114.4,534.17 114.9,534.19 115.4,534.21 115.9,534.22 116.4,534.23 116.9,534.24 117.4,534.25 117.9,534.26 118.4,534.26 118.9,534.27 119.4,534.27 119.9,534.28 120.4,534.28 120.9,534.28 121.4,534.29 121.9,534.29 122.4,534.29 122.9,534.29 123.4,534.29 123.9,534.29 124.4,534.3 124.4,534.3" fill="rgba(245,90,105,0.36)" stroke="rgba(220,40,60,0.6)" stroke-width="0.6" />
<polygon points="102.9,534.3 102.9,534.3 103.4,534.29 103.9,534.29 104.4,534.29 104.9,534.29 105.4,534.29 105.9,534.28 106.4,534.28 106.9,534.27 107.4,534.27 107.9,534.26 108.4,534.25 108.9,534.24 109.4,534.23 109.9,534.22 110.4,534.2 110.9,534.18 111.4,534.16 111.9,534.13 112.4,534.1 112.9,534.07 113.4,534.03 113.9,533.98 114.4,533.93 114.9,533.87 115.4,533.8 115.9,533.73 116.4,533.64 116.9,533.54 117.4,533.43 117.9,533.31 118.4,533.17 118.9,533.02 119.4,532.85 119.9,532.67 120.4,532.46 120.9,532.24 121.4,532 121.9,531.74 122.4,531.46 122.9,531.15 123.4,530.83 123.9,530.48 124.4,530.11 124.9,529.72 125.4,529.31 125.9,528.88 126.4,528.43 126.9,527.96 127.4,527.47 127.9,526.97 128.4,526.46 128.9,525.93 129.4,525.4 129.9,524.87 130.4,524.33 130.9,523.8 131.4,523.27 131.9,522.75 132.4,522.25 132.9,521.76 133.4,521.29 133.9,520.84 134.4,520.43 134.9,520.04 135.4,519.69 135.9,519.37 136.4,519.1 136.9,518.87 137.4,518.68 137.9,518.54 138.4,518.45 138.9,518.4 139.4,518.41 139.9,518.46 140.4,518.57 140.9,518.71 141.4,518.91 141.9,519.15 142.4,519.43 142.9,519.76 143.4,520.12 143.9,520.51 144.4,520.93 144.9,521.38 145.4,521.85 145.9,522.35 146.4,522.86 146.9,523.38 147.4,523.91 147.9,524.44 148.4,524.98 148.9,525.51 149.4,526.04 149.9,526.56 150.4,527.07 150.9,527.57 151.4,528.05 151.9,528.52 152.4,528.96 152.9,529.39 153.4,529.8 153.9,530.19 154.4,530.55 154.9,530.89 155.4,531.22 155.9,531.52 156.4,531.79 156.9,532.05 157.4,532.29 157.9,532.51 158.4,532.7 158.9,532.89 159.4,533.05 159.9,533.2 160.4,533.33 160.9,533.45 161.4,533.56 161.9,533.66 162.4,533.74 162.9,533.82 163.4,533.88 163.9,533.94 164.4,533.99 164.9,534.04 165.4,534.08 165.9,534.11 166.4,534.14 166.9,534.17 167.4,534.19 167.9,534.2 168.4,534.22 168.9,534.23 169.4,534.25 169.9,534.25 170.4,534.26 170.9,534.27 171.4,534.27 171.9,534.28 172.4,534.28 172.9,534.29 173.4,534.29 173.9,534.29 174.4,534.29 174.9,534.29 175.4,534.3 175.4,534.3" fill="rgba(60,50,245,0.45)" stroke="rgba(60,60,230,0.6)" stroke-width="0.6" />
<polyline points="21.4,534.3 21.9,534.3 22.4,534.3 22.9,534.3 23.4,534.3 23.9,534.3 24.4,534.3 24.9,534.3 25.4,534.3 25.9,534.3 26.4,534.3 26.9,534.3 27.4,534.3 27.9,534.3 28.4,534.3 28.9,534.3 29.4,534.3 29.9,534.3 30.4,534.3 30.9,534.3 31.4,534.3 31.9,534.3 32.4,534.3 32.9,534.3 33.4,534.3 33.9,534.3 34.4,534.3 34.9,534.3 35.4,534.3 35.9,534.3 36.4,534.3 36.9,534.3 37.4,534.3 37.9,534.3 38.4,534.3 38.9,534.3 39.4,534.3 39.9,534.3 40.4,534.3 40.9,534.3 41.4,534.3 41.9,534.3 42.4,534.3 42.9,534.3 43.4,534.3 43.9,534.3 44.4,534.3 44.9,534.3 45.4,534.3 45.9,534.29 46.4,534.29 46.9,534.29 47.4,534.29 47.9,534.29 48.4,534.29 48.9,534.28 49.4,534.28 49.9,534.28 50.4,534.27 50.9,534.27 51.4,534.26 51.9,534.26 52.4,534.25 52.9,534.24 53.4,534.23 53.9,534.22 54.4,534.21 54.9,534.2 55.4,534.18 55.9,534.16 56.4,534.14 56.9,534.12 57.4,534.09 57.9,534.06 58.4,534.03 58.9,533.99 59.4,533.95 59.9,533.9 60.4,533.85 60.9,533.79 61.4,533.72 61.9,533.65 62.4,533.57 62.9,533.48 63.4,533.38 63.9,533.28 64.4,533.16 64.9,533.03 65.4,532.89 65.9,532.74 66.4,532.58 66.9,532.41 67.4,532.22 67.9,532.02 68.4,531.8 68.9,531.57 69.4,531.32 69.9,531.05 70.4,530.77 70.9,530.48 71.4,530.17 71.9,529.84 72.4,529.49 72.9,529.13 73.4,528.75 73.9,528.36 74.4,527.95 74.9,527.52 75.4,527.08 75.9,526.62 76.4,526.15 76.9,525.67 77.4,525.17 77.9,524.66 78.4,524.14 78.9,523.61 79.4,523.08 79.9,522.53 80.4,521.97 80.9,521.41 81.4,520.84 81.9,520.27 82.4,519.69 82.9,519.11 83.4,518.53 83.9,517.94 84.4,517.35 84.9,516.77 85.4,516.18 85.9,515.59 86.4,515.01 86.9,514.42 87.4,513.84 87.9,513.25 88.4,512.67 88.9,512.1 89.4,511.52 89.9,510.95 90.4,510.38 90.9,509.82 91.4,509.26 91.9,508.7 92.4,508.15 92.9,507.6 93.4,507.05 93.9,506.52 94.4,505.98 94.9,505.46 95.4,504.94 95.9,504.43 96.4,503.93 96.9,503.44 97.4,502.96 97.9,502.49 98.4,502.04 98.9,501.59 99.4,501.17 99.9,500.76 100.4,500.37 100.9,500 101.4,499.65 101.9,499.32 102.4,499.01 102.9,498.73 103.4,498.47 103.9,498.24 104.4,498.03 104.9,497.86 105.4,497.71 105.9,497.59 106.4,497.5 106.9,497.44 107.4,497.4 107.9,497.4 108.4,497.42 108.9,497.47 109.4,497.54 109.9,497.63 110.4,497.75 110.9,497.89 111.4,498.04 111.9,498.22 112.4,498.42 112.9,498.63 113.4,498.86 113.9,499.1 114.4,499.36 114.9,499.62 115.4,499.9 115.9,500.18 116.4,500.47 116.9,500.77 117.4,501.07 117.9,501.37 118.4,501.67 118.9,501.98 119.4,502.28 119.9,502.58 120.4,502.88 120.9,503.17 121.4,503.46 121.9,503.74 122.4,504.02 122.9,504.3 123.4,504.57 123.9,504.83 124.4,505.09 124.9,505.34 125.4,505.59 125.9,505.83 126.4,506.07 126.9,506.31 127.4,506.54 127.9,506.77 128.4,507 128.9,507.23 129.4,507.46 129.9,507.69 130.4,507.93 130.9,508.16 131.4,508.4 131.9,508.65 132.4,508.9 132.9,509.15 133.4,509.41 133.9,509.68 134.4,509.96 134.9,510.24 135.4,510.54 135.9,510.84 136.4,511.16 136.9,511.49 137.4,511.82 137.9,512.17 138.4,512.53 138.9,512.9 139.4,513.28 139.9,513.68 140.4,514.08 140.9,514.5 141.4,514.93 141.9,515.36 142.4,515.81 142.9,516.26 143.4,516.73 143.9,517.2 144.4,517.68 144.9,518.17 145.4,518.66 145.9,519.15 146.4,519.65 146.9,520.15 147.4,520.66 147.9,521.16 148.4,521.66 148.9,522.16 149.4,522.66 149.9,523.16 150.4,523.65 150.9,524.13 151.4,524.61 151.9,525.08 152.4,525.54 152.9,525.99 153.4,526.42 153.9,526.85 154.4,527.27 154.9,527.67 155.4,528.07 155.9,528.44 156.4,528.81 156.9,529.16 157.4,529.49 157.9,529.82 158.4,530.12 158.9,530.42 159.4,530.7 159.9,530.96 160.4,531.21 160.9,531.45 161.4,531.67 161.9,531.88 162.4,532.08 162.9,532.26 163.4,532.44 163.9,532.6 164.4,532.75 164.9,532.89 165.4,533.02 165.9,533.14 166.4,533.25 166.9,533.35 167.4,533.44 167.9,533.53 168.4,533.6 168.9,533.68 169.4,533.74 169.9,533.8 170.4,533.85 170.9,533.9 171.4,533.95 171.9,533.99 172.4,534.02 172.9,534.05 173.4,534.08 173.9,534.11 174.4,534.13 174.9,534.15 175.4,534.17 175.9,534.19 176.4,534.2 176.9,534.21 177.4,534.22 177.9,534.23 178.4,534.24 178.9,534.25 179.4,534.26 179.9,534.26 180.4,534.27 180.9,534.27 181.4,534.28 181.9,534.28 182.4,534.28 182.9,534.29 183.4,534.29 183.9,534.29 184.4,534.29 184.9,534.29 185.4,534.29 185.9,534.29 186.4,534.3 186.9,534.3 187.4,534.3 187.9,534.3 188.4,534.3 188.9,534.3 189.4,534.3 189.9,534.3 190.4,534.3 190.9,534.3 191.4,534.3 191.9,534.3 192.4,534.3 192.9,534.3 193.4,534.3 193.9,534.3 194.4,534.3 194.9,534.3 195.4,534.3 195.9,534.3 196.4,534.3 196.9,534.3 197.4,534.3" fill="none" stroke="#acacac" stroke-width="2.7" stroke-linejoin="round" />
<polyline points="21.4,534.3 21.9,534.3 22.4,534.3 22.9,534.3 23.4,534.3 23.9,534.3 24.4,534.3 24.9,534.3 25.4,534.3 25.9,534.3 26.4,534.3 26.9,534.3 27.4,534.3 27.9,534.3 28.4,534.3 28.9,534.3 29.4,534.3 29.9,534.3 30.4,534.3 30.9,534.3 31.4,534.3 31.9,534.3 32.4,534.3 32.9,534.3 33.4,534.3 33.9,534.3 34.4,534.3 34.9,534.3 35.4,534.3 35.9,534.3 36.4,534.3 36.9,534.3 37.4,534.3 37.9,534.3 38.4,534.3 38.9,534.3 39.4,534.3 39.9,534.3 40.4,534.3 40.9,534.3 41.4,534.3 41.9,534.3 42.4,534.3 42.9,534.3 43.4,534.3 43.9,534.3 44.4,534.3 44.9,534.3 45.4,534.3 45.9,534.29 46.4,534.29 46.9,534.29 47.4,534.29 47.9,534.29 48.4,534.29 48.9,534.28 49.4,534.28 49.9,534.28 50.4,534.27 50.9,534.27 51.4,534.26 51.9,534.26 52.4,534.25 52.9,534.24 53.4,534.23 53.9,534.22 54.4,534.21 54.9,534.2 55.4,534.18 55.9,534.16 56.4,534.14 56.9,534.12 57.4,534.09 57.9,534.06 58.4,534.03 58.9,533.99 59.4,533.95 59.9,533.9 60.4,533.85 60.9,533.79 61.4,533.72 61.9,533.65 62.4,533.57 62.9,533.48 63.4,533.38 63.9,533.28 64.4,533.16 64.9,533.03 65.4,532.89 65.9,532.74 66.4,532.58 66.9,532.41 67.4,532.22 67.9,532.02 68.4,531.8 68.9,531.57 69.4,531.32 69.9,531.05 70.4,530.77 70.9,530.48 71.4,530.17 71.9,529.84 72.4,529.49 72.9,529.13 73.4,528.75 73.9,528.36 74.4,527.95 74.9,527.52 75.4,527.08 75.9,526.62 76.4,526.15 76.9,525.67 77.4,525.17 77.9,524.66 78.4,524.14 78.9,523.61 79.4,523.08 79.9,522.53 80.4,521.97 80.9,521.41 81.4,520.84 81.9,520.27 82.4,519.69 82.9,519.11 83.4,518.53 83.9,517.94 84.4,517.35 84.9,516.77 85.4,516.18 85.9,515.59 86.4,515.01 86.9,514.42 87.4,513.84 87.9,513.25 88.4,512.67 88.9,512.1 89.4,511.52 89.9,510.95 90.4,510.38 90.9,509.82 91.4,509.26 91.9,508.7 92.4,508.15 92.9,507.6 93.4,507.05 93.9,506.52 94.4,505.98 94.9,505.46 95.4,504.94 95.9,504.43 96.4,503.93 96.9,503.44 97.4,502.96 97.9,502.49 98.4,502.04 98.9,501.59 99.4,501.17 99.9,500.76 100.4,500.37 100.9,500 101.4,499.65 101.9,499.32 102.4,499.01 102.9,498.73 103.4,498.47 103.9,498.24 104.4,498.03 104.9,497.86 105.4,497.71 105.9,497.59 106.4,497.5 106.9,497.44 107.4,497.4 107.9,497.4 108.4,497.42 108.9,497.47 109.4,497.54 109.9,497.63 110.4,497.75 110.9,497.89 111.4,498.04 111.9,498.22 112.4,498.42 112.9,498.63 113.4,498.86 113.9,499.1 114.4,499.36 114.9,499.62 115.4,499.9 115.9,500.18 116.4,500.47 116.9,500.77 117.4,501.07 117.9,501.37 118.4,501.67 118.9,501.98 119.4,502.28 119.9,502.58 120.4,502.88 120.9,503.17 121.4,503.46 121.9,503.74 122.4,504.02 122.9,504.3 123.4,504.57 123.9,504.83 124.4,505.09 124.9,505.34 125.4,505.59 125.9,505.83 126.4,506.07 126.9,506.31 127.4,506.54 127.9,506.77 128.4,507 128.9,507.23 129.4,507.46 129.9,507.69 130.4,507.93 130.9,508.16 131.4,508.4 131.9,508.65 132.4,508.9 132.9,509.15 133.4,509.41 133.9,509.68 134.4,509.96 134.9,510.24 135.4,510.54 135.9,510.84 136.4,511.16 136.9,511.49 137.4,511.82 137.9,512.17 138.4,512.53 138.9,512.9 139.4,513.28 139.9,513.68 140.4,514.08 140.9,514.5 141.4,514.93 141.9,515.36 142.4,515.81 142.9,516.26 143.4,516.73 143.9,517.2 144.4,517.68 144.9,518.17 145.4,518.66 145.9,519.15 146.4,519.65 146.9,520.15 147.4,520.66 147.9,521.16 148.4,521.66 148.9,522.16 149.4,522.66 149.9,523.16 150.4,523.65 150.9,524.13 151.4,524.61 151.9,525.08 152.4,525.54 152.9,525.99 153.4,526.42 153.9,526.85 154.4,527.27 154.9,527.67 155.4,528.07 155.9,528.44 156.4,528.81 156.9,529.16 157.4,529.49 157.9,529.82 158.4,530.12 158.9,530.42 159.4,530.7 159.9,530.96 160.4,531.21 160.9,531.45 161.4,531.67 161.9,531.88 162.4,532.08 162.9,532.26 163.4,532.44 163.9,532.6 164.4,532.75 164.9,532.89 165.4,533.02 165.9,533.14 166.4,533.25 166.9,533.35 167.4,533.44 167.9,533.53 168.4,533.6 168.9,533.68 169.4,533.74 169.9,533.8 170.4,533.85 170.9,533.9 171.4,533.95 171.9,533.99 172.4,534.02 172.9,534.05 173.4,534.08 173.9,534.11 174.4,534.13 174.9,534.15 175.4,534.17 175.9,534.19 176.4,534.2 176.9,534.21 177.4,534.22 177.9,534.23 178.4,534.24 178.9,534.25 179.4,534.26 179.9,534.26 180.4,534.27 180.9,534.27 181.4,534.28 181.9,534.28 182.4,534.28 182.9,534.29 183.4,534.29 183.9,534.29 184.4,534.29 184.9,534.29 185.4,534.29 185.9,534.29 186.4,534.3 186.9,534.3 187.4,534.3 187.9,534.3 188.4,534.3 188.9,534.3 189.4,534.3 189.9,534.3 190.4,534.3 190.9,534.3 191.4,534.3 191.9,534.3 192.4,534.3 192.9,534.3 193.4,534.3 193.9,534.3 194.4,534.3 194.9,534.3 195.4,534.3 195.9,534.3 196.4,534.3 196.9,534.3 197.4,534.3" fill="none" stroke="#dadada" stroke-width="0.9" stroke-linejoin="round" />
<line x1="21.4" y1="486.4" x2="197.5" y2="486.4" stroke="#8a8a8a" stroke-width="1.0" />
<polygon points="26.9,582.5 26.9,582.5 27.4,582.5 27.9,582.49 28.4,582.49 28.9,582.49 29.4,582.49 29.9,582.49 30.4,582.49 30.9,582.49 31.4,582.49 31.9,582.49 32.4,582.49 32.9,582.48 33.4,582.48 33.9,582.48 34.4,582.48 34.9,582.48 35.4,582.47 35.9,582.47 36.4,582.47 36.9,582.47 37.4,582.46 37.9,582.46 38.4,582.46 38.9,582.45 39.4,582.45 39.9,582.44 40.4,582.44 40.9,582.43 41.4,582.42 41.9,582.42 42.4,582.41 42.9,582.4 43.4,582.39 43.9,582.38 44.4,582.37 44.9,582.36 45.4,582.34 45.9,582.33 46.4,582.32 46.9,582.3 47.4,582.28 47.9,582.27 48.4,582.25 48.9,582.22 49.4,582.2 49.9,582.18 50.4,582.15 50.9,582.12 51.4,582.09 51.9,582.06 52.4,582.03 52.9,581.99 53.4,581.95 53.9,581.91 54.4,581.86 54.9,581.82 55.4,581.76 55.9,581.71 56.4,581.65 56.9,581.59 57.4,581.53 57.9,581.46 58.4,581.39 58.9,581.31 59.4,581.23 59.9,581.14 60.4,581.05 60.9,580.95 61.4,580.85 61.9,580.75 62.4,580.63 62.9,580.52 63.4,580.39 63.9,580.26 64.4,580.12 64.9,579.98 65.4,579.83 65.9,579.67 66.4,579.5 66.9,579.33 67.4,579.15 67.9,578.96 68.4,578.76 68.9,578.55 69.4,578.34 69.9,578.11 70.4,577.88 70.9,577.64 71.4,577.38 71.9,577.12 72.4,576.85 72.9,576.57 73.4,576.28 73.9,575.98 74.4,575.67 74.9,575.35 75.4,575.02 75.9,574.68 76.4,574.33 76.9,573.97 77.4,573.6 77.9,573.22 78.4,572.83 78.9,572.43 79.4,572.02 79.9,571.6 80.4,571.17 80.9,570.73 81.4,570.28 81.9,569.83 82.4,569.37 82.9,568.89 83.4,568.41 83.9,567.93 84.4,567.43 84.9,566.93 85.4,566.43 85.9,565.91 86.4,565.4 86.9,564.87 87.4,564.35 87.9,563.82 88.4,563.29 88.9,562.75 89.4,562.22 89.9,561.68 90.4,561.15 90.9,560.61 91.4,560.07 91.9,559.54 92.4,559.01 92.9,558.49 93.4,557.96 93.9,557.45 94.4,556.94 94.9,556.43 95.4,555.94 95.9,555.45 96.4,554.97 96.9,554.5 97.4,554.04 97.9,553.59 98.4,553.16 98.9,552.74 99.4,552.33 99.9,551.94 100.4,551.56 100.9,551.2 101.4,550.85 101.9,550.52 102.4,550.21 102.9,549.92 103.4,549.65 103.9,549.39 104.4,549.16 104.9,548.95 105.4,548.75 105.9,548.58 106.4,548.43 106.9,548.31 107.4,548.2 107.9,548.12 108.4,548.05 108.9,548.02 109.4,548 109.9,548.01 110.4,548.06 110.9,548.15 111.4,548.28 111.9,548.44 112.4,548.64 112.9,548.87 113.4,549.15 113.9,549.45 114.4,549.79 114.9,550.16 115.4,550.57 115.9,551 116.4,551.46 116.9,551.95 117.4,552.47 117.9,553.01 118.4,553.57 118.9,554.15 119.4,554.75 119.9,555.37 120.4,556.01 120.9,556.65 121.4,557.31 121.9,557.99 122.4,558.66 122.9,559.35 123.4,560.04 123.9,560.74 124.4,561.44 124.9,562.13 125.4,562.83 125.9,563.52 126.4,564.21 126.9,564.9 127.4,565.57 127.9,566.24 128.4,566.9 128.9,567.55 129.4,568.19 129.9,568.82 130.4,569.43 130.9,570.03 131.4,570.62 131.9,571.19 132.4,571.74 132.9,572.28 133.4,572.81 133.9,573.31 134.4,573.8 134.9,574.27 135.4,574.73 135.9,575.17 136.4,575.59 136.9,575.99 137.4,576.38 137.9,576.75 138.4,577.11 138.9,577.45 139.4,577.77 139.9,578.07 140.4,578.37 140.9,578.64 141.4,578.9 141.9,579.15 142.4,579.39 142.9,579.61 143.4,579.82 143.9,580.01 144.4,580.2 144.9,580.37 145.4,580.53 145.9,580.68 146.4,580.83 146.9,580.96 147.4,581.08 147.9,581.2 148.4,581.3 148.9,581.4 149.4,581.5 149.9,581.58 150.4,581.66 150.9,581.73 151.4,581.8 151.9,581.86 152.4,581.92 152.9,581.98 153.4,582.02 153.9,582.07 154.4,582.11 154.9,582.15 155.4,582.18 155.9,582.21 156.4,582.24 156.9,582.27 157.4,582.29 157.9,582.31 158.4,582.33 158.9,582.35 159.4,582.36 159.9,582.38 160.4,582.39 160.9,582.4 161.4,582.41 161.9,582.42 162.4,582.43 162.9,582.44 163.4,582.45 163.9,582.45 164.4,582.46 164.9,582.46 165.4,582.47 165.9,582.47 166.4,582.47 166.9,582.48 167.4,582.48 167.9,582.48 168.4,582.48 168.9,582.49 169.4,582.49 169.9,582.49 170.4,582.49 170.9,582.49 171.4,582.49 171.9,582.49 172.4,582.49 172.9,582.5 172.9,582.5" fill="#b9e4fc" stroke="none" stroke-width="0.6" />
<polygon points="48.9,582.5 48.9,582.5 49.4,582.49 49.9,582.49 50.4,582.49 50.9,582.49 51.4,582.49 51.9,582.48 52.4,582.48 52.9,582.47 53.4,582.47 53.9,582.46 54.4,582.45 54.9,582.44 55.4,582.43 55.9,582.41 56.4,582.39 56.9,582.37 57.4,582.35 57.9,582.32 58.4,582.29 58.9,582.25 59.4,582.21 59.9,582.16 60.4,582.11 60.9,582.05 61.4,581.98 61.9,581.9 62.4,581.82 62.9,581.73 63.4,581.63 63.9,581.52 64.4,581.4 64.9,581.28 65.4,581.15 65.9,581 66.4,580.86 66.9,580.7 67.4,580.54 67.9,580.37 68.4,580.2 68.9,580.03 69.4,579.86 69.9,579.68 70.4,579.51 70.9,579.34 71.4,579.18 71.9,579.03 72.4,578.88 72.9,578.74 73.4,578.62 73.9,578.51 74.4,578.41 74.9,578.34 75.4,578.27 75.9,578.23 76.4,578.21 76.9,578.2 77.4,578.21 77.9,578.25 78.4,578.3 78.9,578.37 79.4,578.45 79.9,578.55 80.4,578.67 80.9,578.8 81.4,578.94 81.9,579.09 82.4,579.25 82.9,579.41 83.4,579.58 83.9,579.75 84.4,579.93 84.9,580.1 85.4,580.27 85.9,580.44 86.4,580.6 86.9,580.76 87.4,580.92 87.9,581.06 88.4,581.2 88.9,581.33 89.4,581.45 89.9,581.56 90.4,581.67 90.9,581.77 91.4,581.85 91.9,581.93 92.4,582.01 92.9,582.07 93.4,582.13 93.9,582.18 94.4,582.23 94.9,582.27 95.4,582.3 95.9,582.33 96.4,582.36 96.9,582.38 97.4,582.4 97.9,582.42 98.4,582.43 98.9,582.44 99.4,582.45 99.9,582.46 100.4,582.47 100.9,582.48 101.4,582.48 101.9,582.48 102.4,582.49 102.9,582.49 103.4,582.49 103.9,582.49 104.4,582.5 104.4,582.5" fill="rgba(245,90,105,0.36)" stroke="rgba(220,40,60,0.6)" stroke-width="0.6" />
<polygon points="102.9,582.5 102.9,582.5 103.4,582.49 103.9,582.49 104.4,582.49 104.9,582.49 105.4,582.49 105.9,582.48 106.4,582.48 106.9,582.47 107.4,582.47 107.9,582.46 108.4,582.45 108.9,582.44 109.4,582.43 109.9,582.42 110.4,582.4 110.9,582.38 111.4,582.36 111.9,582.34 112.4,582.31 112.9,582.27 113.4,582.23 113.9,582.18 114.4,582.13 114.9,582.06 115.4,581.99 115.9,581.91 116.4,581.82 116.9,581.72 117.4,581.6 117.9,581.47 118.4,581.32 118.9,581.16 119.4,580.98 119.9,580.77 120.4,580.55 120.9,580.31 121.4,580.05 121.9,579.76 122.4,579.44 122.9,579.1 123.4,578.74 123.9,578.35 124.4,577.93 124.9,577.48 125.4,577.01 125.9,576.51 126.4,575.99 126.9,575.44 127.4,574.88 127.9,574.29 128.4,573.68 128.9,573.06 129.4,572.42 129.9,571.78 130.4,571.13 130.9,570.47 131.4,569.82 131.9,569.17 132.4,568.54 132.9,567.92 133.4,567.32 133.9,566.74 134.4,566.19 134.9,565.67 135.4,565.19 135.9,564.75 136.4,564.36 136.9,564.02 137.4,563.72 137.9,563.48 138.4,563.3 138.9,563.18 139.4,563.11 139.9,563.1 140.4,563.16 140.9,563.27 141.4,563.44 141.9,563.67 142.4,563.95 142.9,564.29 143.4,564.67 143.9,565.1 144.4,565.57 144.9,566.08 145.4,566.63 145.9,567.2 146.4,567.8 146.9,568.41 147.4,569.05 147.9,569.69 148.4,570.34 148.9,570.99 149.4,571.65 149.9,572.29 150.4,572.93 150.9,573.56 151.4,574.17 151.9,574.76 152.4,575.33 152.9,575.88 153.4,576.41 153.9,576.91 154.4,577.39 154.9,577.84 155.4,578.26 155.9,578.66 156.4,579.03 156.9,579.38 157.4,579.7 157.9,579.99 158.4,580.26 158.9,580.51 159.4,580.73 159.9,580.94 160.4,581.12 160.9,581.29 161.4,581.44 161.9,581.57 162.4,581.69 162.9,581.8 163.4,581.89 163.9,581.98 164.4,582.05 164.9,582.12 165.4,582.17 165.9,582.22 166.4,582.26 166.9,582.3 167.4,582.33 167.9,582.36 168.4,582.38 168.9,582.4 169.4,582.42 169.9,582.43 170.4,582.44 170.9,582.45 171.4,582.46 171.9,582.47 172.4,582.47 172.9,582.48 173.4,582.48 173.9,582.49 174.4,582.49 174.9,582.49 175.4,582.49 175.9,582.49 176.4,582.5 176.4,582.5" fill="rgba(60,50,245,0.45)" stroke="rgba(60,60,230,0.6)" stroke-width="0.6" />
<polyline points="21.4,582.5 21.9,582.5 22.4,582.5 22.9,582.5 23.4,582.5 23.9,582.5 24.4,582.5 24.9,582.5 25.4,582.5 25.9,582.5 26.4,582.5 26.9,582.5 27.4,582.5 27.9,582.49 28.4,582.49 28.9,582.49 29.4,582.49 29.9,582.49 30.4,582.49 30.9,582.49 31.4,582.49 31.9,582.49 32.4,582.49 32.9,582.49 33.4,582.48 33.9,582.48 34.4,582.48 34.9,582.48 35.4,582.48 35.9,582.47 36.4,582.47 36.9,582.47 37.4,582.46 37.9,582.46 38.4,582.46 38.9,582.45 39.4,582.45 39.9,582.44 40.4,582.44 40.9,582.43 41.4,582.43 41.9,582.42 42.4,582.41 42.9,582.4 43.4,582.39 43.9,582.38 44.4,582.37 44.9,582.36 45.4,582.35 45.9,582.34 46.4,582.32 46.9,582.31 47.4,582.29 47.9,582.27 48.4,582.25 48.9,582.23 49.4,582.21 49.9,582.18 50.4,582.16 50.9,582.13 51.4,582.1 51.9,582.06 52.4,582.03 52.9,581.99 53.4,581.94 53.9,581.89 54.4,581.84 54.9,581.79 55.4,581.73 55.9,581.66 56.4,581.59 56.9,581.51 57.4,581.42 57.9,581.33 58.4,581.23 58.9,581.12 59.4,581 59.9,580.87 60.4,580.74 60.9,580.59 61.4,580.42 61.9,580.25 62.4,580.06 62.9,579.86 63.4,579.65 63.9,579.42 64.4,579.17 64.9,578.92 65.4,578.64 65.9,578.36 66.4,578.05 66.9,577.74 67.4,577.41 67.9,577.07 68.4,576.72 68.9,576.35 69.4,575.98 69.9,575.6 70.4,575.21 70.9,574.82 71.4,574.43 71.9,574.03 72.4,573.63 72.9,573.23 73.4,572.83 73.9,572.44 74.4,572.05 74.9,571.67 75.4,571.29 75.9,570.93 76.4,570.57 76.9,570.22 77.4,569.87 77.9,569.54 78.4,569.22 78.9,568.9 79.4,568.59 79.9,568.28 80.4,567.98 80.9,567.69 81.4,567.39 81.9,567.1 82.4,566.81 82.9,566.51 83.4,566.22 83.9,565.92 84.4,565.61 84.9,565.3 85.4,564.97 85.9,564.65 86.4,564.31 86.9,563.96 87.4,563.6 87.9,563.24 88.4,562.86 88.9,562.47 89.4,562.07 89.9,561.67 90.4,561.25 90.9,560.83 91.4,560.4 91.9,559.97 92.4,559.53 92.9,559.09 93.4,558.64 93.9,558.19 94.4,557.75 94.9,557.3 95.4,556.85 95.9,556.41 96.4,555.97 96.9,555.54 97.4,555.11 97.9,554.69 98.4,554.28 98.9,553.87 99.4,553.48 99.9,553.1 100.4,552.72 100.9,552.36 101.4,552.01 101.9,551.67 102.4,551.35 102.9,551.04 103.4,550.74 103.9,550.45 104.4,550.18 104.9,549.92 105.4,549.67 105.9,549.43 106.4,549.21 106.9,548.99 107.4,548.79 107.9,548.6 108.4,548.42 108.9,548.25 109.4,548.08 109.9,547.93 110.4,547.8 110.9,547.69 111.4,547.6 111.9,547.53 112.4,547.47 112.9,547.43 113.4,547.41 113.9,547.4 114.4,547.4 114.9,547.42 115.4,547.44 115.9,547.47 116.4,547.51 116.9,547.56 117.4,547.61 117.9,547.67 118.4,547.73 118.9,547.8 119.4,547.87 119.9,547.94 120.4,548.01 120.9,548.08 121.4,548.16 121.9,548.24 122.4,548.32 122.9,548.41 123.4,548.5 123.9,548.59 124.4,548.69 124.9,548.79 125.4,548.89 125.9,549.01 126.4,549.13 126.9,549.26 127.4,549.39 127.9,549.54 128.4,549.7 128.9,549.86 129.4,550.04 129.9,550.23 130.4,550.44 130.9,550.65 131.4,550.88 131.9,551.13 132.4,551.39 132.9,551.66 133.4,551.95 133.9,552.25 134.4,552.57 134.9,552.91 135.4,553.26 135.9,553.63 136.4,554.01 136.9,554.4 137.4,554.82 137.9,555.24 138.4,555.68 138.9,556.14 139.4,556.61 139.9,557.09 140.4,557.59 140.9,558.1 141.4,558.62 141.9,559.16 142.4,559.7 142.9,560.26 143.4,560.82 143.9,561.39 144.4,561.98 144.9,562.56 145.4,563.16 145.9,563.76 146.4,564.36 146.9,564.97 147.4,565.57 147.9,566.18 148.4,566.79 148.9,567.4 149.4,568 149.9,568.6 150.4,569.19 150.9,569.78 151.4,570.35 151.9,570.92 152.4,571.48 152.9,572.03 153.4,572.57 153.9,573.09 154.4,573.6 154.9,574.1 155.4,574.58 155.9,575.05 156.4,575.5 156.9,575.94 157.4,576.35 157.9,576.75 158.4,577.14 158.9,577.5 159.4,577.85 159.9,578.19 160.4,578.5 160.9,578.8 161.4,579.08 161.9,579.35 162.4,579.6 162.9,579.84 163.4,580.06 163.9,580.26 164.4,580.46 164.9,580.64 165.4,580.8 165.9,580.96 166.4,581.1 166.9,581.23 167.4,581.35 167.9,581.47 168.4,581.57 168.9,581.66 169.4,581.75 169.9,581.83 170.4,581.9 170.9,581.96 171.4,582.02 171.9,582.07 172.4,582.12 172.9,582.16 173.4,582.2 173.9,582.24 174.4,582.27 174.9,582.3 175.4,582.32 175.9,582.34 176.4,582.36 176.9,582.38 177.4,582.4 177.9,582.41 178.4,582.42 178.9,582.43 179.4,582.44 179.9,582.45 180.4,582.46 180.9,582.46 181.4,582.47 181.9,582.47 182.4,582.48 182.9,582.48 183.4,582.48 183.9,582.49 184.4,582.49 184.9,582.49 185.4,582.49 185.9,582.49 186.4,582.49 186.9,582.49 187.4,582.5 187.9,582.5 188.4,582.5 188.9,582.5 189.4,582.5 189.9,582.5 190.4,582.5 190.9,582.5 191.4,582.5 191.9,582.5 192.4,582.5 192.9,582.5 193.4,582.5 193.9,582.5 194.4,582.5 194.9,582.5 195.4,582.5 195.9,582.5 196.4,582.5 196.9,582.5 197.4,582.5" fill="none" stroke="#acacac" stroke-width="2.7" stroke-linejoin="round" />
<polyline points="21.4,582.5 21.9,582.5 22.4,582.5 22.9,582.5 23.4,582.5 23.9,582.5 24.4,582.5 24.9,582.5 25.4,582.5 25.9,582.5 26.4,582.5 26.9,582.5 27.4,582.5 27.9,582.49 28.4,582.49 28.9,582.49 29.4,582.49 29.9,582.49 30.4,582.49 30.9,582.49 31.4,582.49 31.9,582.49 32.4,582.49 32.9,582.49 33.4,582.48 33.9,582.48 34.4,582.48 34.9,582.48 35.4,582.48 35.9,582.47 36.4,582.47 36.9,582.47 37.4,582.46 37.9,582.46 38.4,582.46 38.9,582.45 39.4,582.45 39.9,582.44 40.4,582.44 40.9,582.43 41.4,582.43 41.9,582.42 42.4,582.41 42.9,582.4 43.4,582.39 43.9,582.38 44.4,582.37 44.9,582.36 45.4,582.35 45.9,582.34 46.4,582.32 46.9,582.31 47.4,582.29 47.9,582.27 48.4,582.25 48.9,582.23 49.4,582.21 49.9,582.18 50.4,582.16 50.9,582.13 51.4,582.1 51.9,582.06 52.4,582.03 52.9,581.99 53.4,581.94 53.9,581.89 54.4,581.84 54.9,581.79 55.4,581.73 55.9,581.66 56.4,581.59 56.9,581.51 57.4,581.42 57.9,581.33 58.4,581.23 58.9,581.12 59.4,581 59.9,580.87 60.4,580.74 60.9,580.59 61.4,580.42 61.9,580.25 62.4,580.06 62.9,579.86 63.4,579.65 63.9,579.42 64.4,579.17 64.9,578.92 65.4,578.64 65.9,578.36 66.4,578.05 66.9,577.74 67.4,577.41 67.9,577.07 68.4,576.72 68.9,576.35 69.4,575.98 69.9,575.6 70.4,575.21 70.9,574.82 71.4,574.43 71.9,574.03 72.4,573.63 72.9,573.23 73.4,572.83 73.9,572.44 74.4,572.05 74.9,571.67 75.4,571.29 75.9,570.93 76.4,570.57 76.9,570.22 77.4,569.87 77.9,569.54 78.4,569.22 78.9,568.9 79.4,568.59 79.9,568.28 80.4,567.98 80.9,567.69 81.4,567.39 81.9,567.1 82.4,566.81 82.9,566.51 83.4,566.22 83.9,565.92 84.4,565.61 84.9,565.3 85.4,564.97 85.9,564.65 86.4,564.31 86.9,563.96 87.4,563.6 87.9,563.24 88.4,562.86 88.9,562.47 89.4,562.07 89.9,561.67 90.4,561.25 90.9,560.83 91.4,560.4 91.9,559.97 92.4,559.53 92.9,559.09 93.4,558.64 93.9,558.19 94.4,557.75 94.9,557.3 95.4,556.85 95.9,556.41 96.4,555.97 96.9,555.54 97.4,555.11 97.9,554.69 98.4,554.28 98.9,553.87 99.4,553.48 99.9,553.1 100.4,552.72 100.9,552.36 101.4,552.01 101.9,551.67 102.4,551.35 102.9,551.04 103.4,550.74 103.9,550.45 104.4,550.18 104.9,549.92 105.4,549.67 105.9,549.43 106.4,549.21 106.9,548.99 107.4,548.79 107.9,548.6 108.4,548.42 108.9,548.25 109.4,548.08 109.9,547.93 110.4,547.8 110.9,547.69 111.4,547.6 111.9,547.53 112.4,547.47 112.9,547.43 113.4,547.41 113.9,547.4 114.4,547.4 114.9,547.42 115.4,547.44 115.9,547.47 116.4,547.51 116.9,547.56 117.4,547.61 117.9,547.67 118.4,547.73 118.9,547.8 119.4,547.87 119.9,547.94 120.4,548.01 120.9,548.08 121.4,548.16 121.9,548.24 122.4,548.32 122.9,548.41 123.4,548.5 123.9,548.59 124.4,548.69 124.9,548.79 125.4,548.89 125.9,549.01 126.4,549.13 126.9,549.26 127.4,549.39 127.9,549.54 128.4,549.7 128.9,549.86 129.4,550.04 129.9,550.23 130.4,550.44 130.9,550.65 131.4,550.88 131.9,551.13 132.4,551.39 132.9,551.66 133.4,551.95 133.9,552.25 134.4,552.57 134.9,552.91 135.4,553.26 135.9,553.63 136.4,554.01 136.9,554.4 137.4,554.82 137.9,555.24 138.4,555.68 138.9,556.14 139.4,556.61 139.9,557.09 140.4,557.59 140.9,558.1 141.4,558.62 141.9,559.16 142.4,559.7 142.9,560.26 143.4,560.82 143.9,561.39 144.4,561.98 144.9,562.56 145.4,563.16 145.9,563.76 146.4,564.36 146.9,564.97 147.4,565.57 147.9,566.18 148.4,566.79 148.9,567.4 149.4,568 149.9,568.6 150.4,569.19 150.9,569.78 151.4,570.35 151.9,570.92 152.4,571.48 152.9,572.03 153.4,572.57 153.9,573.09 154.4,573.6 154.9,574.1 155.4,574.58 155.9,575.05 156.4,575.5 156.9,575.94 157.4,576.35 157.9,576.75 158.4,577.14 158.9,577.5 159.4,577.85 159.9,578.19 160.4,578.5 160.9,578.8 161.4,579.08 161.9,579.35 162.4,579.6 162.9,579.84 163.4,580.06 163.9,580.26 164.4,580.46 164.9,580.64 165.4,580.8 165.9,580.96 166.4,581.1 166.9,581.23 167.4,581.35 167.9,581.47 168.4,581.57 168.9,581.66 169.4,581.75 169.9,581.83 170.4,581.9 170.9,581.96 171.4,582.02 171.9,582.07 172.4,582.12 172.9,582.16 173.4,582.2 173.9,582.24 174.4,582.27 174.9,582.3 175.4,582.32 175.9,582.34 176.4,582.36 176.9,582.38 177.4,582.4 177.9,582.41 178.4,582.42 178.9,582.43 179.4,582.44 179.9,582.45 180.4,582.46 180.9,582.46 181.4,582.47 181.9,582.47 182.4,582.48 182.9,582.48 183.4,582.48 183.9,582.49 184.4,582.49 184.9,582.49 185.4,582.49 185.9,582.49 186.4,582.49 186.9,582.49 187.4,582.5 187.9,582.5 188.4,582.5 188.9,582.5 189.4,582.5 189.9,582.5 190.4,582.5 190.9,582.5 191.4,582.5 191.9,582.5 192.4,582.5 192.9,582.5 193.4,582.5 193.9,582.5 194.4,582.5 194.9,582.5 195.4,582.5 195.9,582.5 196.4,582.5 196.9,582.5 197.4,582.5" fill="none" stroke="#dadada" stroke-width="0.9" stroke-linejoin="round" />
<line x1="21.4" y1="534.3" x2="197.5" y2="534.3" stroke="#8a8a8a" stroke-width="1.0" />
<line x1="21.4" y1="252.3" x2="21.4" y2="587" stroke="#7a7a7a" stroke-width="1.2"/>
<line x1="197.5" y1="252.3" x2="197.5" y2="587" stroke="#7a7a7a" stroke-width="1.2"/>
<line x1="21.4" y1="587" x2="197.5" y2="587" stroke="#1a1a1a" stroke-width="1.3" />
<line x1="197.5" y1="582.9" x2="211" y2="582.9" stroke="#cfe8fb" stroke-width="1.2" />
<line x1="36.08" y1="587" x2="36.08" y2="590.2" stroke="#1a1a1a" stroke-width="1.1" />
<text x="36.08" y="601.3" font-size="11.8" text-anchor="middle" fill="#000" >3900</text>
<line x1="80.1" y1="587" x2="80.1" y2="590.2" stroke="#1a1a1a" stroke-width="1.1" />
<text x="80.1" y="601.3" font-size="11.8" text-anchor="middle" fill="#000" >3600</text>
<line x1="124.12" y1="587" x2="124.12" y2="590.2" stroke="#1a1a1a" stroke-width="1.1" />
<text x="124.12" y="601.3" font-size="11.8" text-anchor="middle" fill="#000" >3300</text>
<line x1="168.15" y1="587" x2="168.15" y2="590.2" stroke="#1a1a1a" stroke-width="1.1" />
<text x="168.15" y="601.3" font-size="11.8" text-anchor="middle" fill="#000" >3000</text>
<line x1="58.09" y1="587" x2="58.09" y2="589.2" stroke="#1a1a1a" stroke-width="1.0" />
<line x1="102.11" y1="587" x2="102.11" y2="589.2" stroke="#1a1a1a" stroke-width="1.0" />
<line x1="146.14" y1="587" x2="146.14" y2="589.2" stroke="#1a1a1a" stroke-width="1.0" />
<line x1="190.16" y1="587" x2="190.16" y2="589.2" stroke="#1a1a1a" stroke-width="1.0" />
<text x="21.6" y="264.6" font-size="11.6" text-anchor="start" fill="#000" >5.3 Al</text>
<text x="21.6" y="306.3" font-size="11.6" text-anchor="start" fill="#000" >5 Al</text>
<text x="21.6" y="355.6" font-size="11.6" text-anchor="start" fill="#000" >4 Al</text>
<text x="21.6" y="405" font-size="11.6" text-anchor="start" fill="#000" >3 Al</text>
<text x="21.6" y="452.8" font-size="11.6" text-anchor="start" fill="#000" >2 Al</text>
<text x="21.6" y="498.7" font-size="11.6" text-anchor="start" fill="#000" >1 Al</text>
<text x="23.4" y="546" font-size="11.6" text-anchor="start" fill="#000" >H<tspan font-size="8.5" dx="0.4" dy="2.5">2</tspan><tspan dx="0.3" dy="-2.5">O</tspan></text>
<text x="62.6" y="573" font-size="12.3" text-anchor="start" fill="#c00414" >MW</text>
<text x="100.6" y="546.4" font-size="12.3" text-anchor="start" fill="#4dbef7" >IW</text>
<text x="131.6" y="558.8" font-size="12.3" text-anchor="start" fill="#0a12c4" >NW</text>
<text transform="translate(10.8,418.2) rotate(-90)" x="0" y="0" font-size="13.2" text-anchor="middle" fill="#000" >Intensity (arb. units)</text>
<text x="53.6" y="622.8" font-size="12.9" text-anchor="start" fill="#000" >Raman shift (cm<tspan font-size="8.5" dy="-5">-1</tspan><tspan dy="5">)</tspan></text>
<text x="210.4" y="257.4" font-size="19.5" text-anchor="start" fill="#000" >e</text>
<rect x="254.3" y="253.2" width="179.9" height="141.1" fill="none" stroke="#1a1a1a" stroke-width="1.3"/>
<line x1="251.1" y1="394.3" x2="254.3" y2="394.3" stroke="#1a1a1a" stroke-width="1.1" />
<text x="249.3" y="398.3" font-size="11.8" text-anchor="end" fill="#000" >0</text>
<line x1="251.1" y1="359.02" x2="254.3" y2="359.02" stroke="#1a1a1a" stroke-width="1.1" />
<text x="249.3" y="363.02" font-size="11.8" text-anchor="end" fill="#000" >20</text>
<line x1="251.1" y1="323.75" x2="254.3" y2="323.75" stroke="#1a1a1a" stroke-width="1.1" />
<text x="249.3" y="327.75" font-size="11.8" text-anchor="end" fill="#000" >40</text>
<line x1="251.1" y1="288.48" x2="254.3" y2="288.48" stroke="#1a1a1a" stroke-width="1.1" />
<text x="249.3" y="292.48" font-size="11.8" text-anchor="end" fill="#000" >60</text>
<line x1="251.1" y1="253.2" x2="254.3" y2="253.2" stroke="#1a1a1a" stroke-width="1.1" />
<text x="249.3" y="257.2" font-size="11.8" text-anchor="end" fill="#000" >80</text>
<line x1="252.3" y1="376.66" x2="254.3" y2="376.66" stroke="#1a1a1a" stroke-width="1.0" />
<line x1="252.3" y1="341.39" x2="254.3" y2="341.39" stroke="#1a1a1a" stroke-width="1.0" />
<line x1="252.3" y1="306.11" x2="254.3" y2="306.11" stroke="#1a1a1a" stroke-width="1.0" />
<line x1="252.3" y1="270.84" x2="254.3" y2="270.84" stroke="#1a1a1a" stroke-width="1.0" />
<line x1="268.14" y1="394.3" x2="268.14" y2="397.5" stroke="#1a1a1a" stroke-width="1.1" />
<text x="268.14" y="411.2" font-size="11.8" text-anchor="middle" fill="#000" >0</text>
<line x1="295.82" y1="394.3" x2="295.82" y2="397.5" stroke="#1a1a1a" stroke-width="1.1" />
<text x="295.82" y="411.2" font-size="11.8" text-anchor="middle" fill="#000" >1</text>
<line x1="323.49" y1="394.3" x2="323.49" y2="397.5" stroke="#1a1a1a" stroke-width="1.1" />
<text x="323.49" y="411.2" font-size="11.8" text-anchor="middle" fill="#000" >2</text>
<line x1="351.17" y1="394.3" x2="351.17" y2="397.5" stroke="#1a1a1a" stroke-width="1.1" />
<text x="351.17" y="411.2" font-size="11.8" text-anchor="middle" fill="#000" >3</text>
<line x1="378.85" y1="394.3" x2="378.85" y2="397.5" stroke="#1a1a1a" stroke-width="1.1" />
<text x="378.85" y="411.2" font-size="11.8" text-anchor="middle" fill="#000" >4</text>
<line x1="406.52" y1="394.3" x2="406.52" y2="397.5" stroke="#1a1a1a" stroke-width="1.1" />
<text x="406.52" y="411.2" font-size="11.8" text-anchor="middle" fill="#000" >5</text>
<line x1="434.2" y1="394.3" x2="434.2" y2="397.5" stroke="#1a1a1a" stroke-width="1.1" />
<text x="434.2" y="411.2" font-size="11.8" text-anchor="middle" fill="#000" >6</text>
<line x1="281.98" y1="394.3" x2="281.98" y2="396.3" stroke="#1a1a1a" stroke-width="1.0" />
<line x1="309.65" y1="394.3" x2="309.65" y2="396.3" stroke="#1a1a1a" stroke-width="1.0" />
<line x1="337.33" y1="394.3" x2="337.33" y2="396.3" stroke="#1a1a1a" stroke-width="1.0" />
<line x1="365.01" y1="394.3" x2="365.01" y2="396.3" stroke="#1a1a1a" stroke-width="1.0" />
<line x1="392.68" y1="394.3" x2="392.68" y2="396.3" stroke="#1a1a1a" stroke-width="1.0" />
<line x1="420.36" y1="394.3" x2="420.36" y2="396.3" stroke="#1a1a1a" stroke-width="1.0" />
<polyline points="268,270.9 295.5,277.9 323.3,280.2 351,291.4 378.5,293.8 406.3,294.7 414.5,294.7" fill="none" stroke="#45b5f5" stroke-width="1.6" stroke-linejoin="round" stroke-dasharray="1.5,1.9"/>
<polyline points="268,387.2 295.4,371.5 323.1,358 351,337.2 378.5,330.8 406.3,328.7 414.5,328.1" fill="none" stroke="#e8474d" stroke-width="1.6" stroke-linejoin="round" stroke-dasharray="1.5,1.9"/>
<polyline points="268,348.8 295.4,357.8 323.1,368.9 351,378.4 378.5,382 406.3,383.5 414.5,383.5" fill="none" stroke="#0b12e6" stroke-width="1.6" stroke-linejoin="round" stroke-dasharray="1.5,1.9"/>
<circle cx="268" cy="270.9" r="3.4" fill="#fff" stroke="#45b5f5" stroke-width="2.7"/>
<circle cx="295.5" cy="277.9" r="3.4" fill="#fff" stroke="#45b5f5" stroke-width="2.7"/>
<circle cx="323.3" cy="280.2" r="3.4" fill="#fff" stroke="#45b5f5" stroke-width="2.7"/>
<circle cx="351" cy="291.4" r="3.4" fill="#fff" stroke="#45b5f5" stroke-width="2.7"/>
<circle cx="378.5" cy="293.8" r="3.4" fill="#fff" stroke="#45b5f5" stroke-width="2.7"/>
<circle cx="406.3" cy="294.7" r="3.4" fill="#fff" stroke="#45b5f5" stroke-width="2.7"/>
<circle cx="414.5" cy="294.7" r="3.4" fill="#fff" stroke="#45b5f5" stroke-width="2.7"/>
<circle cx="268" cy="387.2" r="3.4" fill="#fff" stroke="#e8474d" stroke-width="2.7"/>
<circle cx="295.4" cy="371.5" r="3.4" fill="#fff" stroke="#e8474d" stroke-width="2.7"/>
<circle cx="323.1" cy="358" r="3.4" fill="#fff" stroke="#e8474d" stroke-width="2.7"/>
<circle cx="351" cy="337.2" r="3.4" fill="#fff" stroke="#e8474d" stroke-width="2.7"/>
<circle cx="378.5" cy="330.8" r="3.4" fill="#fff" stroke="#e8474d" stroke-width="2.7"/>
<circle cx="406.3" cy="328.7" r="3.4" fill="#fff" stroke="#e8474d" stroke-width="2.7"/>
<circle cx="414.5" cy="328.1" r="3.4" fill="#fff" stroke="#e8474d" stroke-width="2.7"/>
<circle cx="268" cy="348.8" r="3.4" fill="#fff" stroke="#0b12e6" stroke-width="2.7"/>
<circle cx="295.4" cy="357.8" r="3.4" fill="#fff" stroke="#0b12e6" stroke-width="2.7"/>
<circle cx="323.1" cy="368.9" r="3.4" fill="#fff" stroke="#0b12e6" stroke-width="2.7"/>
<circle cx="351" cy="378.4" r="3.4" fill="#fff" stroke="#0b12e6" stroke-width="2.7"/>
<circle cx="378.5" cy="382" r="3.4" fill="#fff" stroke="#0b12e6" stroke-width="2.7"/>
<circle cx="406.3" cy="383.5" r="3.4" fill="#fff" stroke="#0b12e6" stroke-width="2.7"/>
<circle cx="414.5" cy="383.5" r="3.4" fill="#fff" stroke="#0b12e6" stroke-width="2.7"/>
<text x="401" y="286" font-size="12.3" text-anchor="start" fill="#4cb9f3" >IW</text>
<text x="397.3" y="317.9" font-size="12.3" text-anchor="start" fill="#c00414" >MW</text>
<text x="399.5" y="372.9" font-size="12.3" text-anchor="start" fill="#0a12c4" >NW</text>
<text transform="translate(232.3,323) rotate(-90)" x="0" y="0" font-size="13.2" text-anchor="middle" fill="#000" >Area Ratio (%)</text>
<text x="306.6" y="430" font-size="11.5" text-anchor="start" fill="#000" >C AlCl<tspan font-size="7.5" dy="2.5">3</tspan><tspan dy="-2.5" dx="1.2"> (m)</tspan></text>
<text x="211.4" y="434.1" font-size="20" text-anchor="start" fill="#000" >g</text>
<line x1="250.6" y1="580.9" x2="253.8" y2="580.9" stroke="#1a1a1a" stroke-width="1.1" />
<text x="247.8" y="584.9" font-size="11.8" text-anchor="end" fill="#000" >3000</text>
<line x1="250.6" y1="546.85" x2="253.8" y2="546.85" stroke="#1a1a1a" stroke-width="1.1" />
<text x="247.8" y="550.85" font-size="11.8" text-anchor="end" fill="#000" >4000</text>
<line x1="250.6" y1="512.8" x2="253.8" y2="512.8" stroke="#1a1a1a" stroke-width="1.1" />
<text x="247.8" y="516.8" font-size="11.8" text-anchor="end" fill="#000" >5000</text>
<line x1="250.6" y1="478.75" x2="253.8" y2="478.75" stroke="#1a1a1a" stroke-width="1.1" />
<text x="247.8" y="482.75" font-size="11.8" text-anchor="end" fill="#000" >6000</text>
<line x1="250.6" y1="444.7" x2="253.8" y2="444.7" stroke="#1a1a1a" stroke-width="1.1" />
<text x="247.8" y="448.7" font-size="11.8" text-anchor="end" fill="#000" >7000</text>
<line x1="251.8" y1="563.88" x2="253.8" y2="563.88" stroke="#1a1a1a" stroke-width="1.0" />
<line x1="251.8" y1="529.82" x2="253.8" y2="529.82" stroke="#1a1a1a" stroke-width="1.0" />
<line x1="251.8" y1="495.77" x2="253.8" y2="495.77" stroke="#1a1a1a" stroke-width="1.0" />
<line x1="251.8" y1="461.72" x2="253.8" y2="461.72" stroke="#1a1a1a" stroke-width="1.0" />
<line x1="253.8" y1="589.3" x2="253.8" y2="592.5" stroke="#1a1a1a" stroke-width="1.1" />
<text x="253.8" y="603.8" font-size="11.8" text-anchor="middle" fill="#000" >0</text>
<line x1="290.1" y1="589.3" x2="290.1" y2="592.5" stroke="#1a1a1a" stroke-width="1.1" />
<text x="290.1" y="603.8" font-size="11.8" text-anchor="middle" fill="#000" >2</text>
<line x1="326.4" y1="589.3" x2="326.4" y2="592.5" stroke="#1a1a1a" stroke-width="1.1" />
<text x="326.4" y="603.8" font-size="11.8" text-anchor="middle" fill="#000" >4</text>
<line x1="362.7" y1="589.3" x2="362.7" y2="592.5" stroke="#1a1a1a" stroke-width="1.1" />
<text x="362.7" y="603.8" font-size="11.8" text-anchor="middle" fill="#000" >6</text>
<line x1="399" y1="589.3" x2="399" y2="592.5" stroke="#1a1a1a" stroke-width="1.1" />
<text x="399" y="603.8" font-size="11.8" text-anchor="middle" fill="#000" >8</text>
<line x1="435.3" y1="589.3" x2="435.3" y2="592.5" stroke="#1a1a1a" stroke-width="1.1" />
<text x="435.3" y="603.8" font-size="11.8" text-anchor="middle" fill="#000" >10</text>
<line x1="271.95" y1="589.3" x2="271.95" y2="591.3" stroke="#1a1a1a" stroke-width="1.0" />
<line x1="308.25" y1="589.3" x2="308.25" y2="591.3" stroke="#1a1a1a" stroke-width="1.0" />
<line x1="344.55" y1="589.3" x2="344.55" y2="591.3" stroke="#1a1a1a" stroke-width="1.0" />
<line x1="380.85" y1="589.3" x2="380.85" y2="591.3" stroke="#1a1a1a" stroke-width="1.0" />
<line x1="417.15" y1="589.3" x2="417.15" y2="591.3" stroke="#1a1a1a" stroke-width="1.0" />
<line x1="254.4" y1="456.9" x2="435.3" y2="456.9" stroke="#5c5c5c" stroke-width="2.9" />
<line x1="261.8" y1="565.8" x2="435.3" y2="565.8" stroke="#dc4a62" stroke-width="2.9" />
<polyline points="254.4,567.6 256.8,567.1 259.8,566.4 262.8,566" fill="none" stroke="#dc4a62" stroke-width="2.9" stroke-linejoin="round" />
<polyline points="254.4,454.86 254.7,456.14 255,457.27 255.3,458.75 255.6,457.04 255.9,457.24 256.2,457.06 256.5,455.36 256.8,457.58 257.1,455.2 257.4,458.23 257.7,458.45 258,457.92 258.3,457.8 258.6,455.88 258.9,456.33 259.2,458.01 259.5,459.42 259.8,455.09 260.1,455.47 260.4,458.13 260.7,457.16 261,457.35 261.3,459.39 261.6,456.45 261.9,454.94 262.2,455.1 262.5,455.53 262.8,455.26 263.1,459.81 263.4,455.8 263.7,454.71 264,457.56 264.3,456.34 264.6,458.11 264.9,458.44 265.2,457.26 265.5,456.7 265.8,456.1 266.1,458.93 266.4,454.69 266.7,457.65 267,455.88 267.3,458.41 267.6,457.7 267.9,454.52 268.2,457.11 268.5,458.23 268.8,457 269.1,457.18 269.4,456.02 269.7,458.98 270,456.9 270.3,457.24 270.6,458.3 270.9,458 271.2,459.59 271.5,458.01 271.8,456.33 272.1,458.06 272.4,457.88 272.7,458.79 273,454.33 273.3,455.27 273.6,458.6 273.9,459.52 274.2,458.52 274.5,458.16 274.8,458.27 275.1,457.81 275.4,455.21 275.7,454.23 276,455.29 276.3,458.33 276.6,457.22 276.9,457.35 277.2,455.89 277.5,458.15 277.8,454.55 278.1,458.3 278.4,456.89 278.7,459.1 279,456.4 279.3,457.41 279.6,455.8 279.9,457.37 280.2,456.96 280.5,457.07 280.8,459.21 281.1,456.9 281.4,458.6 281.7,455.01 282,456.72 282.3,456.28 282.6,458.83 282.9,456.48 283.2,457.97 283.5,457.38 283.8,458.02 284.1,458.94 284.4,455.72 284.7,455.64 285,457.23 285.3,457.36 285.6,459.02 285.9,454.57 286.2,454.94 286.5,458.89 286.8,458.16 287.1,458.67 287.4,456.24 287.7,456.92 288,455.35 288.3,454.85 288.6,459.14 288.9,458.76 289.2,458.03 289.5,456.94 289.8,453.79 290.1,455.37 290.4,456.5 290.7,455.31 291,454.71 291.3,456.11 291.6,457.07 291.9,455.46 292.2,457.96 292.5,454.69 292.8,454.54 293.1,459 293.4,459.66 293.7,458.96 294,455.55 294.3,459.17 294.6,456.1 294.9,456.45 295.2,456.95 295.5,455.36 295.8,458.01 296.1,457.76 296.4,456.67 296.7,456.73 297,458.72 297.3,456.46 297.6,456.6 297.9,459.72 298.2,455.86 298.5,458.47 298.8,456.5 299.1,455.94 299.4,456.64 299.7,460.2 300,455.12 300.3,456.11 300.6,457.79 300.9,456.08 301.2,458.24 301.5,456.22 301.8,458.39 302.1,457.23 302.4,459.2 302.7,455.41 303,455.37 303.3,458.01 303.6,454.73 303.9,454.63 304.2,455.54 304.5,455.01 304.8,457.76 305.1,457.32 305.4,458.1 305.7,456.47 306,458.1 306.3,456.72 306.6,456.03 306.9,455.25 307.2,458.23 307.5,456.24 307.8,457.18 308.1,454.96 308.4,455.21 308.7,456.42 309,455.43 309.3,458.25 309.6,455.2 309.9,457.22 310.2,455.53 310.5,459.1 310.8,456.79 311.1,456.93 311.4,458.93 311.7,455.78 312,456.01 312.3,458.52 312.6,457.82 312.9,456.23 313.2,457.31 313.5,456.93 313.8,458.3 314.1,458.1 314.4,456.94 314.7,456.86 315,456.74 315.3,454.47 315.6,454.81 315.9,457.21 316.2,458.03 316.5,458.43 316.8,458.73 317.1,456.07 317.4,458.84 317.7,456.22 318,457.07 318.3,459.39 318.6,457.25 318.9,459 319.2,459.11 319.5,458.81 319.8,458.01 320.1,456.12 320.4,456.57 320.7,457.19 321,459 321.3,458.77 321.6,457.99 321.9,458.69 322.2,457.44 322.5,455.7 322.8,456.73 323.1,458.49 323.4,456.73 323.7,457 324,455.92 324.3,458.04 324.6,459.37 324.9,456.9 325.2,457.61 325.5,455.54 325.8,456.18 326.1,456.4 326.4,455.45 326.7,457.47 327,456.63 327.3,457.8 327.6,457.48 327.9,456.68 328.2,455.7 328.5,455.87 328.8,456.98 329.1,457.74 329.4,458.53 329.7,455.2 330,455.75 330.3,458.8 330.6,456.22 330.9,455.37 331.2,454.58 331.5,455.65 331.8,455.48 332.1,456.48 332.4,455.17 332.7,455.73 333,458.01 333.3,458.7 333.6,457.41 333.9,458 334.2,457.59 334.5,458.04 334.8,458.4 335.1,454.78 335.4,456.23 335.7,458.47 336,457.92 336.3,458.16 336.6,456.38 336.9,456.64 337.2,456.01 337.5,456.81 337.8,458.46 338.1,457.9 338.4,455.51 338.7,456.44 339,457.78 339.3,455.47 339.6,458.2 339.9,458.71 340.2,456.49 340.5,458.86 340.8,457.2 341.1,457.64 341.4,456.66 341.7,458.49 342,457.65 342.3,455.99 342.6,456.77 342.9,458.6 343.2,454.59 343.5,455.83 343.8,457.6 344.1,459.13 344.4,456.51 344.7,457.91 345,457.02 345.3,458.5 345.6,459.39 345.9,458.09 346.2,458.62 346.5,458.39 346.8,457.23 347.1,456.78 347.4,457.3 347.7,457.04 348,457.77 348.3,456.39 348.6,458.77 348.9,454.14 349.2,456.51 349.5,458.17 349.8,458.42 350.1,457.12 350.4,456.6 350.7,457.06 351,457.76 351.3,458.63 351.6,455 351.9,455.4 352.2,454.9 352.5,454.53 352.8,457.27 353.1,458.32 353.4,458.12 353.7,456.02 354,454.99 354.3,456.75 354.6,457.89 354.9,455.77 355.2,455.09 355.5,457.52 355.8,456.01 356.1,457.43 356.4,458.95 356.7,458.04 357,459.27 357.3,455.02 357.6,456.12 357.9,458.9 358.2,458.36 358.5,455.3 358.8,457.78 359.1,458.2 359.4,456.59 359.7,455.93 360,457.1 360.3,454.72 360.6,456.37 360.9,455.66 361.2,456.9 361.5,455.93 361.8,456.12 362.1,454.62 362.4,454.99 362.7,458.14 363,458.59 363.3,454.37 363.6,458.57 363.9,454.92 364.2,457 364.5,459.24 364.8,458.11 365.1,455.45 365.4,457.89 365.7,456.38 366,455.93 366.3,455.51 366.6,458.32 366.9,454.62 367.2,455.84 367.5,457.55 367.8,457.68 368.1,455.9 368.4,455.61 368.7,458.13 369,455.84 369.3,456.79 369.6,456.46 369.9,454.86 370.2,455.59 370.5,457.75 370.8,459.2 371.1,458.85 371.4,454.61 371.7,456.66 372,457.76 372.3,455.62 372.6,458.16 372.9,456.06 373.2,457.08 373.5,456.33 373.8,458.66 374.1,457.97 374.4,455.45 374.7,455.41 375,455.34 375.3,455.86 375.6,458.15 375.9,457.13 376.2,456.24 376.5,457.7 376.8,458.39 377.1,458.08 377.4,458.6 377.7,457.73 378,455.3 378.3,458.46 378.6,459.07 378.9,454.91 379.2,457.52 379.5,458.3 379.8,459.08 380.1,457.26 380.4,457.62 380.7,457.97 381,454.54 381.3,457.23 381.6,459.04 381.9,455.27 382.2,457.64 382.5,458.2 382.8,459.59 383.1,457.14 383.4,454.86 383.7,455.99 384,456.24 384.3,455.1 384.6,455.03 384.9,455.22 385.2,458.77 385.5,455.93 385.8,456.31 386.1,456.72 386.4,457.91 386.7,458.41 387,457.98 387.3,456.82 387.6,454.27 387.9,455.76 388.2,455.23 388.5,456.19 388.8,457.41 389.1,454.94 389.4,456.8 389.7,455.51 390,459.1 390.3,458.69 390.6,459.41 390.9,457.63 391.2,456.98 391.5,455.47 391.8,458.73 392.1,456.72 392.4,456.73 392.7,455.81 393,455.09 393.3,458.33 393.6,455.16 393.9,458.15 394.2,454.5 394.5,458.55 394.8,455.42 395.1,455.71 395.4,455.93 395.7,456.48 396,456.44 396.3,454.24 396.6,458.02 396.9,458.8 397.2,456.2 397.5,457.13 397.8,457.61 398.1,454.94 398.4,456.37 398.7,459.09 399,456.71 399.3,455.53 399.6,458.36 399.9,458.58 400.2,455.43 400.5,457.09 400.8,456.14 401.1,456.16 401.4,457.87 401.7,455.27 402,457.7 402.3,456.3 402.6,456.32 402.9,457.8 403.2,458.31 403.5,459.66 403.8,458.1 404.1,454.66 404.4,455.39 404.7,457.76 405,457.38 405.3,455.44 405.6,455.69 405.9,455.3 406.2,454.58 406.5,457.15 406.8,457.01 407.1,456.57 407.4,455 407.7,455.98 408,454.79 408.3,458.49 408.6,457.26 408.9,455.17 409.2,455.74 409.5,457.67 409.8,457.68 410.1,454.89 410.4,456.74 410.7,457.75 411,457.78 411.3,456 411.6,455.1 411.9,458.11 412.2,459.12 412.5,457.22 412.8,457.85 413.1,454.99 413.4,455.25 413.7,457.41 414,458.22 414.3,457.11 414.6,458.09 414.9,458.06 415.2,454.94 415.5,457.52 415.8,458.41 416.1,458.68 416.4,458.28 416.7,458.85 417,457.21 417.3,454.28 417.6,454.92 417.9,458.6 418.2,455.21 418.5,457.01 418.8,454.64 419.1,455.48 419.4,456.09 419.7,456.95 420,457.11 420.3,455.78 420.6,457.3 420.9,458.34 421.2,456.18 421.5,454.35 421.8,458.21 422.1,455.24 422.4,458.53 422.7,456.14 423,458.46 423.3,456.91 423.6,454.54 423.9,456.37 424.2,458.33 424.5,455.12 424.8,457.17 425.1,456.88 425.4,455.03 425.7,457.2 426,456.81 426.3,459.31 426.6,457.73 426.9,455.81 427.2,456.44 427.5,455.97 427.8,458.84 428.1,454.05 428.4,458.22 428.7,457.63 429,455.77 429.3,456.22 429.6,457.86 429.9,457.42 430.2,458.75 430.5,456.63 430.8,456.77 431.1,456.91 431.4,456.29 431.7,458.57 432,455.83 432.3,455.58 432.6,454.95 432.9,458.01 433.2,457.36 433.5,456.12 433.8,456.19 434.1,455.96 434.4,458.2 434.7,456.78 435,454.74 435.3,454.19" fill="none" stroke="#555555" stroke-width="0.8" stroke-linejoin="round" stroke-linejoin="miter"/>
<polyline points="254.4,566.03 254.7,567.57 255,565.72 255.3,567.35 255.6,565.7 255.9,565.03 256.2,568.09 256.5,565.28 256.8,567.37 257.1,568.07 257.4,567.37 257.7,568.43 258,567.75 258.3,567.97 258.6,565.28 258.9,567.05 259.2,567.7 259.5,564.66 259.8,567.67 260.1,565.63 260.4,563.86 260.7,566.48 261,565.63 261.3,565.8 261.6,565.73 261.9,564.53 262.2,567.93 262.5,563.5 262.8,564.77 263.1,564.39 263.4,567.42 263.7,564.4 264,565.67 264.3,565.68 264.6,566.16 264.9,565.19 265.2,566.49 265.5,567.16 265.8,566.7 266.1,567.63 266.4,566.13 266.7,567.89 267,565.84 267.3,566.64 267.6,567.57 267.9,564.69 268.2,563.58 268.5,564.81 268.8,566.33 269.1,564.9 269.4,564.14 269.7,564.35 270,563.24 270.3,563.84 270.6,567.6 270.9,565.53 271.2,566.81 271.5,565.18 271.8,565.07 272.1,567.52 272.4,565.68 272.7,568.03 273,565.67 273.3,568.33 273.6,564.37 273.9,564.69 274.2,565.17 274.5,564.55 274.8,564.21 275.1,568.13 275.4,564.94 275.7,567.68 276,566.63 276.3,567.14 276.6,566.19 276.9,567.93 277.2,566.88 277.5,564.69 277.8,564.04 278.1,566.94 278.4,568.08 278.7,565.47 279,563.69 279.3,564.75 279.6,564.52 279.9,568.09 280.2,564.7 280.5,564.26 280.8,564.9 281.1,567.43 281.4,566.9 281.7,563.83 282,567.52 282.3,563.41 282.6,565.49 282.9,565.58 283.2,565.19 283.5,567.89 283.8,564.6 284.1,565.82 284.4,564.94 284.7,566.61 285,565.16 285.3,566.19 285.6,564.32 285.9,568.46 286.2,564.26 286.5,564.36 286.8,563.98 287.1,565.31 287.4,565.54 287.7,563.37 288,565.32 288.3,565.49 288.6,566.12 288.9,566.41 289.2,565.7 289.5,567.51 289.8,565.73 290.1,564.28 290.4,566.27 290.7,567.66 291,565.95 291.3,564.74 291.6,567.55 291.9,567.18 292.2,566.57 292.5,564.64 292.8,564.49 293.1,568.7 293.4,567.36 293.7,564.49 294,563.74 294.3,566.35 294.6,566.25 294.9,564.65 295.2,566.47 295.5,564.59 295.8,564.13 296.1,566.19 296.4,566.77 296.7,566.21 297,564.49 297.3,564.78 297.6,565.63 297.9,566.06 298.2,564.02 298.5,566.52 298.8,567.42 299.1,567.63 299.4,565.17 299.7,567.37 300,564.04 300.3,565.08 300.6,567.42 300.9,565.69 301.2,565.4 301.5,567.8 301.8,565.19 302.1,567.13 302.4,566.31 302.7,564.85 303,565.18 303.3,565.03 303.6,564.55 303.9,566.4 304.2,566.87 304.5,564.64 304.8,567.6 305.1,563.35 305.4,563.74 305.7,565.64 306,564.57 306.3,563.35 306.6,566.9 306.9,564.29 307.2,567.56 307.5,564.66 307.8,568.1 308.1,565.22 308.4,565.1 308.7,566.44 309,567.09 309.3,564.69 309.6,567.47 309.9,567.59 310.2,565.74 310.5,565.91 310.8,565.25 311.1,566.98 311.4,566.07 311.7,566.83 312,564.65 312.3,563.51 312.6,566.41 312.9,567.25 313.2,564.18 313.5,567.37 313.8,567.04 314.1,566.79 314.4,566.98 314.7,566.45 315,565.7 315.3,567.09 315.6,567.43 315.9,563.93 316.2,564.15 316.5,567.89 316.8,565.36 317.1,565.12 317.4,565.35 317.7,565.85 318,567.55 318.3,567.37 318.6,564.19 318.9,563.36 319.2,565.53 319.5,565.34 319.8,566.89 320.1,565.04 320.4,563.52 320.7,564.48 321,565.98 321.3,564.89 321.6,565.76 321.9,566.94 322.2,564.97 322.5,566.75 322.8,564.2 323.1,565.41 323.4,567.27 323.7,563.66 324,567.48 324.3,566.25 324.6,566.01 324.9,566.47 325.2,567.62 325.5,564.54 325.8,563.88 326.1,564.28 326.4,564.23 326.7,566.45 327,567.7 327.3,565 327.6,564.05 327.9,567.18 328.2,566.51 328.5,564.73 328.8,567.5 329.1,565.18 329.4,566.88 329.7,567.81 330,565.35 330.3,566.52 330.6,564.63 330.9,565.57 331.2,566.06 331.5,564.22 331.8,567.44 332.1,568.55 332.4,564.65 332.7,565.13 333,567.11 333.3,563.01 333.6,566.33 333.9,566.21 334.2,564.94 334.5,567.73 334.8,567.37 335.1,562.68 335.4,564.35 335.7,567.67 336,564.93 336.3,565.59 336.6,565.21 336.9,567.01 337.2,566.24 337.5,563.19 337.8,565.94 338.1,566.22 338.4,564.15 338.7,566.89 339,565.64 339.3,565.09 339.6,564.09 339.9,567.27 340.2,568.28 340.5,565.84 340.8,567.65 341.1,563.5 341.4,564.13 341.7,565.98 342,566.36 342.3,565.38 342.6,564.98 342.9,564.22 343.2,566.82 343.5,568.71 343.8,565.86 344.1,566.39 344.4,564.28 344.7,567.12 345,564.06 345.3,564.92 345.6,567.47 345.9,563.65 346.2,566.05 346.5,567.01 346.8,564.51 347.1,566.38 347.4,566.3 347.7,566.82 348,566.75 348.3,565.7 348.6,567.7 348.9,565.23 349.2,564.8 349.5,566.7 349.8,564.86 350.1,564.33 350.4,565.39 350.7,568.78 351,565.7 351.3,565.99 351.6,565.83 351.9,566.62 352.2,567.99 352.5,567.73 352.8,565.57 353.1,565.04 353.4,566.72 353.7,564.75 354,566.54 354.3,567.32 354.6,565.42 354.9,565.91 355.2,566.65 355.5,565.51 355.8,567.61 356.1,564.97 356.4,564.54 356.7,567.33 357,565.94 357.3,563.55 357.6,566.67 357.9,566.04 358.2,567.64 358.5,567.48 358.8,565.05 359.1,563.44 359.4,564.32 359.7,566.68 360,562.86 360.3,565.99 360.6,567.2 360.9,565 361.2,564.74 361.5,563.95 361.8,567.09 362.1,565.22 362.4,566.89 362.7,565.06 363,563.36 363.3,567.5 363.6,564.65 363.9,565.25 364.2,564.46 364.5,566.7 364.8,564.66 365.1,566.37 365.4,567.79 365.7,564.58 366,565.66 366.3,564.15 366.6,566.67 366.9,567.16 367.2,564.51 367.5,566.42 367.8,564.8 368.1,568.27 368.4,563.48 368.7,565.16 369,565.62 369.3,566.18 369.6,565.54 369.9,567.07 370.2,564.88 370.5,568.78 370.8,566.94 371.1,565.26 371.4,567.79 371.7,566.81 372,564.9 372.3,565.21 372.6,563.93 372.9,566.05 373.2,565.25 373.5,566.63 373.8,566.64 374.1,564.38 374.4,567.76 374.7,566.71 375,564.57 375.3,567.65 375.6,564.08 375.9,563.48 376.2,566.67 376.5,565.51 376.8,567.92 377.1,564.29 377.4,564.67 377.7,563.69 378,568.32 378.3,568 378.6,568.15 378.9,564.24 379.2,564.56 379.5,564.36 379.8,568.14 380.1,565.09 380.4,566.63 380.7,566.72 381,564.33 381.3,564.29 381.6,565.5 381.9,566.56 382.2,564.79 382.5,567.23 382.8,566.3 383.1,564.76 383.4,567.09 383.7,565.37 384,565.71 384.3,565.24 384.6,567.18 384.9,565.81 385.2,564.56 385.5,564.15 385.8,565.36 386.1,566.72 386.4,567.24 386.7,566.59 387,567.56 387.3,565.54 387.6,566.87 387.9,565.37 388.2,563.25 388.5,565.56 388.8,566.02 389.1,567.02 389.4,564.81 389.7,565.98 390,568.02 390.3,567.72 390.6,567.52 390.9,566.66 391.2,566.23 391.5,566.6 391.8,563.35 392.1,566.5 392.4,564.15 392.7,563.15 393,564.24 393.3,564.57 393.6,566.79 393.9,568.04 394.2,566.23 394.5,564.15 394.8,563.24 395.1,566.63 395.4,564.17 395.7,564.71 396,563.47 396.3,567.51 396.6,566.6 396.9,564.78 397.2,565.12 397.5,567.33 397.8,568.08 398.1,566.81 398.4,563.89 398.7,565.66 399,566.46 399.3,566.35 399.6,565.6 399.9,566.34 400.2,568.98 400.5,567.57 400.8,567.83 401.1,563.65 401.4,565.63 401.7,566.46 402,564.57 402.3,564.1 402.6,564.69 402.9,566.3 403.2,564.42 403.5,566.83 403.8,566.44 404.1,567.5 404.4,567.63 404.7,567.51 405,563.09 405.3,565.5 405.6,566.86 405.9,566.33 406.2,564.79 406.5,566.81 406.8,563.77 407.1,563.71 407.4,567.98 407.7,565.79 408,564.42 408.3,565.52 408.6,567.89 408.9,566.18 409.2,564.3 409.5,563.53 409.8,564.29 410.1,565.79 410.4,566.87 410.7,568.29 411,566.76 411.3,565.65 411.6,563.3 411.9,563.81 412.2,565.91 412.5,564.06 412.8,564.87 413.1,564.26 413.4,563.52 413.7,564.29 414,565 414.3,566.52 414.6,567.94 414.9,565.81 415.2,564.56 415.5,563.84 415.8,566.58 416.1,566.54 416.4,566.86 416.7,563.34 417,566.65 417.3,566.79 417.6,567.37 417.9,566.36 418.2,567.09 418.5,563.98 418.8,566.07 419.1,565.55 419.4,565.48 419.7,567.08 420,567.95 420.3,567.29 420.6,564.7 420.9,567.84 421.2,568.43 421.5,566.75 421.8,564.09 422.1,563.69 422.4,567.65 422.7,567.07 423,565.15 423.3,566.55 423.6,568.06 423.9,568.61 424.2,566.06 424.5,566.52 424.8,566.21 425.1,567.27 425.4,566.08 425.7,564.83 426,566.92 426.3,564.14 426.6,564.81 426.9,563.94 427.2,565.21 427.5,564.71 427.8,565.06 428.1,563.89 428.4,566.37 428.7,563.76 429,567.27 429.3,563.16 429.6,566.12 429.9,563.85 430.2,566.76 430.5,565.69 430.8,565.32 431.1,565.63 431.4,565.93 431.7,567.92 432,566.26 432.3,563.32 432.6,564.61 432.9,567.97 433.2,566.63 433.5,566.7 433.8,565.56 434.1,565.48 434.4,568.22 434.7,567.25 435,566.93 435.3,567.98" fill="none" stroke="#d83a55" stroke-width="0.8" stroke-linejoin="round" stroke-linejoin="miter"/>
<rect x="253.8" y="444.7" width="181.5" height="144.6" fill="none" stroke="#1a1a1a" stroke-width="1.3"/>
<polygon points="329.4,486.8 338.2,486.8 338.2,528.8 342.6,528.8 333.8,537.1 325,528.8 329.4,528.8" fill="#e39a9e" stroke="none" stroke-width="0" />
<text x="323.4" y="475.4" font-size="12.0" text-anchor="start" fill="#000" >H<tspan font-size="8.8" dx="0.4" dy="2.5">2</tspan><tspan dx="0.3" dy="-2.5">O</tspan></text>
<text x="323.4" y="557.2" font-size="12.0" text-anchor="start" fill="#000" >4 Al</text>
<text transform="translate(217,516.7) rotate(-90)" x="0" y="0" font-size="13.4" text-anchor="middle" fill="#000" >HB number</text>
<text x="323" y="621.9" font-size="12.1" text-anchor="start" fill="#000" >Time (ns)</text>
<text x="450.4" y="432.2" font-size="20" text-anchor="start" fill="#000" >h</text>
<line x1="490.6" y1="585.8" x2="493.8" y2="585.8" stroke="#1a1a1a" stroke-width="1.1" />
<text x="489.3" y="589.8" font-size="11.8" text-anchor="end" fill="#000" >0</text>
<line x1="490.6" y1="515.85" x2="493.8" y2="515.85" stroke="#1a1a1a" stroke-width="1.1" />
<text x="489.3" y="519.85" font-size="11.8" text-anchor="end" fill="#000" >5</text>
<line x1="490.6" y1="445.9" x2="493.8" y2="445.9" stroke="#1a1a1a" stroke-width="1.1" />
<text x="489.3" y="449.9" font-size="11.8" text-anchor="end" fill="#000" >10</text>
<line x1="491.8" y1="550.82" x2="493.8" y2="550.82" stroke="#1a1a1a" stroke-width="1.0" />
<line x1="491.8" y1="480.87" x2="493.8" y2="480.87" stroke="#1a1a1a" stroke-width="1.0" />
<line x1="493.8" y1="589.9" x2="493.8" y2="593.1" stroke="#1a1a1a" stroke-width="1.1" />
<text x="493.8" y="604.2" font-size="11.8" text-anchor="middle" fill="#000" >0</text>
<line x1="530.04" y1="589.9" x2="530.04" y2="593.1" stroke="#1a1a1a" stroke-width="1.1" />
<text x="530.04" y="604.2" font-size="11.8" text-anchor="middle" fill="#000" >20</text>
<line x1="566.28" y1="589.9" x2="566.28" y2="593.1" stroke="#1a1a1a" stroke-width="1.1" />
<text x="566.28" y="604.2" font-size="11.8" text-anchor="middle" fill="#000" >40</text>
<line x1="602.52" y1="589.9" x2="602.52" y2="593.1" stroke="#1a1a1a" stroke-width="1.1" />
<text x="602.52" y="604.2" font-size="11.8" text-anchor="middle" fill="#000" >60</text>
<line x1="638.76" y1="589.9" x2="638.76" y2="593.1" stroke="#1a1a1a" stroke-width="1.1" />
<text x="638.76" y="604.2" font-size="11.8" text-anchor="middle" fill="#000" >80</text>
<line x1="675" y1="589.9" x2="675" y2="593.1" stroke="#1a1a1a" stroke-width="1.1" />
<text x="675" y="604.2" font-size="11.8" text-anchor="middle" fill="#000" >100</text>
<line x1="511.92" y1="589.9" x2="511.92" y2="591.9" stroke="#1a1a1a" stroke-width="1.0" />
<line x1="548.16" y1="589.9" x2="548.16" y2="591.9" stroke="#1a1a1a" stroke-width="1.0" />
<line x1="584.4" y1="589.9" x2="584.4" y2="591.9" stroke="#1a1a1a" stroke-width="1.0" />
<line x1="620.64" y1="589.9" x2="620.64" y2="591.9" stroke="#1a1a1a" stroke-width="1.0" />
<line x1="656.88" y1="589.9" x2="656.88" y2="591.9" stroke="#1a1a1a" stroke-width="1.0" />
<polyline points="493.8,583.61 493.89,581.71 493.98,581.06 494.16,580.18 494.52,578.98 495.07,577.69 495.61,576.68 496.52,575.29 497.42,574.12 499.24,572.15 501.05,570.48 502.86,568.98 504.67,567.62 508.3,565.15 511.92,562.93 515.54,560.87 520.98,558.01 526.42,555.35 531.85,552.83 539.1,549.64 548.16,545.85 557.22,542.22 566.28,538.7 575.34,535.25 584.4,531.83 593.46,528.43 602.52,525 611.58,521.48 620.64,517.82 629.7,513.91 638.76,509.55 646.01,505.5 653.26,500.56 658.69,495.78 662.32,491.7 665.94,486.39 667.75,483.03 669.56,478.95 671.38,473.86 672.28,470.8 673.19,467.27 673.73,464.88 674.28,462.24 674.64,460.33 675,458.28" fill="none" stroke="#333333" stroke-width="1.3" stroke-linejoin="round" />
<polyline points="493.8,581.75 493.89,580.57 493.98,580.19 494.16,579.67 494.52,578.97 495.07,578.22 495.61,577.63 496.52,576.83 497.42,576.15 499.24,575.01 501.05,574.03 502.86,573.16 504.67,572.36 508.3,570.92 511.92,569.61 515.54,568.39 520.98,566.69 526.42,565.1 531.85,563.59 539.1,561.66 548.16,559.35 557.22,557.13 566.28,554.96 575.34,552.83 584.4,550.7 593.46,548.57 602.52,546.4 611.58,544.18 620.64,541.85 629.7,539.36 638.76,536.58 646.01,533.99 653.26,530.8 658.69,527.65 662.32,524.85 665.94,520.93 667.75,518.19 669.56,514.48 671.38,508.95 672.28,504.89 673.19,499.17 673.73,494.35 674.28,487.7 674.64,481.54 675,472.96" fill="none" stroke="#e8101e" stroke-width="1.3" stroke-linejoin="round" />
<rect x="493.8" y="445.8" width="181.2" height="144.1" fill="none" stroke="#1a1a1a" stroke-width="1.3"/>
<line x1="500.8" y1="460.8" x2="528.8" y2="460.8" stroke="#333" stroke-width="1.3" />
<line x1="500.8" y1="478.3" x2="528.8" y2="478.3" stroke="#e8101e" stroke-width="1.3" />
<text x="532.2" y="464.7" font-size="12.0" text-anchor="start" fill="#000" >H<tspan font-size="8.8" dx="0.4" dy="2.5">2</tspan><tspan dx="0.3" dy="-2.5">O</tspan></text>
<text x="532.2" y="482.5" font-size="12.0" text-anchor="start" fill="#000" >4Al</text>
<polygon points="566.99,522.57 587.75,555.96 585.03,557.65 595.5,563.5 594.88,551.52 592.16,553.21 571.41,519.83" fill="#e39a9e" stroke="none" stroke-width="0" />
<text transform="translate(465.2,514.6) rotate(-90)" x="0" y="0" font-size="13.3" text-anchor="middle" fill="#000" >MSD (Å<tspan font-size="8.5" dy="-5">2</tspan><tspan dy="5">)</tspan></text>
<text x="554.3" y="624.5" font-size="13.5" text-anchor="start" fill="#000" >Time (ns)</text>
<text x="451" y="258.4" font-size="20" text-anchor="start" fill="#000" >f</text>
<defs><radialGradient id="blobg" cx="0.5" cy="0.5" r="0.5"><stop offset="0" stop-color="#dc3b3b"/><stop offset="0.22" stop-color="#e8705c"/><stop offset="0.45" stop-color="#f3c08e"/><stop offset="0.6" stop-color="#f5eba8"/><stop offset="0.75" stop-color="#c8cce0"/><stop offset="0.9" stop-color="#6a80f2"/><stop offset="1" stop-color="#2a44f2"/></radialGradient><radialGradient id="blobg0" gradientUnits="userSpaceOnUse" cx="622.6" cy="280.2" r="21" fx="622.6" fy="280.2" gradientTransform="translate(622.6,280.2) scale(1,0.88) translate(-622.6,-280.2)"><stop offset="0" stop-color="#dc3b3b"/><stop offset="0.2" stop-color="#e8705c"/><stop offset="0.38" stop-color="#f3c08e"/><stop offset="0.5" stop-color="#f5eba8"/><stop offset="0.65" stop-color="#b8c0e4"/><stop offset="0.85" stop-color="#5a72f2"/><stop offset="1" stop-color="#2a44f2"/></radialGradient><linearGradient id="cbar" x1="0" y1="0" x2="0" y2="1"><stop offset="0" stop-color="#d94545"/><stop offset="0.3" stop-color="#eea080"/><stop offset="0.55" stop-color="#f3e9ae"/><stop offset="0.75" stop-color="#b0b8d8"/><stop offset="1" stop-color="#3050ee"/></linearGradient><clipPath id="fclip"><rect x="496.9" y="254.1" width="152.5" height="144.2"/></clipPath></defs>
<g clip-path="url(#fclip)">
<ellipse cx="529" cy="254.1" rx="6.2" ry="2.2" fill="#2a44f2"/>
<ellipse cx="548" cy="254.1" rx="6.0" ry="2.2" fill="#2a44f2"/>
<ellipse cx="567" cy="254.1" rx="4.0" ry="2.2" fill="#2a44f2"/>
<path d="M617.8,254.1 L632.9,254.1 C636.5,258 642.5,266 643.2,273.5 C643.5,281 637,288 628,291.5 C621,293.8 613,293.5 609.5,289 C606,285 606.5,279 608,273 C609.5,266 613,259 617.3,254.1 Z" fill="url(#blobg0)" stroke="#2a44f2" stroke-width="1.2"/>
<ellipse cx="587.0" cy="303.9" rx="12.8" ry="9.6" fill="url(#blobg)" stroke="#2a44f2" stroke-width="1.5"/>
<ellipse cx="574.6" cy="314.2" rx="11.8" ry="8.6" fill="url(#blobg)" stroke="#2a44f2" stroke-width="1.5"/>
<ellipse cx="566.1" cy="322.9" rx="11.9" ry="8.6" fill="url(#blobg)" stroke="#2a44f2" stroke-width="1.5"/>
<ellipse cx="557.5" cy="330.5" rx="12.0" ry="9.0" fill="url(#blobg)" stroke="#2a44f2" stroke-width="1.5"/>
<ellipse cx="553.6" cy="335.3" rx="12.4" ry="10.2" fill="url(#blobg)" stroke="#2a44f2" stroke-width="1.5"/>
</g>
<line x1="496.9" y1="280.4" x2="622.4" y2="280.4" stroke="#2a2a2a" stroke-width="1.0" stroke-dasharray="2,1.6"/>
<line x1="496.9" y1="304.5" x2="588.3" y2="304.5" stroke="#2a2a2a" stroke-width="1.0" stroke-dasharray="2,1.6"/>
<line x1="496.9" y1="315.2" x2="574.9" y2="315.2" stroke="#8a8a8a" stroke-width="1.3" stroke-dasharray="1.3,2"/>
<line x1="496.9" y1="323.5" x2="566.1" y2="323.5" stroke="#2a2a2a" stroke-width="1.0" stroke-dasharray="2,1.6"/>
<line x1="496.9" y1="331.4" x2="557.1" y2="331.4" stroke="#2a2a2a" stroke-width="1.0" stroke-dasharray="2,1.6"/>
<line x1="496.9" y1="336" x2="553.3" y2="336" stroke="#8a8a8a" stroke-width="1.3" stroke-dasharray="1.3,2"/>
<line x1="622.4" y1="280.4" x2="622.4" y2="398.3" stroke="#2a2a2a" stroke-width="1.0" stroke-dasharray="2,1.6"/>
<line x1="588.3" y1="304.5" x2="588.3" y2="398.3" stroke="#8a8a8a" stroke-width="1.3" stroke-dasharray="1.3,2"/>
<line x1="574.9" y1="315.2" x2="574.9" y2="398.3" stroke="#8a8a8a" stroke-width="1.3" stroke-dasharray="1.3,2"/>
<line x1="566.1" y1="323.5" x2="566.1" y2="398.3" stroke="#8a8a8a" stroke-width="1.3" stroke-dasharray="1.3,2"/>
<line x1="557.1" y1="331.4" x2="557.1" y2="398.3" stroke="#2a2a2a" stroke-width="1.0" stroke-dasharray="2,1.6"/>
<line x1="553.3" y1="336" x2="553.3" y2="398.3" stroke="#8a8a8a" stroke-width="1.3" stroke-dasharray="1.3,2"/>
<line x1="496.9" y1="398.3" x2="649.4" y2="254.1" stroke="#111" stroke-width="0.9" />
<rect x="496.9" y="254.1" width="152.5" height="144.2" fill="none" stroke="#1a1a1a" stroke-width="1.3"/>
<line x1="493.4" y1="398.3" x2="496.9" y2="398.3" stroke="#1a1a1a" stroke-width="1.1" />
<line x1="496.9" y1="398.3" x2="496.9" y2="401.8" stroke="#1a1a1a" stroke-width="1.1" />
<line x1="494.9" y1="383.83" x2="496.9" y2="383.83" stroke="#1a1a1a" stroke-width="0.9" />
<line x1="512.2" y1="398.3" x2="512.2" y2="400.3" stroke="#1a1a1a" stroke-width="0.9" />
<line x1="494.9" y1="375.37" x2="496.9" y2="375.37" stroke="#1a1a1a" stroke-width="0.9" />
<line x1="521.15" y1="398.3" x2="521.15" y2="400.3" stroke="#1a1a1a" stroke-width="0.9" />
<line x1="494.9" y1="369.36" x2="496.9" y2="369.36" stroke="#1a1a1a" stroke-width="0.9" />
<line x1="527.5" y1="398.3" x2="527.5" y2="400.3" stroke="#1a1a1a" stroke-width="0.9" />
<line x1="494.9" y1="364.7" x2="496.9" y2="364.7" stroke="#1a1a1a" stroke-width="0.9" />
<line x1="532.43" y1="398.3" x2="532.43" y2="400.3" stroke="#1a1a1a" stroke-width="0.9" />
<line x1="494.9" y1="360.9" x2="496.9" y2="360.9" stroke="#1a1a1a" stroke-width="0.9" />
<line x1="536.46" y1="398.3" x2="536.46" y2="400.3" stroke="#1a1a1a" stroke-width="0.9" />
<line x1="494.9" y1="357.68" x2="496.9" y2="357.68" stroke="#1a1a1a" stroke-width="0.9" />
<line x1="539.86" y1="398.3" x2="539.86" y2="400.3" stroke="#1a1a1a" stroke-width="0.9" />
<line x1="494.9" y1="354.89" x2="496.9" y2="354.89" stroke="#1a1a1a" stroke-width="0.9" />
<line x1="542.81" y1="398.3" x2="542.81" y2="400.3" stroke="#1a1a1a" stroke-width="0.9" />
<line x1="494.9" y1="352.43" x2="496.9" y2="352.43" stroke="#1a1a1a" stroke-width="0.9" />
<line x1="545.41" y1="398.3" x2="545.41" y2="400.3" stroke="#1a1a1a" stroke-width="0.9" />
<text x="491.3" y="402.6" font-size="10.9" text-anchor="end" fill="#000" >10<tspan font-size="8" dy="-5">1</tspan></text>
<text x="498.2" y="415" font-size="10.9" text-anchor="middle" fill="#000" >10<tspan font-size="8" dy="-5">1</tspan></text>
<line x1="493.4" y1="350.23" x2="496.9" y2="350.23" stroke="#1a1a1a" stroke-width="1.1" />
<line x1="547.73" y1="398.3" x2="547.73" y2="401.8" stroke="#1a1a1a" stroke-width="1.1" />
<line x1="494.9" y1="335.76" x2="496.9" y2="335.76" stroke="#1a1a1a" stroke-width="0.9" />
<line x1="563.04" y1="398.3" x2="563.04" y2="400.3" stroke="#1a1a1a" stroke-width="0.9" />
<line x1="494.9" y1="327.3" x2="496.9" y2="327.3" stroke="#1a1a1a" stroke-width="0.9" />
<line x1="571.99" y1="398.3" x2="571.99" y2="400.3" stroke="#1a1a1a" stroke-width="0.9" />
<line x1="494.9" y1="321.29" x2="496.9" y2="321.29" stroke="#1a1a1a" stroke-width="0.9" />
<line x1="578.34" y1="398.3" x2="578.34" y2="400.3" stroke="#1a1a1a" stroke-width="0.9" />
<line x1="494.9" y1="316.64" x2="496.9" y2="316.64" stroke="#1a1a1a" stroke-width="0.9" />
<line x1="583.26" y1="398.3" x2="583.26" y2="400.3" stroke="#1a1a1a" stroke-width="0.9" />
<line x1="494.9" y1="312.83" x2="496.9" y2="312.83" stroke="#1a1a1a" stroke-width="0.9" />
<line x1="587.29" y1="398.3" x2="587.29" y2="400.3" stroke="#1a1a1a" stroke-width="0.9" />
<line x1="494.9" y1="309.61" x2="496.9" y2="309.61" stroke="#1a1a1a" stroke-width="0.9" />
<line x1="590.69" y1="398.3" x2="590.69" y2="400.3" stroke="#1a1a1a" stroke-width="0.9" />
<line x1="494.9" y1="306.82" x2="496.9" y2="306.82" stroke="#1a1a1a" stroke-width="0.9" />
<line x1="593.64" y1="398.3" x2="593.64" y2="400.3" stroke="#1a1a1a" stroke-width="0.9" />
<line x1="494.9" y1="304.37" x2="496.9" y2="304.37" stroke="#1a1a1a" stroke-width="0.9" />
<line x1="596.24" y1="398.3" x2="596.24" y2="400.3" stroke="#1a1a1a" stroke-width="0.9" />
<text x="491.3" y="354.53" font-size="10.9" text-anchor="end" fill="#000" >10<tspan font-size="8" dy="-5">2</tspan></text>
<text x="549.03" y="415" font-size="10.9" text-anchor="middle" fill="#000" >10<tspan font-size="8" dy="-5">2</tspan></text>
<line x1="493.4" y1="302.17" x2="496.9" y2="302.17" stroke="#1a1a1a" stroke-width="1.1" />
<line x1="598.57" y1="398.3" x2="598.57" y2="401.8" stroke="#1a1a1a" stroke-width="1.1" />
<line x1="494.9" y1="287.7" x2="496.9" y2="287.7" stroke="#1a1a1a" stroke-width="0.9" />
<line x1="613.87" y1="398.3" x2="613.87" y2="400.3" stroke="#1a1a1a" stroke-width="0.9" />
<line x1="494.9" y1="279.23" x2="496.9" y2="279.23" stroke="#1a1a1a" stroke-width="0.9" />
<line x1="622.82" y1="398.3" x2="622.82" y2="400.3" stroke="#1a1a1a" stroke-width="0.9" />
<line x1="494.9" y1="273.23" x2="496.9" y2="273.23" stroke="#1a1a1a" stroke-width="0.9" />
<line x1="629.17" y1="398.3" x2="629.17" y2="400.3" stroke="#1a1a1a" stroke-width="0.9" />
<line x1="494.9" y1="268.57" x2="496.9" y2="268.57" stroke="#1a1a1a" stroke-width="0.9" />
<line x1="634.1" y1="398.3" x2="634.1" y2="400.3" stroke="#1a1a1a" stroke-width="0.9" />
<line x1="494.9" y1="264.76" x2="496.9" y2="264.76" stroke="#1a1a1a" stroke-width="0.9" />
<line x1="638.12" y1="398.3" x2="638.12" y2="400.3" stroke="#1a1a1a" stroke-width="0.9" />
<line x1="494.9" y1="261.55" x2="496.9" y2="261.55" stroke="#1a1a1a" stroke-width="0.9" />
<line x1="641.53" y1="398.3" x2="641.53" y2="400.3" stroke="#1a1a1a" stroke-width="0.9" />
<line x1="494.9" y1="258.76" x2="496.9" y2="258.76" stroke="#1a1a1a" stroke-width="0.9" />
<line x1="644.47" y1="398.3" x2="644.47" y2="400.3" stroke="#1a1a1a" stroke-width="0.9" />
<line x1="494.9" y1="256.3" x2="496.9" y2="256.3" stroke="#1a1a1a" stroke-width="0.9" />
<line x1="647.07" y1="398.3" x2="647.07" y2="400.3" stroke="#1a1a1a" stroke-width="0.9" />
<text x="491.3" y="306.47" font-size="10.9" text-anchor="end" fill="#000" >10<tspan font-size="8" dy="-5">3</tspan></text>
<text x="599.87" y="415" font-size="10.9" text-anchor="middle" fill="#000" >10<tspan font-size="8" dy="-5">3</tspan></text>
<line x1="493.4" y1="254.1" x2="496.9" y2="254.1" stroke="#1a1a1a" stroke-width="1.1" />
<line x1="649.4" y1="398.3" x2="649.4" y2="401.8" stroke="#1a1a1a" stroke-width="1.1" />
<text x="491.3" y="258.4" font-size="10.9" text-anchor="end" fill="#000" >10<tspan font-size="8" dy="-5">4</tspan></text>
<text x="650.7" y="415" font-size="10.9" text-anchor="middle" fill="#000" >10<tspan font-size="8" dy="-5">4</tspan></text>
<polygon points="616.07,308.79 575.67,353.07 573.31,350.91 570.6,361.3 580.7,357.65 578.33,355.49 618.73,311.21" fill="#d25a5c" stroke="none" stroke-width="0" />
<text x="551.2" y="275" font-size="12.6" text-anchor="start" fill="#000" >T<tspan font-size="8" dy="2.5">1</tspan><tspan dy="-2.5">/T</tspan><tspan font-size="8" dy="2.5">2</tspan><tspan dy="-2.5"> =&#160; 1</tspan></text>
<text x="503.4" y="368.9" font-size="12.6" text-anchor="start" fill="#000" >T<tspan font-size="8" dy="2.5">1</tspan><tspan dy="-2.5">/T</tspan><tspan font-size="8" dy="2.5">2</tspan><tspan dy="-2.5"> =&#160; 1.5</tspan></text>
<text x="624.6" y="309.3" font-size="11.3" text-anchor="start" fill="#000" >0 Al</text>
<text x="521.6" y="389.6" font-size="11.3" text-anchor="start" fill="#000" >5.3 Al</text>
<rect x="660.4" y="265.8" width="5.4" height="122.7" fill="url(#cbar)" stroke="#7080b0" stroke-width="0.6"/>
<text x="662.1" y="261.2" font-size="9.5" text-anchor="middle" fill="#000" >1</text>
<text x="662.1" y="400" font-size="9.5" text-anchor="middle" fill="#000" >0</text>
<text transform="translate(683.2,330.2) rotate(-90)" x="0" y="0" font-size="9.35" text-anchor="middle" fill="#000" >Normalized Intensity (arb. units)</text>
<text transform="translate(465.3,326.8) rotate(-90)" x="0" y="0" font-size="13.3" text-anchor="middle" fill="#000" >T<tspan font-size="8.5" dy="2.5">1</tspan><tspan dy="-2.5"> (ms)</tspan></text>
<text x="551.6" y="430" font-size="13.3" text-anchor="start" fill="#000" >T<tspan font-size="8.5" dy="2.5">2</tspan><tspan dy="-2.5"> (ms)</tspan></text>
</svg></body></html>
